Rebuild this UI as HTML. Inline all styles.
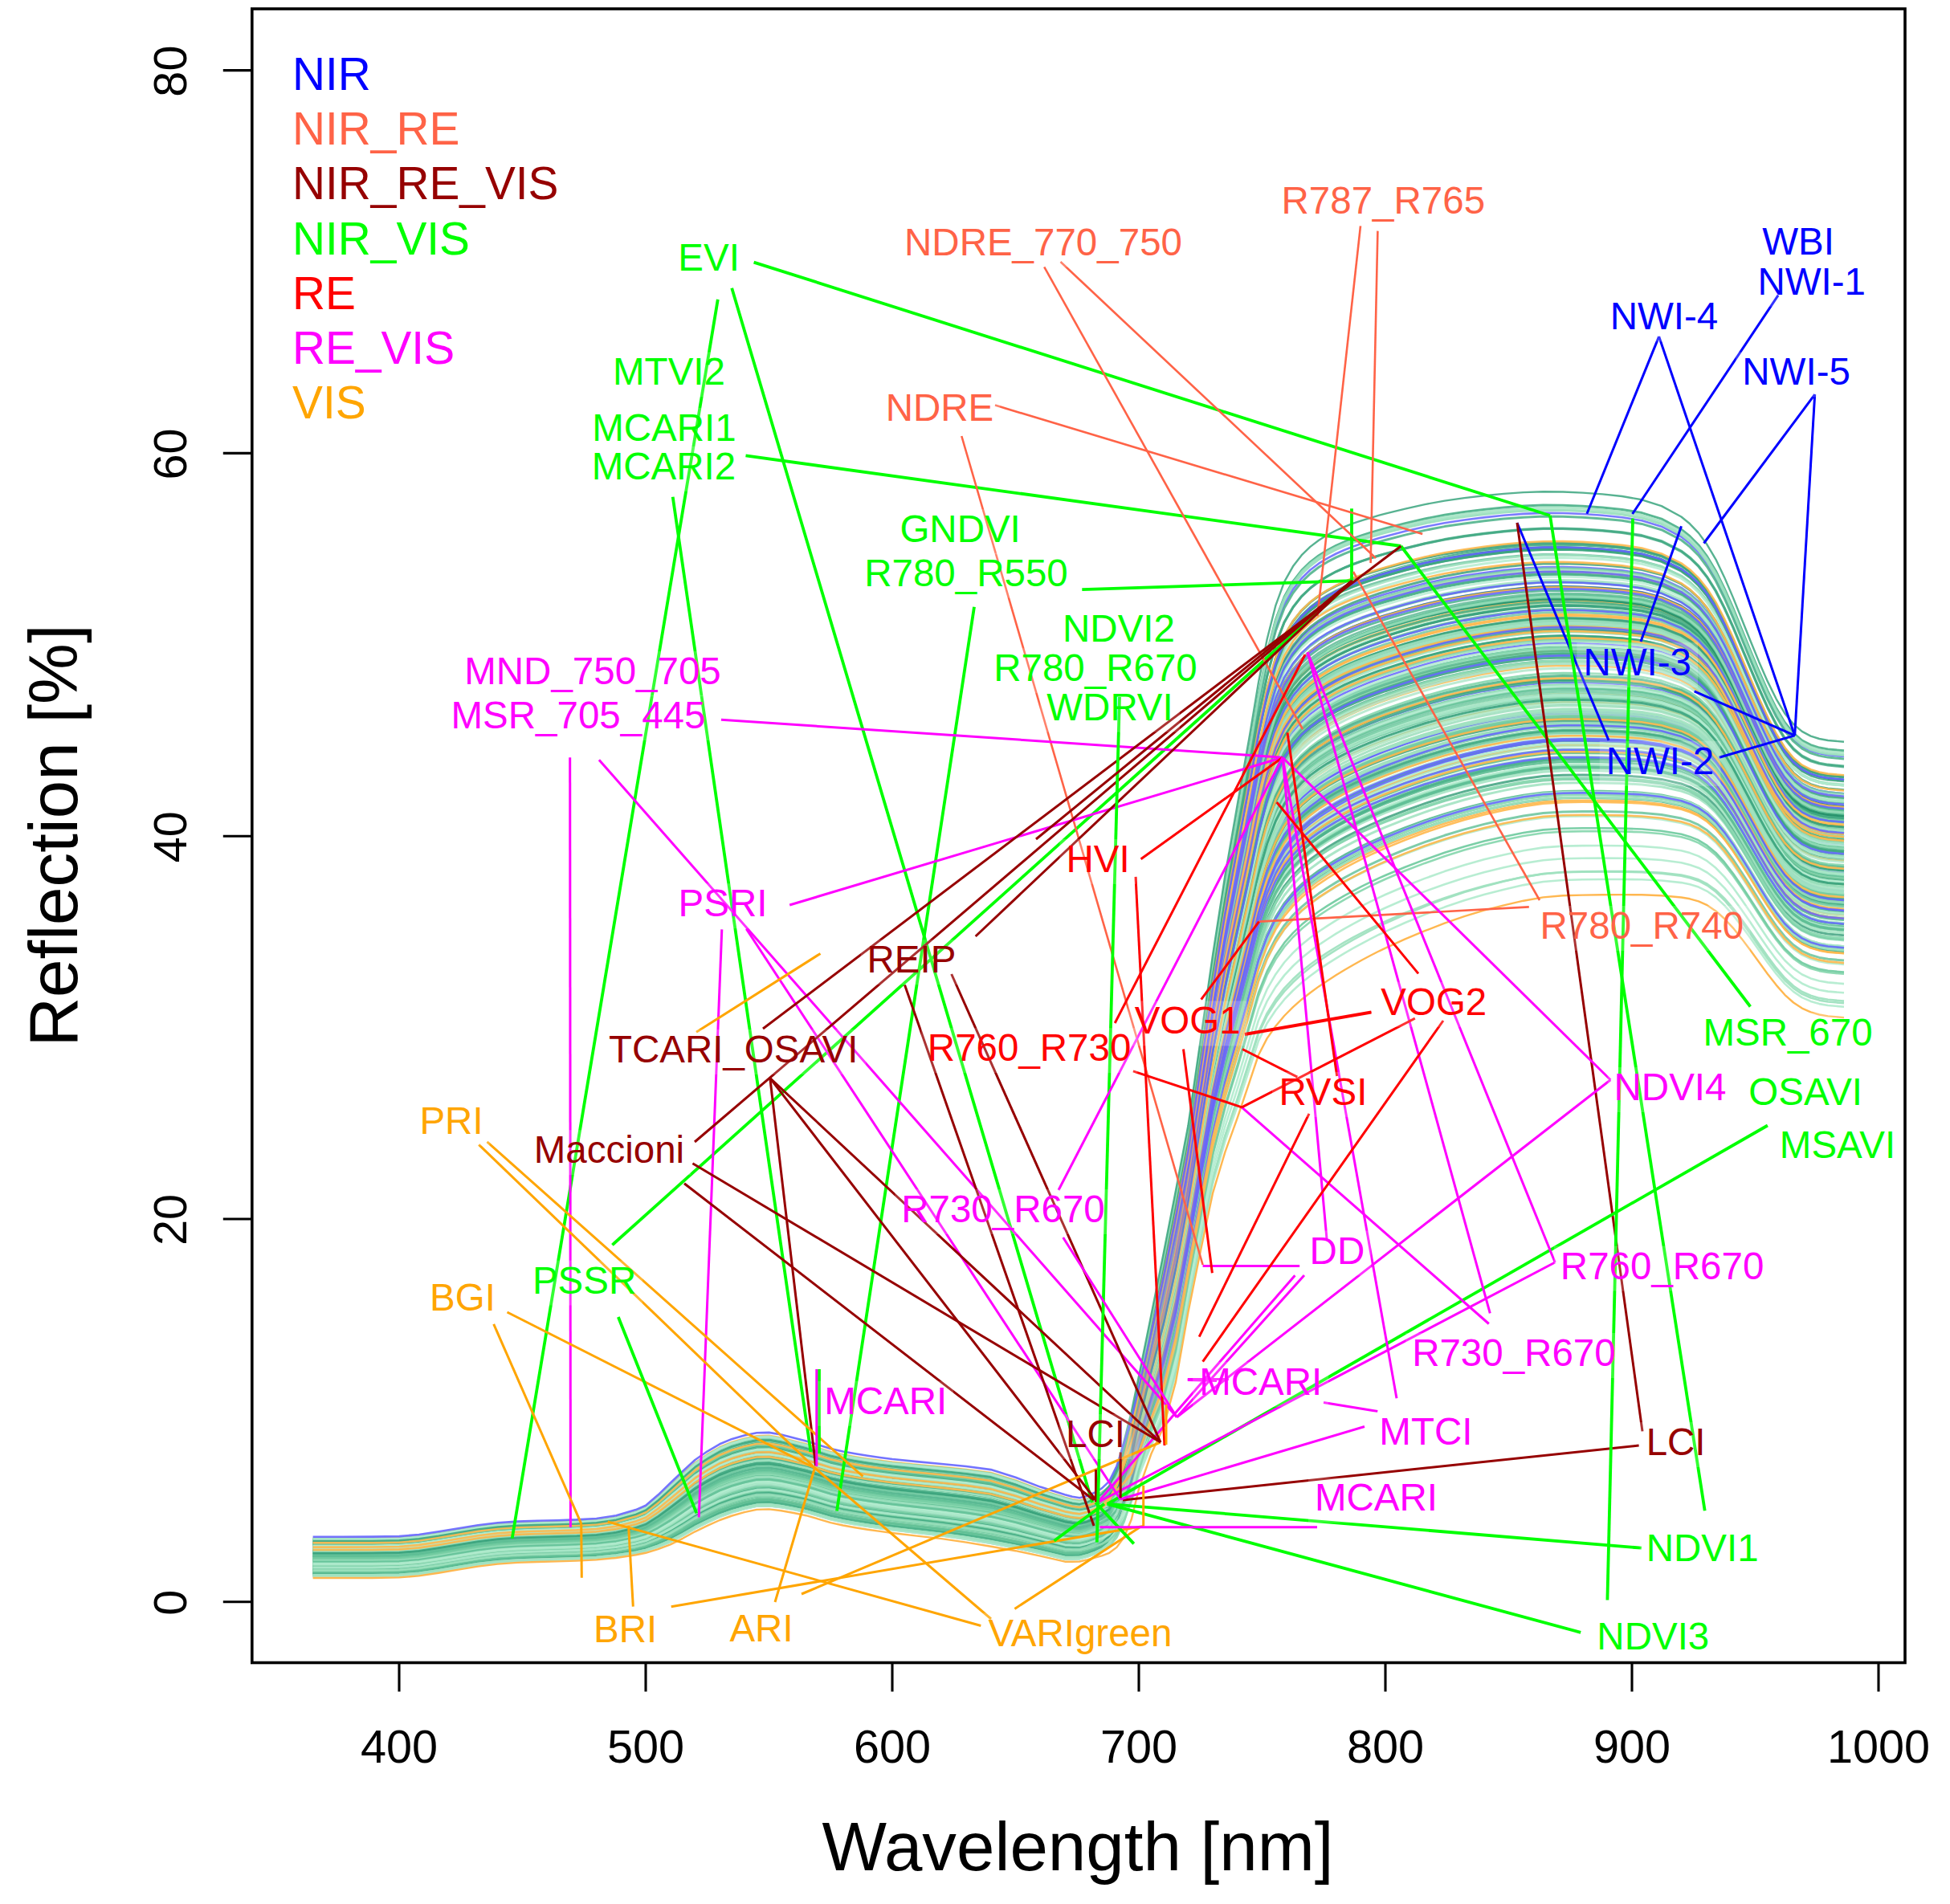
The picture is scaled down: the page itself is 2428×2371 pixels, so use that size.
<!DOCTYPE html>
<html><head><meta charset="utf-8"><title>Spectral indices</title>
<style>html,body{margin:0;padding:0;background:#fff}svg{display:block}</style></head>
<body>
<svg width="2428" height="2371" viewBox="0 0 2428 2371" font-family="&quot;Liberation Sans&quot;, sans-serif">
<rect width="2428" height="2371" fill="#fff"/>
<defs><linearGradient id="gb" gradientUnits="userSpaceOnUse" x1="1390" y1="0" x2="1500" y2="0"><stop offset="0" stop-color="#6464ff" stop-opacity="0"/><stop offset="1" stop-color="#6464ff" stop-opacity="1"/></linearGradient><linearGradient id="go" gradientUnits="userSpaceOnUse" x1="1390" y1="0" x2="1500" y2="0"><stop offset="0" stop-color="#ffb84d" stop-opacity="0"/><stop offset="1" stop-color="#ffb84d" stop-opacity="1"/></linearGradient></defs><g fill="none" stroke-linejoin="round"><path d="M389.6,1959.5l36.8,0 36.8,0 33.8,-0.6 24.6,-2 24.5,-3.7 24.6,-4.1 24.5,-4 24.6,-2.9 24.6,-1.7 24.5,-0.8 24.6,-0.7 24.5,-0.8 24.6,-1.2 24.6,-2.5 24.5,-4.1 12.3,-2.8 15.4,-5.6 15.3,-6.8 15.3,-8.2 15.4,-9.1 15.4,-7.7 15.3,-7.1 15.3,-5.6 15.4,-4.3 15.4,-3.3 15.3,-0.4 15.3,1.8 15.4,3 15.4,3.2 15.3,4.4 15.3,4.5 15.4,3.4 15.3,2.8 15.4,2.4 15.3,2.2 15.4,2.1 30.7,3.5 30.7,3.5 30.7,4.2 30.7,5 30.7,5.9 30.7,7 30.7,7.3 9.2,0.3 9.2,-0.1 9.2,-2.4 9.2,-3.4 9.2,-4.3 9.3,-7.7 9.2,-15.9 9.2,-28.3 9.2,-38 9.2,-48.3 15.4,-66.5 15.3,-58.2 15.3,-68.5 15.4,-83.2 15.4,-92.2 15.3,-90.2 15.3,-76.4 15.4,-67.2 15.3,-67.3 10.8,-49.6 10.7,-38.6 10.8,-29.9 10.7,-21.4 10.8,-15.4 10.7,-11.9 10.8,-9.5 10.7,-7.9 10.8,-6.9 10.7,-6.1 10.7,-5.5 10.8,-5.1 10.7,-4.7 10.8,-4.4 10.7,-4.1 7.7,-2.9 24.6,-8.3 24.5,-7.6 24.6,-6.8 24.5,-5.7 24.6,-5 24.6,-4.2 24.5,-3.5 24.6,-2.4 24.5,-0.9 24.6,0.3 24.6,0.8 24.5,1.3 24.6,2.5 24.5,4.6 24.6,8.2 10.7,5.6 10.8,7.4 10.7,10.2 10.8,13.1 10.7,16.3 10.8,18.9 10.7,20.5 10.8,21 10.7,20.8 10.7,19.9 10.8,18.2 10.7,15.3 10.8,11.6 10.7,8.1 10.8,5.3 10.7,3.2 10.8,1.9 19.9,1.8" stroke="#6464ff" stroke-opacity="0.85" stroke-width="2.6"/>
<path d="M389.6,1937.5l36.8,0 36.8,0 33.8,-0.5 24.6,-2.1 24.5,-3.7 24.6,-4.2 24.5,-4 24.6,-3 24.6,-1.7 24.5,-0.8 24.6,-0.7 24.5,-0.8 24.6,-1.3 24.6,-3.1 24.5,-5.6 12.3,-4 15.4,-9.2 15.3,-10.6 15.3,-11.4 15.4,-11.6 15.4,-9.2 15.3,-8.1 15.3,-6 15.4,-4.4 15.4,-3.3 15.3,-0.4 15.3,2.2 15.4,3.4 15.4,3.7 15.3,4.6 15.3,4.7 15.4,3.5 15.3,2.8 15.4,2.5 15.3,2.3 15.4,2 30.7,3.3 30.7,3.3 30.7,3.7 30.7,4.6 30.7,7.8 30.7,9.3 30.7,8.5 9.2,1.4 9.2,0.8 9.2,-2.2 9.2,-3.2 9.2,-3.7 9.3,-5.5 9.2,-11.4 9.2,-17.6 9.2,-22.6 9.2,-36.1 15.4,-52.1 15.3,-47.3 15.3,-64.1 15.4,-85.3 15.4,-87.4 15.3,-84.7 15.3,-67.8 15.4,-58.9 15.3,-60 10.8,-43.8 10.7,-32.4 10.8,-24.8 10.7,-18.5 10.8,-13.9 10.7,-11.1 10.8,-9.3 10.7,-7.9 10.8,-7.2 10.7,-6.5 10.7,-5.9 10.8,-5.6 10.7,-5.2 10.8,-5 10.7,-4.7 7.7,-3.2 24.6,-9.5 24.5,-8.7 24.6,-7.8 24.5,-6.9 24.6,-6 24.6,-5.1 24.5,-4.3 24.6,-3.1 24.5,-1.4 24.6,-0.1 24.6,0.4 24.5,0.8 24.6,1.6 24.5,3.3 24.6,6.1 10.7,4.3 10.8,5.8 10.7,8.3 10.8,11.1 10.7,14 10.8,16.4 10.7,18 10.8,18.8 10.7,18.8 10.7,18.3 10.8,16.8 10.7,14.3 10.8,11.1 10.7,7.8 10.8,5.1 10.7,3.3 10.8,1.9 19.9,1.8" stroke="#ffb84d" stroke-opacity="0.90" stroke-width="2.6"/>
<path d="M389.6,1949l36.8,0 36.8,-0.1 33.8,-0.5 24.6,-2.1 24.5,-3.6 24.6,-4.1 24.5,-4 24.6,-2.9 24.6,-1.7 24.5,-0.9 24.6,-0.6 24.5,-0.8 24.6,-1.3 24.6,-2.7 24.5,-4.8 12.3,-3.4 15.4,-7.3 15.3,-8.6 15.3,-9.8 15.4,-10.2 15.4,-8.4 15.3,-7.5 15.3,-5.7 15.4,-4.4 15.4,-3.3 15.3,-0.4 15.3,2.1 15.4,3.1 15.4,3.4 15.3,4.5 15.3,4.6 15.4,3.4 15.3,2.7 15.4,2.5 15.3,2.2 15.4,2 30.7,3.4 30.7,3.4 30.7,4 30.7,4.7 30.7,6.8 30.7,8.1 30.7,7.8 9.2,0.9 9.2,0.3 9.2,-2.2 9.2,-3 9.2,-3.4 9.3,-5.2 9.2,-10.5 9.2,-17.5 9.2,-24.3 9.2,-37.8 15.4,-51.1 15.3,-44.2 15.3,-61.8 15.4,-84.5 15.4,-84 15.3,-80.9 15.3,-63.5 15.4,-54.7 15.3,-56.2 10.8,-40.8 10.7,-29.6 10.8,-22.5 10.7,-17 10.8,-13.1 10.7,-10.6 10.8,-9 10.7,-7.8 10.8,-7.1 10.7,-6.5 10.7,-6 10.8,-5.6 10.7,-5.3 10.8,-5.1 10.7,-4.8 7.7,-3.2 24.6,-9.8 24.5,-8.9 24.6,-8.1 24.5,-7.1 24.6,-6.2 24.6,-5.3 24.5,-4.6 24.6,-3.3 24.5,-1.5 24.6,-0.3 24.6,0.3 24.5,0.6 24.6,1.3 24.5,2.8 24.6,5.1 10.7,3.7 10.8,5.3 10.7,7.4 10.8,10.1 10.7,12.9 10.8,15.2 10.7,16.8 10.8,17.6 10.7,17.7 10.7,17.3 10.8,16 10.7,13.7 10.8,10.6 10.7,7.6 10.8,5 10.7,3.1 10.8,2 19.9,1.7" stroke="#6464ff" stroke-opacity="0.85" stroke-width="2.6"/>
<path d="M389.6,1926.9l36.8,0 36.8,0 33.8,-0.5 24.6,-2.1 24.5,-3.7 24.6,-4.1 24.5,-4 24.6,-3 24.6,-1.6 24.5,-0.9 24.6,-0.6 24.5,-0.8 24.6,-1.3 24.6,-3.4 24.5,-6.3 12.3,-4.6 15.4,-10.9 15.3,-12.5 15.3,-12.8 15.4,-12.7 15.4,-9.9 15.3,-8.4 15.3,-6.2 15.4,-4.4 15.4,-3.3 15.3,-0.4 15.3,2.5 15.4,3.6 15.4,3.7 15.3,4.8 15.3,4.7 15.4,3.5 15.3,2.8 15.4,2.5 15.3,2.2 15.4,2 30.7,3.2 30.7,3 30.7,3.4 30.7,4.4 30.7,8.5 30.7,10.5 30.7,9 9.2,1.9 9.2,1.1 9.2,-2.3 9.2,-3.7 9.2,-4.6 9.3,-7.4 9.2,-15.5 9.2,-24 9.2,-27.3 9.2,-38.4 15.4,-61.5 15.3,-59.3 15.3,-69.9 15.4,-82.9 15.4,-95.3 15.3,-93.5 15.3,-80.7 15.4,-71.5 15.3,-71 10.8,-52.6 10.7,-41.6 10.8,-32.3 10.7,-23 10.8,-16.1 10.7,-12.3 10.8,-9.8 10.7,-8 10.8,-6.8 10.7,-6.1 10.7,-5.4 10.8,-4.9 10.7,-4.5 10.8,-4.3 10.7,-3.9 7.7,-2.7 24.6,-8 24.5,-7.3 24.6,-6.4 24.5,-5.4 24.6,-4.5 24.6,-4 24.5,-3.2 24.6,-2.1 24.5,-0.7 24.6,0.4 24.6,1 24.5,1.6 24.6,2.8 24.5,5.2 24.6,9.2 10.7,6.2 10.8,8.1 10.7,11 10.8,14.2 10.7,17.5 10.8,20.1 10.7,21.7 10.8,22.1 10.7,21.9 10.7,20.9 10.8,18.9 10.7,15.9 10.8,12 10.7,8.3 10.8,5.4 10.7,3.2 10.8,2 19.9,1.8" stroke="#6464ff" stroke-opacity="0.85" stroke-width="2.6"/>
<path d="M389.6,1920.2l36.8,0 36.8,0 33.8,-0.5 24.6,-2.1 24.5,-3.7 24.6,-4.1 24.5,-4 24.6,-2.9 24.6,-1.6 24.5,-0.9 24.6,-0.6 24.5,-0.8 24.6,-1.3 24.6,-3.5 24.5,-6.7 12.3,-5.1 15.4,-12 15.3,-13.6 15.3,-13.7 15.4,-13.5 15.4,-10.2 15.3,-8.7 15.3,-6.3 15.4,-4.4 15.4,-3.2 15.3,-0.4 15.3,2.5 15.4,3.8 15.4,3.8 15.3,4.8 15.3,4.7 15.4,3.5 15.3,2.8 15.4,2.5 15.3,2.2 15.4,1.9 30.7,3.2 30.7,2.9 30.7,3.2 30.7,4.2 30.7,9.1 30.7,11.1 30.7,9.3 9.2,2.4 9.2,1.4 9.2,-2 9.2,-3.2 9.2,-3.3 9.3,-4.1 9.2,-8.4 9.2,-10.5 9.2,-11.3 9.2,-26.4 15.4,-41.9 15.3,-40.5 15.3,-60.3 15.4,-84.5 15.4,-83.3 15.3,-80.2 15.3,-62.4 15.4,-53.7 15.3,-55.3 10.8,-40 10.7,-28.9 10.8,-21.8 10.7,-16.7 10.8,-12.8 10.7,-10.6 10.8,-9 10.7,-7.8 10.8,-7.1 10.7,-6.5 10.7,-6.1 10.8,-5.7 10.7,-5.3 10.8,-5.1 10.7,-4.9 7.7,-3.3 24.6,-9.9 24.5,-9.1 24.6,-8.2 24.5,-7.2 24.6,-6.3 24.6,-5.5 24.5,-4.6 24.6,-3.4 24.5,-1.6 24.6,-0.3 24.6,0.2 24.5,0.5 24.6,1.3 24.5,2.6 24.6,4.9 10.7,3.5 10.8,5 10.7,7.3 10.8,9.8 10.7,12.7 10.8,14.8 10.7,16.5 10.8,17.3 10.7,17.5 10.7,17 10.8,15.8 10.7,13.6 10.8,10.6 10.7,7.5 10.8,5 10.7,3.2 10.8,1.9 19.9,1.7" stroke="#ffb84d" stroke-opacity="0.90" stroke-width="2.6"/>
<path d="M389.6,1927.9l36.8,0 36.8,0 33.8,-0.5 24.6,-2.1 24.5,-3.7 24.6,-4.1 24.5,-4 24.6,-3 24.6,-1.6 24.5,-0.9 24.6,-0.6 24.5,-0.8 24.6,-1.4 24.6,-3.3 24.5,-6.2 12.3,-4.6 15.4,-10.7 15.3,-12.4 15.3,-12.6 15.4,-12.6 15.4,-9.8 15.3,-8.4 15.3,-6.2 15.4,-4.4 15.4,-3.3 15.3,-0.4 15.3,2.4 15.4,3.7 15.4,3.7 15.3,4.7 15.3,4.7 15.4,3.5 15.3,2.8 15.4,2.5 15.3,2.2 15.4,2 30.7,3.2 30.7,3.1 30.7,3.5 30.7,4.4 30.7,8.4 30.7,10.4 30.7,8.9 9.2,1.9 9.2,1.1 9.2,-2.2 9.2,-3.4 9.2,-4 9.3,-5.8 9.2,-12.4 9.2,-18.2 9.2,-21.4 9.2,-34.3 15.4,-53.1 15.3,-50.5 15.3,-65.5 15.4,-84.1 15.4,-89.6 15.3,-87.2 15.3,-71.8 15.4,-62.8 15.3,-63.4 10.8,-46.5 10.7,-35.3 10.8,-27.2 10.7,-19.8 10.8,-14.6 10.7,-11.5 10.8,-9.4 10.7,-7.9 10.8,-7 10.7,-6.3 10.7,-5.8 10.8,-5.3 10.7,-5 10.8,-4.7 10.7,-4.4 7.7,-3 24.6,-9 24.5,-8.2 24.6,-7.3 24.5,-6.4 24.6,-5.4 24.6,-4.7 24.5,-4 24.6,-2.8 24.5,-1.1 24.6,0.1 24.6,0.6 24.5,1 24.6,2 24.5,3.9 24.6,7.1 10.7,4.9 10.8,6.6 10.7,9.2 10.8,12 10.7,15.1 10.8,17.5 10.7,19.2 10.8,19.8 10.7,19.7 10.7,19.1 10.8,17.4 10.7,14.8 10.8,11.3 10.7,8 10.8,5.2 10.7,3.2 10.8,1.9 19.9,1.8" stroke="#6464ff" stroke-opacity="0.85" stroke-width="2.6"/>
<path d="M389.6,1919.3l36.8,0 36.8,0 33.8,-0.6 24.6,-2.1 24.5,-3.6 24.6,-4.2 24.5,-4 24.6,-3 24.6,-1.6 24.5,-0.9 24.6,-0.6 24.5,-0.8 24.6,-1.4 24.6,-3.5 24.5,-6.8 12.3,-5.2 15.4,-12.1 15.3,-13.8 15.3,-13.9 15.4,-13.5 15.4,-10.4 15.3,-8.8 15.3,-6.3 15.4,-4.6 15.4,-3.2 15.3,-0.4 15.3,2.6 15.4,3.8 15.4,3.9 15.3,4.8 15.3,4.8 15.4,3.5 15.3,2.8 15.4,2.5 15.3,2.3 15.4,1.9 30.7,3.2 30.7,3 30.7,3.2 30.7,4.3 30.7,9.1 30.7,11.3 30.7,9.4 9.2,2.3 9.2,1.4 9.2,-2.1 9.2,-3.5 9.2,-4.1 9.3,-5.9 9.2,-12.4 9.2,-17.5 9.2,-19 9.2,-32 15.4,-52.4 15.3,-51.3 15.3,-66.3 15.4,-84.2 15.4,-90.9 15.3,-88.6 15.3,-73.5 15.4,-64.5 15.3,-64.9 10.8,-47.6 10.7,-36.5 10.8,-28.1 10.7,-20.5 10.8,-14.9 10.7,-11.6 10.8,-9.5 10.7,-8 10.8,-7 10.7,-6.3 10.7,-5.8 10.8,-5.3 10.7,-4.9 10.8,-4.6 10.7,-4.4 7.7,-3 24.6,-8.9 24.5,-8 24.6,-7.2 24.5,-6.3 24.6,-5.3 24.6,-4.6 24.5,-3.9 24.6,-2.6 24.5,-1.1 24.6,0.1 24.6,0.7 24.5,1.1 24.6,2.1 24.5,4.2 24.6,7.4 10.7,5.1 10.8,7 10.7,9.4 10.8,12.5 10.7,15.5 10.8,18 10.7,19.7 10.8,20.3 10.7,20.1 10.7,19.5 10.8,17.7 10.7,15 10.8,11.5 10.7,8.1 10.8,5.2 10.7,3.3 10.8,1.9 19.9,1.8" stroke="#ffb84d" stroke-opacity="0.90" stroke-width="2.6"/>
<path d="M389.6,1921.3l36.8,0 36.8,0 33.8,-0.6 24.6,-2.1 24.5,-3.6 24.6,-4.2 24.5,-3.9 24.6,-3 24.6,-1.6 24.5,-0.9 24.6,-0.6 24.5,-0.8 24.6,-1.3 24.6,-3.5 24.5,-6.7 12.3,-5 15.4,-11.8 15.3,-13.5 15.3,-13.5 15.4,-13.3 15.4,-10.2 15.3,-8.7 15.3,-6.2 15.4,-4.5 15.4,-3.2 15.3,-0.4 15.3,2.5 15.4,3.8 15.4,3.8 15.3,4.8 15.3,4.7 15.4,3.5 15.3,2.8 15.4,2.5 15.3,2.2 15.4,1.9 30.7,3.2 30.7,3 30.7,3.2 30.7,4.2 30.7,9 30.7,11.1 30.7,9.2 9.2,2.3 9.2,1.3 9.2,-2.1 9.2,-3.4 9.2,-4 9.3,-5.6 9.2,-11.7 9.2,-16.4 9.2,-18.1 9.2,-31.3 15.4,-50.6 15.3,-49.2 15.3,-64.9 15.4,-83.7 15.4,-88.9 15.3,-86.6 15.3,-71.1 15.4,-62.2 15.3,-62.8 10.8,-46 10.7,-35 10.8,-26.8 10.7,-19.7 10.8,-14.4 10.7,-11.4 10.8,-9.3 10.7,-8 10.8,-6.9 10.7,-6.3 10.7,-5.8 10.8,-5.3 10.7,-5 10.8,-4.7 10.7,-4.4 7.7,-3 24.6,-9 24.5,-8.2 24.6,-7.3 24.5,-6.4 24.6,-5.4 24.6,-4.7 24.5,-4 24.6,-2.8 24.5,-1.1 24.6,0 24.6,0.6 24.5,1 24.6,2 24.5,3.8 24.6,7 10.7,4.8 10.8,6.5 10.7,9.1 10.8,11.9 10.7,14.9 10.8,17.4 10.7,18.9 10.8,19.7 10.7,19.5 10.7,18.9 10.8,17.3 10.7,14.7 10.8,11.2 10.7,8 10.8,5.1 10.7,3.2 10.8,1.9 19.9,1.8" stroke="#6464ff" stroke-opacity="0.85" stroke-width="2.6"/>
<path d="M389.6,1954.8l36.8,0 36.8,0 33.8,-0.5 24.6,-2.1 24.5,-3.7 24.6,-4.1 24.5,-4 24.6,-3 24.6,-1.6 24.5,-0.9 24.6,-0.7 24.5,-0.8 24.6,-1.2 24.6,-2.6 24.5,-4.4 12.3,-3.1 15.4,-6.4 15.3,-7.6 15.3,-8.9 15.4,-9.6 15.4,-8.1 15.3,-7.3 15.3,-5.7 15.4,-4.4 15.4,-3.2 15.3,-0.5 15.3,2 15.4,3 15.4,3.3 15.3,4.5 15.3,4.6 15.4,3.4 15.3,2.8 15.4,2.4 15.3,2.3 15.4,2 30.7,3.5 30.7,3.4 30.7,4.2 30.7,4.9 30.7,6.4 30.7,7.4 30.7,7.6 9.2,0.5 9.2,0.1 9.2,-2.3 9.2,-3.1 9.2,-3.8 9.3,-6.2 9.2,-12.8 9.2,-22.2 9.2,-30.5 9.2,-42.9 15.4,-57.8 15.3,-50.1 15.3,-64.8 15.4,-84.5 15.4,-87.7 15.3,-84.9 15.3,-68.8 15.4,-59.9 15.3,-60.7 10.8,-44.4 10.7,-33.2 10.8,-25.5 10.7,-18.8 10.8,-14 10.7,-11.2 10.8,-9.2 10.7,-7.9 10.8,-7.1 10.7,-6.4 10.7,-5.8 10.8,-5.5 10.7,-5.1 10.8,-4.8 10.7,-4.6 7.7,-3.1 24.6,-9.3 24.5,-8.5 24.6,-7.6 24.5,-6.6 24.6,-5.8 24.6,-4.9 24.5,-4.2 24.6,-3 24.5,-1.2 24.6,-0.1 24.6,0.4 24.5,0.9 24.6,1.8 24.5,3.5 24.6,6.3 10.7,4.5 10.8,6.1 10.7,8.5 10.8,11.3 10.7,14.3 10.8,16.7 10.7,18.3 10.8,19 10.7,19 10.7,18.4 10.8,16.9 10.7,14.4 10.8,11.1 10.7,7.8 10.8,5.1 10.7,3.2 10.8,2 19.9,1.7" stroke="#ffb84d" stroke-opacity="0.90" stroke-width="2.6"/>
<path d="M389.6,1931.6l36.8,0 36.8,0 33.8,-0.6 24.6,-2.1 24.5,-3.7 24.6,-4.2 24.5,-4 24.6,-3 24.6,-1.6 24.5,-0.9 24.6,-0.6 24.5,-0.8 24.6,-1.4 24.6,-3.2 24.5,-6 12.3,-4.4 15.4,-10.1 15.3,-11.7 15.3,-12.2 15.4,-12.2 15.4,-9.6 15.3,-8.3 15.3,-6.1 15.4,-4.5 15.4,-3.3 15.3,-0.4 15.3,2.4 15.4,3.5 15.4,3.7 15.3,4.8 15.3,4.7 15.4,3.5 15.3,2.8 15.4,2.5 15.3,2.2 15.4,2 30.7,3.3 30.7,3.2 30.7,3.6 30.7,4.4 30.7,8.2 30.7,10 30.7,8.8 9.2,1.7 9.2,0.9 9.2,-2.1 9.2,-3.5 9.2,-4 9.3,-6.1 9.2,-12.7 9.2,-19.4 9.2,-23.3 9.2,-36.1 15.4,-54.8 15.3,-51.4 15.3,-66.1 15.4,-84.7 15.4,-90.3 15.3,-87.8 15.3,-72.5 15.4,-63.3 15.3,-63.9 10.8,-46.9 10.7,-35.7 10.8,-27.5 10.7,-20 10.8,-14.7 10.7,-11.6 10.8,-9.4 10.7,-8 10.8,-7.1 10.7,-6.3 10.7,-5.8 10.8,-5.4 10.7,-5 10.8,-4.7 10.7,-4.4 7.7,-3 24.6,-9.1 24.5,-8.2 24.6,-7.3 24.5,-6.4 24.6,-5.5 24.6,-4.7 24.5,-4 24.6,-2.7 24.5,-1.2 24.6,0.1 24.6,0.6 24.5,1.1 24.6,2 24.5,4 24.6,7.1 10.7,5 10.8,6.7 10.7,9.2 10.8,12.2 10.7,15.2 10.8,17.7 10.7,19.3 10.8,20 10.7,19.9 10.7,19.2 10.8,17.6 10.7,14.9 10.8,11.4 10.7,8 10.8,5.2 10.7,3.3 10.8,1.9 19.9,1.8" stroke="#6464ff" stroke-opacity="0.85" stroke-width="2.6"/>
<path d="M389.6,1936.3l36.8,0 36.8,0 33.8,-0.6 24.6,-2.1 24.5,-3.6 24.6,-4.2 24.5,-4 24.6,-2.9 24.6,-1.7 24.5,-0.8 24.6,-0.7 24.5,-0.7 24.6,-1.4 24.6,-3.1 24.5,-5.6 12.3,-4.1 15.4,-9.4 15.3,-10.9 15.3,-11.5 15.4,-11.6 15.4,-9.3 15.3,-8.1 15.3,-5.9 15.4,-4.5 15.4,-3.2 15.3,-0.4 15.3,2.3 15.4,3.4 15.4,3.6 15.3,4.6 15.3,4.7 15.4,3.4 15.3,2.8 15.4,2.5 15.3,2.2 15.4,2 30.7,3.4 30.7,3.1 30.7,3.7 30.7,4.5 30.7,7.8 30.7,9.5 30.7,8.5 9.2,1.4 9.2,0.8 9.2,-2.3 9.2,-3.6 9.2,-4.4 9.3,-7.3 9.2,-15.2 9.2,-24.5 9.2,-29.6 9.2,-40.7 15.4,-61.8 15.3,-57.9 15.3,-69 15.4,-83.2 15.4,-93.7 15.3,-91.8 15.3,-78.4 15.4,-69.1 15.3,-69 10.8,-51 10.7,-40 10.8,-30.9 10.7,-22.1 10.8,-15.8 10.7,-12 10.8,-9.7 10.7,-8 10.8,-6.8 10.7,-6.2 10.7,-5.5 10.8,-5 10.7,-4.6 10.8,-4.4 10.7,-4 7.7,-2.8 24.6,-8.3 24.5,-7.5 24.6,-6.6 24.5,-5.6 24.6,-4.8 24.6,-4.1 24.5,-3.4 24.6,-2.3 24.5,-0.8 24.6,0.3 24.6,0.9 24.5,1.4 24.6,2.6 24.5,4.9 24.6,8.6 10.7,5.9 10.8,7.8 10.7,10.5 10.8,13.6 10.7,16.8 10.8,19.4 10.7,21 10.8,21.6 10.7,21.3 10.7,20.4 10.8,18.5 10.7,15.6 10.8,11.8 10.7,8.3 10.8,5.2 10.7,3.3 10.8,1.9 19.9,1.8" stroke="#6464ff" stroke-opacity="0.85" stroke-width="2.6"/>
<path d="M389.6,1952l36.8,0 36.8,0 33.8,-0.6 24.6,-2.1 24.5,-3.7 24.6,-4.1 24.5,-4 24.6,-3 24.6,-1.7 24.5,-0.9 24.6,-0.6 24.5,-0.8 24.6,-1.3 24.6,-2.7 24.5,-4.6 12.3,-3.2 15.4,-6.8 15.3,-8.2 15.3,-9.3 15.4,-10 15.4,-8.2 15.3,-7.5 15.3,-5.7 15.4,-4.5 15.4,-3.2 15.3,-0.5 15.3,2 15.4,3.1 15.4,3.4 15.3,4.6 15.3,4.6 15.4,3.4 15.3,2.8 15.4,2.5 15.3,2.2 15.4,2.1 30.7,3.5 30.7,3.4 30.7,4.1 30.7,4.9 30.7,6.6 30.7,7.8 30.7,7.7 9.2,0.6 9.2,0.2 9.2,-2.4 9.2,-3.5 9.2,-4.5 9.3,-7.7 9.2,-16.1 9.2,-27.7 9.2,-36.2 9.2,-46.8 15.4,-66.2 15.3,-59.3 15.3,-69.7 15.4,-83.9 15.4,-94 15.3,-92 15.3,-78.3 15.4,-69.1 15.3,-69 10.8,-50.9 10.7,-39.8 10.8,-30.8 10.7,-22.1 10.8,-15.7 10.7,-12.1 10.8,-9.7 10.7,-8.1 10.8,-6.9 10.7,-6.2 10.7,-5.5 10.8,-5.1 10.7,-4.7 10.8,-4.4 10.7,-4.1 7.7,-2.8 24.6,-8.4 24.5,-7.6 24.6,-6.7 24.5,-5.7 24.6,-4.9 24.6,-4.2 24.5,-3.5 24.6,-2.3 24.5,-0.9 24.6,0.3 24.6,0.9 24.5,1.4 24.6,2.6 24.5,4.8 24.6,8.6 10.7,5.8 10.8,7.7 10.7,10.4 10.8,13.6 10.7,16.8 10.8,19.4 10.7,21 10.8,21.5 10.7,21.3 10.7,20.4 10.8,18.6 10.7,15.6 10.8,11.8 10.7,8.3 10.8,5.3 10.7,3.3 10.8,2 19.9,1.7" stroke="#ffb84d" stroke-opacity="0.90" stroke-width="2.6"/>
<path d="M389.6,1941.4l36.8,0 36.8,-0.1 33.8,-0.5 24.6,-2.1 24.5,-3.7 24.6,-4.1 24.5,-4 24.6,-3 24.6,-1.6 24.5,-0.9 24.6,-0.6 24.5,-0.8 24.6,-1.3 24.6,-3 24.5,-5.3 12.3,-3.8 15.4,-8.6 15.3,-9.9 15.3,-10.8 15.4,-11.1 15.4,-9 15.3,-7.8 15.3,-5.9 15.4,-4.5 15.4,-3.2 15.3,-0.4 15.3,2.2 15.4,3.3 15.4,3.5 15.3,4.6 15.3,4.6 15.4,3.5 15.3,2.8 15.4,2.5 15.3,2.2 15.4,2 30.7,3.4 30.7,3.2 30.7,3.8 30.7,4.7 30.7,7.4 30.7,8.9 30.7,8.2 9.2,1.2 9.2,0.6 9.2,-2.3 9.2,-3.3 9.2,-4.2 9.3,-6.6 9.2,-13.9 9.2,-22.5 9.2,-28.4 9.2,-40.3 15.4,-58.9 15.3,-53.7 15.3,-66.9 15.4,-83.9 15.4,-90.8 15.3,-88.5 15.3,-73.8 15.4,-64.7 15.3,-65.1 10.8,-47.8 10.7,-36.7 10.8,-28.3 10.7,-20.6 10.8,-14.9 10.7,-11.6 10.8,-9.5 10.7,-8 10.8,-6.9 10.7,-6.3 10.7,-5.6 10.8,-5.3 10.7,-4.8 10.8,-4.6 10.7,-4.3 7.7,-3 24.6,-8.8 24.5,-7.9 24.6,-7.1 24.5,-6.1 24.6,-5.3 24.6,-4.5 24.5,-3.8 24.6,-2.6 24.5,-1 24.6,0.1 24.6,0.7 24.5,1.2 24.6,2.1 24.5,4.2 24.6,7.6 10.7,5.2 10.8,6.9 10.7,9.6 10.8,12.5 10.7,15.6 10.8,18.1 10.7,19.7 10.8,20.4 10.7,20.2 10.7,19.4 10.8,17.7 10.7,15.1 10.8,11.4 10.7,8.1 10.8,5.2 10.7,3.2 10.8,2 19.9,1.7" stroke="#ffb84d" stroke-opacity="0.90" stroke-width="2.6"/>
<path d="M389.6,1941.6l36.8,0 36.8,0 33.8,-0.5 24.6,-2.1 24.5,-3.7 24.6,-4.1 24.5,-4.1 24.6,-2.9 24.6,-1.7 24.5,-0.8 24.6,-0.7 24.5,-0.8 24.6,-1.3 24.6,-2.9 24.5,-5.3 12.3,-3.9 15.4,-8.5 15.3,-9.9 15.3,-10.7 15.4,-11.1 15.4,-8.9 15.3,-7.9 15.3,-5.9 15.4,-4.4 15.4,-3.3 15.3,-0.4 15.3,2.2 15.4,3.3 15.4,3.5 15.3,4.6 15.3,4.7 15.4,3.4 15.3,2.8 15.4,2.5 15.3,2.2 15.4,2 30.7,3.4 30.7,3.3 30.7,3.8 30.7,4.6 30.7,7.4 30.7,8.9 30.7,8.3 9.2,1.2 9.2,0.5 9.2,-2.2 9.2,-3.3 9.2,-4 9.3,-6.4 9.2,-13.1 9.2,-21.4 9.2,-27.2 9.2,-39.4 15.4,-57.2 15.3,-51.9 15.3,-66 15.4,-84.2 15.4,-89.6 15.3,-87.3 15.3,-71.9 15.4,-62.9 15.3,-63.4 10.8,-46.5 10.7,-35.5 10.8,-27.2 10.7,-19.9 10.8,-14.5 10.7,-11.5 10.8,-9.4 10.7,-7.9 10.8,-7 10.7,-6.4 10.7,-5.7 10.8,-5.3 10.7,-5 10.8,-4.7 10.7,-4.4 7.7,-3 24.6,-9 24.5,-8.2 24.6,-7.3 24.5,-6.4 24.6,-5.4 24.6,-4.7 24.5,-4 24.6,-2.7 24.5,-1.1 24.6,0 24.6,0.6 24.5,1.1 24.6,2 24.5,3.9 24.6,7.1 10.7,4.9 10.8,6.6 10.7,9.2 10.8,12.1 10.7,15.1 10.8,17.6 10.7,19.1 10.8,19.9 10.7,19.7 10.7,19.1 10.8,17.4 10.7,14.8 10.8,11.3 10.7,8 10.8,5.2 10.7,3.2 10.8,2 19.9,1.7" stroke="#ffb84d" stroke-opacity="0.90" stroke-width="2.6"/>
<path d="M389.6,1940l36.8,0 36.8,0 33.8,-0.6 24.6,-2.1 24.5,-3.6 24.6,-4.1 24.5,-4 24.6,-3 24.6,-1.6 24.5,-0.9 24.6,-0.6 24.5,-0.8 24.6,-1.3 24.6,-3 24.5,-5.4 12.3,-3.9 15.4,-8.8 15.3,-10.2 15.3,-11 15.4,-11.3 15.4,-9 15.3,-7.9 15.3,-5.9 15.4,-4.4 15.4,-3.2 15.3,-0.5 15.3,2.3 15.4,3.3 15.4,3.5 15.3,4.7 15.3,4.6 15.4,3.4 15.3,2.8 15.4,2.5 15.3,2.2 15.4,2 30.7,3.3 30.7,3.3 30.7,3.7 30.7,4.6 30.7,7.5 30.7,9.1 30.7,8.3 9.2,1.2 9.2,0.5 9.2,-2.6 9.2,-4 9.2,-5.8 9.3,-10.3 9.2,-22.1 9.2,-37 9.2,-43.9 9.2,-51 15.4,-80 15.3,-75.9 15.3,-78.1 15.4,-81 15.4,-105 15.3,-104.4 15.3,-96.3 15.4,-86.3 15.3,-84.2 10.8,-63.2 10.7,-52.4 10.8,-41.1 10.7,-28.3 10.8,-18.9 10.7,-13.7 10.8,-10.4 10.7,-8.1 10.8,-6.6 10.7,-5.6 10.7,-4.8 10.8,-4.2 10.7,-3.8 10.8,-3.4 10.7,-3.2 7.7,-2.1 24.6,-6.4 24.5,-5.6 24.6,-4.8 24.5,-3.7 24.6,-3.1 24.6,-2.6 24.5,-1.9 24.6,-1 24.5,0.1 24.6,1 24.6,1.7 24.5,2.5 24.6,4.1 24.5,7.4 24.6,12.8 10.7,8.5 10.8,10.9 10.7,14.1 10.8,17.8 10.7,21.6 10.8,24.5 10.7,26.1 10.8,26.2 10.7,25.6 10.7,24 10.8,21.5 10.7,17.8 10.8,13.2 10.7,9 10.8,5.6 10.7,3.3 10.8,2 19.9,1.8" stroke="#6464ff" stroke-opacity="0.85" stroke-width="2.6"/>
<path d="M389.6,1933.6l36.8,0 36.8,0 33.8,-0.5 24.6,-2.1 24.5,-3.7 24.6,-4.1 24.5,-4 24.6,-2.9 24.6,-1.6 24.5,-0.9 24.6,-0.6 24.5,-0.8 24.6,-1.3 24.6,-3.2 24.5,-5.8 12.3,-4.3 15.4,-9.8 15.3,-11.3 15.3,-11.9 15.4,-11.9 15.4,-9.4 15.3,-8.2 15.3,-6 15.4,-4.4 15.4,-3.2 15.3,-0.4 15.3,2.3 15.4,3.5 15.4,3.6 15.3,4.7 15.3,4.6 15.4,3.4 15.3,2.8 15.4,2.5 15.3,2.2 15.4,2 30.7,3.3 30.7,3.1 30.7,3.6 30.7,4.4 30.7,8 30.7,9.8 30.7,8.5 9.2,1.6 9.2,0.8 9.2,-2.4 9.2,-4 9.2,-5.3 9.3,-9.1 9.2,-19.3 9.2,-31.6 9.2,-36.7 9.2,-45.4 15.4,-72.1 15.3,-69.2 15.3,-74.6 15.4,-81.4 15.4,-100.9 15.3,-99.9 15.3,-89.9 15.4,-80.3 15.3,-78.9 10.8,-58.9 10.7,-48 10.8,-37.6 10.7,-26.1 10.8,-17.8 10.7,-13.1 10.8,-10.1 10.7,-8.1 10.8,-6.7 10.7,-5.7 10.7,-5 10.8,-4.5 10.7,-4.1 10.8,-3.7 10.7,-3.4 7.7,-2.4 24.6,-6.9 24.5,-6.3 24.6,-5.4 24.5,-4.3 24.6,-3.7 24.6,-3.1 24.5,-2.4 24.6,-1.4 24.5,-0.2 24.6,0.7 24.6,1.5 24.5,2.1 24.6,3.6 24.5,6.5 24.6,11.4 10.7,7.6 10.8,9.8 10.7,12.9 10.8,16.3 10.7,19.9 10.8,22.7 10.7,24.3 10.8,24.6 10.7,24.1 10.7,22.7 10.8,20.4 10.7,17 10.8,12.7 10.7,8.8 10.8,5.4 10.7,3.3 10.8,2 19.9,1.8" stroke="#6464ff" stroke-opacity="0.85" stroke-width="2.6"/>
<path d="M389.6,1924.9l36.8,0 36.8,0 33.8,-0.5 24.6,-2.1 24.5,-3.7 24.6,-4.1 24.5,-4 24.6,-3 24.6,-1.6 24.5,-0.9 24.6,-0.6 24.5,-0.8 24.6,-1.3 24.6,-3.4 24.5,-6.4 12.3,-4.8 15.4,-11.2 15.3,-12.9 15.3,-13 15.4,-13 15.4,-10 15.3,-8.5 15.3,-6.2 15.4,-4.4 15.4,-3.3 15.3,-0.3 15.3,2.4 15.4,3.7 15.4,3.8 15.3,4.7 15.3,4.7 15.4,3.5 15.3,2.8 15.4,2.5 15.3,2.2 15.4,2 30.7,3.2 30.7,3 30.7,3.4 30.7,4.3 30.7,8.7 30.7,10.7 30.7,9 9.2,2.1 9.2,1.1 9.2,-2.2 9.2,-3.7 9.2,-4.5 9.3,-7.2 9.2,-15 9.2,-22.9 9.2,-25.8 9.2,-37.1 15.4,-59.9 15.3,-58.1 15.3,-69.4 15.4,-83 15.4,-94.6 15.3,-92.8 15.3,-79.7 15.4,-70.5 15.3,-70.2 10.8,-51.9 10.7,-40.9 10.8,-31.7 10.7,-22.6 10.8,-16 10.7,-12.2 10.8,-9.7 10.7,-8 10.8,-6.9 10.7,-6.1 10.7,-5.4 10.8,-4.9 10.7,-4.6 10.8,-4.3 10.7,-4 7.7,-2.7 24.6,-8.2 24.5,-7.3 24.6,-6.5 24.5,-5.5 24.6,-4.7 24.6,-4 24.5,-3.3 24.6,-2.2 24.5,-0.7 24.6,0.4 24.6,0.9 24.5,1.5 24.6,2.7 24.5,5.1 24.6,9 10.7,6 10.8,8 10.7,10.8 10.8,13.9 10.7,17.2 10.8,19.8 10.7,21.4 10.8,21.9 10.7,21.7 10.7,20.6 10.8,18.8 10.7,15.7 10.8,12 10.7,8.3 10.8,5.3 10.7,3.3 10.8,1.9 19.9,1.8" stroke="#6464ff" stroke-opacity="0.85" stroke-width="2.6"/>
<path d="M389.6,1926.8l36.8,0 36.8,0 33.8,-0.5 24.6,-2.1 24.5,-3.6 24.6,-4.1 24.5,-4 24.6,-2.9 24.6,-1.6 24.5,-0.8 24.6,-0.7 24.5,-0.7 24.6,-1.4 24.6,-3.3 24.5,-6.3 12.3,-4.7 15.4,-10.9 15.3,-12.4 15.3,-12.8 15.4,-12.7 15.4,-9.8 15.3,-8.4 15.3,-6.1 15.4,-4.4 15.4,-3.2 15.3,-0.4 15.3,2.5 15.4,3.6 15.4,3.7 15.3,4.7 15.3,4.6 15.4,3.5 15.3,2.8 15.4,2.4 15.3,2.2 15.4,2 30.7,3.1 30.7,3 30.7,3.4 30.7,4.3 30.7,8.5 30.7,10.5 30.7,8.8 9.2,2 9.2,1 9.2,-2.3 9.2,-3.8 9.2,-5 9.3,-8.3 9.2,-17.5 9.2,-27.5 9.2,-30.9 9.2,-40.7 15.4,-66.2 15.3,-64.6 15.3,-72.1 15.4,-81.3 15.4,-98 15.3,-96.8 15.3,-85.8 15.4,-76.5 15.3,-75.3 10.8,-56.1 10.7,-45.3 10.8,-35.3 10.7,-24.8 10.8,-17.1 10.7,-12.7 10.8,-9.9 10.7,-7.9 10.8,-6.7 10.7,-5.9 10.7,-5.1 10.8,-4.6 10.7,-4.2 10.8,-3.9 10.7,-3.6 7.7,-2.4 24.6,-7.3 24.5,-6.6 24.6,-5.7 24.5,-4.7 24.6,-3.9 24.6,-3.4 24.5,-2.7 24.6,-1.7 24.5,-0.4 24.6,0.7 24.6,1.2 24.5,1.9 24.6,3.3 24.5,6 24.6,10.5 10.7,7 10.8,9.1 10.7,12.1 10.8,15.4 10.7,18.9 10.8,21.6 10.7,23.1 10.8,23.5 10.7,23.1 10.7,21.9 10.8,19.7 10.7,16.4 10.8,12.4 10.7,8.5 10.8,5.3 10.7,3.3 10.8,2 19.9,1.7" stroke="#ffb84d" stroke-opacity="0.90" stroke-width="2.6"/>
<path d="M389.6,1961.9l36.8,0 36.8,0 33.8,-0.6 24.6,-2 24.5,-3.7 24.6,-4.1 24.5,-3.9 24.6,-3 24.6,-1.6 24.5,-0.9 24.6,-0.6 24.5,-0.8 24.6,-1.3 24.6,-2.3 24.5,-3.9 12.3,-2.7 15.4,-5.2 15.3,-6.4 15.3,-7.9 15.4,-8.8 15.4,-7.6 15.3,-6.9 15.3,-5.5 15.4,-4.3 15.4,-3.3 15.3,-0.5 15.3,1.9 15.4,2.8 15.4,3.2 15.3,4.4 15.3,4.5 15.4,3.4 15.3,2.7 15.4,2.4 15.3,2.2 15.4,2.1 30.7,3.5 30.7,3.5 30.7,4.3 30.7,5 30.7,5.8 30.7,6.6 30.7,7.3 9.2,0.1 9.2,-0.2 9.2,-2.4 9.2,-3.2 9.2,-4.1 9.3,-7.1 9.2,-14.8 9.2,-26.5 9.2,-36.5 9.2,-47.3 15.4,-63.8 15.3,-54.9 15.3,-66.7 15.4,-83.3 15.4,-89.8 15.3,-87.5 15.3,-72.9 15.4,-63.8 15.3,-64.2 10.8,-47.2 10.7,-36.1 10.8,-27.9 10.7,-20.3 10.8,-14.7 10.7,-11.5 10.8,-9.4 10.7,-7.8 10.8,-6.9 10.7,-6.2 10.7,-5.7 10.8,-5.2 10.7,-4.8 10.8,-4.5 10.7,-4.3 7.7,-3 24.6,-8.7 24.5,-7.9 24.6,-7 24.5,-6.1 24.6,-5.3 24.6,-4.5 24.5,-3.8 24.6,-2.6 24.5,-1 24.6,0.1 24.6,0.7 24.5,1.1 24.6,2.2 24.5,4.1 24.6,7.4 10.7,5.1 10.8,6.9 10.7,9.4 10.8,12.3 10.7,15.4 10.8,17.8 10.7,19.5 10.8,20 10.7,20 10.7,19.2 10.8,17.5 10.7,14.9 10.8,11.3 10.7,8 10.8,5.1 10.7,3.2 10.8,2 19.9,1.7" stroke="#6464ff" stroke-opacity="0.85" stroke-width="2.6"/>
<path d="M389.6,1915.8l36.8,0 36.8,0 33.8,-0.6 24.6,-2 24.5,-3.7 24.6,-4.1 24.5,-4 24.6,-3 24.6,-1.6 24.5,-0.8 24.6,-0.7 24.5,-0.8 24.6,-1.3 24.6,-3.7 24.5,-7 12.3,-5.3 15.4,-12.7 15.3,-14.4 15.3,-14.3 15.4,-14 15.4,-10.6 15.3,-8.9 15.3,-6.3 15.4,-4.5 15.4,-3.2 15.3,-0.4 15.3,2.7 15.4,3.8 15.4,3.9 15.3,4.9 15.3,4.7 15.4,3.5 15.3,2.8 15.4,2.5 15.3,2.2 15.4,2 30.7,3.1 30.7,2.9 30.7,3.1 30.7,4.1 30.7,9.4 30.7,11.7 30.7,9.5 9.2,2.5 9.2,1.5 9.2,-2.1 9.2,-3.7 9.2,-4.5 9.3,-6.5 9.2,-14 9.2,-19.9 9.2,-20.8 9.2,-32.8 15.4,-55.9 15.3,-55.6 15.3,-68.3 15.4,-83 15.4,-93.5 15.3,-91.6 15.3,-78.3 15.4,-68.9 15.3,-68.9 10.8,-50.8 10.7,-39.8 10.8,-30.9 10.7,-22.1 10.8,-15.7 10.7,-12 10.8,-9.6 10.7,-8 10.8,-6.9 10.7,-6.1 10.7,-5.5 10.8,-5 10.7,-4.7 10.8,-4.3 10.7,-4.1 7.7,-2.8 24.6,-8.3 24.5,-7.5 24.6,-6.6 24.5,-5.6 24.6,-4.8 24.6,-4.2 24.5,-3.4 24.6,-2.3 24.5,-0.8 24.6,0.3 24.6,0.9 24.5,1.5 24.6,2.5 24.5,4.9 24.6,8.6 10.7,5.8 10.8,7.8 10.7,10.4 10.8,13.6 10.7,16.8 10.8,19.3 10.7,21 10.8,21.5 10.7,21.3 10.7,20.3 10.8,18.5 10.7,15.5 10.8,11.9 10.7,8.2 10.8,5.3 10.7,3.2 10.8,2 19.9,1.7" stroke="#ffb84d" stroke-opacity="0.90" stroke-width="2.6"/>
<path d="M389.6,1943.2l36.8,0 36.8,0 33.8,-0.5 24.6,-2.1 24.5,-3.7 24.6,-4.1 24.5,-4 24.6,-3 24.6,-1.6 24.5,-0.9 24.6,-0.6 24.5,-0.8 24.6,-1.3 24.6,-2.9 24.5,-5.2 12.3,-3.8 15.4,-8.2 15.3,-9.6 15.3,-10.6 15.4,-10.9 15.4,-8.8 15.3,-7.8 15.3,-5.8 15.4,-4.5 15.4,-3.2 15.3,-0.4 15.3,2.1 15.4,3.3 15.4,3.5 15.3,4.6 15.3,4.6 15.4,3.5 15.3,2.7 15.4,2.5 15.3,2.2 15.4,2.1 30.7,3.3 30.7,3.3 30.7,3.9 30.7,4.6 30.7,7.3 30.7,8.7 30.7,8.1 9.2,1.1 9.2,0.4 9.2,-2.4 9.2,-3.8 9.2,-5.1 9.3,-9 9.2,-19 9.2,-32 9.2,-39.1 9.2,-47.9 15.4,-72.6 15.3,-67.6 15.3,-73.8 15.4,-82.2 15.4,-99.6 15.3,-98.3 15.3,-87.5 15.4,-78 15.3,-76.8 10.8,-57.2 10.7,-46.3 10.8,-36.1 10.7,-25.3 10.8,-17.4 10.7,-12.9 10.8,-10 10.7,-8.1 10.8,-6.8 10.7,-5.8 10.7,-5.2 10.8,-4.6 10.7,-4.2 10.8,-3.9 10.7,-3.6 7.7,-2.5 24.6,-7.2 24.5,-6.6 24.6,-5.7 24.5,-4.6 24.6,-4 24.6,-3.3 24.5,-2.7 24.6,-1.6 24.5,-0.4 24.6,0.7 24.6,1.3 24.5,2 24.6,3.3 24.5,6.2 24.6,10.8 10.7,7.2 10.8,9.3 10.7,12.4 10.8,15.7 10.7,19.3 10.8,22 10.7,23.6 10.8,24 10.7,23.5 10.7,22.2 10.8,20.1 10.7,16.7 10.8,12.5 10.7,8.7 10.8,5.4 10.7,3.3 10.8,2 19.9,1.8" stroke="#6464ff" stroke-opacity="0.85" stroke-width="2.6"/>
<path d="M389.6,1935.4l36.8,0 36.8,0 33.8,-0.6 24.6,-2.1 24.5,-3.7 24.6,-4.2 24.5,-4 24.6,-3 24.6,-1.6 24.5,-0.9 24.6,-0.7 24.5,-0.7 24.6,-1.4 24.6,-3.1 24.5,-5.7 12.3,-4.2 15.4,-9.5 15.3,-11.1 15.3,-11.6 15.4,-11.8 15.4,-9.4 15.3,-8.2 15.3,-6 15.4,-4.5 15.4,-3.3 15.3,-0.4 15.3,2.3 15.4,3.5 15.4,3.7 15.3,4.7 15.3,4.6 15.4,3.5 15.3,2.9 15.4,2.5 15.3,2.2 15.4,2 30.7,3.4 30.7,3.2 30.7,3.7 30.7,4.5 30.7,7.9 30.7,9.6 30.7,8.6 9.2,1.5 9.2,0.7 9.2,-2.3 9.2,-3.6 9.2,-4.5 9.3,-7.4 9.2,-15.5 9.2,-24.9 9.2,-30 9.2,-41.2 15.4,-62.7 15.3,-58.8 15.3,-69.9 15.4,-83.9 15.4,-95 15.3,-92.9 15.3,-79.6 15.4,-70.2 15.3,-70 10.8,-51.7 10.7,-40.6 10.8,-31.5 10.7,-22.5 10.8,-15.9 10.7,-12.3 10.8,-9.7 10.7,-8.1 10.8,-6.9 10.7,-6.2 10.7,-5.5 10.8,-5.1 10.7,-4.7 10.8,-4.3 10.7,-4.1 7.7,-2.8 24.6,-8.3 24.5,-7.5 24.6,-6.7 24.5,-5.6 24.6,-4.8 24.6,-4.2 24.5,-3.4 24.6,-2.2 24.5,-0.8 24.6,0.3 24.6,0.9 24.5,1.5 24.6,2.6 24.5,5 24.6,8.8 10.7,6 10.8,7.9 10.7,10.7 10.8,13.8 10.7,17.1 10.8,19.7 10.7,21.4 10.8,21.8 10.7,21.6 10.7,20.7 10.8,18.8 10.7,15.7 10.8,12 10.7,8.4 10.8,5.3 10.7,3.3 10.8,2 19.9,1.7" stroke="#ffb84d" stroke-opacity="0.90" stroke-width="2.6"/>
<path d="M389.6,1952.9l36.8,0 36.8,0 33.8,-0.6 24.6,-2 24.5,-3.6 24.6,-4.1 24.5,-4 24.6,-2.9 24.6,-1.6 24.5,-0.9 24.6,-0.6 24.5,-0.8 24.6,-1.3 24.6,-2.6 24.5,-4.5 12.3,-3.2 15.4,-6.7 15.3,-7.9 15.3,-9.2 15.4,-9.7 15.4,-8.1 15.3,-7.4 15.3,-5.6 15.4,-4.3 15.4,-3.2 15.3,-0.5 15.3,2 15.4,3.1 15.4,3.3 15.3,4.4 15.3,4.5 15.4,3.4 15.3,2.7 15.4,2.5 15.3,2.2 15.4,2 30.7,3.4 30.7,3.4 30.7,4 30.7,4.8 30.7,6.4 30.7,7.7 30.7,7.6 9.2,0.5 9.2,0.1 9.2,-2.5 9.2,-3.8 9.2,-5.3 9.3,-9.7 9.2,-20.6 9.2,-35.7 9.2,-44.8 9.2,-52.3 15.4,-77.4 15.3,-70.9 15.3,-74.8 15.4,-80.8 15.4,-100.4 15.3,-99.4 15.3,-89.7 15.4,-80.2 15.3,-78.7 10.8,-58.8 10.7,-48 10.8,-37.5 10.7,-26.1 10.8,-17.8 10.7,-13 10.8,-10.1 10.7,-8 10.8,-6.6 10.7,-5.7 10.7,-4.9 10.8,-4.4 10.7,-4 10.8,-3.7 10.7,-3.4 7.7,-2.3 24.6,-6.8 24.5,-6.1 24.6,-5.3 24.5,-4.2 24.6,-3.6 24.6,-3 24.5,-2.3 24.6,-1.4 24.5,-0.2 24.6,0.8 24.6,1.5 24.5,2.1 24.6,3.6 24.5,6.6 24.6,11.4 10.7,7.6 10.8,9.8 10.7,12.9 10.8,16.3 10.7,20 10.8,22.6 10.7,24.3 10.8,24.5 10.7,24 10.7,22.6 10.8,20.4 10.7,16.9 10.8,12.6 10.7,8.7 10.8,5.4 10.7,3.3 10.8,2 19.9,1.7" stroke="#ffb84d" stroke-opacity="0.90" stroke-width="2.6"/>
<path d="M389.6,1924.7l36.8,0 36.8,0 33.8,-0.6 24.6,-2.1 24.5,-3.6 24.6,-4.1 24.5,-4 24.6,-3 24.6,-1.6 24.5,-0.8 24.6,-0.7 24.5,-0.7 24.6,-1.4 24.6,-3.4 24.5,-6.4 12.3,-4.8 15.4,-11.3 15.3,-12.9 15.3,-13 15.4,-13 15.4,-9.9 15.3,-8.6 15.3,-6.1 15.4,-4.5 15.4,-3.2 15.3,-0.4 15.3,2.5 15.4,3.7 15.4,3.7 15.3,4.8 15.3,4.6 15.4,3.5 15.3,2.8 15.4,2.5 15.3,2.2 15.4,2 30.7,3.2 30.7,3 30.7,3.3 30.7,4.3 30.7,8.7 30.7,10.7 30.7,9 9.2,2.1 9.2,1.1 9.2,-2.2 9.2,-3.7 9.2,-4.6 9.3,-7.3 9.2,-15.3 9.2,-23.3 9.2,-26.1 9.2,-37.2 15.4,-60.5 15.3,-58.8 15.3,-69.5 15.4,-82.5 15.4,-94.8 15.3,-93.1 15.3,-80.4 15.4,-71.2 15.3,-70.7 10.8,-52.3 10.7,-41.4 10.8,-32.2 10.7,-22.8 10.8,-16.1 10.7,-12.3 10.8,-9.7 10.7,-7.9 10.8,-6.9 10.7,-6 10.7,-5.4 10.8,-4.9 10.7,-4.5 10.8,-4.2 10.7,-3.9 7.7,-2.7 24.6,-8 24.5,-7.2 24.6,-6.3 24.5,-5.4 24.6,-4.6 24.6,-3.9 24.5,-3.2 24.6,-2.1 24.5,-0.7 24.6,0.4 24.6,1 24.5,1.6 24.6,2.8 24.5,5.2 24.6,9.1 10.7,6.2 10.8,8.1 10.7,11 10.8,14.1 10.7,17.4 10.8,20 10.7,21.6 10.8,22 10.7,21.8 10.7,20.8 10.8,18.8 10.7,15.8 10.8,12 10.7,8.3 10.8,5.3 10.7,3.3 10.8,1.9 19.9,1.8" stroke="#6464ff" stroke-opacity="0.85" stroke-width="2.6"/>
<path d="M389.6,1938.3l36.8,0 36.8,-0.1 33.8,-0.5 24.6,-2.1 24.5,-3.7 24.6,-4.1 24.5,-4 24.6,-3 24.6,-1.7 24.5,-0.8 24.6,-0.7 24.5,-0.8 24.6,-1.3 24.6,-3 24.5,-5.5 12.3,-4.1 15.4,-9 15.3,-10.5 15.3,-11.3 15.4,-11.4 15.4,-9.2 15.3,-8 15.3,-6 15.4,-4.4 15.4,-3.3 15.3,-0.4 15.3,2.3 15.4,3.4 15.4,3.5 15.3,4.7 15.3,4.6 15.4,3.5 15.3,2.8 15.4,2.5 15.3,2.2 15.4,2.1 30.7,3.3 30.7,3.2 30.7,3.8 30.7,4.6 30.7,7.6 30.7,9.3 30.7,8.4 9.2,1.4 9.2,0.6 9.2,-2.2 9.2,-3.5 9.2,-4.2 9.3,-6.6 9.2,-14 9.2,-22.4 9.2,-27.8 9.2,-39.6 15.4,-58.9 15.3,-54.3 15.3,-67.3 15.4,-84 15.4,-91.6 15.3,-89.3 15.3,-74.7 15.4,-65.5 15.3,-65.8 10.8,-48.4 10.7,-37.4 10.8,-28.7 10.7,-20.9 10.8,-15 10.7,-11.8 10.8,-9.5 10.7,-8 10.8,-7 10.7,-6.2 10.7,-5.7 10.8,-5.2 10.7,-4.9 10.8,-4.5 10.7,-4.3 7.7,-2.9 24.6,-8.8 24.5,-7.9 24.6,-7 24.5,-6.1 24.6,-5.2 24.6,-4.5 24.5,-3.8 24.6,-2.5 24.5,-1 24.6,0.1 24.6,0.7 24.5,1.3 24.6,2.2 24.5,4.3 24.6,7.7 10.7,5.3 10.8,7.1 10.7,9.8 10.8,12.7 10.7,15.8 10.8,18.4 10.7,19.9 10.8,20.6 10.7,20.4 10.7,19.7 10.8,17.9 10.7,15.1 10.8,11.6 10.7,8.1 10.8,5.2 10.7,3.3 10.8,1.9 19.9,1.8" stroke="#ffb84d" stroke-opacity="0.90" stroke-width="2.6"/>
<path d="M389.6,1950.8l36.8,0 36.8,0 33.8,-0.5 24.6,-2.1 24.5,-3.6 24.6,-4 24.5,-4 24.6,-2.9 24.6,-1.6 24.5,-0.9 24.6,-0.6 24.5,-0.8 24.6,-1.3 24.6,-2.6 24.5,-4.7 12.3,-3.3 15.4,-7 15.3,-8.3 15.3,-9.4 15.4,-10 15.4,-8.2 15.3,-7.4 15.3,-5.7 15.4,-4.3 15.4,-3.2 15.3,-0.5 15.3,2.1 15.4,3 15.4,3.4 15.3,4.5 15.3,4.5 15.4,3.3 15.3,2.8 15.4,2.4 15.3,2.2 15.4,2 30.7,3.4 30.7,3.3 30.7,4 30.7,4.7 30.7,6.6 30.7,7.9 30.7,7.7 9.2,0.7 9.2,0.1 9.2,-2.4 9.2,-3.6 9.2,-4.8 9.3,-8.5 9.2,-18 9.2,-30.9 9.2,-39.1 9.2,-48.2 15.4,-70.4 15.3,-64.1 15.3,-71.4 15.4,-81.4 15.4,-96.1 15.3,-94.5 15.3,-83.1 15.4,-73.7 15.3,-73 10.8,-54.2 10.7,-43.4 10.8,-33.7 10.7,-23.9 10.8,-16.5 10.7,-12.4 10.8,-9.8 10.7,-7.9 10.8,-6.7 10.7,-5.9 10.7,-5.2 10.8,-4.6 10.7,-4.3 10.8,-4 10.7,-3.7 7.7,-2.6 24.6,-7.5 24.5,-6.8 24.6,-5.9 24.5,-4.9 24.6,-4.2 24.6,-3.5 24.5,-2.9 24.6,-1.8 24.5,-0.6 24.6,0.6 24.6,1.1 24.5,1.8 24.6,3 24.5,5.6 24.6,9.9 10.7,6.6 10.8,8.7 10.7,11.5 10.8,14.8 10.7,18.2 10.8,20.7 10.7,22.4 10.8,22.8 10.7,22.3 10.7,21.3 10.8,19.2 10.7,16.1 10.8,12.1 10.7,8.4 10.8,5.3 10.7,3.2 10.8,2 19.9,1.7" stroke="#6464ff" stroke-opacity="0.85" stroke-width="2.6"/>
<path d="M389.6,1926.1l36.8,0 36.8,0 33.8,-0.6 24.6,-2.1 24.5,-3.6 24.6,-4.1 24.5,-4 24.6,-2.9 24.6,-1.6 24.5,-0.9 24.6,-0.6 24.5,-0.8 24.6,-1.3 24.6,-3.4 24.5,-6.3 12.3,-4.7 15.4,-11.1 15.3,-12.6 15.3,-12.9 15.4,-12.7 15.4,-9.9 15.3,-8.5 15.3,-6.1 15.4,-4.4 15.4,-3.2 15.3,-0.4 15.3,2.4 15.4,3.6 15.4,3.8 15.3,4.7 15.3,4.7 15.4,3.4 15.3,2.8 15.4,2.5 15.3,2.2 15.4,2 30.7,3.1 30.7,3.1 30.7,3.3 30.7,4.3 30.7,8.6 30.7,10.5 30.7,9 9.2,2 9.2,1.2 9.2,-2.1 9.2,-3.4 9.2,-3.8 9.3,-5.5 9.2,-11.5 9.2,-16.6 9.2,-19 9.2,-32.3 15.4,-50.5 15.3,-48.3 15.3,-64.1 15.4,-83.5 15.4,-87.8 15.3,-85.4 15.3,-69.6 15.4,-60.8 15.3,-61.5 10.8,-45 10.7,-34 10.8,-26 10.7,-19.2 10.8,-14.2 10.7,-11.2 10.8,-9.2 10.7,-7.9 10.8,-6.9 10.7,-6.4 10.7,-5.7 10.8,-5.4 10.7,-5 10.8,-4.7 10.7,-4.5 7.7,-3 24.6,-9.1 24.5,-8.3 24.6,-7.4 24.5,-6.5 24.6,-5.5 24.6,-4.8 24.5,-4.1 24.6,-2.8 24.5,-1.2 24.6,0 24.6,0.5 24.5,0.9 24.6,1.9 24.5,3.7 24.6,6.6 10.7,4.6 10.8,6.3 10.7,8.8 10.8,11.5 10.7,14.6 10.8,17 10.7,18.5 10.8,19.2 10.7,19.2 10.7,18.6 10.8,17 10.7,14.5 10.8,11.1 10.7,7.8 10.8,5.1 10.7,3.2 10.8,1.9 19.9,1.8" stroke="#6464ff" stroke-opacity="0.85" stroke-width="2.6"/>
<path d="M389.6,1936.8l36.8,0 36.8,0 33.8,-0.6 24.6,-2.1 24.5,-3.6 24.6,-4.2 24.5,-4 24.6,-2.9 24.6,-1.7 24.5,-0.8 24.6,-0.7 24.5,-0.8 24.6,-1.3 24.6,-3.1 24.5,-5.6 12.3,-4.1 15.4,-9.3 15.3,-10.8 15.3,-11.4 15.4,-11.6 15.4,-9.2 15.3,-8.1 15.3,-5.9 15.4,-4.5 15.4,-3.2 15.3,-0.4 15.3,2.2 15.4,3.5 15.4,3.6 15.3,4.6 15.3,4.6 15.4,3.5 15.3,2.8 15.4,2.5 15.3,2.2 15.4,2 30.7,3.3 30.7,3.2 30.7,3.7 30.7,4.5 30.7,7.8 30.7,9.4 30.7,8.5 9.2,1.4 9.2,0.6 9.2,-2.3 9.2,-3.8 9.2,-5 9.3,-8.5 9.2,-18 9.2,-29.5 9.2,-35.1 9.2,-44.6 15.4,-69.1 15.3,-65.3 15.3,-72.7 15.4,-82.4 15.4,-98.4 15.3,-97.1 15.3,-85.8 15.4,-76.3 15.3,-75.4 10.8,-56 10.7,-45.1 10.8,-35.2 10.7,-24.7 10.8,-17 10.7,-12.8 10.8,-10 10.7,-8 10.8,-6.8 10.7,-5.9 10.7,-5.2 10.8,-4.7 10.7,-4.3 10.8,-4 10.7,-3.7 7.7,-2.5 24.6,-7.4 24.5,-6.8 24.6,-5.8 24.5,-4.9 24.6,-4.1 24.6,-3.5 24.5,-2.7 24.6,-1.8 24.5,-0.4 24.6,0.5 24.6,1.3 24.5,1.9 24.6,3.2 24.5,5.9 24.6,10.4 10.7,6.9 10.8,9.1 10.7,12 10.8,15.3 10.7,18.9 10.8,21.5 10.7,23.1 10.8,23.5 10.7,23.1 10.7,21.9 10.8,19.7 10.7,16.6 10.8,12.4 10.7,8.5 10.8,5.4 10.7,3.3 10.8,2 19.9,1.8" stroke="#ffb84d" stroke-opacity="0.90" stroke-width="2.6"/>
<path d="M389.6,1958.6l36.8,0 36.8,0 33.8,-0.6 24.6,-2.1 24.5,-3.7 24.6,-4.1 24.5,-4 24.6,-3 24.6,-1.6 24.5,-0.9 24.6,-0.7 24.5,-0.8 24.6,-1.2 24.6,-2.5 24.5,-4.2 12.3,-2.8 15.4,-5.8 15.3,-7 15.3,-8.4 15.4,-9.2 15.4,-7.8 15.3,-7.2 15.3,-5.6 15.4,-4.4 15.4,-3.3 15.3,-0.5 15.3,2 15.4,2.9 15.4,3.3 15.3,4.5 15.3,4.5 15.4,3.4 15.3,2.8 15.4,2.4 15.3,2.3 15.4,2.1 30.7,3.5 30.7,3.5 30.7,4.3 30.7,5 30.7,6 30.7,7.1 30.7,7.4 9.2,0.3 9.2,0 9.2,-2.3 9.2,-3.1 9.2,-3.8 9.3,-6.4 9.2,-13 9.2,-23 9.2,-32.2 9.2,-44.3 15.4,-59 15.3,-50.4 15.3,-65 15.4,-84.8 15.4,-87.7 15.3,-85.1 15.3,-68.8 15.4,-59.9 15.3,-60.8 10.8,-44.4 10.7,-33.3 10.8,-25.4 10.7,-18.8 10.8,-14 10.7,-11.2 10.8,-9.3 10.7,-7.9 10.8,-7.1 10.7,-6.4 10.7,-5.9 10.8,-5.4 10.7,-5.2 10.8,-4.8 10.7,-4.6 7.7,-3.1 24.6,-9.4 24.5,-8.4 24.6,-7.7 24.5,-6.7 24.6,-5.7 24.6,-5 24.5,-4.2 24.6,-3 24.5,-1.3 24.6,0 24.6,0.4 24.5,0.9 24.6,1.7 24.5,3.5 24.6,6.4 10.7,4.4 10.8,6.1 10.7,8.5 10.8,11.4 10.7,14.3 10.8,16.6 10.7,18.3 10.8,19 10.7,19.1 10.7,18.4 10.8,16.9 10.7,14.4 10.8,11.1 10.7,7.9 10.8,5.1 10.7,3.2 10.8,2 19.9,1.7" stroke="#ffb84d" stroke-opacity="0.90" stroke-width="2.6"/>
<path d="M389.6,1945.9l36.8,0 36.8,0 33.8,-0.6 24.6,-2.1 24.5,-3.6 24.6,-4.2 24.5,-4 24.6,-3 24.6,-1.6 24.5,-0.9 24.6,-0.7 24.5,-0.7 24.6,-1.3 24.6,-2.9 24.5,-5 12.3,-3.6 15.4,-7.8 15.3,-9.2 15.3,-10.1 15.4,-10.7 15.4,-8.6 15.3,-7.7 15.3,-5.8 15.4,-4.4 15.4,-3.3 15.3,-0.4 15.3,2.1 15.4,3.2 15.4,3.5 15.3,4.6 15.3,4.6 15.4,3.4 15.3,2.8 15.4,2.5 15.3,2.2 15.4,2 30.7,3.5 30.7,3.3 30.7,3.9 30.7,4.8 30.7,7 30.7,8.5 30.7,8 9.2,0.9 9.2,0.3 9.2,-2.4 9.2,-3.6 9.2,-4.9 9.3,-8.5 9.2,-17.8 9.2,-30.2 9.2,-37.7 9.2,-47.1 15.4,-70 15.3,-64.3 15.3,-72.2 15.4,-82.9 15.4,-97.4 15.3,-95.9 15.3,-84 15.4,-74.5 15.3,-73.8 10.8,-54.8 10.7,-43.7 10.8,-34.1 10.7,-24 10.8,-16.8 10.7,-12.6 10.8,-9.9 10.7,-8 10.8,-6.9 10.7,-6 10.7,-5.3 10.8,-4.8 10.7,-4.4 10.8,-4 10.7,-3.9 7.7,-2.6 24.6,-7.7 24.5,-6.9 24.6,-6.1 24.5,-5.1 24.6,-4.3 24.6,-3.7 24.5,-3 24.6,-1.9 24.5,-0.5 24.6,0.5 24.6,1.1 24.5,1.8 24.6,3 24.5,5.7 24.6,9.9 10.7,6.7 10.8,8.7 10.7,11.6 10.8,14.9 10.7,18.3 10.8,21 10.7,22.6 10.8,23 10.7,22.7 10.7,21.5 10.8,19.5 10.7,16.3 10.8,12.3 10.7,8.5 10.8,5.3 10.7,3.4 10.8,1.9 19.9,1.8" stroke="#ffb84d" stroke-opacity="0.90" stroke-width="2.6"/>
<path d="M389.6,1946.1l36.8,0 36.8,0 33.8,-0.6 24.6,-2.1 24.5,-3.7 24.6,-4.1 24.5,-4.1 24.6,-3 24.6,-1.6 24.5,-0.9 24.6,-0.7 24.5,-0.7 24.6,-1.3 24.6,-2.9 24.5,-5 12.3,-3.6 15.4,-7.7 15.3,-9.2 15.3,-10.2 15.4,-10.6 15.4,-8.6 15.3,-7.8 15.3,-5.8 15.4,-4.4 15.4,-3.3 15.3,-0.5 15.3,2.2 15.4,3.2 15.4,3.5 15.3,4.6 15.3,4.6 15.4,3.5 15.3,2.8 15.4,2.4 15.3,2.3 15.4,2 30.7,3.5 30.7,3.3 30.7,4 30.7,4.7 30.7,7.1 30.7,8.4 30.7,8.1 9.2,0.9 9.2,0.3 9.2,-2.3 9.2,-3.6 9.2,-4.7 9.3,-8 9.2,-16.8 9.2,-28.3 9.2,-35.7 9.2,-46 15.4,-67.3 15.3,-61.4 15.3,-71 15.4,-83.7 15.4,-95.8 15.3,-94.1 15.3,-81.1 15.4,-71.8 15.3,-71.4 10.8,-52.9 10.7,-41.8 10.8,-32.3 10.7,-23.1 10.8,-16.3 10.7,-12.3 10.8,-9.8 10.7,-8.1 10.8,-6.9 10.7,-6.1 10.7,-5.5 10.8,-4.9 10.7,-4.6 10.8,-4.3 10.7,-4 7.7,-2.7 24.6,-8.1 24.5,-7.3 24.6,-6.4 24.5,-5.5 24.6,-4.6 24.6,-4 24.5,-3.2 24.6,-2.1 24.5,-0.7 24.6,0.3 24.6,1.1 24.5,1.5 24.6,2.8 24.5,5.2 24.6,9.3 10.7,6.2 10.8,8.2 10.7,11 10.8,14.2 10.7,17.6 10.8,20.2 10.7,21.8 10.8,22.3 10.7,21.9 10.7,21 10.8,19 10.7,16 10.8,12.1 10.7,8.4 10.8,5.4 10.7,3.3 10.8,2 19.9,1.7" stroke="#ffb84d" stroke-opacity="0.90" stroke-width="2.6"/>
<path d="M389.6,1934.8l36.8,0 36.8,0 33.8,-0.6 24.6,-2.1 24.5,-3.7 24.6,-4.1 24.5,-4 24.6,-3 24.6,-1.7 24.5,-0.8 24.6,-0.7 24.5,-0.8 24.6,-1.3 24.6,-3.1 24.5,-5.8 12.3,-4.2 15.4,-9.6 15.3,-11.2 15.3,-11.7 15.4,-11.8 15.4,-9.4 15.3,-8.2 15.3,-6 15.4,-4.5 15.4,-3.2 15.3,-0.4 15.3,2.3 15.4,3.4 15.4,3.7 15.3,4.7 15.3,4.6 15.4,3.5 15.3,2.8 15.4,2.5 15.3,2.2 15.4,2.1 30.7,3.3 30.7,3.2 30.7,3.6 30.7,4.6 30.7,7.9 30.7,9.6 30.7,8.6 9.2,1.6 9.2,0.8 9.2,-2.2 9.2,-3.3 9.2,-3.9 9.3,-6 9.2,-12.3 9.2,-19.2 9.2,-23.6 9.2,-36.5 15.4,-54.3 15.3,-50.2 15.3,-65.4 15.4,-84.6 15.4,-89.2 15.3,-86.6 15.3,-71 15.4,-61.9 15.3,-62.6 10.8,-45.9 10.7,-34.6 10.8,-26.6 10.7,-19.6 10.8,-14.4 10.7,-11.4 10.8,-9.4 10.7,-7.9 10.8,-7.1 10.7,-6.4 10.7,-5.8 10.8,-5.4 10.7,-5 10.8,-4.8 10.7,-4.5 7.7,-3.1 24.6,-9.1 24.5,-8.3 24.6,-7.5 24.5,-6.5 24.6,-5.6 24.6,-4.8 24.5,-4.1 24.6,-2.8 24.5,-1.2 24.6,0 24.6,0.5 24.5,1 24.6,1.9 24.5,3.8 24.6,6.8 10.7,4.8 10.8,6.4 10.7,8.9 10.8,11.9 10.7,14.8 10.8,17.3 10.7,18.9 10.8,19.6 10.7,19.5 10.7,18.9 10.8,17.3 10.7,14.7 10.8,11.2 10.7,8 10.8,5.2 10.7,3.2 10.8,2 19.9,1.7" stroke="#ffb84d" stroke-opacity="0.90" stroke-width="2.6"/>
<path d="M389.6,1947.9l36.8,0 36.8,0 33.8,-0.5 24.6,-2.1 24.5,-3.7 24.6,-4.2 24.5,-4 24.6,-2.9 24.6,-1.7 24.5,-0.9 24.6,-0.6 24.5,-0.8 24.6,-1.3 24.6,-2.8 24.5,-4.8 12.3,-3.5 15.4,-7.5 15.3,-8.8 15.3,-9.9 15.4,-10.4 15.4,-8.5 15.3,-7.6 15.3,-5.8 15.4,-4.4 15.4,-3.3 15.3,-0.4 15.3,2.1 15.4,3.1 15.4,3.5 15.3,4.5 15.3,4.6 15.4,3.5 15.3,2.8 15.4,2.4 15.3,2.2 15.4,2.1 30.7,3.4 30.7,3.4 30.7,4 30.7,4.7 30.7,6.9 30.7,8.2 30.7,8 9.2,0.8 9.2,0.2 9.2,-2.4 9.2,-3.8 9.2,-5 9.3,-9 9.2,-18.9 9.2,-32.4 9.2,-40.4 9.2,-49.3 15.4,-73 15.3,-67.2 15.3,-73.5 15.4,-82.6 15.4,-99.1 15.3,-97.7 15.3,-86.6 15.4,-77.1 15.3,-76 10.8,-56.6 10.7,-45.7 10.8,-35.5 10.7,-25 10.8,-17.2 10.7,-12.8 10.8,-10.1 10.7,-8 10.8,-6.8 10.7,-5.9 10.7,-5.2 10.8,-4.7 10.7,-4.3 10.8,-3.9 10.7,-3.7 7.7,-2.5 24.6,-7.4 24.5,-6.7 24.6,-5.8 24.5,-4.8 24.6,-4 24.6,-3.5 24.5,-2.7 24.6,-1.7 24.5,-0.4 24.6,0.6 24.6,1.2 24.5,2 24.6,3.2 24.5,6 24.6,10.6 10.7,7 10.8,9.2 10.7,12.2 10.8,15.5 10.7,19.1 10.8,21.7 10.7,23.3 10.8,23.8 10.7,23.2 10.7,22.1 10.8,19.9 10.7,16.6 10.8,12.5 10.7,8.6 10.8,5.4 10.7,3.4 10.8,1.9 19.9,1.8" stroke="#4cb28a" stroke-opacity="0.74" stroke-width="3.0"/>
<path d="M389.6,1944.5l36.8,0 36.8,0 33.8,-0.6 24.6,-2.1 24.5,-3.6 24.6,-4.2 24.5,-4 24.6,-2.9 24.6,-1.7 24.5,-0.9 24.6,-0.6 24.5,-0.8 24.6,-1.3 24.6,-2.9 24.5,-5.1 12.3,-3.6 15.4,-8.1 15.3,-9.4 15.3,-10.4 15.4,-10.7 15.4,-8.8 15.3,-7.7 15.3,-5.8 15.4,-4.5 15.4,-3.2 15.3,-0.5 15.3,2.2 15.4,3.2 15.4,3.5 15.3,4.6 15.3,4.6 15.4,3.5 15.3,2.8 15.4,2.4 15.3,2.3 15.4,2 30.7,3.4 30.7,3.3 30.7,3.9 30.7,4.7 30.7,7.2 30.7,8.5 30.7,8.2 9.2,1 9.2,0.5 9.2,-2.3 9.2,-3.2 9.2,-3.8 9.3,-6 9.2,-12.4 9.2,-20.2 9.2,-26.6 9.2,-39.3 15.4,-55.4 15.3,-49.6 15.3,-64.8 15.4,-84.6 15.4,-88 15.3,-85.4 15.3,-69.3 15.4,-60.4 15.3,-61.2 10.8,-44.8 10.7,-33.6 10.8,-25.7 10.7,-19.1 10.8,-14.1 10.7,-11.2 10.8,-9.3 10.7,-7.9 10.8,-7 10.7,-6.4 10.7,-5.9 10.8,-5.4 10.7,-5.1 10.8,-4.9 10.7,-4.5 7.7,-3.1 24.6,-9.3 24.5,-8.4 24.6,-7.6 24.5,-6.6 24.6,-5.7 24.6,-4.9 24.5,-4.2 24.6,-2.9 24.5,-1.3 24.6,-0.1 24.6,0.5 24.5,0.9 24.6,1.8 24.5,3.6 24.6,6.5 10.7,4.5 10.8,6.2 10.7,8.6 10.8,11.5 10.7,14.4 10.8,16.8 10.7,18.5 10.8,19.1 10.7,19.2 10.7,18.5 10.8,17 10.7,14.5 10.8,11.1 10.7,7.9 10.8,5.1 10.7,3.2 10.8,2 19.9,1.7" stroke="#8ad8b0" stroke-opacity="0.82" stroke-width="3.0"/>
<path d="M389.6,1943.9l36.8,0 36.8,0 33.8,-0.6 24.6,-2 24.5,-3.7 24.6,-4.1 24.5,-3.9 24.6,-3 24.6,-1.6 24.5,-0.9 24.6,-0.6 24.5,-0.8 24.6,-1.3 24.6,-2.9 24.5,-5.1 12.3,-3.7 15.4,-8.1 15.3,-9.5 15.3,-10.4 15.4,-10.8 15.4,-8.7 15.3,-7.8 15.3,-5.8 15.4,-4.4 15.4,-3.2 15.3,-0.4 15.3,2.1 15.4,3.3 15.4,3.4 15.3,4.6 15.3,4.6 15.4,3.4 15.3,2.8 15.4,2.4 15.3,2.2 15.4,2 30.7,3.4 30.7,3.2 30.7,3.9 30.7,4.6 30.7,7.2 30.7,8.6 30.7,8 9.2,1.1 9.2,0.3 9.2,-2.6 9.2,-4 9.2,-5.8 9.3,-10.6 9.2,-22.5 9.2,-38.3 9.2,-46 9.2,-52.6 15.4,-81.6 15.3,-76.9 15.3,-78.3 15.4,-80.3 15.4,-105.2 15.3,-104.6 15.3,-96.7 15.4,-86.9 15.3,-84.7 10.8,-63.6 10.7,-52.8 10.8,-41.4 10.7,-28.5 10.8,-19 10.7,-13.8 10.8,-10.3 10.7,-8.1 10.8,-6.6 10.7,-5.6 10.7,-4.7 10.8,-4.1 10.7,-3.7 10.8,-3.3 10.7,-3.1 7.7,-2.1 24.6,-6.2 24.5,-5.5 24.6,-4.6 24.5,-3.6 24.6,-2.9 24.6,-2.5 24.5,-1.8 24.6,-0.9 24.5,0.1 24.6,1 24.6,1.8 24.5,2.5 24.6,4.2 24.5,7.5 24.6,13.1 10.7,8.5 10.8,11 10.7,14.3 10.8,18 10.7,21.7 10.8,24.7 10.7,26.2 10.8,26.4 10.7,25.7 10.7,24.1 10.8,21.5 10.7,17.9 10.8,13.2 10.7,8.9 10.8,5.6 10.7,3.4 10.8,2 19.9,1.7" stroke="#8ad8b0" stroke-opacity="0.80" stroke-width="3.0"/>
<path d="M389.6,1941.8l36.8,0 36.8,0 33.8,-0.5 24.6,-2.1 24.5,-3.7 24.6,-4.1 24.5,-3.9 24.6,-3 24.6,-1.6 24.5,-0.9 24.6,-0.6 24.5,-0.8 24.6,-1.3 24.6,-2.9 24.5,-5.3 12.3,-3.8 15.4,-8.5 15.3,-9.9 15.3,-10.7 15.4,-11 15.4,-8.9 15.3,-7.8 15.3,-5.8 15.4,-4.4 15.4,-3.3 15.3,-0.4 15.3,2.2 15.4,3.3 15.4,3.5 15.3,4.6 15.3,4.6 15.4,3.4 15.3,2.8 15.4,2.4 15.3,2.2 15.4,2 30.7,3.4 30.7,3.2 30.7,3.8 30.7,4.6 30.7,7.4 30.7,8.8 30.7,8.2 9.2,1.1 9.2,0.4 9.2,-2.4 9.2,-4 9.2,-5.5 9.3,-9.9 9.2,-20.9 9.2,-35.3 9.2,-42.2 9.2,-49.9 15.4,-77.2 15.3,-72.8 15.3,-76.3 15.4,-81 15.4,-102.8 15.3,-101.8 15.3,-92.8 15.4,-83.1 15.3,-81.3 10.8,-60.9 10.7,-50.1 10.8,-39.2 10.7,-27.1 10.8,-18.3 10.7,-13.4 10.8,-10.2 10.7,-8.1 10.8,-6.6 10.7,-5.7 10.7,-4.9 10.8,-4.3 10.7,-3.9 10.8,-3.6 10.7,-3.3 7.7,-2.2 24.6,-6.6 24.5,-6 24.6,-5 24.5,-4 24.6,-3.4 24.6,-2.8 24.5,-2.2 24.6,-1.2 24.5,-0.1 24.6,0.9 24.6,1.6 24.5,2.3 24.6,3.8 24.5,6.9 24.6,12.2 10.7,7.9 10.8,10.4 10.7,13.4 10.8,17.1 10.7,20.7 10.8,23.5 10.7,25.1 10.8,25.4 10.7,24.7 10.7,23.3 10.8,20.9 10.7,17.3 10.8,12.9 10.7,8.9 10.8,5.5 10.7,3.3 10.8,2 19.9,1.8" stroke="#3aa47e" stroke-opacity="0.91" stroke-width="3.0"/>
<path d="M389.6,1921.7l36.8,0 36.8,0 33.8,-0.6 24.6,-2.1 24.5,-3.7 24.6,-4.1 24.5,-4.1 24.6,-2.9 24.6,-1.7 24.5,-0.8 24.6,-0.7 24.5,-0.8 24.6,-1.3 24.6,-3.5 24.5,-6.7 12.3,-5 15.4,-11.7 15.3,-13.4 15.3,-13.5 15.4,-13.3 15.4,-10.3 15.3,-8.7 15.3,-6.3 15.4,-4.5 15.4,-3.2 15.3,-0.4 15.3,2.5 15.4,3.8 15.4,3.8 15.3,4.8 15.3,4.8 15.4,3.5 15.3,2.9 15.4,2.5 15.3,2.2 15.4,2 30.7,3.2 30.7,3 30.7,3.3 30.7,4.3 30.7,9 30.7,11 30.7,9.3 9.2,2.2 9.2,1.3 9.2,-2.1 9.2,-3.5 9.2,-4 9.3,-5.7 9.2,-12 9.2,-17.1 9.2,-18.9 9.2,-32.3 15.4,-51.8 15.3,-50.1 15.3,-65.7 15.4,-84.6 15.4,-90.1 15.3,-87.7 15.3,-72.2 15.4,-63.1 15.3,-63.7 10.8,-46.7 10.7,-35.5 10.8,-27.2 10.7,-20 10.8,-14.6 10.7,-11.6 10.8,-9.4 10.7,-8 10.8,-7.1 10.7,-6.3 10.7,-5.8 10.8,-5.4 10.7,-5 10.8,-4.7 10.7,-4.5 7.7,-3 24.6,-9.1 24.5,-8.2 24.6,-7.4 24.5,-6.4 24.6,-5.5 24.6,-4.8 24.5,-4 24.6,-2.8 24.5,-1.1 24.6,0 24.6,0.6 24.5,1.1 24.6,2 24.5,3.9 24.6,7.1 10.7,4.9 10.8,6.7 10.7,9.1 10.8,12.1 10.7,15.2 10.8,17.6 10.7,19.3 10.8,19.9 10.7,19.8 10.7,19.2 10.8,17.5 10.7,14.8 10.8,11.4 10.7,8.1 10.8,5.2 10.7,3.2 10.8,2 19.9,1.7" stroke="#a0e2c0" stroke-opacity="0.73" stroke-width="3.0"/>
<path d="M389.6,1958.5l36.8,0 36.8,0 33.8,-0.5 24.6,-2.1 24.5,-3.7 24.6,-4.1 24.5,-4 24.6,-3 24.6,-1.7 24.5,-0.9 24.6,-0.6 24.5,-0.8 24.6,-1.3 24.6,-2.5 24.5,-4.1 12.3,-2.9 15.4,-5.7 15.3,-7 15.3,-8.4 15.4,-9.3 15.4,-7.8 15.3,-7.2 15.3,-5.5 15.4,-4.4 15.4,-3.3 15.3,-0.5 15.3,1.9 15.4,3 15.4,3.3 15.3,4.4 15.3,4.6 15.4,3.4 15.3,2.8 15.4,2.4 15.3,2.2 15.4,2.1 30.7,3.5 30.7,3.5 30.7,4.3 30.7,5 30.7,6.1 30.7,7 30.7,7.5 9.2,0.3 9.2,-0.1 9.2,-2.3 9.2,-3.1 9.2,-3.7 9.3,-6.2 9.2,-12.7 9.2,-22.3 9.2,-31.5 9.2,-43.8 15.4,-58.1 15.3,-49.5 15.3,-64.5 15.4,-84.8 15.4,-87.1 15.3,-84.4 15.3,-67.9 15.4,-59 15.3,-60 10.8,-43.7 10.7,-32.6 10.8,-24.9 10.7,-18.6 10.8,-13.8 10.7,-11.1 10.8,-9.2 10.7,-7.9 10.8,-7.1 10.7,-6.4 10.7,-5.9 10.8,-5.5 10.7,-5.2 10.8,-4.9 10.7,-4.6 7.7,-3.2 24.6,-9.4 24.5,-8.6 24.6,-7.7 24.5,-6.8 24.6,-5.8 24.6,-5 24.5,-4.3 24.6,-3.1 24.5,-1.3 24.6,-0.1 24.6,0.4 24.5,0.9 24.6,1.6 24.5,3.4 24.6,6.1 10.7,4.3 10.8,6 10.7,8.3 10.8,11.1 10.7,14.1 10.8,16.4 10.7,18 10.8,18.8 10.7,18.8 10.7,18.2 10.8,16.8 10.7,14.3 10.8,11 10.7,7.8 10.8,5.1 10.7,3.2 10.8,1.9 19.9,1.8" stroke="#74cca2" stroke-opacity="0.95" stroke-width="3.0"/>
<path d="M389.6,1928.6l36.8,0 36.8,0 33.8,-0.5 24.6,-2.1 24.5,-3.7 24.6,-4.1 24.5,-4.1 24.6,-2.9 24.6,-1.7 24.5,-0.8 24.6,-0.6 24.5,-0.8 24.6,-1.4 24.6,-3.3 24.5,-6.1 12.3,-4.6 15.4,-10.6 15.3,-12.2 15.3,-12.6 15.4,-12.5 15.4,-9.8 15.3,-8.4 15.3,-6.1 15.4,-4.5 15.4,-3.2 15.3,-0.4 15.3,2.4 15.4,3.6 15.4,3.7 15.3,4.8 15.3,4.6 15.4,3.5 15.3,2.9 15.4,2.4 15.3,2.3 15.4,1.9 30.7,3.3 30.7,3.1 30.7,3.4 30.7,4.4 30.7,8.4 30.7,10.3 30.7,8.9 9.2,1.9 9.2,1.1 9.2,-2.1 9.2,-3.2 9.2,-3.6 9.3,-5 9.2,-10.3 9.2,-14.8 9.2,-17.7 9.2,-31.8 15.4,-48.1 15.3,-45.1 15.3,-62.7 15.4,-84.8 15.4,-86.1 15.3,-83.3 15.3,-66.3 15.4,-57.5 15.3,-58.7 10.8,-42.7 10.7,-31.5 10.8,-24 10.7,-18 10.8,-13.6 10.7,-10.9 10.8,-9.2 10.7,-7.9 10.8,-7.1 10.7,-6.4 10.7,-6 10.8,-5.6 10.7,-5.2 10.8,-5 10.7,-4.7 7.7,-3.2 24.6,-9.6 24.5,-8.7 24.6,-7.9 24.5,-7 24.6,-6 24.6,-5.1 24.5,-4.5 24.6,-3.1 24.5,-1.4 24.6,-0.2 24.6,0.4 24.5,0.7 24.6,1.5 24.5,3.2 24.6,5.8 10.7,4 10.8,5.7 10.7,8 10.8,10.8 10.7,13.6 10.8,16 10.7,17.6 10.8,18.3 10.7,18.5 10.7,17.9 10.8,16.5 10.7,14.1 10.8,10.9 10.7,7.7 10.8,5.1 10.7,3.2 10.8,1.9 19.9,1.8" stroke="#60c096" stroke-opacity="0.75" stroke-width="3.0"/>
<path d="M389.6,1939.6l36.8,0 36.8,0 33.8,-0.5 24.6,-2.1 24.5,-3.7 24.6,-4.2 24.5,-4 24.6,-3 24.6,-1.7 24.5,-0.8 24.6,-0.7 24.5,-0.8 24.6,-1.3 24.6,-3 24.5,-5.4 12.3,-4 15.4,-8.8 15.3,-10.3 15.3,-11 15.4,-11.4 15.4,-9.1 15.3,-7.9 15.3,-6 15.4,-4.5 15.4,-3.2 15.3,-0.4 15.3,2.2 15.4,3.4 15.4,3.5 15.3,4.7 15.3,4.6 15.4,3.5 15.3,2.8 15.4,2.5 15.3,2.3 15.4,2 30.7,3.4 30.7,3.2 30.7,3.8 30.7,4.7 30.7,7.5 30.7,9.1 30.7,8.4 9.2,1.2 9.2,0.6 9.2,-2.5 9.2,-3.9 9.2,-5.3 9.3,-9.2 9.2,-19.7 9.2,-32.7 9.2,-39.3 9.2,-47.9 15.4,-74 15.3,-69.6 15.3,-75.1 15.4,-82.6 15.4,-101.5 15.3,-100.3 15.3,-89.9 15.4,-80.3 15.3,-78.9 10.8,-58.9 10.7,-47.9 10.8,-37.4 10.7,-26.1 10.8,-17.9 10.7,-13.1 10.8,-10.2 10.7,-8.1 10.8,-6.8 10.7,-5.9 10.7,-5.1 10.8,-4.6 10.7,-4.1 10.8,-3.8 10.7,-3.6 7.7,-2.4 24.6,-7.1 24.5,-6.5 24.6,-5.5 24.5,-4.5 24.6,-3.8 24.6,-3.2 24.5,-2.5 24.6,-1.5 24.5,-0.3 24.6,0.7 24.6,1.4 24.5,2.1 24.6,3.6 24.5,6.4 24.6,11.3 10.7,7.5 10.8,9.8 10.7,12.8 10.8,16.3 10.7,19.9 10.8,22.7 10.7,24.3 10.8,24.6 10.7,24.1 10.7,22.8 10.8,20.5 10.7,17 10.8,12.8 10.7,8.8 10.8,5.5 10.7,3.3 10.8,2 19.9,1.8" stroke="#2c9872" stroke-opacity="0.78" stroke-width="3.0"/>
<path d="M389.6,1950.3l36.8,0 36.8,0 33.8,-0.5 24.6,-2.1 24.5,-3.6 24.6,-4.1 24.5,-4 24.6,-3 24.6,-1.6 24.5,-0.9 24.6,-0.6 24.5,-0.8 24.6,-1.3 24.6,-2.7 24.5,-4.7 12.3,-3.3 15.4,-7.1 15.3,-8.4 15.3,-9.5 15.4,-10.1 15.4,-8.3 15.3,-7.5 15.3,-5.7 15.4,-4.3 15.4,-3.3 15.3,-0.4 15.3,2 15.4,3.1 15.4,3.4 15.3,4.5 15.3,4.5 15.4,3.5 15.3,2.7 15.4,2.5 15.3,2.2 15.4,2 30.7,3.4 30.7,3.4 30.7,4 30.7,4.8 30.7,6.6 30.7,8 30.7,7.8 9.2,0.7 9.2,0.3 9.2,-2.3 9.2,-3.2 9.2,-3.8 9.3,-6.2 9.2,-12.9 9.2,-21.7 9.2,-29.2 9.2,-41.3 15.4,-57.3 15.3,-50.4 15.3,-64.8 15.4,-83.8 15.4,-87.8 15.3,-85.3 15.3,-69.4 15.4,-60.6 15.3,-61.3 10.8,-44.9 10.7,-33.8 10.8,-25.9 10.7,-19.1 10.8,-14.2 10.7,-11.2 10.8,-9.2 10.7,-7.9 10.8,-7 10.7,-6.3 10.7,-5.8 10.8,-5.3 10.7,-5.1 10.8,-4.7 10.7,-4.5 7.7,-3 24.6,-9.2 24.5,-8.3 24.6,-7.4 24.5,-6.5 24.6,-5.6 24.6,-4.8 24.5,-4.1 24.6,-2.9 24.5,-1.2 24.6,0 24.6,0.5 24.5,1 24.6,1.8 24.5,3.6 24.6,6.6 10.7,4.6 10.8,6.3 10.7,8.7 10.8,11.5 10.7,14.5 10.8,16.9 10.7,18.5 10.8,19.1 10.7,19.2 10.7,18.5 10.8,17 10.7,14.4 10.8,11.1 10.7,7.9 10.8,5.1 10.7,3.2 10.8,1.9 19.9,1.7" stroke="#4cb28a" stroke-opacity="0.83" stroke-width="3.0"/>
<path d="M389.6,1959.8l36.8,0 36.8,0 33.8,-0.5 24.6,-2.1 24.5,-3.7 24.6,-4.1 24.5,-4 24.6,-3 24.6,-1.7 24.5,-0.9 24.6,-0.6 24.5,-0.8 24.6,-1.3 24.6,-2.4 24.5,-4.1 12.3,-2.8 15.4,-5.5 15.3,-6.8 15.3,-8.2 15.4,-9.1 15.4,-7.8 15.3,-7.1 15.3,-5.6 15.4,-4.4 15.4,-3.3 15.3,-0.4 15.3,1.9 15.4,2.9 15.4,3.3 15.3,4.4 15.3,4.6 15.4,3.4 15.3,2.7 15.4,2.5 15.3,2.2 15.4,2.1 30.7,3.6 30.7,3.5 30.7,4.3 30.7,5 30.7,6 30.7,6.9 30.7,7.4 9.2,0.2 9.2,-0.2 9.2,-2.4 9.2,-3.5 9.2,-4.6 9.3,-8.1 9.2,-17.1 9.2,-30.3 9.2,-40.4 9.2,-50.3 15.4,-69.6 15.3,-61.3 15.3,-70.4 15.4,-83.6 15.4,-94.6 15.3,-92.8 15.3,-79.6 15.4,-70.2 15.3,-70 10.8,-51.8 10.7,-40.7 10.8,-31.6 10.7,-22.5 10.8,-16 10.7,-12.2 10.8,-9.7 10.7,-8 10.8,-6.9 10.7,-6.1 10.7,-5.5 10.8,-5 10.7,-4.6 10.8,-4.3 10.7,-4 7.7,-2.8 24.6,-8.1 24.5,-7.5 24.6,-6.5 24.5,-5.5 24.6,-4.8 24.6,-4 24.5,-3.3 24.6,-2.3 24.5,-0.7 24.6,0.3 24.6,1 24.5,1.5 24.6,2.6 24.5,5 24.6,9 10.7,5.9 10.8,8 10.7,10.7 10.8,13.9 10.7,17.2 10.8,19.7 10.7,21.3 10.8,21.9 10.7,21.6 10.7,20.6 10.8,18.7 10.7,15.8 10.8,11.9 10.7,8.4 10.8,5.3 10.7,3.2 10.8,2 19.9,1.8" stroke="#a0e2c0" stroke-opacity="0.88" stroke-width="3.0"/>
<path d="M389.6,1956.2l36.8,0 36.8,0 33.8,-0.5 24.6,-2.1 24.5,-3.6 24.6,-4.1 24.5,-4 24.6,-2.9 24.6,-1.7 24.5,-0.9 24.6,-0.6 24.5,-0.8 24.6,-1.3 24.6,-2.5 24.5,-4.3 12.3,-3 15.4,-6.1 15.3,-7.4 15.3,-8.7 15.4,-9.4 15.4,-7.9 15.3,-7.3 15.3,-5.5 15.4,-4.4 15.4,-3.2 15.3,-0.5 15.3,1.9 15.4,3 15.4,3.3 15.3,4.5 15.3,4.5 15.4,3.4 15.3,2.7 15.4,2.4 15.3,2.2 15.4,2.1 30.7,3.5 30.7,3.4 30.7,4.2 30.7,4.8 30.7,6.2 30.7,7.3 30.7,7.5 9.2,0.4 9.2,-0.1 9.2,-2.6 9.2,-3.8 9.2,-5.5 9.3,-10 9.2,-21.4 9.2,-37.6 9.2,-47.4 9.2,-54.7 15.4,-80.1 15.3,-73 15.3,-76 15.4,-81 15.4,-101.9 15.3,-100.9 15.3,-91.5 15.4,-81.9 15.3,-80.2 10.8,-60.1 10.7,-49.1 10.8,-38.6 10.7,-26.7 10.8,-18 10.7,-13.3 10.8,-10.1 10.7,-8.1 10.8,-6.6 10.7,-5.7 10.7,-4.9 10.8,-4.4 10.7,-3.9 10.8,-3.7 10.7,-3.3 7.7,-2.3 24.6,-6.7 24.5,-6 24.6,-5.2 24.5,-4.1 24.6,-3.4 24.6,-3 24.5,-2.2 24.6,-1.3 24.5,-0.1 24.6,0.8 24.6,1.5 24.5,2.3 24.6,3.7 24.5,6.8 24.6,11.8 10.7,7.8 10.8,10.1 10.7,13.3 10.8,16.7 10.7,20.4 10.8,23.1 10.7,24.8 10.8,25 10.7,24.4 10.7,23.1 10.8,20.6 10.7,17.2 10.8,12.8 10.7,8.8 10.8,5.5 10.7,3.3 10.8,2 19.9,1.7" stroke="#4cb28a" stroke-opacity="0.73" stroke-width="3.0"/>
<path d="M389.6,1951.4l36.8,0 36.8,0 33.8,-0.6 24.6,-2 24.5,-3.7 24.6,-4.1 24.5,-4 24.6,-3 24.6,-1.6 24.5,-0.9 24.6,-0.7 24.5,-0.8 24.6,-1.2 24.6,-2.7 24.5,-4.6 12.3,-3.3 15.4,-6.9 15.3,-8.2 15.3,-9.4 15.4,-10 15.4,-8.3 15.3,-7.5 15.3,-5.6 15.4,-4.4 15.4,-3.3 15.3,-0.5 15.3,2.1 15.4,3.1 15.4,3.3 15.3,4.6 15.3,4.5 15.4,3.4 15.3,2.8 15.4,2.5 15.3,2.2 15.4,2 30.7,3.5 30.7,3.4 30.7,4.1 30.7,4.8 30.7,6.6 30.7,7.8 30.7,7.8 9.2,0.7 9.2,0.2 9.2,-2.2 9.2,-3 9.2,-3.6 9.3,-5.5 9.2,-11.3 9.2,-19.2 9.2,-26.6 9.2,-39.7 15.4,-53.6 15.3,-46.3 15.3,-62.9 15.4,-84.8 15.4,-85.3 15.3,-82.5 15.3,-65.2 15.4,-56.5 15.3,-57.8 10.8,-42 10.7,-30.8 10.8,-23.5 10.7,-17.6 10.8,-13.4 10.7,-10.8 10.8,-9.1 10.7,-7.9 10.8,-7.1 10.7,-6.4 10.7,-6 10.8,-5.6 10.7,-5.3 10.8,-5 10.7,-4.7 7.7,-3.3 24.6,-9.6 24.5,-8.8 24.6,-8 24.5,-7 24.6,-6.1 24.6,-5.2 24.5,-4.5 24.6,-3.2 24.5,-1.4 24.6,-0.2 24.6,0.3 24.5,0.7 24.6,1.4 24.5,3 24.6,5.6 10.7,3.9 10.8,5.6 10.7,7.8 10.8,10.5 10.7,13.4 10.8,15.6 10.7,17.3 10.8,18.1 10.7,18.2 10.7,17.7 10.8,16.3 10.7,13.9 10.8,10.8 10.7,7.7 10.8,5.1 10.7,3.1 10.8,2 19.9,1.7" stroke="#2c9872" stroke-opacity="0.78" stroke-width="3.0"/>
<path d="M389.6,1946.9l36.8,0 36.8,0 33.8,-0.5 24.6,-2.1 24.5,-3.7 24.6,-4.1 24.5,-4 24.6,-2.9 24.6,-1.7 24.5,-0.8 24.6,-0.7 24.5,-0.8 24.6,-1.3 24.6,-2.8 24.5,-4.9 12.3,-3.5 15.4,-7.6 15.3,-9 15.3,-10.1 15.4,-10.4 15.4,-8.6 15.3,-7.6 15.3,-5.8 15.4,-4.4 15.4,-3.2 15.3,-0.4 15.3,2.1 15.4,3.1 15.4,3.5 15.3,4.5 15.3,4.6 15.4,3.4 15.3,2.8 15.4,2.5 15.3,2.2 15.4,2 30.7,3.4 30.7,3.3 30.7,3.9 30.7,4.8 30.7,6.9 30.7,8.3 30.7,8 9.2,0.9 9.2,0.4 9.2,-2.2 9.2,-3.1 9.2,-3.7 9.3,-5.8 9.2,-11.8 9.2,-19.5 9.2,-26.1 9.2,-39 15.4,-54.2 15.3,-47.8 15.3,-63.7 15.4,-84.3 15.4,-86.4 15.3,-83.8 15.3,-67.2 15.4,-58.5 15.3,-59.4 10.8,-43.4 10.7,-32.2 10.8,-24.7 10.7,-18.3 10.8,-13.7 10.7,-11.1 10.8,-9.1 10.7,-7.9 10.8,-7 10.7,-6.4 10.7,-5.9 10.8,-5.5 10.7,-5.1 10.8,-4.9 10.7,-4.6 7.7,-3.2 24.6,-9.4 24.5,-8.5 24.6,-7.7 24.5,-6.8 24.6,-5.8 24.6,-5.1 24.5,-4.2 24.6,-3.1 24.5,-1.3 24.6,-0.1 24.6,0.4 24.5,0.8 24.6,1.6 24.5,3.3 24.6,6.1 10.7,4.2 10.8,5.9 10.7,8.2 10.8,11 10.7,13.9 10.8,16.3 10.7,17.9 10.8,18.6 10.7,18.6 10.7,18.1 10.8,16.6 10.7,14.2 10.8,10.9 10.7,7.8 10.8,5.1 10.7,3.1 10.8,2 19.9,1.7" stroke="#8ad8b0" stroke-opacity="0.72" stroke-width="3.0"/>
<path d="M389.6,1929.8l36.8,0 36.8,0 33.8,-0.5 24.6,-2.1 24.5,-3.7 24.6,-4.2 24.5,-4 24.6,-2.9 24.6,-1.7 24.5,-0.8 24.6,-0.7 24.5,-0.8 24.6,-1.3 24.6,-3.3 24.5,-6 12.3,-4.6 15.4,-10.4 15.3,-12 15.3,-12.4 15.4,-12.4 15.4,-9.7 15.3,-8.3 15.3,-6.1 15.4,-4.5 15.4,-3.2 15.3,-0.4 15.3,2.4 15.4,3.5 15.4,3.7 15.3,4.8 15.3,4.7 15.4,3.4 15.3,2.9 15.4,2.4 15.3,2.3 15.4,2 30.7,3.2 30.7,3.1 30.7,3.5 30.7,4.5 30.7,8.3 30.7,10.1 30.7,8.9 9.2,1.8 9.2,1.1 9.2,-2.1 9.2,-3.2 9.2,-3.4 9.3,-4.7 9.2,-9.6 9.2,-13.7 9.2,-16.7 9.2,-31.1 15.4,-46.5 15.3,-43 15.3,-61.8 15.4,-85.1 15.4,-84.8 15.3,-81.8 15.3,-64.2 15.4,-55.5 15.3,-56.9 10.8,-41.2 10.7,-30.1 10.8,-22.8 10.7,-17.2 10.8,-13.2 10.7,-10.8 10.8,-9.1 10.7,-7.9 10.8,-7.1 10.7,-6.5 10.7,-6.1 10.8,-5.7 10.7,-5.3 10.8,-5.1 10.7,-4.8 7.7,-3.3 24.6,-9.8 24.5,-9 24.6,-8.1 24.5,-7.2 24.6,-6.2 24.6,-5.4 24.5,-4.6 24.6,-3.3 24.5,-1.5 24.6,-0.2 24.6,0.2 24.5,0.6 24.6,1.4 24.5,2.8 24.6,5.3 10.7,3.7 10.8,5.3 10.7,7.6 10.8,10.3 10.7,13 10.8,15.4 10.7,17 10.8,17.8 10.7,17.9 10.7,17.5 10.8,16.2 10.7,13.8 10.8,10.8 10.7,7.6 10.8,5.1 10.7,3.1 10.8,2 19.9,1.7" stroke="#a0e2c0" stroke-opacity="0.87" stroke-width="3.0"/>
<path d="M389.6,1925.6l36.8,0 36.8,0 33.8,-0.5 24.6,-2.1 24.5,-3.7 24.6,-4.2 24.5,-4 24.6,-3 24.6,-1.6 24.5,-0.9 24.6,-0.6 24.5,-0.8 24.6,-1.4 24.6,-3.4 24.5,-6.3 12.3,-4.8 15.4,-11.1 15.3,-12.7 15.3,-13 15.4,-12.9 15.4,-10 15.3,-8.5 15.3,-6.2 15.4,-4.5 15.4,-3.3 15.3,-0.4 15.3,2.5 15.4,3.6 15.4,3.8 15.3,4.8 15.3,4.7 15.4,3.6 15.3,2.8 15.4,2.5 15.3,2.2 15.4,2 30.7,3.2 30.7,3.1 30.7,3.4 30.7,4.4 30.7,8.7 30.7,10.6 30.7,9.1 9.2,2 9.2,1.1 9.2,-2.1 9.2,-3.4 9.2,-3.8 9.3,-5.5 9.2,-11.6 9.2,-16.6 9.2,-19.2 9.2,-32.7 15.4,-51 15.3,-48.5 15.3,-64.8 15.4,-84.8 15.4,-88.8 15.3,-86.3 15.3,-70.2 15.4,-61.2 15.3,-62 10.8,-45.3 10.7,-34.2 10.8,-26.1 10.7,-19.3 10.8,-14.3 10.7,-11.3 10.8,-9.4 10.7,-8 10.8,-7 10.7,-6.4 10.7,-5.9 10.8,-5.5 10.7,-5.1 10.8,-4.8 10.7,-4.5 7.7,-3.1 24.6,-9.3 24.5,-8.4 24.6,-7.6 24.5,-6.6 24.6,-5.7 24.6,-4.9 24.5,-4.2 24.6,-2.9 24.5,-1.2 24.6,0 24.6,0.5 24.5,0.9 24.6,1.8 24.5,3.7 24.6,6.6 10.7,4.6 10.8,6.4 10.7,8.7 10.8,11.7 10.7,14.6 10.8,17.1 10.7,18.7 10.8,19.4 10.7,19.3 10.7,18.8 10.8,17.1 10.7,14.7 10.8,11.2 10.7,7.9 10.8,5.2 10.7,3.2 10.8,2 19.9,1.7" stroke="#4cb28a" stroke-opacity="0.73" stroke-width="3.0"/>
<path d="M389.6,1935.2l36.8,0 36.8,0 33.8,-0.5 24.6,-2.1 24.5,-3.7 24.6,-4.1 24.5,-3.9 24.6,-3 24.6,-1.6 24.5,-0.9 24.6,-0.6 24.5,-0.8 24.6,-1.3 24.6,-3.1 24.5,-5.7 12.3,-4.2 15.4,-9.5 15.3,-11.1 15.3,-11.6 15.4,-11.7 15.4,-9.3 15.3,-8.1 15.3,-6 15.4,-4.4 15.4,-3.2 15.3,-0.4 15.3,2.3 15.4,3.4 15.4,3.6 15.3,4.7 15.3,4.6 15.4,3.4 15.3,2.8 15.4,2.5 15.3,2.2 15.4,1.9 30.7,3.3 30.7,3.2 30.7,3.6 30.7,4.4 30.7,7.9 30.7,9.6 30.7,8.4 9.2,1.5 9.2,0.8 9.2,-2.4 9.2,-3.8 9.2,-5 9.3,-8.6 9.2,-18.1 9.2,-29.6 9.2,-34.8 9.2,-44.1 15.4,-69.1 15.3,-65.7 15.3,-72.7 15.4,-81.6 15.4,-98.5 15.3,-97.2 15.3,-86.3 15.4,-76.8 15.3,-75.7 10.8,-56.5 10.7,-45.5 10.8,-35.5 10.7,-24.9 10.8,-17.1 10.7,-12.8 10.8,-9.9 10.7,-8 10.8,-6.8 10.7,-5.8 10.7,-5.1 10.8,-4.7 10.7,-4.2 10.8,-3.8 10.7,-3.7 7.7,-2.4 24.6,-7.3 24.5,-6.6 24.6,-5.7 24.5,-4.7 24.6,-4 24.6,-3.4 24.5,-2.6 24.6,-1.7 24.5,-0.4 24.6,0.6 24.6,1.3 24.5,1.9 24.6,3.3 24.5,6 24.6,10.6 10.7,7 10.8,9.2 10.7,12.2 10.8,15.5 10.7,19 10.8,21.6 10.7,23.3 10.8,23.6 10.7,23.2 10.7,22 10.8,19.8 10.7,16.5 10.8,12.4 10.7,8.6 10.8,5.3 10.7,3.3 10.8,2 19.9,1.7" stroke="#3aa47e" stroke-opacity="0.75" stroke-width="3.0"/>
<path d="M389.6,1936.8l36.8,0 36.8,0 33.8,-0.5 24.6,-2.1 24.5,-3.7 24.6,-4.1 24.5,-4 24.6,-3 24.6,-1.6 24.5,-0.9 24.6,-0.6 24.5,-0.8 24.6,-1.3 24.6,-3.1 24.5,-5.6 12.3,-4.1 15.4,-9.3 15.3,-10.8 15.3,-11.4 15.4,-11.6 15.4,-9.2 15.3,-8.1 15.3,-5.9 15.4,-4.5 15.4,-3.2 15.3,-0.4 15.3,2.2 15.4,3.4 15.4,3.6 15.3,4.7 15.3,4.6 15.4,3.5 15.3,2.8 15.4,2.5 15.3,2.2 15.4,2 30.7,3.3 30.7,3.2 30.7,3.7 30.7,4.6 30.7,7.7 30.7,9.4 30.7,8.5 9.2,1.4 9.2,0.8 9.2,-2.2 9.2,-3.4 9.2,-4 9.3,-6.1 9.2,-12.9 9.2,-20.3 9.2,-25.1 9.2,-37.6 15.4,-55.8 15.3,-51.4 15.3,-65.7 15.4,-84.1 15.4,-89.6 15.3,-87.2 15.3,-71.8 15.4,-62.9 15.3,-63.4 10.8,-46.5 10.7,-35.4 10.8,-27.1 10.7,-19.9 10.8,-14.6 10.7,-11.5 10.8,-9.3 10.7,-8 10.8,-7 10.7,-6.3 10.7,-5.7 10.8,-5.4 10.7,-4.9 10.8,-4.7 10.7,-4.4 7.7,-3 24.6,-9 24.5,-8.2 24.6,-7.3 24.5,-6.3 24.6,-5.5 24.6,-4.6 24.5,-4 24.6,-2.7 24.5,-1.2 24.6,0.1 24.6,0.6 24.5,1 24.6,2.1 24.5,3.9 24.6,7.1 10.7,4.9 10.8,6.6 10.7,9.2 10.8,12 10.7,15.1 10.8,17.6 10.7,19.1 10.8,19.9 10.7,19.7 10.7,19 10.8,17.5 10.7,14.7 10.8,11.4 10.7,8 10.8,5.1 10.7,3.2 10.8,2 19.9,1.7" stroke="#3aa47e" stroke-opacity="0.80" stroke-width="3.0"/>
<path d="M389.6,1920.8l36.8,0 36.8,0 33.8,-0.5 24.6,-2.1 24.5,-3.7 24.6,-4.1 24.5,-4 24.6,-2.9 24.6,-1.6 24.5,-0.9 24.6,-0.6 24.5,-0.8 24.6,-1.3 24.6,-3.5 24.5,-6.7 12.3,-5.1 15.4,-11.8 15.3,-13.6 15.3,-13.6 15.4,-13.4 15.4,-10.2 15.3,-8.7 15.3,-6.2 15.4,-4.5 15.4,-3.2 15.3,-0.3 15.3,2.5 15.4,3.7 15.4,3.9 15.3,4.7 15.3,4.7 15.4,3.5 15.3,2.8 15.4,2.5 15.3,2.2 15.4,2 30.7,3.1 30.7,3 30.7,3.2 30.7,4.2 30.7,9 30.7,11.1 30.7,9.2 9.2,2.3 9.2,1.3 9.2,-2.2 9.2,-3.8 9.2,-4.8 9.3,-7.5 9.2,-16 9.2,-24.1 9.2,-26.3 9.2,-37 15.4,-61.7 15.3,-60.9 15.3,-70.6 15.4,-82.3 15.4,-96.4 15.3,-94.8 15.3,-82.9 15.4,-73.5 15.3,-72.8 10.8,-54.1 10.7,-43.1 10.8,-33.5 10.7,-23.7 10.8,-16.5 10.7,-12.5 10.8,-9.8 10.7,-8 10.8,-6.8 10.7,-6 10.7,-5.3 10.8,-4.8 10.7,-4.3 10.8,-4.1 10.7,-3.9 7.7,-2.6 24.6,-7.7 24.5,-7 24.6,-6.1 24.5,-5.1 24.6,-4.3 24.6,-3.7 24.5,-3 24.6,-2 24.5,-0.5 24.6,0.5 24.6,1.1 24.5,1.7 24.6,3 24.5,5.5 24.6,9.7 10.7,6.5 10.8,8.6 10.7,11.4 10.8,14.7 10.7,18.1 10.8,20.7 10.7,22.3 10.8,22.7 10.7,22.3 10.7,21.3 10.8,19.3 10.7,16.1 10.8,12.1 10.7,8.5 10.8,5.3 10.7,3.3 10.8,2 19.9,1.7" stroke="#3aa47e" stroke-opacity="0.72" stroke-width="3.0"/>
<path d="M389.6,1952.7l36.8,0 36.8,-0.1 33.8,-0.5 24.6,-2.1 24.5,-3.6 24.6,-4.1 24.5,-4 24.6,-2.9 24.6,-1.7 24.5,-0.9 24.6,-0.6 24.5,-0.8 24.6,-1.3 24.6,-2.6 24.5,-4.5 12.3,-3.2 15.4,-6.7 15.3,-8 15.3,-9.2 15.4,-9.9 15.4,-8.1 15.3,-7.4 15.3,-5.6 15.4,-4.4 15.4,-3.3 15.3,-0.4 15.3,2 15.4,3 15.4,3.4 15.3,4.5 15.3,4.5 15.4,3.4 15.3,2.8 15.4,2.4 15.3,2.2 15.4,2.1 30.7,3.4 30.7,3.4 30.7,4.1 30.7,4.8 30.7,6.5 30.7,7.7 30.7,7.6 9.2,0.7 9.2,0.2 9.2,-2.3 9.2,-3.1 9.2,-3.6 9.3,-5.9 9.2,-12.1 9.2,-20.6 9.2,-28.4 9.2,-41 15.4,-55.6 15.3,-48.1 15.3,-63.7 15.4,-84.1 15.4,-86.2 15.3,-83.5 15.3,-67 15.4,-58.2 15.3,-59.2 10.8,-43.2 10.7,-32.1 10.8,-24.5 10.7,-18.3 10.8,-13.7 10.7,-11 10.8,-9.1 10.7,-7.8 10.8,-7 10.7,-6.4 10.7,-5.9 10.8,-5.5 10.7,-5.1 10.8,-4.9 10.7,-4.6 7.7,-3.1 24.6,-9.4 24.5,-8.6 24.6,-7.7 24.5,-6.7 24.6,-5.9 24.6,-5 24.5,-4.3 24.6,-3 24.5,-1.3 24.6,-0.2 24.6,0.4 24.5,0.8 24.6,1.7 24.5,3.2 24.6,6.1 10.7,4.2 10.8,5.8 10.7,8.2 10.8,11 10.7,13.8 10.8,16.2 10.7,17.8 10.8,18.5 10.7,18.6 10.7,18 10.8,16.6 10.7,14.1 10.8,10.9 10.7,7.8 10.8,5 10.7,3.2 10.8,1.9 19.9,1.7" stroke="#60c096" stroke-opacity="0.91" stroke-width="3.0"/>
<path d="M389.6,1936.9l36.8,0 36.8,0 33.8,-0.6 24.6,-2.1 24.5,-3.6 24.6,-4.1 24.5,-4 24.6,-3 24.6,-1.6 24.5,-0.9 24.6,-0.6 24.5,-0.8 24.6,-1.3 24.6,-3.1 24.5,-5.5 12.3,-4.2 15.4,-9.2 15.3,-10.8 15.3,-11.4 15.4,-11.6 15.4,-9.2 15.3,-8 15.3,-5.9 15.4,-4.5 15.4,-3.2 15.3,-0.4 15.3,2.3 15.4,3.4 15.4,3.6 15.3,4.6 15.3,4.6 15.4,3.5 15.3,2.8 15.4,2.4 15.3,2.2 15.4,2 30.7,3.3 30.7,3.2 30.7,3.7 30.7,4.5 30.7,7.7 30.7,9.4 30.7,8.5 9.2,1.4 9.2,0.7 9.2,-2.4 9.2,-3.7 9.2,-4.8 9.3,-8.1 9.2,-17 9.2,-27.8 9.2,-33.3 9.2,-43.2 15.4,-66.6 15.3,-62.6 15.3,-71.4 15.4,-82.3 15.4,-96.6 15.3,-95.1 15.3,-83.1 15.4,-73.8 15.3,-73 10.8,-54.3 10.7,-43.3 10.8,-33.7 10.7,-23.8 10.8,-16.6 10.7,-12.4 10.8,-9.9 10.7,-8 10.8,-6.8 10.7,-5.9 10.7,-5.3 10.8,-4.8 10.7,-4.4 10.8,-4 10.7,-3.9 7.7,-2.5 24.6,-7.7 24.5,-7 24.6,-6.1 24.5,-5 24.6,-4.3 24.6,-3.7 24.5,-3 24.6,-1.9 24.5,-0.6 24.6,0.5 24.6,1.2 24.5,1.7 24.6,3 24.5,5.5 24.6,9.9 10.7,6.5 10.8,8.6 10.7,11.5 10.8,14.8 10.7,18.1 10.8,20.8 10.7,22.3 10.8,22.8 10.7,22.5 10.7,21.3 10.8,19.3 10.7,16.2 10.8,12.1 10.7,8.5 10.8,5.3 10.7,3.3 10.8,2 19.9,1.7" stroke="#a0e2c0" stroke-opacity="0.95" stroke-width="3.0"/>
<path d="M389.6,1937.9l36.8,0 36.8,0 33.8,-0.6 24.6,-2.1 24.5,-3.6 24.6,-4.2 24.5,-3.9 24.6,-3 24.6,-1.6 24.5,-0.9 24.6,-0.7 24.5,-0.7 24.6,-1.4 24.6,-3 24.5,-5.5 12.3,-4.1 15.4,-9.1 15.3,-10.6 15.3,-11.2 15.4,-11.5 15.4,-9.2 15.3,-8 15.3,-5.9 15.4,-4.5 15.4,-3.2 15.3,-0.4 15.3,2.2 15.4,3.4 15.4,3.6 15.3,4.6 15.3,4.7 15.4,3.4 15.3,2.8 15.4,2.5 15.3,2.2 15.4,2 30.7,3.3 30.7,3.2 30.7,3.8 30.7,4.5 30.7,7.7 30.7,9.3 30.7,8.4 9.2,1.4 9.2,0.6 9.2,-2.4 9.2,-3.7 9.2,-4.8 9.3,-8.1 9.2,-17.2 9.2,-28.1 9.2,-33.9 9.2,-43.8 15.4,-67.1 15.3,-63 15.3,-71.6 15.4,-82.6 15.4,-96.9 15.3,-95.4 15.3,-83.4 15.4,-74 15.3,-73.3 10.8,-54.4 10.7,-43.4 10.8,-33.8 10.7,-23.8 10.8,-16.7 10.7,-12.5 10.8,-9.9 10.7,-8 10.8,-6.8 10.7,-6 10.7,-5.3 10.8,-4.8 10.7,-4.4 10.8,-4.1 10.7,-3.8 7.7,-2.6 24.6,-7.7 24.5,-7 24.6,-6.1 24.5,-5.1 24.6,-4.3 24.6,-3.7 24.5,-3 24.6,-1.9 24.5,-0.6 24.6,0.5 24.6,1.1 24.5,1.8 24.6,3 24.5,5.5 24.6,9.9 10.7,6.5 10.8,8.7 10.7,11.5 10.8,14.8 10.7,18.2 10.8,20.8 10.7,22.5 10.8,22.8 10.7,22.5 10.7,21.4 10.8,19.4 10.7,16.2 10.8,12.2 10.7,8.5 10.8,5.3 10.7,3.3 10.8,2 19.9,1.8" stroke="#4cb28a" stroke-opacity="0.71" stroke-width="3.0"/>
<path d="M389.6,1954.1l36.8,0 36.8,0 33.8,-0.6 24.6,-2.1 24.5,-3.6 24.6,-4.1 24.5,-4 24.6,-3 24.6,-1.6 24.5,-0.9 24.6,-0.7 24.5,-0.8 24.6,-1.2 24.6,-2.6 24.5,-4.5 12.3,-3.1 15.4,-6.5 15.3,-7.7 15.3,-9 15.4,-9.7 15.4,-8.1 15.3,-7.4 15.3,-5.6 15.4,-4.4 15.4,-3.3 15.3,-0.4 15.3,2 15.4,3 15.4,3.3 15.3,4.5 15.3,4.6 15.4,3.4 15.3,2.8 15.4,2.4 15.3,2.2 15.4,2.1 30.7,3.5 30.7,3.4 30.7,4.1 30.7,4.9 30.7,6.4 30.7,7.5 30.7,7.6 9.2,0.5 9.2,0.1 9.2,-2.5 9.2,-3.5 9.2,-4.8 9.3,-8.5 9.2,-17.7 9.2,-31 9.2,-39.9 9.2,-49.3 15.4,-70.6 15.3,-63.5 15.3,-71.5 15.4,-82.7 15.4,-96.2 15.3,-94.5 15.3,-82.2 15.4,-73 15.3,-72.3 10.8,-53.6 10.7,-42.7 10.8,-33.2 10.7,-23.5 10.8,-16.4 10.7,-12.4 10.8,-9.8 10.7,-8 10.8,-6.8 10.7,-6.1 10.7,-5.3 10.8,-4.8 10.7,-4.4 10.8,-4.2 10.7,-3.8 7.7,-2.6 24.6,-7.9 24.5,-7 24.6,-6.2 24.5,-5.2 24.6,-4.4 24.6,-3.8 24.5,-3 24.6,-2 24.5,-0.6 24.6,0.4 24.6,1.1 24.5,1.7 24.6,2.9 24.5,5.4 24.6,9.6 10.7,6.5 10.8,8.4 10.7,11.3 10.8,14.6 10.7,17.9 10.8,20.5 10.7,22.1 10.8,22.6 10.7,22.2 10.7,21.2 10.8,19.1 10.7,16.1 10.8,12.1 10.7,8.4 10.8,5.3 10.7,3.3 10.8,2 19.9,1.7" stroke="#60c096" stroke-opacity="0.94" stroke-width="3.0"/>
<path d="M389.6,1940.4l36.8,0 36.8,0 33.8,-0.5 24.6,-2.2 24.5,-3.7 24.6,-4.2 24.5,-4 24.6,-3 24.6,-1.7 24.5,-0.9 24.6,-0.6 24.5,-0.8 24.6,-1.3 24.6,-3 24.5,-5.4 12.3,-3.9 15.4,-8.7 15.3,-10.2 15.3,-10.9 15.4,-11.3 15.4,-9.1 15.3,-8 15.3,-5.9 15.4,-4.5 15.4,-3.3 15.3,-0.4 15.3,2.2 15.4,3.3 15.4,3.6 15.3,4.7 15.3,4.7 15.4,3.5 15.3,2.8 15.4,2.5 15.3,2.3 15.4,2 30.7,3.4 30.7,3.3 30.7,3.9 30.7,4.6 30.7,7.6 30.7,9 30.7,8.4 9.2,1.2 9.2,0.4 9.2,-2.5 9.2,-3.9 9.2,-5.5 9.3,-9.6 9.2,-20.3 9.2,-34.2 9.2,-41 9.2,-49.4 15.4,-76.2 15.3,-71.5 15.3,-76.5 15.4,-82.9 15.4,-103 15.3,-102 15.3,-92 15.4,-82.2 15.3,-80.6 10.8,-60.3 10.7,-49.2 10.8,-38.5 10.7,-26.8 10.8,-18.2 10.7,-13.4 10.8,-10.3 10.7,-8.2 10.8,-6.8 10.7,-5.8 10.7,-5.1 10.8,-4.5 10.7,-4.1 10.8,-3.8 10.7,-3.5 7.7,-2.4 24.6,-7 24.5,-6.3 24.6,-5.4 24.5,-4.4 24.6,-3.7 24.6,-3.1 24.5,-2.4 24.6,-1.4 24.5,-0.2 24.6,0.8 24.6,1.4 24.5,2.2 24.6,3.7 24.5,6.7 24.6,11.8 10.7,7.7 10.8,10.1 10.7,13.2 10.8,16.7 10.7,20.4 10.8,23.3 10.7,24.8 10.8,25.2 10.7,24.6 10.7,23.2 10.8,20.9 10.7,17.3 10.8,13 10.7,8.9 10.8,5.6 10.7,3.4 10.8,2 19.9,1.7" stroke="#3aa47e" stroke-opacity="0.85" stroke-width="3.0"/>
<path d="M389.6,1935.5l36.8,0 36.8,0 33.8,-0.5 24.6,-2.1 24.5,-3.6 24.6,-4.1 24.5,-4 24.6,-2.9 24.6,-1.6 24.5,-0.9 24.6,-0.6 24.5,-0.8 24.6,-1.3 24.6,-3.1 24.5,-5.7 12.3,-4.2 15.4,-9.5 15.3,-10.9 15.3,-11.6 15.4,-11.7 15.4,-9.3 15.3,-8 15.3,-6 15.4,-4.4 15.4,-3.2 15.3,-0.4 15.3,2.3 15.4,3.4 15.4,3.6 15.3,4.6 15.3,4.6 15.4,3.5 15.3,2.8 15.4,2.4 15.3,2.2 15.4,2 30.7,3.3 30.7,3.1 30.7,3.6 30.7,4.5 30.7,7.8 30.7,9.5 30.7,8.5 9.2,1.5 9.2,0.7 9.2,-2.3 9.2,-3.7 9.2,-4.9 9.3,-8.2 9.2,-17.2 9.2,-28 9.2,-33.1 9.2,-43 15.4,-66.8 15.3,-63.2 15.3,-71.4 15.4,-81.8 15.4,-96.9 15.3,-95.3 15.3,-83.8 15.4,-74.4 15.3,-73.6 10.8,-54.7 10.7,-43.8 10.8,-34.1 10.7,-24 10.8,-16.7 10.7,-12.5 10.8,-9.9 10.7,-7.9 10.8,-6.8 10.7,-5.9 10.7,-5.2 10.8,-4.7 10.7,-4.3 10.8,-4 10.7,-3.8 7.7,-2.5 24.6,-7.6 24.5,-6.8 24.6,-5.9 24.5,-5 24.6,-4.1 24.6,-3.6 24.5,-2.9 24.6,-1.8 24.5,-0.5 24.6,0.5 24.6,1.2 24.5,1.8 24.6,3 24.5,5.7 24.6,10 10.7,6.7 10.8,8.7 10.7,11.7 10.8,14.9 10.7,18.3 10.8,21 10.7,22.5 10.8,23 10.7,22.6 10.7,21.4 10.8,19.4 10.7,16.2 10.8,12.2 10.7,8.4 10.8,5.4 10.7,3.3 10.8,1.9 19.9,1.7" stroke="#60c096" stroke-opacity="0.84" stroke-width="3.0"/>
<path d="M389.6,1935.9l36.8,0 36.8,0 33.8,-0.6 24.6,-2 24.5,-3.7 24.6,-4.1 24.5,-3.9 24.6,-2.9 24.6,-1.7 24.5,-0.8 24.6,-0.7 24.5,-0.7 24.6,-1.3 24.6,-3.1 24.5,-5.7 12.3,-4.1 15.4,-9.5 15.3,-10.9 15.3,-11.5 15.4,-11.7 15.4,-9.2 15.3,-8 15.3,-6 15.4,-4.4 15.4,-3.2 15.3,-0.4 15.3,2.3 15.4,3.4 15.4,3.6 15.3,4.6 15.3,4.6 15.4,3.4 15.3,2.8 15.4,2.5 15.3,2.2 15.4,1.9 30.7,3.3 30.7,3.1 30.7,3.6 30.7,4.5 30.7,7.8 30.7,9.5 30.7,8.4 9.2,1.6 9.2,0.7 9.2,-2.1 9.2,-3.4 9.2,-3.9 9.3,-6.1 9.2,-12.7 9.2,-19.9 9.2,-24.3 9.2,-36.8 15.4,-54.8 15.3,-50.9 15.3,-65.2 15.4,-83.1 15.4,-88.7 15.3,-86.4 15.3,-71.3 15.4,-62.4 15.3,-62.8 10.8,-46.2 10.7,-35.1 10.8,-27.1 10.7,-19.7 10.8,-14.5 10.7,-11.3 10.8,-9.3 10.7,-7.9 10.8,-6.9 10.7,-6.2 10.7,-5.7 10.8,-5.2 10.7,-4.9 10.8,-4.7 10.7,-4.3 7.7,-3 24.6,-8.8 24.5,-8.1 24.6,-7.2 24.5,-6.2 24.6,-5.4 24.6,-4.6 24.5,-3.9 24.6,-2.7 24.5,-1.1 24.6,0.1 24.6,0.6 24.5,1 24.6,2 24.5,4 24.6,7 10.7,4.9 10.8,6.6 10.7,9.1 10.8,12 10.7,15 10.8,17.4 10.7,19 10.8,19.7 10.7,19.6 10.7,18.9 10.8,17.2 10.7,14.7 10.8,11.2 10.7,7.9 10.8,5.1 10.7,3.2 10.8,1.9 19.9,1.7" stroke="#60c096" stroke-opacity="0.83" stroke-width="3.0"/>
<path d="M389.6,1954.2l36.8,0 36.8,0 33.8,-0.6 24.6,-2 24.5,-3.7 24.6,-4.1 24.5,-4 24.6,-2.9 24.6,-1.7 24.5,-0.8 24.6,-0.7 24.5,-0.8 24.6,-1.2 24.6,-2.6 24.5,-4.5 12.3,-3.1 15.4,-6.4 15.3,-7.8 15.3,-9 15.4,-9.6 15.4,-8.1 15.3,-7.3 15.3,-5.6 15.4,-4.4 15.4,-3.3 15.3,-0.4 15.3,1.9 15.4,3.1 15.4,3.3 15.3,4.5 15.3,4.5 15.4,3.4 15.3,2.8 15.4,2.4 15.3,2.2 15.4,2.1 30.7,3.4 30.7,3.4 30.7,4.2 30.7,4.8 30.7,6.4 30.7,7.5 30.7,7.6 9.2,0.6 9.2,0 9.2,-2.3 9.2,-3.3 9.2,-4.2 9.3,-7.1 9.2,-14.7 9.2,-25.6 9.2,-34.1 9.2,-45.1 15.4,-62.8 15.3,-55.3 15.3,-67.3 15.4,-83.4 15.4,-90.8 15.3,-88.6 15.3,-74 15.4,-65 15.3,-65.3 10.8,-48 10.7,-37 10.8,-28.5 10.7,-20.7 10.8,-14.9 10.7,-11.7 10.8,-9.4 10.7,-7.9 10.8,-6.9 10.7,-6.3 10.7,-5.6 10.8,-5.1 10.7,-4.9 10.8,-4.5 10.7,-4.2 7.7,-2.9 24.6,-8.7 24.5,-7.8 24.6,-7 24.5,-6.1 24.6,-5.1 24.6,-4.5 24.5,-3.7 24.6,-2.5 24.5,-1 24.6,0.1 24.6,0.7 24.5,1.2 24.6,2.3 24.5,4.2 24.6,7.7 10.7,5.2 10.8,7.1 10.7,9.6 10.8,12.6 10.7,15.7 10.8,18.2 10.7,19.8 10.8,20.4 10.7,20.3 10.7,19.4 10.8,17.8 10.7,15 10.8,11.5 10.7,8 10.8,5.2 10.7,3.2 10.8,2 19.9,1.7" stroke="#8ad8b0" stroke-opacity="0.70" stroke-width="3.0"/>
<path d="M389.6,1928.5l36.8,0 36.8,0 33.8,-0.5 24.6,-2.1 24.5,-3.7 24.6,-4.1 24.5,-4 24.6,-2.9 24.6,-1.7 24.5,-0.8 24.6,-0.7 24.5,-0.7 24.6,-1.4 24.6,-3.3 24.5,-6.1 12.3,-4.6 15.4,-10.7 15.3,-12.2 15.3,-12.5 15.4,-12.5 15.4,-9.8 15.3,-8.4 15.3,-6.1 15.4,-4.4 15.4,-3.2 15.3,-0.4 15.3,2.4 15.4,3.6 15.4,3.7 15.3,4.7 15.3,4.7 15.4,3.4 15.3,2.9 15.4,2.4 15.3,2.2 15.4,2 30.7,3.2 30.7,3.1 30.7,3.5 30.7,4.3 30.7,8.4 30.7,10.3 30.7,8.9 9.2,1.9 9.2,1.1 9.2,-2.1 9.2,-3.2 9.2,-3.6 9.3,-5.1 9.2,-10.4 9.2,-14.9 9.2,-17.8 9.2,-31.7 15.4,-48.1 15.3,-45.3 15.3,-62.7 15.4,-84.4 15.4,-86 15.3,-83.2 15.3,-66.4 15.4,-57.7 15.3,-58.7 10.8,-42.8 10.7,-31.7 10.8,-24.1 10.7,-18.1 10.8,-13.6 10.7,-10.9 10.8,-9.2 10.7,-7.8 10.8,-7.1 10.7,-6.4 10.7,-6 10.8,-5.5 10.7,-5.2 10.8,-4.9 10.7,-4.7 7.7,-3.2 24.6,-9.5 24.5,-8.7 24.6,-7.8 24.5,-6.9 24.6,-5.9 24.6,-5.1 24.5,-4.4 24.6,-3.1 24.5,-1.3 24.6,-0.2 24.6,0.3 24.5,0.8 24.6,1.6 24.5,3.1 24.6,5.9 10.7,4.1 10.8,5.7 10.7,8.1 10.8,10.8 10.7,13.7 10.8,16 10.7,17.6 10.8,18.4 10.7,18.4 10.7,18 10.8,16.5 10.7,14.1 10.8,10.9 10.7,7.7 10.8,5.1 10.7,3.1 10.8,2 19.9,1.7" stroke="#b4ecd0" stroke-opacity="0.90" stroke-width="3.0"/>
<path d="M389.6,1946.5l36.8,0 36.8,0 33.8,-0.6 24.6,-2.1 24.5,-3.6 24.6,-4.2 24.5,-4 24.6,-3 24.6,-1.6 24.5,-0.9 24.6,-0.6 24.5,-0.8 24.6,-1.3 24.6,-2.8 24.5,-5 12.3,-3.6 15.4,-7.7 15.3,-9.1 15.3,-10 15.4,-10.6 15.4,-8.6 15.3,-7.7 15.3,-5.8 15.4,-4.4 15.4,-3.3 15.3,-0.4 15.3,2.1 15.4,3.2 15.4,3.5 15.3,4.6 15.3,4.6 15.4,3.4 15.3,2.8 15.4,2.5 15.3,2.2 15.4,2 30.7,3.4 30.7,3.4 30.7,3.9 30.7,4.8 30.7,7 30.7,8.3 30.7,8 9.2,0.9 9.2,0.4 9.2,-2.4 9.2,-3.7 9.2,-4.8 9.3,-8.2 9.2,-17.5 9.2,-29.5 9.2,-37.1 9.2,-46.7 15.4,-69 15.3,-63.1 15.3,-71.6 15.4,-83 15.4,-96.6 15.3,-95 15.3,-82.7 15.4,-73.4 15.3,-72.7 10.8,-54 10.7,-42.9 10.8,-33.4 10.7,-23.7 10.8,-16.5 10.7,-12.5 10.8,-9.8 10.7,-8.1 10.8,-6.8 10.7,-6 10.7,-5.3 10.8,-4.9 10.7,-4.4 10.8,-4.2 10.7,-3.8 7.7,-2.7 24.6,-7.8 24.5,-7.1 24.6,-6.2 24.5,-5.1 24.6,-4.4 24.6,-3.8 24.5,-3.1 24.6,-2 24.5,-0.6 24.6,0.5 24.6,1.1 24.5,1.7 24.6,2.9 24.5,5.5 24.6,9.7 10.7,6.4 10.8,8.6 10.7,11.4 10.8,14.6 10.7,18 10.8,20.6 10.7,22.3 10.8,22.7 10.7,22.3 10.7,21.3 10.8,19.3 10.7,16.1 10.8,12.2 10.7,8.4 10.8,5.4 10.7,3.3 10.8,2 19.9,1.7" stroke="#74cca2" stroke-opacity="0.87" stroke-width="3.0"/>
<path d="M389.6,1923.3l36.8,0 36.8,0 33.8,-0.5 24.6,-2.1 24.5,-3.7 24.6,-4.1 24.5,-4.1 24.6,-2.9 24.6,-1.7 24.5,-0.8 24.6,-0.7 24.5,-0.7 24.6,-1.4 24.6,-3.5 24.5,-6.5 12.3,-4.9 15.4,-11.4 15.3,-13.2 15.3,-13.2 15.4,-13.2 15.4,-10.1 15.3,-8.6 15.3,-6.2 15.4,-4.5 15.4,-3.3 15.3,-0.3 15.3,2.4 15.4,3.8 15.4,3.8 15.3,4.8 15.3,4.7 15.4,3.5 15.3,2.8 15.4,2.5 15.3,2.2 15.4,2 30.7,3.2 30.7,3 30.7,3.4 30.7,4.3 30.7,8.8 30.7,10.9 30.7,9.1 9.2,2.1 9.2,1.1 9.2,-2.3 9.2,-4.1 9.2,-5.4 9.3,-9.1 9.2,-19.3 9.2,-30.4 9.2,-33.6 9.2,-42.7 15.4,-71 15.3,-69.8 15.3,-75.5 15.4,-81.9 15.4,-102.5 15.3,-101.4 15.3,-91.8 15.4,-82 15.3,-80.5 10.8,-60.1 10.7,-49.2 10.8,-38.4 10.7,-26.8 10.8,-18.1 10.7,-13.3 10.8,-10.3 10.7,-8.1 10.8,-6.7 10.7,-5.8 10.7,-5 10.8,-4.5 10.7,-4 10.8,-3.7 10.7,-3.5 7.7,-2.3 24.6,-6.9 24.5,-6.2 24.6,-5.3 24.5,-4.3 24.6,-3.6 24.6,-3 24.5,-2.4 24.6,-1.3 24.5,-0.2 24.6,0.8 24.6,1.5 24.5,2.2 24.6,3.7 24.5,6.8 24.6,11.7 10.7,7.8 10.8,10.1 10.7,13.2 10.8,16.7 10.7,20.4 10.8,23.2 10.7,24.8 10.8,25.1 10.7,24.5 10.7,23.1 10.8,20.8 10.7,17.3 10.8,12.9 10.7,8.8 10.8,5.5 10.7,3.4 10.8,2 19.9,1.7" stroke="#3aa47e" stroke-opacity="0.78" stroke-width="3.0"/>
<path d="M389.6,1930.3l36.8,0 36.8,0 33.8,-0.5 24.6,-2.1 24.5,-3.6 24.6,-4.2 24.5,-4 24.6,-2.9 24.6,-1.6 24.5,-0.9 24.6,-0.6 24.5,-0.8 24.6,-1.3 24.6,-3.3 24.5,-6 12.3,-4.5 15.4,-10.3 15.3,-11.9 15.3,-12.3 15.4,-12.3 15.4,-9.7 15.3,-8.3 15.3,-6 15.4,-4.5 15.4,-3.2 15.3,-0.4 15.3,2.4 15.4,3.5 15.4,3.7 15.3,4.7 15.3,4.7 15.4,3.4 15.3,2.8 15.4,2.5 15.3,2.2 15.4,2 30.7,3.2 30.7,3.1 30.7,3.5 30.7,4.4 30.7,8.3 30.7,10.1 30.7,8.8 9.2,1.8 9.2,1 9.2,-2.1 9.2,-3.2 9.2,-3.6 9.3,-5.1 9.2,-10.5 9.2,-15.3 9.2,-18.5 9.2,-32.4 15.4,-48.6 15.3,-45.4 15.3,-62.7 15.4,-84.4 15.4,-86 15.3,-83.1 15.3,-66.4 15.4,-57.6 15.3,-58.7 10.8,-42.8 10.7,-31.7 10.8,-24.1 10.7,-18 10.8,-13.6 10.7,-11 10.8,-9.1 10.7,-7.9 10.8,-7 10.7,-6.5 10.7,-5.9 10.8,-5.5 10.7,-5.2 10.8,-4.9 10.7,-4.7 7.7,-3.2 24.6,-9.5 24.5,-8.7 24.6,-7.8 24.5,-6.8 24.6,-6 24.6,-5.1 24.5,-4.3 24.6,-3.2 24.5,-1.3 24.6,-0.2 24.6,0.4 24.5,0.7 24.6,1.6 24.5,3.2 24.6,5.8 10.7,4.1 10.8,5.7 10.7,8.1 10.8,10.8 10.7,13.7 10.8,16 10.7,17.6 10.8,18.4 10.7,18.4 10.7,17.9 10.8,16.5 10.7,14.1 10.8,10.9 10.7,7.7 10.8,5.1 10.7,3.1 10.8,2 19.9,1.7" stroke="#74cca2" stroke-opacity="0.81" stroke-width="3.0"/>
<path d="M389.6,1922l36.8,0 36.8,0 33.8,-0.5 24.6,-2.1 24.5,-3.7 24.6,-4.2 24.5,-4 24.6,-3 24.6,-1.7 24.5,-0.8 24.6,-0.7 24.5,-0.7 24.6,-1.4 24.6,-3.5 24.5,-6.6 12.3,-5 15.4,-11.7 15.3,-13.3 15.3,-13.5 15.4,-13.3 15.4,-10.2 15.3,-8.7 15.3,-6.3 15.4,-4.5 15.4,-3.3 15.3,-0.3 15.3,2.5 15.4,3.7 15.4,3.9 15.3,4.8 15.3,4.7 15.4,3.6 15.3,2.8 15.4,2.5 15.3,2.2 15.4,2 30.7,3.2 30.7,3.1 30.7,3.3 30.7,4.3 30.7,8.9 30.7,11.1 30.7,9.2 9.2,2.2 9.2,1.3 9.2,-2.1 9.2,-3.5 9.2,-4.1 9.3,-5.8 9.2,-12.2 9.2,-17.6 9.2,-19.5 9.2,-32.7 15.4,-52.4 15.3,-50.8 15.3,-66 15.4,-84.5 15.4,-90.5 15.3,-88.1 15.3,-72.8 15.4,-63.7 15.3,-64.2 10.8,-47.1 10.7,-35.9 10.8,-27.6 10.7,-20.2 10.8,-14.7 10.7,-11.6 10.8,-9.5 10.7,-8 10.8,-7 10.7,-6.4 10.7,-5.8 10.8,-5.3 10.7,-5 10.8,-4.7 10.7,-4.4 7.7,-3 24.6,-9.1 24.5,-8.1 24.6,-7.4 24.5,-6.3 24.6,-5.5 24.6,-4.7 24.5,-3.9 24.6,-2.7 24.5,-1.2 24.6,0.1 24.6,0.6 24.5,1.1 24.6,2.1 24.5,4 24.6,7.2 10.7,5 10.8,6.8 10.7,9.3 10.8,12.2 10.7,15.3 10.8,17.8 10.7,19.4 10.8,20.1 10.7,20 10.7,19.3 10.8,17.6 10.7,14.9 10.8,11.4 10.7,8.1 10.8,5.2 10.7,3.3 10.8,1.9 19.9,1.8" stroke="#a0e2c0" stroke-opacity="0.85" stroke-width="3.0"/>
<path d="M389.6,1940.3l36.8,0 36.8,0 33.8,-0.6 24.6,-2 24.5,-3.7 24.6,-4.1 24.5,-4 24.6,-3 24.6,-1.6 24.5,-0.9 24.6,-0.7 24.5,-0.7 24.6,-1.3 24.6,-3 24.5,-5.4 12.3,-3.9 15.4,-8.7 15.3,-10.2 15.3,-10.9 15.4,-11.2 15.4,-9 15.3,-7.9 15.3,-5.9 15.4,-4.5 15.4,-3.2 15.3,-0.4 15.3,2.2 15.4,3.3 15.4,3.6 15.3,4.6 15.3,4.6 15.4,3.4 15.3,2.8 15.4,2.5 15.3,2.2 15.4,2 30.7,3.4 30.7,3.2 30.7,3.8 30.7,4.6 30.7,7.5 30.7,9 30.7,8.3 9.2,1.2 9.2,0.6 9.2,-2.4 9.2,-3.7 9.2,-5 9.3,-8.4 9.2,-17.9 9.2,-29.6 9.2,-35.8 9.2,-45.5 15.4,-69.1 15.3,-64.7 15.3,-72.3 15.4,-82.5 15.4,-97.8 15.3,-96.4 15.3,-84.8 15.4,-75.4 15.3,-74.5 10.8,-55.4 10.7,-44.4 10.8,-34.6 10.7,-24.3 10.8,-16.9 10.7,-12.7 10.8,-9.9 10.7,-8 10.8,-6.8 10.7,-6 10.7,-5.2 10.8,-4.7 10.7,-4.4 10.8,-4 10.7,-3.7 7.7,-2.6 24.6,-7.5 24.5,-6.9 24.6,-5.9 24.5,-5 24.6,-4.2 24.6,-3.5 24.5,-2.9 24.6,-1.8 24.5,-0.5 24.6,0.5 24.6,1.2 24.5,1.9 24.6,3.1 24.5,5.8 24.6,10.1 10.7,6.8 10.8,8.9 10.7,11.8 10.8,15.1 10.7,18.6 10.8,21.2 10.7,22.9 10.8,23.2 10.7,22.8 10.7,21.8 10.8,19.5 10.7,16.4 10.8,12.4 10.7,8.5 10.8,5.4 10.7,3.3 10.8,1.9 19.9,1.8" stroke="#a0e2c0" stroke-opacity="0.79" stroke-width="3.0"/>
<path d="M389.6,1917.5l36.8,0 36.8,0 33.8,-0.6 24.6,-2.1 24.5,-3.6 24.6,-4.2 24.5,-4 24.6,-3 24.6,-1.6 24.5,-0.8 24.6,-0.6 24.5,-0.8 24.6,-1.4 24.6,-3.6 24.5,-6.9 12.3,-5.3 15.4,-12.4 15.3,-14.1 15.3,-14.1 15.4,-13.8 15.4,-10.4 15.3,-8.9 15.3,-6.3 15.4,-4.5 15.4,-3.2 15.3,-0.4 15.3,2.6 15.4,3.8 15.4,3.9 15.3,4.9 15.3,4.7 15.4,3.5 15.3,2.8 15.4,2.5 15.3,2.2 15.4,2 30.7,3.1 30.7,3 30.7,3.1 30.7,4.2 30.7,9.3 30.7,11.5 30.7,9.4 9.2,2.4 9.2,1.3 9.2,-2.3 9.2,-4.1 9.2,-5.3 9.3,-8.8 9.2,-18.8 9.2,-28.7 9.2,-30.8 9.2,-40.1 15.4,-68.7 15.3,-68.7 15.3,-74.9 15.4,-81.7 15.4,-102 15.3,-100.9 15.3,-91.2 15.4,-81.5 15.3,-79.9 10.8,-59.7 10.7,-48.8 10.8,-38.1 10.7,-26.6 10.8,-18 10.7,-13.3 10.8,-10.2 10.7,-8.1 10.8,-6.7 10.7,-5.8 10.7,-5 10.8,-4.5 10.7,-4 10.8,-3.7 10.7,-3.5 7.7,-2.3 24.6,-6.9 24.5,-6.3 24.6,-5.3 24.5,-4.3 24.6,-3.6 24.6,-3.1 24.5,-2.3 24.6,-1.4 24.5,-0.2 24.6,0.8 24.6,1.4 24.5,2.2 24.6,3.7 24.5,6.6 24.6,11.7 10.7,7.7 10.8,10 10.7,13.1 10.8,16.6 10.7,20.2 10.8,23 10.7,24.7 10.8,24.9 10.7,24.3 10.7,23.1 10.8,20.6 10.7,17.2 10.8,12.8 10.7,8.8 10.8,5.6 10.7,3.3 10.8,2 19.9,1.7" stroke="#a0e2c0" stroke-opacity="0.82" stroke-width="3.0"/>
<path d="M389.6,1931.7l36.8,0 36.8,-0.1 33.8,-0.5 24.6,-2.1 24.5,-3.6 24.6,-4.1 24.5,-4 24.6,-2.9 24.6,-1.6 24.5,-0.9 24.6,-0.6 24.5,-0.8 24.6,-1.3 24.6,-3.2 24.5,-5.9 12.3,-4.4 15.4,-10.2 15.3,-11.6 15.3,-12.1 15.4,-12.2 15.4,-9.5 15.3,-8.2 15.3,-6 15.4,-4.4 15.4,-3.2 15.3,-0.4 15.3,2.3 15.4,3.5 15.4,3.7 15.3,4.7 15.3,4.6 15.4,3.4 15.3,2.8 15.4,2.5 15.3,2.2 15.4,1.9 30.7,3.3 30.7,3 30.7,3.5 30.7,4.4 30.7,8.2 30.7,9.9 30.7,8.7 9.2,1.7 9.2,0.9 9.2,-2.3 9.2,-3.6 9.2,-4.5 9.3,-7.3 9.2,-15.4 9.2,-24.3 9.2,-28.3 9.2,-39.3 15.4,-61.4 15.3,-58.5 15.3,-69.1 15.4,-82.2 15.4,-94 15.3,-92.2 15.3,-79.4 15.4,-70.2 15.3,-69.8 10.8,-51.7 10.7,-40.7 10.8,-31.6 10.7,-22.5 10.8,-15.9 10.7,-12.1 10.8,-9.7 10.7,-7.9 10.8,-6.8 10.7,-6 10.7,-5.4 10.8,-4.9 10.7,-4.5 10.8,-4.3 10.7,-3.9 7.7,-2.7 24.6,-8 24.5,-7.3 24.6,-6.4 24.5,-5.4 24.6,-4.6 24.6,-3.9 24.5,-3.3 24.6,-2.1 24.5,-0.7 24.6,0.3 24.6,1 24.5,1.5 24.6,2.7 24.5,5.1 24.6,9 10.7,6 10.8,8 10.7,10.7 10.8,13.9 10.7,17.2 10.8,19.7 10.7,21.3 10.8,21.8 10.7,21.5 10.7,20.5 10.8,18.7 10.7,15.6 10.8,11.9 10.7,8.2 10.8,5.3 10.7,3.2 10.8,2 19.9,1.7" stroke="#3aa47e" stroke-opacity="0.88" stroke-width="3.0"/>
<path d="M389.6,1925.9l36.8,0 36.8,0 33.8,-0.6 24.6,-2.1 24.5,-3.7 24.6,-4.1 24.5,-4 24.6,-3 24.6,-1.6 24.5,-0.9 24.6,-0.6 24.5,-0.8 24.6,-1.3 24.6,-3.4 24.5,-6.4 12.3,-4.7 15.4,-11.1 15.3,-12.6 15.3,-13 15.4,-12.8 15.4,-9.9 15.3,-8.6 15.3,-6.1 15.4,-4.5 15.4,-3.2 15.3,-0.4 15.3,2.4 15.4,3.7 15.4,3.7 15.3,4.8 15.3,4.7 15.4,3.5 15.3,2.8 15.4,2.5 15.3,2.2 15.4,2 30.7,3.2 30.7,3.1 30.7,3.4 30.7,4.3 30.7,8.7 30.7,10.5 30.7,9.1 9.2,2 9.2,1.1 9.2,-2.2 9.2,-3.6 9.2,-4.3 9.3,-6.5 9.2,-13.8 9.2,-20.8 9.2,-23.6 9.2,-35.8 15.4,-56.8 15.3,-54.6 15.3,-67.7 15.4,-83.7 15.4,-92.4 15.3,-90.4 15.3,-76.2 15.4,-67.1 15.3,-67.2 10.8,-49.5 10.7,-38.4 10.8,-29.7 10.7,-21.3 10.8,-15.4 10.7,-11.9 10.8,-9.6 10.7,-8 10.8,-6.9 10.7,-6.2 10.7,-5.6 10.8,-5.1 10.7,-4.8 10.8,-4.5 10.7,-4.2 7.7,-2.9 24.6,-8.5 24.5,-7.7 24.6,-6.9 24.5,-5.9 24.6,-5.1 24.6,-4.3 24.5,-3.6 24.6,-2.4 24.5,-1 24.6,0.2 24.6,0.8 24.5,1.4 24.6,2.3 24.5,4.6 24.6,8.1 10.7,5.5 10.8,7.4 10.7,10 10.8,13.1 10.7,16.3 10.8,18.8 10.7,20.4 10.8,21 10.7,20.8 10.7,19.9 10.8,18.2 10.7,15.3 10.8,11.7 10.7,8.2 10.8,5.2 10.7,3.3 10.8,2 19.9,1.7" stroke="#4cb28a" stroke-opacity="0.86" stroke-width="3.0"/>
<path d="M389.6,1927.4l36.8,0 36.8,0 33.8,-0.6 24.6,-2 24.5,-3.7 24.6,-4.1 24.5,-4 24.6,-3 24.6,-1.6 24.5,-0.9 24.6,-0.6 24.5,-0.8 24.6,-1.3 24.6,-3.4 24.5,-6.2 12.3,-4.7 15.4,-10.8 15.3,-12.4 15.3,-12.7 15.4,-12.6 15.4,-9.8 15.3,-8.5 15.3,-6.1 15.4,-4.5 15.4,-3.2 15.3,-0.4 15.3,2.5 15.4,3.6 15.4,3.7 15.3,4.7 15.3,4.7 15.4,3.5 15.3,2.8 15.4,2.5 15.3,2.2 15.4,2 30.7,3.2 30.7,3 30.7,3.5 30.7,4.3 30.7,8.5 30.7,10.4 30.7,8.9 9.2,2 9.2,1.1 9.2,-2.2 9.2,-3.5 9.2,-4.1 9.3,-6.2 9.2,-13 9.2,-19.4 9.2,-22.5 9.2,-35 15.4,-54.8 15.3,-52.3 15.3,-66.4 15.4,-83.6 15.4,-90.6 15.3,-88.5 15.3,-73.7 15.4,-64.6 15.3,-65 10.8,-47.8 10.7,-36.7 10.8,-28.2 10.7,-20.6 10.8,-14.9 10.7,-11.6 10.8,-9.4 10.7,-8 10.8,-6.9 10.7,-6.3 10.7,-5.6 10.8,-5.3 10.7,-4.8 10.8,-4.6 10.7,-4.3 7.7,-2.9 24.6,-8.8 24.5,-7.9 24.6,-7.1 24.5,-6.1 24.6,-5.2 24.6,-4.6 24.5,-3.7 24.6,-2.6 24.5,-1 24.6,0.1 24.6,0.7 24.5,1.1 24.6,2.2 24.5,4.2 24.6,7.6 10.7,5.1 10.8,7 10.7,9.6 10.8,12.5 10.7,15.6 10.8,18.1 10.7,19.7 10.8,20.3 10.7,20.1 10.7,19.5 10.8,17.7 10.7,15 10.8,11.4 10.7,8.1 10.8,5.2 10.7,3.2 10.8,1.9 19.9,1.8" stroke="#b4ecd0" stroke-opacity="0.93" stroke-width="3.0"/>
<path d="M389.6,1923.4l36.8,0 36.8,0 33.8,-0.5 24.6,-2.1 24.5,-3.7 24.6,-4.1 24.5,-4 24.6,-3 24.6,-1.6 24.5,-0.9 24.6,-0.6 24.5,-0.8 24.6,-1.4 24.6,-3.4 24.5,-6.5 12.3,-4.9 15.4,-11.5 15.3,-13 15.3,-13.3 15.4,-13.1 15.4,-10.1 15.3,-8.6 15.3,-6.2 15.4,-4.5 15.4,-3.2 15.3,-0.4 15.3,2.5 15.4,3.7 15.4,3.8 15.3,4.8 15.3,4.7 15.4,3.5 15.3,2.8 15.4,2.5 15.3,2.2 15.4,2 30.7,3.2 30.7,3 30.7,3.3 30.7,4.3 30.7,8.8 30.7,10.9 30.7,9.1 9.2,2.1 9.2,1.2 9.2,-2.2 9.2,-3.7 9.2,-4.6 9.3,-7.1 9.2,-15.1 9.2,-22.7 9.2,-25.3 9.2,-36.7 15.4,-59.8 15.3,-58.2 15.3,-69.5 15.4,-83 15.4,-94.8 15.3,-93 15.3,-80 15.4,-70.8 15.3,-70.4 10.8,-52.1 10.7,-41 10.8,-31.9 10.7,-22.7 10.8,-16 10.7,-12.2 10.8,-9.8 10.7,-8 10.8,-6.9 10.7,-6.1 10.7,-5.4 10.8,-4.9 10.7,-4.6 10.8,-4.3 10.7,-4 7.7,-2.7 24.6,-8.1 24.5,-7.4 24.6,-6.4 24.5,-5.5 24.6,-4.7 24.6,-4 24.5,-3.3 24.6,-2.1 24.5,-0.8 24.6,0.4 24.6,1 24.5,1.5 24.6,2.7 24.5,5.1 24.6,9 10.7,6.1 10.8,8.1 10.7,10.8 10.8,14 10.7,17.3 10.8,19.8 10.7,21.5 10.8,22 10.7,21.7 10.7,20.7 10.8,18.8 10.7,15.8 10.8,12 10.7,8.3 10.8,5.3 10.7,3.3 10.8,2 19.9,1.7" stroke="#a0e2c0" stroke-opacity="0.73" stroke-width="3.0"/>
<path d="M389.6,1943.1l36.8,0 36.8,0 33.8,-0.5 24.6,-2.1 24.5,-3.6 24.6,-4.1 24.5,-4 24.6,-2.9 24.6,-1.7 24.5,-0.8 24.6,-0.7 24.5,-0.8 24.6,-1.3 24.6,-2.9 24.5,-5.1 12.3,-3.8 15.4,-8.2 15.3,-9.7 15.3,-10.5 15.4,-10.9 15.4,-8.7 15.3,-7.8 15.3,-5.8 15.4,-4.4 15.4,-3.2 15.3,-0.5 15.3,2.2 15.4,3.3 15.4,3.4 15.3,4.6 15.3,4.6 15.4,3.4 15.3,2.8 15.4,2.4 15.3,2.2 15.4,2 30.7,3.4 30.7,3.2 30.7,3.9 30.7,4.6 30.7,7.2 30.7,8.7 30.7,8.1 9.2,1.1 9.2,0.4 9.2,-2.4 9.2,-3.9 9.2,-5.3 9.3,-9.2 9.2,-19.8 9.2,-33.2 9.2,-40.2 9.2,-48.6 15.4,-74.2 15.3,-69.4 15.3,-74.5 15.4,-81.3 15.4,-100.4 15.3,-99.2 15.3,-89.3 15.4,-79.7 15.3,-78.2 10.8,-58.5 10.7,-47.6 10.8,-37.2 10.7,-25.9 10.8,-17.6 10.7,-13.1 10.8,-10 10.7,-8.1 10.8,-6.7 10.7,-5.7 10.7,-5 10.8,-4.5 10.7,-4.1 10.8,-3.7 10.7,-3.5 7.7,-2.3 24.6,-7 24.5,-6.3 24.6,-5.4 24.5,-4.4 24.6,-3.6 24.6,-3.1 24.5,-2.5 24.6,-1.4 24.5,-0.3 24.6,0.8 24.6,1.4 24.5,2.1 24.6,3.5 24.5,6.4 24.6,11.3 10.7,7.5 10.8,9.7 10.7,12.8 10.8,16.2 10.7,19.7 10.8,22.5 10.7,24.1 10.8,24.5 10.7,23.8 10.7,22.6 10.8,20.3 10.7,16.9 10.8,12.6 10.7,8.7 10.8,5.4 10.7,3.4 10.8,1.9 19.9,1.8" stroke="#2c9872" stroke-opacity="0.71" stroke-width="3.0"/>
<path d="M389.6,1951.2l36.8,0 36.8,0 33.8,-0.6 24.6,-2.1 24.5,-3.6 24.6,-4.2 24.5,-3.9 24.6,-3 24.6,-1.6 24.5,-0.9 24.6,-0.7 24.5,-0.8 24.6,-1.2 24.6,-2.7 24.5,-4.7 12.3,-3.3 15.4,-6.9 15.3,-8.3 15.3,-9.4 15.4,-10 15.4,-8.3 15.3,-7.4 15.3,-5.7 15.4,-4.4 15.4,-3.3 15.3,-0.4 15.3,2 15.4,3.1 15.4,3.4 15.3,4.5 15.3,4.5 15.4,3.5 15.3,2.7 15.4,2.5 15.3,2.2 15.4,2.1 30.7,3.4 30.7,3.4 30.7,4 30.7,4.8 30.7,6.7 30.7,7.8 30.7,7.8 9.2,0.6 9.2,0.1 9.2,-2.5 9.2,-3.7 9.2,-5.2 9.3,-9.3 9.2,-19.7 9.2,-34.2 9.2,-42.8 9.2,-51.2 15.4,-75.3 15.3,-69 15.3,-74.3 15.4,-82 15.4,-99.9 15.3,-98.6 15.3,-88.1 15.4,-78.5 15.3,-77.3 10.8,-57.6 10.7,-46.7 10.8,-36.5 10.7,-25.5 10.8,-17.5 10.7,-12.9 10.8,-10.1 10.7,-8 10.8,-6.8 10.7,-5.8 10.7,-5.1 10.8,-4.6 10.7,-4.1 10.8,-3.9 10.7,-3.5 7.7,-2.5 24.6,-7.1 24.5,-6.5 24.6,-5.6 24.5,-4.6 24.6,-3.8 24.6,-3.3 24.5,-2.6 24.6,-1.6 24.5,-0.3 24.6,0.7 24.6,1.3 24.5,2 24.6,3.4 24.5,6.3 24.6,11 10.7,7.2 10.8,9.5 10.7,12.5 10.8,15.9 10.7,19.4 10.8,22.2 10.7,23.8 10.8,24.1 10.7,23.6 10.7,22.3 10.8,20.2 10.7,16.7 10.8,12.6 10.7,8.7 10.8,5.4 10.7,3.3 10.8,2 19.9,1.7" stroke="#60c096" stroke-opacity="0.89" stroke-width="3.0"/>
<path d="M389.6,1933l36.8,0 36.8,0 33.8,-0.5 24.6,-2.1 24.5,-3.7 24.6,-4.1 24.5,-4 24.6,-3 24.6,-1.7 24.5,-0.8 24.6,-0.7 24.5,-0.8 24.6,-1.3 24.6,-3.2 24.5,-5.8 12.3,-4.4 15.4,-9.9 15.3,-11.4 15.3,-11.9 15.4,-12.1 15.4,-9.5 15.3,-8.2 15.3,-6 15.4,-4.5 15.4,-3.3 15.3,-0.4 15.3,2.4 15.4,3.5 15.4,3.6 15.3,4.7 15.3,4.7 15.4,3.5 15.3,2.8 15.4,2.5 15.3,2.2 15.4,2 30.7,3.3 30.7,3.2 30.7,3.6 30.7,4.5 30.7,8 30.7,9.8 30.7,8.7 9.2,1.6 9.2,0.8 9.2,-2.3 9.2,-3.8 9.2,-5 9.3,-8.3 9.2,-17.6 9.2,-28.2 9.2,-33.2 9.2,-43.1 15.4,-67.6 15.3,-64.4 15.3,-72.5 15.4,-82.6 15.4,-98.4 15.3,-96.8 15.3,-85.4 15.4,-75.8 15.3,-74.9 10.8,-55.8 10.7,-44.7 10.8,-34.8 10.7,-24.5 10.8,-17 10.7,-12.8 10.8,-9.9 10.7,-8.1 10.8,-6.8 10.7,-6 10.7,-5.2 10.8,-4.8 10.7,-4.3 10.8,-4 10.7,-3.8 7.7,-2.5 24.6,-7.6 24.5,-6.8 24.6,-6 24.5,-4.9 24.6,-4.2 24.6,-3.6 24.5,-2.8 24.6,-1.9 24.5,-0.4 24.6,0.5 24.6,1.2 24.5,1.9 24.6,3.1 24.5,5.8 24.6,10.3 10.7,6.8 10.8,9 10.7,11.9 10.8,15.2 10.7,18.7 10.8,21.4 10.7,23 10.8,23.4 10.7,22.9 10.7,21.9 10.8,19.6 10.7,16.5 10.8,12.4 10.7,8.6 10.8,5.4 10.7,3.3 10.8,2 19.9,1.7" stroke="#b4ecd0" stroke-opacity="0.83" stroke-width="3.0"/>
<path d="M389.6,1934.5l36.8,0 36.8,0 33.8,-0.5 24.6,-2.1 24.5,-3.7 24.6,-4.1 24.5,-4 24.6,-2.9 24.6,-1.7 24.5,-0.8 24.6,-0.7 24.5,-0.8 24.6,-1.3 24.6,-3.1 24.5,-5.8 12.3,-4.2 15.4,-9.7 15.3,-11.1 15.3,-11.8 15.4,-11.8 15.4,-9.4 15.3,-8.1 15.3,-6 15.4,-4.5 15.4,-3.2 15.3,-0.4 15.3,2.3 15.4,3.4 15.4,3.7 15.3,4.6 15.3,4.7 15.4,3.4 15.3,2.9 15.4,2.4 15.3,2.2 15.4,2 30.7,3.3 30.7,3.2 30.7,3.6 30.7,4.5 30.7,7.9 30.7,9.7 30.7,8.5 9.2,1.5 9.2,0.8 9.2,-2.5 9.2,-4 9.2,-5.4 9.3,-9.4 9.2,-20.2 9.2,-32.9 9.2,-38.5 9.2,-46.9 15.4,-74.2 15.3,-71.2 15.3,-75.7 15.4,-81.5 15.4,-102.3 15.3,-101.4 15.3,-91.9 15.4,-82.2 15.3,-80.5 10.8,-60.2 10.7,-49.4 10.8,-38.6 10.7,-26.8 10.8,-18.1 10.7,-13.3 10.8,-10.3 10.7,-8.1 10.8,-6.6 10.7,-5.8 10.7,-5 10.8,-4.4 10.7,-3.9 10.8,-3.7 10.7,-3.4 7.7,-2.3 24.6,-6.8 24.5,-6.1 24.6,-5.2 24.5,-4.2 24.6,-3.5 24.6,-3 24.5,-2.3 24.6,-1.3 24.5,-0.1 24.6,0.8 24.6,1.5 24.5,2.3 24.6,3.7 24.5,6.8 24.6,11.8 10.7,7.8 10.8,10.2 10.7,13.2 10.8,16.8 10.7,20.4 10.8,23.3 10.7,24.8 10.8,25.2 10.7,24.5 10.7,23.1 10.8,20.8 10.7,17.2 10.8,12.9 10.7,8.8 10.8,5.5 10.7,3.4 10.8,2 19.9,1.7" stroke="#3aa47e" stroke-opacity="0.88" stroke-width="3.0"/>
<path d="M389.6,1950.2l36.8,0 36.8,0 33.8,-0.6 24.6,-2 24.5,-3.7 24.6,-4.1 24.5,-4 24.6,-3 24.6,-1.6 24.5,-0.9 24.6,-0.7 24.5,-0.8 24.6,-1.2 24.6,-2.7 24.5,-4.7 12.3,-3.4 15.4,-7.1 15.3,-8.4 15.3,-9.6 15.4,-10.1 15.4,-8.4 15.3,-7.5 15.3,-5.7 15.4,-4.4 15.4,-3.3 15.3,-0.4 15.3,2 15.4,3.2 15.4,3.4 15.3,4.5 15.3,4.6 15.4,3.4 15.3,2.8 15.4,2.4 15.3,2.2 15.4,2.1 30.7,3.4 30.7,3.4 30.7,4.1 30.7,4.7 30.7,6.8 30.7,7.9 30.7,7.8 9.2,0.8 9.2,0.2 9.2,-2.2 9.2,-3.2 9.2,-3.8 9.3,-6.1 9.2,-12.6 9.2,-21.3 9.2,-28.8 9.2,-41.2 15.4,-56.8 15.3,-49.9 15.3,-64.7 15.4,-84.4 15.4,-87.8 15.3,-85.1 15.3,-69 15.4,-60.1 15.3,-60.9 10.8,-44.5 10.7,-33.5 10.8,-25.5 10.7,-19 10.8,-14 10.7,-11.2 10.8,-9.3 10.7,-7.9 10.8,-7 10.7,-6.4 10.7,-5.8 10.8,-5.5 10.7,-5 10.8,-4.9 10.7,-4.5 7.7,-3.1 24.6,-9.3 24.5,-8.4 24.6,-7.6 24.5,-6.6 24.6,-5.7 24.6,-4.9 24.5,-4.2 24.6,-2.9 24.5,-1.3 24.6,0 24.6,0.4 24.5,0.9 24.6,1.8 24.5,3.5 24.6,6.5 10.7,4.4 10.8,6.2 10.7,8.6 10.8,11.4 10.7,14.3 10.8,16.8 10.7,18.3 10.8,19.1 10.7,19 10.7,18.5 10.8,16.9 10.7,14.5 10.8,11 10.7,7.9 10.8,5.1 10.7,3.2 10.8,2 19.9,1.7" stroke="#b4ecd0" stroke-opacity="0.94" stroke-width="3.0"/>
<path d="M389.6,1949.7l36.8,0 36.8,0 33.8,-0.5 24.6,-2.1 24.5,-3.7 24.6,-4.1 24.5,-4 24.6,-2.9 24.6,-1.7 24.5,-0.8 24.6,-0.7 24.5,-0.8 24.6,-1.2 24.6,-2.8 24.5,-4.7 12.3,-3.4 15.4,-7.2 15.3,-8.5 15.3,-9.6 15.4,-10.2 15.4,-8.3 15.3,-7.5 15.3,-5.7 15.4,-4.4 15.4,-3.3 15.3,-0.4 15.3,2 15.4,3.1 15.4,3.4 15.3,4.6 15.3,4.5 15.4,3.4 15.3,2.8 15.4,2.5 15.3,2.2 15.4,2 30.7,3.5 30.7,3.3 30.7,4 30.7,4.8 30.7,6.7 30.7,8 30.7,7.9 9.2,0.8 9.2,0.3 9.2,-2.2 9.2,-2.9 9.2,-3.4 9.3,-5.1 9.2,-10.2 9.2,-17.1 9.2,-24 9.2,-37.7 15.4,-50.6 15.3,-43.5 15.3,-61.4 15.4,-85 15.4,-83.5 15.3,-80.5 15.3,-62.6 15.4,-54 15.3,-55.4 10.8,-40.2 10.7,-29 10.8,-22 10.7,-16.8 10.8,-12.9 10.7,-10.6 10.8,-8.9 10.7,-7.9 10.8,-7.1 10.7,-6.5 10.7,-6.1 10.8,-5.7 10.7,-5.4 10.8,-5.1 10.7,-4.8 7.7,-3.3 24.6,-10 24.5,-9 24.6,-8.2 24.5,-7.2 24.6,-6.3 24.6,-5.5 24.5,-4.6 24.6,-3.4 24.5,-1.6 24.6,-0.3 24.6,0.2 24.5,0.6 24.6,1.2 24.5,2.6 24.6,5 10.7,3.6 10.8,5 10.7,7.3 10.8,9.9 10.7,12.7 10.8,14.9 10.7,16.6 10.8,17.3 10.7,17.6 10.7,17.1 10.8,15.8 10.7,13.7 10.8,10.5 10.7,7.6 10.8,5 10.7,3.2 10.8,1.9 19.9,1.7" stroke="#4cb28a" stroke-opacity="0.93" stroke-width="3.0"/>
<path d="M389.6,1938l36.8,0 36.8,0 33.8,-0.5 24.6,-2.1 24.5,-3.6 24.6,-4.1 24.5,-4 24.6,-2.9 24.6,-1.7 24.5,-0.8 24.6,-0.7 24.5,-0.8 24.6,-1.3 24.6,-3 24.5,-5.5 12.3,-4.1 15.4,-9 15.3,-10.6 15.3,-11.2 15.4,-11.5 15.4,-9.1 15.3,-7.9 15.3,-5.9 15.4,-4.4 15.4,-3.3 15.3,-0.4 15.3,2.3 15.4,3.3 15.4,3.6 15.3,4.6 15.3,4.6 15.4,3.5 15.3,2.7 15.4,2.5 15.3,2.2 15.4,2 30.7,3.3 30.7,3.2 30.7,3.7 30.7,4.5 30.7,7.6 30.7,9.3 30.7,8.4 9.2,1.3 9.2,0.7 9.2,-2.3 9.2,-3.5 9.2,-4.5 9.3,-7.4 9.2,-15.5 9.2,-25.1 9.2,-30.5 9.2,-41.4 15.4,-62.5 15.3,-58.4 15.3,-69 15.4,-82.6 15.4,-93.6 15.3,-91.8 15.3,-78.6 15.4,-69.5 15.3,-69.2 10.8,-51.1 10.7,-40.3 10.8,-31.1 10.7,-22.3 10.8,-15.7 10.7,-12.1 10.8,-9.6 10.7,-8 10.8,-6.8 10.7,-6.1 10.7,-5.4 10.8,-4.9 10.7,-4.6 10.8,-4.3 10.7,-4 7.7,-2.7 24.6,-8.2 24.5,-7.3 24.6,-6.5 24.5,-5.6 24.6,-4.7 24.6,-4 24.5,-3.3 24.6,-2.2 24.5,-0.8 24.6,0.3 24.6,1 24.5,1.5 24.6,2.6 24.5,4.9 24.6,8.8 10.7,5.9 10.8,7.9 10.7,10.5 10.8,13.7 10.7,17 10.8,19.5 10.7,21.1 10.8,21.6 10.7,21.3 10.7,20.4 10.8,18.6 10.7,15.5 10.8,11.8 10.7,8.3 10.8,5.2 10.7,3.3 10.8,1.9 19.9,1.8" stroke="#8ad8b0" stroke-opacity="0.79" stroke-width="3.0"/>
<path d="M389.6,1931.8l36.8,0 36.8,0 33.8,-0.5 24.6,-2.1 24.5,-3.7 24.6,-4.2 24.5,-4.1 24.6,-3 24.6,-1.6 24.5,-0.9 24.6,-0.6 24.5,-0.8 24.6,-1.4 24.6,-3.2 24.5,-6 12.3,-4.4 15.4,-10.1 15.3,-11.6 15.3,-12.1 15.4,-12.3 15.4,-9.6 15.3,-8.3 15.3,-6.1 15.4,-4.5 15.4,-3.3 15.3,-0.4 15.3,2.4 15.4,3.5 15.4,3.7 15.3,4.8 15.3,4.7 15.4,3.5 15.3,2.8 15.4,2.5 15.3,2.3 15.4,2 30.7,3.3 30.7,3.2 30.7,3.6 30.7,4.5 30.7,8.2 30.7,10 30.7,8.7 9.2,1.7 9.2,0.8 9.2,-2.4 9.2,-4 9.2,-5.3 9.3,-9.1 9.2,-19.3 9.2,-31.3 9.2,-36.4 9.2,-45.4 15.4,-72.2 15.3,-69.3 15.3,-75.4 15.4,-82.8 15.4,-102 15.3,-100.9 15.3,-90.5 15.4,-80.8 15.3,-79.3 10.8,-59.3 10.7,-48.2 10.8,-37.6 10.7,-26.3 10.8,-17.9 10.7,-13.2 10.8,-10.3 10.7,-8.1 10.8,-6.9 10.7,-5.9 10.7,-5.1 10.8,-4.6 10.7,-4.1 10.8,-3.9 10.7,-3.5 7.7,-2.4 24.6,-7.2 24.5,-6.4 24.6,-5.6 24.5,-4.5 24.6,-3.8 24.6,-3.2 24.5,-2.5 24.6,-1.6 24.5,-0.2 24.6,0.7 24.6,1.4 24.5,2.1 24.6,3.6 24.5,6.5 24.6,11.4 10.7,7.5 10.8,9.9 10.7,12.9 10.8,16.4 10.7,20 10.8,22.8 10.7,24.4 10.8,24.8 10.7,24.2 10.7,23 10.8,20.5 10.7,17.2 10.8,12.8 10.7,8.9 10.8,5.5 10.7,3.4 10.8,2 19.9,1.8" stroke="#b4ecd0" stroke-opacity="0.86" stroke-width="3.0"/>
<path d="M389.6,1942.5l36.8,0 36.8,0 33.8,-0.6 24.6,-2 24.5,-3.7 24.6,-4.1 24.5,-3.9 24.6,-2.9 24.6,-1.7 24.5,-0.8 24.6,-0.7 24.5,-0.8 24.6,-1.3 24.6,-2.9 24.5,-5.2 12.3,-3.8 15.4,-8.3 15.3,-9.8 15.3,-10.6 15.4,-10.9 15.4,-8.8 15.3,-7.8 15.3,-5.8 15.4,-4.4 15.4,-3.2 15.3,-0.4 15.3,2.1 15.4,3.3 15.4,3.5 15.3,4.6 15.3,4.5 15.4,3.4 15.3,2.8 15.4,2.5 15.3,2.1 15.4,2.1 30.7,3.3 30.7,3.2 30.7,3.8 30.7,4.6 30.7,7.3 30.7,8.8 30.7,8.1 9.2,1.1 9.2,0.5 9.2,-2.4 9.2,-3.6 9.2,-4.8 9.3,-8.2 9.2,-17.3 9.2,-28.8 9.2,-35.3 9.2,-45 15.4,-67.7 15.3,-62.9 15.3,-71.1 15.4,-81.9 15.4,-96.2 15.3,-94.5 15.3,-82.7 15.4,-73.4 15.3,-72.7 10.8,-54 10.7,-43 10.8,-33.5 10.7,-23.7 10.8,-16.5 10.7,-12.4 10.8,-9.8 10.7,-8 10.8,-6.7 10.7,-6 10.7,-5.2 10.8,-4.7 10.7,-4.4 10.8,-4.1 10.7,-3.7 7.7,-2.6 24.6,-7.7 24.5,-6.9 24.6,-6 24.5,-5.1 24.6,-4.3 24.6,-3.6 24.5,-3 24.6,-1.9 24.5,-0.5 24.6,0.5 24.6,1.1 24.5,1.7 24.6,3 24.5,5.5 24.6,9.8 10.7,6.5 10.8,8.6 10.7,11.4 10.8,14.7 10.7,18 10.8,20.7 10.7,22.2 10.8,22.7 10.7,22.3 10.7,21.2 10.8,19.2 10.7,16.1 10.8,12.1 10.7,8.4 10.8,5.3 10.7,3.3 10.8,1.9 19.9,1.8" stroke="#2c9872" stroke-opacity="0.72" stroke-width="3.0"/>
<path d="M389.6,1952.7l36.8,0 36.8,0 33.8,-0.5 24.6,-2.1 24.5,-3.7 24.6,-4.2 24.5,-4 24.6,-3 24.6,-1.7 24.5,-0.9 24.6,-0.6 24.5,-0.8 24.6,-1.3 24.6,-2.7 24.5,-4.5 12.3,-3.2 15.4,-6.7 15.3,-8 15.3,-9.3 15.4,-9.9 15.4,-8.2 15.3,-7.4 15.3,-5.7 15.4,-4.5 15.4,-3.3 15.3,-0.4 15.3,2 15.4,3.1 15.4,3.4 15.3,4.5 15.3,4.6 15.4,3.4 15.3,2.8 15.4,2.5 15.3,2.2 15.4,2.1 30.7,3.5 30.7,3.4 30.7,4.2 30.7,4.9 30.7,6.5 30.7,7.8 30.7,7.7 9.2,0.6 9.2,0.1 9.2,-2.5 9.2,-3.5 9.2,-4.6 9.3,-8 9.2,-16.7 9.2,-29.1 9.2,-37.8 9.2,-47.9 15.4,-68.1 15.3,-61 15.3,-70.7 15.4,-83.8 15.4,-95.2 15.3,-93.3 15.3,-80.1 15.4,-70.7 15.3,-70.5 10.8,-52.1 10.7,-41 10.8,-31.8 10.7,-22.7 10.8,-16 10.7,-12.3 10.8,-9.7 10.7,-8.1 10.8,-6.9 10.7,-6.2 10.7,-5.4 10.8,-5.1 10.7,-4.6 10.8,-4.3 10.7,-4.1 7.7,-2.7 24.6,-8.2 24.5,-7.4 24.6,-6.6 24.5,-5.6 24.6,-4.7 24.6,-4.1 24.5,-3.3 24.6,-2.2 24.5,-0.8 24.6,0.4 24.6,0.9 24.5,1.6 24.6,2.6 24.5,5.1 24.6,9 10.7,6 10.8,8 10.7,10.9 10.8,13.9 10.7,17.3 10.8,19.9 10.7,21.4 10.8,22 10.7,21.8 10.7,20.7 10.8,18.9 10.7,15.8 10.8,12 10.7,8.4 10.8,5.3 10.7,3.3 10.8,2 19.9,1.7" stroke="#8ad8b0" stroke-opacity="0.84" stroke-width="3.0"/>
<path d="M389.6,1939l36.8,0 36.8,0 33.8,-0.6 24.6,-2.1 24.5,-3.6 24.6,-4.2 24.5,-4 24.6,-2.9 24.6,-1.7 24.5,-0.8 24.6,-0.7 24.5,-0.8 24.6,-1.3 24.6,-3 24.5,-5.5 12.3,-4 15.4,-8.9 15.3,-10.4 15.3,-11.1 15.4,-11.4 15.4,-9.1 15.3,-7.9 15.3,-6 15.4,-4.4 15.4,-3.3 15.3,-0.4 15.3,2.3 15.4,3.3 15.4,3.6 15.3,4.6 15.3,4.7 15.4,3.4 15.3,2.8 15.4,2.5 15.3,2.2 15.4,2 30.7,3.4 30.7,3.2 30.7,3.8 30.7,4.6 30.7,7.5 30.7,9.2 30.7,8.4 9.2,1.4 9.2,0.6 9.2,-2.1 9.2,-3.2 9.2,-3.7 9.3,-5.4 9.2,-11.2 9.2,-17.6 9.2,-22.7 9.2,-36 15.4,-51.8 15.3,-46.8 15.3,-63.5 15.4,-84.8 15.4,-86.6 15.3,-83.8 15.3,-67.1 15.4,-58.2 15.3,-59.3 10.8,-43.2 10.7,-32.1 10.8,-24.4 10.7,-18.3 10.8,-13.7 10.7,-11 10.8,-9.2 10.7,-7.9 10.8,-7.1 10.7,-6.4 10.7,-6 10.8,-5.5 10.7,-5.2 10.8,-5 10.7,-4.6 7.7,-3.2 24.6,-9.5 24.5,-8.7 24.6,-7.8 24.5,-6.8 24.6,-5.9 24.6,-5.1 24.5,-4.4 24.6,-3.1 24.5,-1.3 24.6,-0.2 24.6,0.4 24.5,0.8 24.6,1.6 24.5,3.2 24.6,6 10.7,4.2 10.8,5.8 10.7,8.1 10.8,11 10.7,13.8 10.8,16.2 10.7,17.8 10.8,18.6 10.7,18.6 10.7,18.1 10.8,16.6 10.7,14.2 10.8,10.9 10.7,7.8 10.8,5.1 10.7,3.2 10.8,1.9 19.9,1.8" stroke="#b4ecd0" stroke-opacity="0.83" stroke-width="3.0"/>
<path d="M389.6,1933l36.8,0 36.8,0 33.8,-0.6 24.6,-2 24.5,-3.7 24.6,-4.1 24.5,-4 24.6,-3 24.6,-1.6 24.5,-0.9 24.6,-0.6 24.5,-0.8 24.6,-1.3 24.6,-3.2 24.5,-5.9 12.3,-4.3 15.4,-9.9 15.3,-11.4 15.3,-12 15.4,-12 15.4,-9.4 15.3,-8.2 15.3,-6.1 15.4,-4.4 15.4,-3.2 15.3,-0.4 15.3,2.3 15.4,3.5 15.4,3.6 15.3,4.7 15.3,4.7 15.4,3.4 15.3,2.8 15.4,2.5 15.3,2.2 15.4,2 30.7,3.3 30.7,3.1 30.7,3.6 30.7,4.4 30.7,8.1 30.7,9.8 30.7,8.6 9.2,1.7 9.2,0.9 9.2,-2.3 9.2,-3.4 9.2,-4.2 9.3,-6.6 9.2,-13.7 9.2,-21.3 9.2,-25.6 9.2,-37.6 15.4,-57.3 15.3,-53.9 15.3,-67.1 15.4,-83.4 15.4,-91.4 15.3,-89.1 15.3,-74.7 15.4,-65.6 15.3,-65.9 10.8,-48.4 10.7,-37.4 10.8,-28.9 10.7,-20.9 10.8,-15.1 10.7,-11.7 10.8,-9.5 10.7,-7.9 10.8,-6.9 10.7,-6.3 10.7,-5.6 10.8,-5.1 10.7,-4.9 10.8,-4.5 10.7,-4.2 7.7,-2.9 24.6,-8.7 24.5,-7.8 24.6,-6.9 24.5,-6 24.6,-5.2 24.6,-4.4 24.5,-3.7 24.6,-2.5 24.5,-1 24.6,0.2 24.6,0.7 24.5,1.2 24.6,2.3 24.5,4.4 24.6,7.8 10.7,5.3 10.8,7.1 10.7,9.8 10.8,12.7 10.7,15.9 10.8,18.4 10.7,20 10.8,20.5 10.7,20.4 10.7,19.7 10.8,17.9 10.7,15.1 10.8,11.5 10.7,8.1 10.8,5.2 10.7,3.3 10.8,1.9 19.9,1.7" stroke="#4cb28a" stroke-opacity="0.75" stroke-width="3.0"/>
<path d="M389.6,1920.6l36.8,0 36.8,0 33.8,-0.6 24.6,-2.1 24.5,-3.7 24.6,-4.2 24.5,-4 24.6,-3 24.6,-1.6 24.5,-0.9 24.6,-0.6 24.5,-0.8 24.6,-1.4 24.6,-3.5 24.5,-6.7 12.3,-5.1 15.4,-11.9 15.3,-13.6 15.3,-13.7 15.4,-13.5 15.4,-10.3 15.3,-8.7 15.3,-6.3 15.4,-4.6 15.4,-3.2 15.3,-0.4 15.3,2.5 15.4,3.8 15.4,3.9 15.3,4.8 15.3,4.8 15.4,3.5 15.3,2.9 15.4,2.5 15.3,2.2 15.4,2 30.7,3.2 30.7,3 30.7,3.3 30.7,4.3 30.7,9 30.7,11.2 30.7,9.3 9.2,2.3 9.2,1.3 9.2,-2.2 9.2,-3.7 9.2,-4.6 9.3,-7 9.2,-14.8 9.2,-21.9 9.2,-24.1 9.2,-35.8 15.4,-58.9 15.3,-57.8 15.3,-69.7 15.4,-83.8 15.4,-95.2 15.3,-93.3 15.3,-79.9 15.4,-70.7 15.3,-70.4 10.8,-52 10.7,-40.9 10.8,-31.7 10.7,-22.7 10.8,-16 10.7,-12.3 10.8,-9.8 10.7,-8 10.8,-7 10.7,-6.2 10.7,-5.5 10.8,-5 10.7,-4.6 10.8,-4.4 10.7,-4.1 7.7,-2.7 24.6,-8.3 24.5,-7.5 24.6,-6.6 24.5,-5.6 24.6,-4.8 24.6,-4.1 24.5,-3.3 24.6,-2.3 24.5,-0.7 24.6,0.3 24.6,0.9 24.5,1.6 24.6,2.6 24.5,5 24.6,9 10.7,6 10.8,8 10.7,10.8 10.8,13.9 10.7,17.2 10.8,19.9 10.7,21.4 10.8,22 10.7,21.7 10.7,20.8 10.8,18.8 10.7,15.9 10.8,12 10.7,8.3 10.8,5.4 10.7,3.3 10.8,2 19.9,1.7" stroke="#60c096" stroke-opacity="0.82" stroke-width="3.0"/>
<path d="M389.6,1961.6l36.8,0 36.8,0 33.8,-0.5 24.6,-2.1 24.5,-3.7 24.6,-4.1 24.5,-4 24.6,-3 24.6,-1.6 24.5,-0.9 24.6,-0.7 24.5,-0.8 24.6,-1.2 24.6,-2.4 24.5,-4 12.3,-2.6 15.4,-5.3 15.3,-6.4 15.3,-8 15.4,-8.9 15.4,-7.6 15.3,-7 15.3,-5.6 15.4,-4.3 15.4,-3.3 15.3,-0.5 15.3,1.9 15.4,2.8 15.4,3.3 15.3,4.4 15.3,4.5 15.4,3.4 15.3,2.8 15.4,2.4 15.3,2.3 15.4,2 30.7,3.6 30.7,3.5 30.7,4.4 30.7,5 30.7,5.8 30.7,6.8 30.7,7.2 9.2,0.2 9.2,-0.1 9.2,-2.3 9.2,-2.9 9.2,-3.4 9.3,-5.4 9.2,-11.1 9.2,-19.7 9.2,-29.3 9.2,-42.4 15.4,-54.2 15.3,-44.9 15.3,-62 15.4,-85.3 15.4,-83.9 15.3,-80.8 15.3,-62.8 15.4,-54.2 15.3,-55.7 10.8,-40.4 10.7,-29.1 10.8,-22.1 10.7,-16.8 10.8,-13 10.7,-10.6 10.8,-9 10.7,-7.9 10.8,-7.1 10.7,-6.5 10.7,-6.1 10.8,-5.7 10.7,-5.4 10.8,-5.1 10.7,-4.9 7.7,-3.3 24.6,-10 24.5,-9 24.6,-8.2 24.5,-7.3 24.6,-6.3 24.6,-5.5 24.5,-4.7 24.6,-3.3 24.5,-1.6 24.6,-0.3 24.6,0.2 24.5,0.5 24.6,1.3 24.5,2.6 24.6,5 10.7,3.6 10.8,5.1 10.7,7.3 10.8,10 10.7,12.7 10.8,15 10.7,16.6 10.8,17.4 10.7,17.6 10.7,17.2 10.8,15.9 10.7,13.7 10.8,10.6 10.7,7.7 10.8,4.9 10.7,3.2 10.8,1.9 19.9,1.8" stroke="#8ad8b0" stroke-opacity="0.93" stroke-width="3.0"/>
<path d="M389.6,1947.1l36.8,0 36.8,0 33.8,-0.6 24.6,-2 24.5,-3.7 24.6,-4.2 24.5,-4 24.6,-3 24.6,-1.7 24.5,-0.8 24.6,-0.7 24.5,-0.8 24.6,-1.3 24.6,-2.8 24.5,-4.9 12.3,-3.5 15.4,-7.6 15.3,-9 15.3,-10 15.4,-10.5 15.4,-8.6 15.3,-7.7 15.3,-5.8 15.4,-4.4 15.4,-3.3 15.3,-0.5 15.3,2.1 15.4,3.3 15.4,3.4 15.3,4.6 15.3,4.6 15.4,3.5 15.3,2.8 15.4,2.4 15.3,2.3 15.4,2 30.7,3.5 30.7,3.3 30.7,4 30.7,4.8 30.7,7 30.7,8.3 30.7,8 9.2,0.8 9.2,0.3 9.2,-2.4 9.2,-3.7 9.2,-5 9.3,-8.7 9.2,-18.3 9.2,-31.1 9.2,-39 9.2,-48.3 15.4,-71.4 15.3,-65.4 15.3,-73 15.4,-83 15.4,-98.4 15.3,-96.8 15.3,-85.1 15.4,-75.6 15.3,-74.7 10.8,-55.6 10.7,-44.5 10.8,-34.6 10.7,-24.4 10.8,-17 10.7,-12.7 10.8,-10 10.7,-8.1 10.8,-6.8 10.7,-6 10.7,-5.3 10.8,-4.8 10.7,-4.3 10.8,-4.1 10.7,-3.8 7.7,-2.5 24.6,-7.7 24.5,-6.9 24.6,-6 24.5,-5 24.6,-4.2 24.6,-3.7 24.5,-2.9 24.6,-1.8 24.5,-0.5 24.6,0.5 24.6,1.2 24.5,1.8 24.6,3.1 24.5,5.8 24.6,10.2 10.7,6.8 10.8,8.9 10.7,11.8 10.8,15.2 10.7,18.6 10.8,21.3 10.7,22.9 10.8,23.3 10.7,22.9 10.7,21.8 10.8,19.7 10.7,16.4 10.8,12.4 10.7,8.6 10.8,5.4 10.7,3.3 10.8,2 19.9,1.8" stroke="#3aa47e" stroke-opacity="0.84" stroke-width="3.0"/>
<path d="M389.6,1932.4l36.8,0 36.8,0 33.8,-0.6 24.6,-2.1 24.5,-3.6 24.6,-4.2 24.5,-4 24.6,-3 24.6,-1.6 24.5,-0.9 24.6,-0.6 24.5,-0.8 24.6,-1.3 24.6,-3.2 24.5,-5.9 12.3,-4.4 15.4,-10 15.3,-11.6 15.3,-12 15.4,-12.1 15.4,-9.5 15.3,-8.3 15.3,-6 15.4,-4.5 15.4,-3.3 15.3,-0.4 15.3,2.4 15.4,3.5 15.4,3.7 15.3,4.7 15.3,4.7 15.4,3.4 15.3,2.9 15.4,2.4 15.3,2.3 15.4,2 30.7,3.3 30.7,3.1 30.7,3.6 30.7,4.4 30.7,8.2 30.7,9.9 30.7,8.6 9.2,1.7 9.2,0.8 9.2,-2.4 9.2,-4 9.2,-5.2 9.3,-9 9.2,-19.1 9.2,-30.9 9.2,-35.8 9.2,-45 15.4,-71.4 15.3,-68.5 15.3,-74.6 15.4,-82.1 15.4,-101 15.3,-99.9 15.3,-89.5 15.4,-79.9 15.3,-78.5 10.8,-58.6 10.7,-47.6 10.8,-37.2 10.7,-26 10.8,-17.7 10.7,-13.1 10.8,-10.2 10.7,-8.1 10.8,-6.7 10.7,-5.9 10.7,-5.1 10.8,-4.5 10.7,-4.1 10.8,-3.9 10.7,-3.5 7.7,-2.4 24.6,-7.1 24.5,-6.4 24.6,-5.6 24.5,-4.5 24.6,-3.7 24.6,-3.2 24.5,-2.6 24.6,-1.5 24.5,-0.3 24.6,0.8 24.6,1.4 24.5,2 24.6,3.6 24.5,6.4 24.6,11.2 10.7,7.5 10.8,9.7 10.7,12.7 10.8,16.2 10.7,19.8 10.8,22.6 10.7,24.1 10.8,24.5 10.7,24 10.7,22.7 10.8,20.4 10.7,17 10.8,12.7 10.7,8.7 10.8,5.5 10.7,3.4 10.8,1.9 19.9,1.8" stroke="#74cca2" stroke-opacity="0.84" stroke-width="3.0"/>
<path d="M389.6,1924.4l36.8,0 36.8,0 33.8,-0.5 24.6,-2.1 24.5,-3.6 24.6,-4.1 24.5,-4 24.6,-2.9 24.6,-1.6 24.5,-0.9 24.6,-0.6 24.5,-0.8 24.6,-1.3 24.6,-3.4 24.5,-6.4 12.3,-4.9 15.4,-11.2 15.3,-13 15.3,-13 15.4,-13 15.4,-9.9 15.3,-8.6 15.3,-6.1 15.4,-4.4 15.4,-3.2 15.3,-0.4 15.3,2.5 15.4,3.6 15.4,3.8 15.3,4.7 15.3,4.7 15.4,3.4 15.3,2.8 15.4,2.5 15.3,2.2 15.4,1.9 30.7,3.2 30.7,3 30.7,3.3 30.7,4.2 30.7,8.7 30.7,10.7 30.7,9 9.2,2.2 9.2,1.1 9.2,-2.1 9.2,-3.5 9.2,-4.2 9.3,-6.3 9.2,-13.3 9.2,-19.7 9.2,-22 9.2,-34.2 15.4,-54.9 15.3,-53.3 15.3,-66.5 15.4,-82.7 15.4,-91 15.3,-88.9 15.3,-74.8 15.4,-65.7 15.3,-65.9 10.8,-48.5 10.7,-37.6 10.8,-29 10.7,-20.9 10.8,-15.1 10.7,-11.7 10.8,-9.4 10.7,-7.9 10.8,-6.9 10.7,-6.2 10.7,-5.5 10.8,-5.1 10.7,-4.7 10.8,-4.5 10.7,-4.2 7.7,-2.8 24.6,-8.5 24.5,-7.7 24.6,-6.9 24.5,-5.9 24.6,-5 24.6,-4.3 24.5,-3.7 24.6,-2.4 24.5,-0.9 24.6,0.1 24.6,0.8 24.5,1.3 24.6,2.3 24.5,4.4 24.6,7.9 10.7,5.3 10.8,7.2 10.7,9.8 10.8,12.8 10.7,16 10.8,18.4 10.7,20 10.8,20.6 10.7,20.4 10.7,19.6 10.8,17.8 10.7,15.1 10.8,11.5 10.7,8.1 10.8,5.2 10.7,3.2 10.8,1.9 19.9,1.7" stroke="#60c096" stroke-opacity="0.88" stroke-width="3.0"/>
<path d="M389.6,1959.3l36.8,0 36.8,0 33.8,-0.6 24.6,-2.1 24.5,-3.6 24.6,-4.2 24.5,-3.9 24.6,-3 24.6,-1.7 24.5,-0.9 24.6,-0.6 24.5,-0.8 24.6,-1.3 24.6,-2.4 24.5,-4.1 12.3,-2.8 15.4,-5.7 15.3,-6.8 15.3,-8.3 15.4,-9.2 15.4,-7.7 15.3,-7.2 15.3,-5.5 15.4,-4.4 15.4,-3.3 15.3,-0.4 15.3,1.9 15.4,2.9 15.4,3.2 15.3,4.5 15.3,4.5 15.4,3.4 15.3,2.8 15.4,2.4 15.3,2.3 15.4,2 30.7,3.6 30.7,3.5 30.7,4.3 30.7,4.9 30.7,6 30.7,7 30.7,7.4 9.2,0.3 9.2,-0.1 9.2,-2.4 9.2,-3.2 9.2,-4 9.3,-7 9.2,-14.3 9.2,-25.3 9.2,-34.9 9.2,-46.2 15.4,-62.4 15.3,-53.8 15.3,-66.6 15.4,-84.2 15.4,-89.8 15.3,-87.3 15.3,-72.1 15.4,-63.2 15.3,-63.6 10.8,-46.7 10.7,-35.6 10.8,-27.3 10.7,-20 10.8,-14.6 10.7,-11.5 10.8,-9.4 10.7,-7.9 10.8,-7 10.7,-6.3 10.7,-5.7 10.8,-5.3 10.7,-5 10.8,-4.6 10.7,-4.4 7.7,-3 24.6,-9 24.5,-8.1 24.6,-7.2 24.5,-6.3 24.6,-5.5 24.6,-4.6 24.5,-3.9 24.6,-2.7 24.5,-1.1 24.6,0 24.6,0.6 24.5,1.1 24.6,2 24.5,4 24.6,7.2 10.7,4.9 10.8,6.7 10.7,9.2 10.8,12.2 10.7,15.1 10.8,17.7 10.7,19.2 10.8,19.9 10.7,19.8 10.7,19.1 10.8,17.5 10.7,14.8 10.8,11.3 10.7,8 10.8,5.2 10.7,3.2 10.8,1.9 19.9,1.8" stroke="#1e8c66" stroke-opacity="0.91" stroke-width="3.0"/>
<path d="M389.6,1916.4l36.8,0 36.8,0 33.8,-0.5 24.6,-2.1 24.5,-3.7 24.6,-4.1 24.5,-4 24.6,-2.9 24.6,-1.7 24.5,-0.8 24.6,-0.6 24.5,-0.8 24.6,-1.4 24.6,-3.6 24.5,-7 12.3,-5.3 15.4,-12.6 15.3,-14.3 15.3,-14.2 15.4,-13.9 15.4,-10.5 15.3,-8.9 15.3,-6.3 15.4,-4.5 15.4,-3.2 15.3,-0.3 15.3,2.6 15.4,3.8 15.4,3.9 15.3,4.8 15.3,4.8 15.4,3.5 15.3,2.8 15.4,2.5 15.3,2.2 15.4,1.9 30.7,3.1 30.7,2.9 30.7,3.1 30.7,4.2 30.7,9.3 30.7,11.6 30.7,9.5 9.2,2.5 9.2,1.5 9.2,-2 9.2,-3.5 9.2,-3.9 9.3,-5.3 9.2,-11.2 9.2,-15.1 9.2,-15.7 9.2,-29.2 15.4,-48.8 15.3,-48.2 15.3,-64.5 15.4,-83.8 15.4,-88.6 15.3,-86.2 15.3,-70.7 15.4,-61.7 15.3,-62.4 10.8,-45.7 10.7,-34.6 10.8,-26.5 10.7,-19.5 10.8,-14.4 10.7,-11.3 10.8,-9.3 10.7,-7.9 10.8,-7 10.7,-6.3 10.7,-5.8 10.8,-5.4 10.7,-5 10.8,-4.7 10.7,-4.4 7.7,-3.1 24.6,-9 24.5,-8.3 24.6,-7.3 24.5,-6.5 24.6,-5.5 24.6,-4.8 24.5,-4 24.6,-2.8 24.5,-1.1 24.6,0 24.6,0.5 24.5,1 24.6,1.9 24.5,3.8 24.6,6.9 10.7,4.7 10.8,6.4 10.7,9 10.8,11.7 10.7,14.9 10.8,17.2 10.7,18.8 10.8,19.5 10.7,19.4 10.7,18.8 10.8,17.2 10.7,14.7 10.8,11.2 10.7,7.9 10.8,5.1 10.7,3.2 10.8,2 19.9,1.7" stroke="#74cca2" stroke-opacity="0.85" stroke-width="3.0"/>
<path d="M389.6,1920.8l36.8,0 36.8,0 33.8,-0.6 24.6,-2.1 24.5,-3.6 24.6,-4.2 24.5,-4 24.6,-3 24.6,-1.6 24.5,-0.9 24.6,-0.6 24.5,-0.8 24.6,-1.3 24.6,-3.6 24.5,-6.6 12.3,-5.1 15.4,-11.9 15.3,-13.5 15.3,-13.7 15.4,-13.4 15.4,-10.2 15.3,-8.8 15.3,-6.2 15.4,-4.5 15.4,-3.3 15.3,-0.3 15.3,2.5 15.4,3.8 15.4,3.8 15.3,4.8 15.3,4.8 15.4,3.5 15.3,2.8 15.4,2.5 15.3,2.2 15.4,2 30.7,3.2 30.7,2.9 30.7,3.3 30.7,4.3 30.7,9 30.7,11.1 30.7,9.3 9.2,2.2 9.2,1.3 9.2,-2.3 9.2,-3.8 9.2,-4.9 9.3,-7.8 9.2,-16.6 9.2,-25.2 9.2,-27.5 9.2,-38 15.4,-63.5 15.3,-62.5 15.3,-71.8 15.4,-82.6 15.4,-97.9 15.3,-96.4 15.3,-84.6 15.4,-75.2 15.3,-74.3 10.8,-55.3 10.7,-44.3 10.8,-34.4 10.7,-24.3 10.8,-16.8 10.7,-12.7 10.8,-9.9 10.7,-8.1 10.8,-6.8 10.7,-6 10.7,-5.3 10.8,-4.8 10.7,-4.3 10.8,-4.1 10.7,-3.8 7.7,-2.5 24.6,-7.7 24.5,-6.9 24.6,-6 24.5,-5 24.6,-4.3 24.6,-3.6 24.5,-2.9 24.6,-1.9 24.5,-0.5 24.6,0.6 24.6,1.1 24.5,1.8 24.6,3.1 24.5,5.8 24.6,10.1 10.7,6.7 10.8,8.9 10.7,11.7 10.8,15.1 10.7,18.5 10.8,21.2 10.7,22.7 10.8,23.3 10.7,22.7 10.7,21.7 10.8,19.6 10.7,16.4 10.8,12.3 10.7,8.6 10.8,5.4 10.7,3.3 10.8,2 19.9,1.7" stroke="#74cca2" stroke-opacity="0.74" stroke-width="3.0"/>
<path d="M389.6,1956.2l36.8,0 36.8,0 33.8,-0.6 24.6,-2.1 24.5,-3.7 24.6,-4.3 24.5,-4 24.6,-3.1 24.6,-1.6 24.5,-1 24.6,-0.6 24.5,-0.8 24.6,-1.3 24.6,-2.6 24.5,-4.3 12.3,-3 15.4,-6.2 15.3,-7.4 15.3,-8.8 15.4,-9.6 15.4,-8 15.3,-7.4 15.3,-5.7 15.4,-4.5 15.4,-3.4 15.3,-0.4 15.3,2 15.4,3 15.4,3.4 15.3,4.5 15.3,4.7 15.4,3.4 15.3,2.9 15.4,2.5 15.3,2.2 15.4,2.1 30.7,3.6 30.7,3.6 30.7,4.3 30.7,5 30.7,6.3 30.7,7.4 30.7,7.7 9.2,0.3 9.2,0.1 9.2,-2.4 9.2,-3.2 9.2,-3.9 9.3,-6.5 9.2,-13.4 9.2,-23.5 9.2,-32.5 9.2,-44.8 15.4,-60.2 15.3,-51.8 15.3,-66.5 15.4,-86.2 15.4,-89.7 15.3,-87.1 15.3,-70.7 15.4,-61.6 15.3,-62.5 10.8,-45.7 10.7,-34.3 10.8,-26.2 10.7,-19.4 10.8,-14.4 10.7,-11.5 10.8,-9.4 10.7,-8.1 10.8,-7.2 10.7,-6.5 10.7,-5.9 10.8,-5.6 10.7,-5.2 10.8,-4.9 10.7,-4.6 7.7,-3.2 24.6,-9.4 24.5,-8.6 24.6,-7.7 24.5,-6.7 24.6,-5.8 24.6,-5 24.5,-4.2 24.6,-3 24.5,-1.3 24.6,0 24.6,0.5 24.5,0.9 24.6,1.8 24.5,3.7 24.6,6.6 10.7,4.6 10.8,6.4 10.7,8.8 10.8,11.7 10.7,14.7 10.8,17.2 10.7,18.8 10.8,19.5 10.7,19.5 10.7,18.9 10.8,17.4 10.7,14.7 10.8,11.4 10.7,8 10.8,5.2 10.7,3.3 10.8,2 19.9,1.7" stroke="#a0e2c0" stroke-opacity="0.74" stroke-width="3.0"/>
<path d="M389.6,1917.8l36.8,0 36.8,0 33.8,-0.6 24.6,-2.1 24.5,-3.7 24.6,-4.1 24.5,-4.1 24.6,-2.9 24.6,-1.7 24.5,-0.8 24.6,-0.6 24.5,-0.8 24.6,-1.4 24.6,-3.6 24.5,-6.9 12.3,-5.2 15.4,-12.4 15.3,-14.1 15.3,-14 15.4,-13.8 15.4,-10.5 15.3,-8.8 15.3,-6.4 15.4,-4.5 15.4,-3.2 15.3,-0.4 15.3,2.6 15.4,3.8 15.4,3.9 15.3,4.9 15.3,4.7 15.4,3.6 15.3,2.8 15.4,2.5 15.3,2.2 15.4,2 30.7,3.2 30.7,2.9 30.7,3.2 30.7,4.2 30.7,9.3 30.7,11.5 30.7,9.4 9.2,2.5 9.2,1.4 9.2,-2 9.2,-3.3 9.2,-3.6 9.3,-4.8 9.2,-9.8 9.2,-12.8 9.2,-13.6 9.2,-28.1 15.4,-45.6 15.3,-44.5 15.3,-62.9 15.4,-85 15.4,-86.7 15.3,-83.9 15.3,-66.9 15.4,-58.1 15.3,-59.2 10.8,-43.1 10.7,-31.9 10.8,-24.3 10.7,-18.1 10.8,-13.7 10.7,-11.1 10.8,-9.2 10.7,-7.9 10.8,-7.1 10.7,-6.5 10.7,-6 10.8,-5.6 10.7,-5.3 10.8,-4.9 10.7,-4.7 7.7,-3.3 24.6,-9.6 24.5,-8.7 24.6,-7.9 24.5,-6.9 24.6,-6 24.6,-5.2 24.5,-4.4 24.6,-3.1 24.5,-1.4 24.6,-0.2 24.6,0.4 24.5,0.7 24.6,1.6 24.5,3.2 24.6,5.9 10.7,4.1 10.8,5.8 10.7,8.1 10.8,10.9 10.7,13.8 10.8,16.1 10.7,17.8 10.8,18.5 10.7,18.6 10.7,18 10.8,16.6 10.7,14.2 10.8,11 10.7,7.8 10.8,5.1 10.7,3.2 10.8,2 19.9,1.7" stroke="#4cb28a" stroke-opacity="0.75" stroke-width="3.0"/>
<path d="M389.6,1956.4l36.8,0 36.8,0 33.8,-0.5 24.6,-2.1 24.5,-3.7 24.6,-4.1 24.5,-4 24.6,-3 24.6,-1.6 24.5,-0.9 24.6,-0.7 24.5,-0.8 24.6,-1.2 24.6,-2.6 24.5,-4.2 12.3,-3 15.4,-6.1 15.3,-7.4 15.3,-8.7 15.4,-9.4 15.4,-8 15.3,-7.2 15.3,-5.6 15.4,-4.4 15.4,-3.3 15.3,-0.5 15.3,2 15.4,3 15.4,3.3 15.3,4.5 15.3,4.5 15.4,3.4 15.3,2.8 15.4,2.4 15.3,2.3 15.4,2 30.7,3.5 30.7,3.5 30.7,4.2 30.7,4.9 30.7,6.2 30.7,7.3 30.7,7.5 9.2,0.4 9.2,0 9.2,-2.5 9.2,-3.5 9.2,-4.6 9.3,-8.4 9.2,-17.4 9.2,-30.6 9.2,-40.1 9.2,-49.6 15.4,-70.2 15.3,-62.4 15.3,-71 15.4,-83.1 15.4,-95.5 15.3,-93.7 15.3,-81 15.4,-71.8 15.3,-71.3 10.8,-52.8 10.7,-41.8 10.8,-32.4 10.7,-23.1 10.8,-16.2 10.7,-12.3 10.8,-9.8 10.7,-8 10.8,-6.9 10.7,-6 10.7,-5.4 10.8,-4.9 10.7,-4.5 10.8,-4.2 10.7,-3.9 7.7,-2.7 24.6,-8 24.5,-7.2 24.6,-6.3 24.5,-5.4 24.6,-4.5 24.6,-3.9 24.5,-3.2 24.6,-2.1 24.5,-0.7 24.6,0.4 24.6,1.1 24.5,1.6 24.6,2.8 24.5,5.2 24.6,9.3 10.7,6.2 10.8,8.3 10.7,11 10.8,14.3 10.7,17.5 10.8,20.2 10.7,21.8 10.8,22.2 10.7,22 10.7,20.9 10.8,19 10.7,15.9 10.8,12 10.7,8.4 10.8,5.3 10.7,3.3 10.8,2 19.9,1.7" stroke="#8ad8b0" stroke-opacity="0.78" stroke-width="3.0"/>
<path d="M389.6,1956.7l36.8,0 36.8,0 33.8,-0.6 24.6,-2 24.5,-3.7 24.6,-4.1 24.5,-4.1 24.6,-2.9 24.6,-1.7 24.5,-0.9 24.6,-0.6 24.5,-0.8 24.6,-1.3 24.6,-2.5 24.5,-4.3 12.3,-2.9 15.4,-6.1 15.3,-7.3 15.3,-8.7 15.4,-9.4 15.4,-7.9 15.3,-7.3 15.3,-5.6 15.4,-4.4 15.4,-3.3 15.3,-0.4 15.3,1.9 15.4,3 15.4,3.3 15.3,4.5 15.3,4.5 15.4,3.4 15.3,2.8 15.4,2.5 15.3,2.2 15.4,2.1 30.7,3.5 30.7,3.4 30.7,4.3 30.7,4.9 30.7,6.2 30.7,7.3 30.7,7.5 9.2,0.4 9.2,-0.1 9.2,-2.4 9.2,-3.5 9.2,-4.6 9.3,-8.2 9.2,-17.1 9.2,-30 9.2,-39.5 9.2,-49.2 15.4,-69.3 15.3,-61.6 15.3,-70.5 15.4,-83.3 15.4,-94.9 15.3,-93.1 15.3,-80.1 15.4,-70.8 15.3,-70.5 10.8,-52.1 10.7,-41.1 10.8,-31.9 10.7,-22.7 10.8,-16.1 10.7,-12.2 10.8,-9.7 10.7,-8.1 10.8,-6.8 10.7,-6.1 10.7,-5.4 10.8,-5 10.7,-4.6 10.8,-4.2 10.7,-4 7.7,-2.8 24.6,-8.1 24.5,-7.3 24.6,-6.4 24.5,-5.5 24.6,-4.7 24.6,-3.9 24.5,-3.3 24.6,-2.2 24.5,-0.7 24.6,0.4 24.6,0.9 24.5,1.6 24.6,2.7 24.5,5.1 24.6,9 10.7,6.1 10.8,8.1 10.7,10.8 10.8,14 10.7,17.3 10.8,19.9 10.7,21.5 10.8,22 10.7,21.7 10.7,20.8 10.8,18.8 10.7,15.8 10.8,12 10.7,8.3 10.8,5.3 10.7,3.3 10.8,1.9 19.9,1.8" stroke="#a0e2c0" stroke-opacity="0.74" stroke-width="3.0"/>
<path d="M389.6,1955.3l36.8,0 36.8,0 33.8,-0.5 24.6,-2.1 24.5,-3.8 24.6,-4.2 24.5,-4 24.6,-3 24.6,-1.7 24.5,-0.9 24.6,-0.7 24.5,-0.8 24.6,-1.3 24.6,-2.5 24.5,-4.4 12.3,-3.1 15.4,-6.3 15.3,-7.5 15.3,-8.9 15.4,-9.7 15.4,-8.1 15.3,-7.3 15.3,-5.7 15.4,-4.5 15.4,-3.3 15.3,-0.5 15.3,2 15.4,3 15.4,3.4 15.3,4.6 15.3,4.6 15.4,3.4 15.3,2.8 15.4,2.5 15.3,2.3 15.4,2.1 30.7,3.5 30.7,3.5 30.7,4.3 30.7,5 30.7,6.3 30.7,7.5 30.7,7.6 9.2,0.4 9.2,0 9.2,-2.5 9.2,-3.7 9.2,-5 9.3,-9.1 9.2,-19 9.2,-33.5 9.2,-43.1 9.2,-52.1 15.4,-74.7 15.3,-67.1 15.3,-74 15.4,-83.8 15.4,-99.3 15.3,-97.8 15.3,-86.1 15.4,-76.5 15.3,-75.5 10.8,-56.3 10.7,-45 10.8,-35.1 10.7,-24.7 10.8,-17.1 10.7,-12.9 10.8,-10.1 10.7,-8.1 10.8,-6.9 10.7,-6.1 10.7,-5.3 10.8,-4.8 10.7,-4.4 10.8,-4 10.7,-3.9 7.7,-2.5 24.6,-7.7 24.5,-7 24.6,-6 24.5,-5 24.6,-4.3 24.6,-3.6 24.5,-2.9 24.6,-1.9 24.5,-0.5 24.6,0.6 24.6,1.2 24.5,1.8 24.6,3.2 24.5,5.9 24.6,10.3 10.7,6.9 10.8,9 10.7,12 10.8,15.3 10.7,18.9 10.8,21.5 10.7,23.2 10.8,23.6 10.7,23.1 10.7,22.1 10.8,19.8 10.7,16.7 10.8,12.5 10.7,8.6 10.8,5.5 10.7,3.3 10.8,2 19.9,1.8" stroke="#60c096" stroke-opacity="0.75" stroke-width="3.0"/>
<path d="M389.6,1920.6l36.8,0 36.8,0 33.8,-0.6 24.6,-2.1 24.5,-3.6 24.6,-4.2 24.5,-4 24.6,-3 24.6,-1.6 24.5,-0.9 24.6,-0.6 24.5,-0.8 24.6,-1.4 24.6,-3.5 24.5,-6.7 12.3,-5.1 15.4,-11.9 15.3,-13.6 15.3,-13.7 15.4,-13.4 15.4,-10.3 15.3,-8.8 15.3,-6.2 15.4,-4.6 15.4,-3.2 15.3,-0.4 15.3,2.6 15.4,3.8 15.4,3.8 15.3,4.8 15.3,4.8 15.4,3.5 15.3,2.9 15.4,2.5 15.3,2.2 15.4,2 30.7,3.1 30.7,3 30.7,3.3 30.7,4.3 30.7,9 30.7,11.2 30.7,9.2 9.2,2.3 9.2,1.2 9.2,-2.4 9.2,-4.1 9.2,-5.6 9.3,-9.4 9.2,-20 9.2,-31.3 9.2,-34.2 9.2,-42.9 15.4,-72.5 15.3,-71.9 15.3,-76.7 15.4,-81.8 15.4,-104.1 15.3,-103.2 15.3,-94.2 15.4,-84.3 15.3,-82.5 10.8,-61.7 10.7,-50.8 10.8,-39.8 10.7,-27.6 10.8,-18.5 10.7,-13.6 10.8,-10.3 10.7,-8.2 10.8,-6.7 10.7,-5.8 10.7,-4.9 10.8,-4.4 10.7,-3.9 10.8,-3.6 10.7,-3.3 7.7,-2.3 24.6,-6.7 24.5,-6 24.6,-5.1 24.5,-4 24.6,-3.4 24.6,-2.8 24.5,-2.2 24.6,-1.2 24.5,-0.1 24.6,0.9 24.6,1.6 24.5,2.3 24.6,3.9 24.5,7.1 24.6,12.3 10.7,8.1 10.8,10.5 10.7,13.7 10.8,17.2 10.7,21.1 10.8,23.8 10.7,25.5 10.8,25.7 10.7,25.1 10.7,23.7 10.8,21.1 10.7,17.6 10.8,13.1 10.7,9 10.8,5.5 10.7,3.4 10.8,2 19.9,1.8" stroke="#4cb28a" stroke-opacity="0.83" stroke-width="3.0"/>
<path d="M389.6,1959.5l36.8,0 36.8,0 33.8,-0.6 24.6,-2 24.5,-3.7 24.6,-4 24.5,-4 24.6,-2.9 24.6,-1.6 24.5,-0.9 24.6,-0.7 24.5,-0.7 24.6,-1.3 24.6,-2.4 24.5,-4.1 12.3,-2.8 15.4,-5.6 15.3,-6.8 15.3,-8.2 15.4,-9.1 15.4,-7.7 15.3,-7 15.3,-5.5 15.4,-4.3 15.4,-3.3 15.3,-0.4 15.3,1.8 15.4,2.9 15.4,3.3 15.3,4.4 15.3,4.4 15.4,3.4 15.3,2.7 15.4,2.4 15.3,2.2 15.4,2.1 30.7,3.5 30.7,3.4 30.7,4.3 30.7,4.9 30.7,5.9 30.7,6.9 30.7,7.3 9.2,0.3 9.2,0 9.2,-2.3 9.2,-3 9.2,-3.5 9.3,-5.8 9.2,-11.9 9.2,-21 9.2,-30 9.2,-42.4 15.4,-55.7 15.3,-47.1 15.3,-62.7 15.4,-83.8 15.4,-84.8 15.3,-81.9 15.3,-65.1 15.4,-56.5 15.3,-57.6 10.8,-41.9 10.7,-31 10.8,-23.5 10.7,-17.7 10.8,-13.3 10.7,-10.8 10.8,-9 10.7,-7.8 10.8,-7 10.7,-6.4 10.7,-5.8 10.8,-5.5 10.7,-5.2 10.8,-4.9 10.7,-4.7 7.7,-3.1 24.6,-9.5 24.5,-8.6 24.6,-7.8 24.5,-6.9 24.6,-5.9 24.6,-5.1 24.5,-4.4 24.6,-3.1 24.5,-1.4 24.6,-0.1 24.6,0.3 24.5,0.7 24.6,1.5 24.5,3.1 24.6,5.6 10.7,4 10.8,5.6 10.7,7.8 10.8,10.6 10.7,13.3 10.8,15.7 10.7,17.3 10.8,18 10.7,18.1 10.7,17.7 10.8,16.2 10.7,13.8 10.8,10.8 10.7,7.6 10.8,5 10.7,3.1 10.8,1.9 19.9,1.8" stroke="#74cca2" stroke-opacity="0.82" stroke-width="3.0"/>
<path d="M389.6,1924.7l36.8,0 36.8,0 33.8,-0.6 24.6,-2.1 24.5,-3.6 24.6,-4.2 24.5,-4 24.6,-2.9 24.6,-1.7 24.5,-0.8 24.6,-0.6 24.5,-0.8 24.6,-1.4 24.6,-3.4 24.5,-6.4 12.3,-4.8 15.4,-11.3 15.3,-12.9 15.3,-13 15.4,-13 15.4,-10 15.3,-8.6 15.3,-6.1 15.4,-4.5 15.4,-3.2 15.3,-0.4 15.3,2.5 15.4,3.6 15.4,3.8 15.3,4.8 15.3,4.7 15.4,3.5 15.3,2.8 15.4,2.5 15.3,2.2 15.4,2 30.7,3.1 30.7,3.1 30.7,3.3 30.7,4.3 30.7,8.7 30.7,10.8 30.7,9 9.2,2.1 9.2,1.2 9.2,-2.2 9.2,-3.5 9.2,-4.2 9.3,-6.3 9.2,-13.3 9.2,-19.6 9.2,-22.1 9.2,-34.5 15.4,-55.2 15.3,-53.2 15.3,-66.9 15.4,-83.6 15.4,-91.4 15.3,-89.3 15.3,-74.9 15.4,-65.7 15.3,-66 10.8,-48.6 10.7,-37.4 10.8,-28.9 10.7,-21 10.8,-15.1 10.7,-11.7 10.8,-9.5 10.7,-8 10.8,-6.9 10.7,-6.3 10.7,-5.6 10.8,-5.2 10.7,-4.8 10.8,-4.5 10.7,-4.3 7.7,-2.9 24.6,-8.6 24.5,-7.9 24.6,-6.9 24.5,-6.1 24.6,-5.1 24.6,-4.4 24.5,-3.7 24.6,-2.6 24.5,-0.9 24.6,0.1 24.6,0.8 24.5,1.2 24.6,2.3 24.5,4.3 24.6,7.8 10.7,5.4 10.8,7.1 10.7,9.8 10.8,12.8 10.7,15.9 10.8,18.4 10.7,20 10.8,20.6 10.7,20.5 10.7,19.6 10.8,18 10.7,15.1 10.8,11.6 10.7,8.1 10.8,5.2 10.7,3.2 10.8,2 19.9,1.7" stroke="#8ad8b0" stroke-opacity="0.76" stroke-width="3.0"/>
<path d="M389.6,1943.8l36.8,0 36.8,-0.1 33.8,-0.5 24.6,-2.1 24.5,-3.6 24.6,-4.1 24.5,-4 24.6,-2.9 24.6,-1.7 24.5,-0.8 24.6,-0.7 24.5,-0.8 24.6,-1.3 24.6,-2.8 24.5,-5.2 12.3,-3.7 15.4,-8.1 15.3,-9.6 15.3,-10.4 15.4,-10.8 15.4,-8.8 15.3,-7.7 15.3,-5.8 15.4,-4.4 15.4,-3.3 15.3,-0.4 15.3,2.2 15.4,3.2 15.4,3.5 15.3,4.6 15.3,4.5 15.4,3.5 15.3,2.7 15.4,2.5 15.3,2.2 15.4,2 30.7,3.4 30.7,3.2 30.7,3.9 30.7,4.6 30.7,7.2 30.7,8.6 30.7,8.1 9.2,1.1 9.2,0.5 9.2,-2.3 9.2,-3.4 9.2,-4.4 9.3,-7.1 9.2,-14.9 9.2,-24.6 9.2,-31.2 9.2,-42.2 15.4,-61.7 15.3,-56.4 15.3,-67.9 15.4,-83 15.4,-92 15.3,-90 15.3,-76.1 15.4,-67 15.3,-67 10.8,-49.4 10.7,-38.4 10.8,-29.7 10.7,-21.4 10.8,-15.3 10.7,-11.8 10.8,-9.5 10.7,-8 10.8,-6.8 10.7,-6.2 10.7,-5.5 10.8,-5.1 10.7,-4.7 10.8,-4.4 10.7,-4.1 7.7,-2.9 24.6,-8.4 24.5,-7.6 24.6,-6.8 24.5,-5.8 24.6,-4.9 24.6,-4.3 24.5,-3.5 24.6,-2.4 24.5,-0.9 24.6,0.2 24.6,0.8 24.5,1.4 24.6,2.4 24.5,4.5 24.6,8.2 10.7,5.5 10.8,7.5 10.7,10 10.8,13.1 10.7,16.3 10.8,18.8 10.7,20.3 10.8,21 10.7,20.7 10.7,19.9 10.8,18.1 10.7,15.2 10.8,11.7 10.7,8.1 10.8,5.2 10.7,3.2 10.8,2 19.9,1.7" stroke="#74cca2" stroke-opacity="0.86" stroke-width="3.0"/>
<path d="M389.6,1942.1l36.8,0 36.8,0 33.8,-0.5 24.6,-2.1 24.5,-3.7 24.6,-4.1 24.5,-4 24.6,-3 24.6,-1.6 24.5,-0.9 24.6,-0.7 24.5,-0.7 24.6,-1.4 24.6,-2.9 24.5,-5.2 12.3,-3.8 15.4,-8.5 15.3,-9.8 15.3,-10.7 15.4,-11 15.4,-8.9 15.3,-7.8 15.3,-5.9 15.4,-4.4 15.4,-3.3 15.3,-0.4 15.3,2.2 15.4,3.3 15.4,3.5 15.3,4.6 15.3,4.6 15.4,3.5 15.3,2.7 15.4,2.5 15.3,2.2 15.4,2.1 30.7,3.3 30.7,3.3 30.7,3.8 30.7,4.7 30.7,7.3 30.7,8.9 30.7,8.1 9.2,1.2 9.2,0.4 9.2,-2.5 9.2,-3.8 9.2,-5.3 9.3,-9.2 9.2,-19.7 9.2,-33 9.2,-39.9 9.2,-48.4 15.4,-74.1 15.3,-69.4 15.3,-74.7 15.4,-82 15.4,-100.9 15.3,-99.6 15.3,-89.4 15.4,-79.8 15.3,-78.4 10.8,-58.6 10.7,-47.6 10.8,-37.1 10.7,-26 10.8,-17.7 10.7,-13.1 10.8,-10.1 10.7,-8.1 10.8,-6.7 10.7,-5.8 10.7,-5.1 10.8,-4.5 10.7,-4.1 10.8,-3.8 10.7,-3.6 7.7,-2.4 24.6,-7 24.5,-6.4 24.6,-5.5 24.5,-4.5 24.6,-3.8 24.6,-3.1 24.5,-2.6 24.6,-1.5 24.5,-0.2 24.6,0.7 24.6,1.4 24.5,2.1 24.6,3.5 24.5,6.4 24.6,11.3 10.7,7.4 10.8,9.7 10.7,12.8 10.8,16.1 10.7,19.8 10.8,22.6 10.7,24.1 10.8,24.5 10.7,23.9 10.7,22.6 10.8,20.4 10.7,17 10.8,12.6 10.7,8.8 10.8,5.4 10.7,3.4 10.8,1.9 19.9,1.8" stroke="#a0e2c0" stroke-opacity="0.78" stroke-width="3.0"/>
<path d="M389.6,1958.8l36.8,0 36.8,0 33.8,-0.6 24.6,-2 24.5,-3.7 24.6,-4 24.5,-4 24.6,-2.9 24.6,-1.7 24.5,-0.8 24.6,-0.7 24.5,-0.8 24.6,-1.2 24.6,-2.5 24.5,-4.1 12.3,-2.8 15.4,-5.7 15.3,-7 15.3,-8.3 15.4,-9.1 15.4,-7.8 15.3,-7.1 15.3,-5.5 15.4,-4.3 15.4,-3.3 15.3,-0.4 15.3,1.9 15.4,2.9 15.4,3.2 15.3,4.4 15.3,4.5 15.4,3.4 15.3,2.7 15.4,2.5 15.3,2.1 15.4,2.1 30.7,3.5 30.7,3.4 30.7,4.2 30.7,4.9 30.7,6 30.7,7 30.7,7.4 9.2,0.3 9.2,-0.1 9.2,-2.4 9.2,-3.3 9.2,-4.2 9.3,-7.4 9.2,-15.4 9.2,-27.1 9.2,-36.6 9.2,-47.1 15.4,-64.7 15.3,-56.6 15.3,-67.6 15.4,-82.7 15.4,-91 15.3,-88.8 15.3,-74.8 15.4,-65.7 15.3,-65.9 10.8,-48.5 10.7,-37.6 10.8,-29.1 10.7,-20.9 10.8,-15.1 10.7,-11.7 10.8,-9.4 10.7,-7.9 10.8,-6.8 10.7,-6.1 10.7,-5.6 10.8,-5 10.7,-4.8 10.8,-4.4 10.7,-4.2 7.7,-2.8 24.6,-8.4 24.5,-7.7 24.6,-6.8 24.5,-5.9 24.6,-5 24.6,-4.3 24.5,-3.6 24.6,-2.4 24.5,-0.9 24.6,0.2 24.6,0.7 24.5,1.3 24.6,2.3 24.5,4.4 24.6,8 10.7,5.3 10.8,7.3 10.7,9.8 10.8,12.8 10.7,15.9 10.8,18.5 10.7,20 10.8,20.5 10.7,20.4 10.7,19.6 10.8,17.9 10.7,15 10.8,11.5 10.7,8.1 10.8,5.1 10.7,3.2 10.8,2 19.9,1.7" stroke="#74cca2" stroke-opacity="0.70" stroke-width="3.0"/>
<path d="M389.6,1945.7l36.8,0 36.8,0 33.8,-0.5 24.6,-2.1 24.5,-3.7 24.6,-4.1 24.5,-4 24.6,-2.9 24.6,-1.7 24.5,-0.9 24.6,-0.6 24.5,-0.8 24.6,-1.3 24.6,-2.8 24.5,-5 12.3,-3.6 15.4,-7.9 15.3,-9.2 15.3,-10.1 15.4,-10.7 15.4,-8.6 15.3,-7.7 15.3,-5.8 15.4,-4.4 15.4,-3.3 15.3,-0.4 15.3,2.1 15.4,3.3 15.4,3.4 15.3,4.6 15.3,4.6 15.4,3.4 15.3,2.8 15.4,2.5 15.3,2.2 15.4,2 30.7,3.4 30.7,3.3 30.7,3.9 30.7,4.7 30.7,7.1 30.7,8.4 30.7,8.1 9.2,1 9.2,0.4 9.2,-2.2 9.2,-3.1 9.2,-3.6 9.3,-5.5 9.2,-11.2 9.2,-18.4 9.2,-24.8 9.2,-38.1 15.4,-52.7 15.3,-46.5 15.3,-63.1 15.4,-84.7 15.4,-85.8 15.3,-83 15.3,-66 15.4,-57.3 15.3,-58.4 10.8,-42.6 10.7,-31.3 10.8,-23.9 10.7,-17.9 10.8,-13.6 10.7,-10.9 10.8,-9.1 10.7,-7.9 10.8,-7.1 10.7,-6.4 10.7,-6 10.8,-5.5 10.7,-5.3 10.8,-4.9 10.7,-4.7 7.7,-3.2 24.6,-9.6 24.5,-8.7 24.6,-7.9 24.5,-6.9 24.6,-6 24.6,-5.2 24.5,-4.4 24.6,-3.1 24.5,-1.4 24.6,-0.2 24.6,0.3 24.5,0.8 24.6,1.5 24.5,3.1 24.6,5.8 10.7,4 10.8,5.6 10.7,8 10.8,10.7 10.7,13.6 10.8,15.9 10.7,17.5 10.8,18.3 10.7,18.4 10.7,17.8 10.8,16.4 10.7,14.1 10.8,10.9 10.7,7.7 10.8,5.1 10.7,3.1 10.8,2 19.9,1.7" stroke="#8ad8b0" stroke-opacity="0.80" stroke-width="3.0"/>
<path d="M389.6,1934.6l36.8,0 36.8,0 33.8,-0.6 24.6,-2.1 24.5,-3.7 24.6,-4.2 24.5,-4 24.6,-3 24.6,-1.6 24.5,-0.9 24.6,-0.6 24.5,-0.8 24.6,-1.4 24.6,-3.1 24.5,-5.8 12.3,-4.3 15.4,-9.6 15.3,-11.2 15.3,-11.7 15.4,-11.9 15.4,-9.4 15.3,-8.2 15.3,-6.1 15.4,-4.5 15.4,-3.2 15.3,-0.4 15.3,2.3 15.4,3.5 15.4,3.6 15.3,4.7 15.3,4.7 15.4,3.5 15.3,2.8 15.4,2.5 15.3,2.3 15.4,2 30.7,3.3 30.7,3.2 30.7,3.7 30.7,4.5 30.7,8 30.7,9.7 30.7,8.6 9.2,1.5 9.2,0.8 9.2,-2.4 9.2,-3.6 9.2,-4.7 9.3,-7.8 9.2,-16.3 9.2,-26.2 9.2,-31.4 9.2,-42 15.4,-64.7 15.3,-61 15.3,-71 15.4,-83.6 15.4,-96.4 15.3,-94.5 15.3,-81.9 15.4,-72.4 15.3,-72 10.8,-53.3 10.7,-42.3 10.8,-32.7 10.7,-23.3 10.8,-16.4 10.7,-12.4 10.8,-9.9 10.7,-8.1 10.8,-6.9 10.7,-6.1 10.7,-5.4 10.8,-5 10.7,-4.5 10.8,-4.2 10.7,-4 7.7,-2.7 24.6,-8.1 24.5,-7.2 24.6,-6.4 24.5,-5.4 24.6,-4.6 24.6,-3.9 24.5,-3.2 24.6,-2.1 24.5,-0.7 24.6,0.4 24.6,1 24.5,1.6 24.6,2.9 24.5,5.3 24.6,9.4 10.7,6.2 10.8,8.4 10.7,11.1 10.8,14.4 10.7,17.7 10.8,20.4 10.7,22 10.8,22.5 10.7,22.1 10.7,21.2 10.8,19.1 10.7,16.1 10.8,12.1 10.7,8.5 10.8,5.3 10.7,3.3 10.8,2 19.9,1.8" stroke="#a0e2c0" stroke-opacity="0.84" stroke-width="3.0"/>
<path d="M389.6,1947.4l36.8,0 36.8,0 33.8,-0.5 24.6,-2.1 24.5,-3.7 24.6,-4.1 24.5,-4 24.6,-2.9 24.6,-1.7 24.5,-0.8 24.6,-0.7 24.5,-0.8 24.6,-1.3 24.6,-2.7 24.5,-4.9 12.3,-3.5 15.4,-7.6 15.3,-8.9 15.3,-9.9 15.4,-10.5 15.4,-8.5 15.3,-7.6 15.3,-5.7 15.4,-4.4 15.4,-3.3 15.3,-0.4 15.3,2.1 15.4,3.1 15.4,3.5 15.3,4.5 15.3,4.6 15.4,3.4 15.3,2.8 15.4,2.5 15.3,2.2 15.4,2 30.7,3.4 30.7,3.3 30.7,4 30.7,4.7 30.7,6.9 30.7,8.3 30.7,7.9 9.2,0.9 9.2,0.4 9.2,-2.3 9.2,-3.3 9.2,-3.9 9.3,-6.5 9.2,-13.4 9.2,-22.3 9.2,-29.4 9.2,-41.3 15.4,-58.4 15.3,-52 15.3,-65.8 15.4,-83.9 15.4,-89.2 15.3,-86.8 15.3,-71.4 15.4,-62.5 15.3,-63 10.8,-46.3 10.7,-35.1 10.8,-27 10.7,-19.8 10.8,-14.5 10.7,-11.4 10.8,-9.3 10.7,-8 10.8,-6.9 10.7,-6.3 10.7,-5.7 10.8,-5.4 10.7,-4.9 10.8,-4.7 10.7,-4.4 7.7,-3 24.6,-9 24.5,-8.1 24.6,-7.3 24.5,-6.3 24.6,-5.4 24.6,-4.7 24.5,-4 24.6,-2.7 24.5,-1.1 24.6,0 24.6,0.6 24.5,1 24.6,2 24.5,3.9 24.6,7.1 10.7,4.8 10.8,6.6 10.7,9.1 10.8,12 10.7,15 10.8,17.5 10.7,19 10.8,19.7 10.7,19.6 10.7,19 10.8,17.3 10.7,14.7 10.8,11.3 10.7,8 10.8,5.1 10.7,3.2 10.8,1.9 19.9,1.8" stroke="#8ad8b0" stroke-opacity="0.80" stroke-width="3.0"/>
<path d="M389.6,1951.1l36.8,0 36.8,0 33.8,-0.6 24.6,-2.1 24.5,-3.6 24.6,-4.2 24.5,-4 24.6,-2.9 24.6,-1.7 24.5,-0.9 24.6,-0.6 24.5,-0.8 24.6,-1.3 24.6,-2.7 24.5,-4.6 12.3,-3.3 15.4,-7 15.3,-8.3 15.3,-9.4 15.4,-10.1 15.4,-8.2 15.3,-7.5 15.3,-5.7 15.4,-4.5 15.4,-3.2 15.3,-0.5 15.3,2.1 15.4,3.1 15.4,3.4 15.3,4.5 15.3,4.6 15.4,3.4 15.3,2.8 15.4,2.4 15.3,2.3 15.4,2 30.7,3.5 30.7,3.4 30.7,4 30.7,4.9 30.7,6.6 30.7,7.9 30.7,7.8 9.2,0.6 9.2,0.2 9.2,-2.4 9.2,-3.4 9.2,-4.4 9.3,-7.7 9.2,-15.9 9.2,-27.3 9.2,-35.4 9.2,-46 15.4,-65.6 15.3,-58.7 15.3,-69.2 15.4,-83.5 15.4,-93.5 15.3,-91.4 15.3,-77.8 15.4,-68.6 15.3,-68.5 10.8,-50.6 10.7,-39.6 10.8,-30.5 10.7,-22 10.8,-15.6 10.7,-12 10.8,-9.7 10.7,-8 10.8,-6.9 10.7,-6.1 10.7,-5.5 10.8,-5.1 10.7,-4.7 10.8,-4.4 10.7,-4.1 7.7,-2.8 24.6,-8.3 24.5,-7.6 24.6,-6.7 24.5,-5.7 24.6,-4.9 24.6,-4.1 24.5,-3.5 24.6,-2.3 24.5,-0.9 24.6,0.3 24.6,0.9 24.5,1.4 24.6,2.5 24.5,4.8 24.6,8.5 10.7,5.7 10.8,7.7 10.7,10.4 10.8,13.4 10.7,16.7 10.8,19.3 10.7,20.8 10.8,21.4 10.7,21.2 10.7,20.3 10.8,18.4 10.7,15.5 10.8,11.8 10.7,8.3 10.8,5.2 10.7,3.3 10.8,1.9 19.9,1.8" stroke="#a0e2c0" stroke-opacity="0.71" stroke-width="3.0"/>
<path d="M389.6,1932.2l36.8,0 36.8,-0.1 33.8,-0.5 24.6,-2.1 24.5,-3.6 24.6,-4.1 24.5,-3.9 24.6,-2.9 24.6,-1.7 24.5,-0.8 24.6,-0.6 24.5,-0.8 24.6,-1.3 24.6,-3.2 24.5,-5.9 12.3,-4.4 15.4,-10 15.3,-11.6 15.3,-12 15.4,-12.1 15.4,-9.5 15.3,-8.1 15.3,-6 15.4,-4.4 15.4,-3.2 15.3,-0.4 15.3,2.3 15.4,3.5 15.4,3.6 15.3,4.7 15.3,4.6 15.4,3.4 15.3,2.8 15.4,2.5 15.3,2.1 15.4,2 30.7,3.2 30.7,3.1 30.7,3.5 30.7,4.4 30.7,8.1 30.7,9.9 30.7,8.6 9.2,1.6 9.2,0.8 9.2,-2.5 9.2,-4.1 9.2,-5.9 9.3,-10.2 9.2,-21.9 9.2,-35.9 9.2,-41.1 9.2,-48.2 15.4,-78.4 15.3,-76 15.3,-77.9 15.4,-79.9 15.4,-105.1 15.3,-104.6 15.3,-96.9 15.4,-87.1 15.3,-84.8 10.8,-63.7 10.7,-53 10.8,-41.6 10.7,-28.5 10.8,-19.1 10.7,-13.7 10.8,-10.3 10.7,-8.1 10.8,-6.6 10.7,-5.5 10.7,-4.7 10.8,-4.1 10.7,-3.6 10.8,-3.3 10.7,-3.1 7.7,-2 24.6,-6.1 24.5,-5.5 24.6,-4.5 24.5,-3.5 24.6,-2.9 24.6,-2.5 24.5,-1.7 24.6,-0.9 24.5,0.1 24.6,1.1 24.6,1.7 24.5,2.6 24.6,4.2 24.5,7.6 24.6,13.1 10.7,8.6 10.8,11.1 10.7,14.3 10.8,18 10.7,21.8 10.8,24.7 10.7,26.3 10.8,26.4 10.7,25.7 10.7,24.2 10.8,21.5 10.7,17.8 10.8,13.2 10.7,9 10.8,5.6 10.7,3.3 10.8,2 19.9,1.7" stroke="#a0e2c0" stroke-opacity="0.72" stroke-width="3.0"/>
<path d="M389.6,1936.6l36.8,0 36.8,0 33.8,-0.6 24.6,-2 24.5,-3.7 24.6,-4.1 24.5,-4 24.6,-2.9 24.6,-1.7 24.5,-0.8 24.6,-0.7 24.5,-0.7 24.6,-1.4 24.6,-3 24.5,-5.6 12.3,-4.2 15.4,-9.3 15.3,-10.8 15.3,-11.4 15.4,-11.6 15.4,-9.2 15.3,-8.1 15.3,-5.9 15.4,-4.4 15.4,-3.3 15.3,-0.4 15.3,2.3 15.4,3.4 15.4,3.6 15.3,4.6 15.3,4.6 15.4,3.5 15.3,2.8 15.4,2.4 15.3,2.2 15.4,2 30.7,3.3 30.7,3.2 30.7,3.6 30.7,4.6 30.7,7.7 30.7,9.4 30.7,8.5 9.2,1.4 9.2,0.7 9.2,-2.4 9.2,-3.8 9.2,-5 9.3,-8.6 9.2,-18.2 9.2,-29.7 9.2,-35.3 9.2,-44.7 15.4,-69.4 15.3,-65.7 15.3,-72.8 15.4,-81.8 15.4,-98.6 15.3,-97.1 15.3,-86.2 15.4,-76.8 15.3,-75.6 10.8,-56.4 10.7,-45.4 10.8,-35.4 10.7,-24.9 10.8,-17.1 10.7,-12.8 10.8,-9.9 10.7,-8 10.8,-6.8 10.7,-5.9 10.7,-5.1 10.8,-4.6 10.7,-4.2 10.8,-4 10.7,-3.6 7.7,-2.5 24.6,-7.3 24.5,-6.7 24.6,-5.7 24.5,-4.7 24.6,-4 24.6,-3.4 24.5,-2.8 24.6,-1.6 24.5,-0.4 24.6,0.6 24.6,1.2 24.5,2 24.6,3.2 24.5,6 24.6,10.6 10.7,7 10.8,9.1 10.7,12.2 10.8,15.4 10.7,19 10.8,21.6 10.7,23.2 10.8,23.6 10.7,23.2 10.7,22 10.8,19.8 10.7,16.5 10.8,12.4 10.7,8.6 10.8,5.3 10.7,3.4 10.8,1.9 19.9,1.8" stroke="#60c096" stroke-opacity="0.81" stroke-width="3.0"/>
<path d="M389.6,1931.3l36.8,0 36.8,0 33.8,-0.6 24.6,-2.1 24.5,-3.7 24.6,-4.1 24.5,-4 24.6,-3 24.6,-1.7 24.5,-0.8 24.6,-0.7 24.5,-0.7 24.6,-1.4 24.6,-3.2 24.5,-6 12.3,-4.4 15.4,-10.2 15.3,-11.8 15.3,-12.1 15.4,-12.3 15.4,-9.6 15.3,-8.3 15.3,-6.1 15.4,-4.5 15.4,-3.2 15.3,-0.4 15.3,2.3 15.4,3.6 15.4,3.7 15.3,4.7 15.3,4.7 15.4,3.5 15.3,2.8 15.4,2.5 15.3,2.2 15.4,2 30.7,3.3 30.7,3.1 30.7,3.6 30.7,4.5 30.7,8.2 30.7,10 30.7,8.7 9.2,1.7 9.2,0.9 9.2,-2.4 9.2,-3.8 9.2,-5 9.3,-8.4 9.2,-17.8 9.2,-28.5 9.2,-33.1 9.2,-42.9 15.4,-67.9 15.3,-65.1 15.3,-73 15.4,-82.7 15.4,-99 15.3,-97.6 15.3,-86.2 15.4,-76.8 15.3,-75.7 10.8,-56.3 10.7,-45.4 10.8,-35.3 10.7,-24.8 10.8,-17.2 10.7,-12.8 10.8,-10 10.7,-8.1 10.8,-6.8 10.7,-6 10.7,-5.2 10.8,-4.7 10.7,-4.3 10.8,-4 10.7,-3.7 7.7,-2.6 24.6,-7.5 24.5,-6.7 24.6,-5.9 24.5,-4.9 24.6,-4.1 24.6,-3.5 24.5,-2.8 24.6,-1.8 24.5,-0.4 24.6,0.6 24.6,1.2 24.5,1.9 24.6,3.2 24.5,6 24.6,10.5 10.7,6.9 10.8,9.1 10.7,12.1 10.8,15.4 10.7,19 10.8,21.6 10.7,23.2 10.8,23.7 10.7,23.1 10.7,22.1 10.8,19.8 10.7,16.6 10.8,12.5 10.7,8.6 10.8,5.4 10.7,3.4 10.8,1.9 19.9,1.8" stroke="#60c096" stroke-opacity="0.94" stroke-width="3.0"/>
<path d="M389.6,1934.5l36.8,0 36.8,0 33.8,-0.6 24.6,-2.1 24.5,-3.6 24.6,-4.1 24.5,-4 24.6,-2.9 24.6,-1.7 24.5,-0.8 24.6,-0.7 24.5,-0.8 24.6,-1.3 24.6,-3.1 24.5,-5.8 12.3,-4.2 15.4,-9.7 15.3,-11.1 15.3,-11.8 15.4,-11.8 15.4,-9.4 15.3,-8.1 15.3,-6 15.4,-4.4 15.4,-3.2 15.3,-0.4 15.3,2.3 15.4,3.4 15.4,3.7 15.3,4.6 15.3,4.6 15.4,3.5 15.3,2.8 15.4,2.4 15.3,2.2 15.4,2 30.7,3.3 30.7,3.2 30.7,3.5 30.7,4.5 30.7,7.9 30.7,9.7 30.7,8.5 9.2,1.5 9.2,0.8 9.2,-2.5 9.2,-4 9.2,-5.5 9.3,-9.5 9.2,-20.3 9.2,-33.3 9.2,-38.7 9.2,-47 15.4,-74.6 15.3,-71.6 15.3,-75.8 15.4,-81.1 15.4,-102.4 15.3,-101.6 15.3,-92.3 15.4,-82.6 15.3,-80.9 10.8,-60.5 10.7,-49.7 10.8,-38.9 10.7,-26.9 10.8,-18.3 10.7,-13.3 10.8,-10.2 10.7,-8.1 10.8,-6.6 10.7,-5.7 10.7,-4.9 10.8,-4.4 10.7,-3.9 10.8,-3.6 10.7,-3.4 7.7,-2.2 24.6,-6.7 24.5,-6 24.6,-5.1 24.5,-4.1 24.6,-3.4 24.6,-2.9 24.5,-2.2 24.6,-1.3 24.5,-0.1 24.6,0.9 24.6,1.5 24.5,2.3 24.6,3.8 24.5,6.8 24.6,12 10.7,7.9 10.8,10.2 10.7,13.4 10.8,16.9 10.7,20.6 10.8,23.3 10.7,25 10.8,25.2 10.7,24.6 10.7,23.3 10.8,20.8 10.7,17.3 10.8,12.9 10.7,8.8 10.8,5.5 10.7,3.3 10.8,2 19.9,1.7" stroke="#b4ecd0" stroke-opacity="0.79" stroke-width="3.0"/>
<path d="M389.6,1934.9l36.8,0 36.8,0 33.8,-0.6 24.6,-2.1 24.5,-3.6 24.6,-4.1 24.5,-4 24.6,-2.9 24.6,-1.7 24.5,-0.8 24.6,-0.7 24.5,-0.8 24.6,-1.3 24.6,-3.1 24.5,-5.7 12.3,-4.2 15.4,-9.6 15.3,-11.1 15.3,-11.7 15.4,-11.8 15.4,-9.3 15.3,-8.1 15.3,-6 15.4,-4.4 15.4,-3.3 15.3,-0.4 15.3,2.3 15.4,3.5 15.4,3.6 15.3,4.6 15.3,4.7 15.4,3.4 15.3,2.8 15.4,2.5 15.3,2.2 15.4,2 30.7,3.2 30.7,3.2 30.7,3.6 30.7,4.5 30.7,7.9 30.7,9.6 30.7,8.5 9.2,1.6 9.2,0.8 9.2,-2.1 9.2,-3.3 9.2,-3.7 9.3,-5.6 9.2,-11.5 9.2,-17.7 9.2,-21.8 9.2,-35.1 15.4,-51.8 15.3,-47.9 15.3,-63.8 15.4,-84 15.4,-87.2 15.3,-84.5 15.3,-68.4 15.4,-59.6 15.3,-60.4 10.8,-44.2 10.7,-33.1 10.8,-25.3 10.7,-18.7 10.8,-13.9 10.7,-11.2 10.8,-9.2 10.7,-7.8 10.8,-7 10.7,-6.4 10.7,-5.8 10.8,-5.5 10.7,-5.1 10.8,-4.8 10.7,-4.5 7.7,-3.1 24.6,-9.3 24.5,-8.4 24.6,-7.6 24.5,-6.6 24.6,-5.7 24.6,-5 24.5,-4.1 24.6,-3 24.5,-1.3 24.6,0 24.6,0.4 24.5,0.9 24.6,1.7 24.5,3.5 24.6,6.4 10.7,4.4 10.8,6 10.7,8.5 10.8,11.3 10.7,14.2 10.8,16.6 10.7,18.2 10.8,18.9 10.7,18.9 10.7,18.3 10.8,16.8 10.7,14.4 10.8,11 10.7,7.8 10.8,5.1 10.7,3.2 10.8,1.9 19.9,1.7" stroke="#74cca2" stroke-opacity="0.80" stroke-width="3.0"/>
<path d="M389.6,1943.1l36.8,0 36.8,0 33.8,-0.6 24.6,-2 24.5,-3.7 24.6,-4.1 24.5,-4 24.6,-3 24.6,-1.6 24.5,-0.9 24.6,-0.6 24.5,-0.8 24.6,-1.3 24.6,-2.9 24.5,-5.2 12.3,-3.7 15.4,-8.3 15.3,-9.7 15.3,-10.5 15.4,-10.9 15.4,-8.8 15.3,-7.8 15.3,-5.8 15.4,-4.5 15.4,-3.2 15.3,-0.4 15.3,2.1 15.4,3.3 15.4,3.5 15.3,4.6 15.3,4.6 15.4,3.4 15.3,2.8 15.4,2.5 15.3,2.2 15.4,2 30.7,3.4 30.7,3.2 30.7,3.9 30.7,4.6 30.7,7.3 30.7,8.7 30.7,8.2 9.2,1.1 9.2,0.6 9.2,-2.1 9.2,-3 9.2,-3.2 9.3,-4.6 9.2,-9.2 9.2,-14.5 9.2,-20.1 9.2,-34.4 15.4,-47.1 15.3,-41.2 15.3,-60.4 15.4,-85.2 15.4,-82.5 15.3,-79.3 15.3,-61 15.4,-52.4 15.3,-54 10.8,-39.1 10.7,-27.9 10.8,-21 10.7,-16.2 10.8,-12.6 10.7,-10.4 10.8,-8.9 10.7,-7.9 10.8,-7.1 10.7,-6.6 10.7,-6.1 10.8,-5.8 10.7,-5.5 10.8,-5.2 10.7,-4.9 7.7,-3.4 24.6,-10.1 24.5,-9.2 24.6,-8.4 24.5,-7.4 24.6,-6.5 24.6,-5.6 24.5,-4.8 24.6,-3.5 24.5,-1.6 24.6,-0.4 24.6,0.1 24.5,0.5 24.6,1.1 24.5,2.4 24.6,4.5 10.7,3.3 10.8,4.8 10.7,6.9 10.8,9.6 10.7,12.2 10.8,14.5 10.7,16.1 10.8,16.9 10.7,17.1 10.7,16.8 10.8,15.6 10.7,13.4 10.8,10.5 10.7,7.5 10.8,5 10.7,3.1 10.8,1.9 19.9,1.8" stroke="#60c096" stroke-opacity="0.81" stroke-width="3.0"/>
<path d="M389.6,1916.4l36.8,0 36.8,0 33.8,-0.5 24.6,-2.1 24.5,-3.6 24.6,-4.2 24.5,-3.9 24.6,-3 24.6,-1.6 24.5,-0.8 24.6,-0.6 24.5,-0.8 24.6,-1.4 24.6,-3.6 24.5,-7 12.3,-5.3 15.4,-12.6 15.3,-14.3 15.3,-14.2 15.4,-13.8 15.4,-10.5 15.3,-8.9 15.3,-6.3 15.4,-4.4 15.4,-3.2 15.3,-0.4 15.3,2.6 15.4,3.9 15.4,3.8 15.3,4.9 15.3,4.7 15.4,3.4 15.3,2.9 15.4,2.5 15.3,2.1 15.4,2 30.7,3.1 30.7,2.9 30.7,3 30.7,4.2 30.7,9.3 30.7,11.6 30.7,9.4 9.2,2.5 9.2,1.5 9.2,-2.2 9.2,-3.8 9.2,-4.6 9.3,-6.9 9.2,-14.9 9.2,-21.6 9.2,-22.6 9.2,-34.1 15.4,-58.2 15.3,-58 15.3,-69.2 15.4,-82.3 15.4,-94.7 15.3,-93.1 15.3,-80.4 15.4,-71.2 15.3,-70.7 10.8,-52.4 10.7,-41.5 10.8,-32.1 10.7,-22.9 10.8,-16.1 10.7,-12.2 10.8,-9.7 10.7,-8 10.8,-6.8 10.7,-6 10.7,-5.4 10.8,-4.9 10.7,-4.5 10.8,-4.1 10.7,-4 7.7,-2.6 24.6,-8 24.5,-7.2 24.6,-6.3 24.5,-5.3 24.6,-4.6 24.6,-3.8 24.5,-3.2 24.6,-2.1 24.5,-0.7 24.6,0.4 24.6,1 24.5,1.6 24.6,2.8 24.5,5.2 24.6,9.2 10.7,6.1 10.8,8.2 10.7,11 10.8,14.1 10.7,17.4 10.8,20 10.7,21.6 10.8,22.1 10.7,21.8 10.7,20.8 10.8,18.8 10.7,15.8 10.8,11.9 10.7,8.4 10.8,5.2 10.7,3.3 10.8,2 19.9,1.7" stroke="#8ad8b0" stroke-opacity="0.80" stroke-width="3.0"/>
<path d="M389.6,1942.6l36.8,0 36.8,0 33.8,-0.5 24.6,-2.1 24.5,-3.7 24.6,-4.1 24.5,-4 24.6,-3 24.6,-1.6 24.5,-0.9 24.6,-0.7 24.5,-0.7 24.6,-1.4 24.6,-2.9 24.5,-5.2 12.3,-3.8 15.4,-8.3 15.3,-9.8 15.3,-10.6 15.4,-11 15.4,-8.8 15.3,-7.8 15.3,-5.9 15.4,-4.4 15.4,-3.3 15.3,-0.4 15.3,2.2 15.4,3.3 15.4,3.5 15.3,4.6 15.3,4.6 15.4,3.4 15.3,2.8 15.4,2.5 15.3,2.2 15.4,2.1 30.7,3.4 30.7,3.2 30.7,3.9 30.7,4.6 30.7,7.4 30.7,8.7 30.7,8.2 9.2,1.2 9.2,0.4 9.2,-2.3 9.2,-3.4 9.2,-4.4 9.3,-7.3 9.2,-15.1 9.2,-25.1 9.2,-31.4 9.2,-42.6 15.4,-62.5 15.3,-57.2 15.3,-68.7 15.4,-83.6 15.4,-93.1 15.3,-91 15.3,-77.2 15.4,-68 15.3,-68 10.8,-50.2 10.7,-39.1 10.8,-30.2 10.7,-21.7 10.8,-15.5 10.7,-12 10.8,-9.6 10.7,-8 10.8,-6.9 10.7,-6.2 10.7,-5.5 10.8,-5.1 10.7,-4.8 10.8,-4.4 10.7,-4.1 7.7,-2.9 24.6,-8.4 24.5,-7.6 24.6,-6.8 24.5,-5.8 24.6,-4.9 24.6,-4.3 24.5,-3.5 24.6,-2.4 24.5,-0.8 24.6,0.2 24.6,0.8 24.5,1.4 24.6,2.5 24.5,4.6 24.6,8.4 10.7,5.7 10.8,7.5 10.7,10.3 10.8,13.3 10.7,16.5 10.8,19.1 10.7,20.7 10.8,21.2 10.7,21 10.7,20.2 10.8,18.3 10.7,15.4 10.8,11.8 10.7,8.2 10.8,5.2 10.7,3.3 10.8,2 19.9,1.7" stroke="#8ad8b0" stroke-opacity="0.94" stroke-width="3.0"/>
<path d="M389.6,1942.4l36.8,0 36.8,0 33.8,-0.5 24.6,-2.1 24.5,-3.7 24.6,-4.1 24.5,-4 24.6,-2.9 24.6,-1.7 24.5,-0.8 24.6,-0.7 24.5,-0.8 24.6,-1.3 24.6,-2.9 24.5,-5.2 12.3,-3.8 15.4,-8.4 15.3,-9.8 15.3,-10.6 15.4,-11 15.4,-8.8 15.3,-7.8 15.3,-5.9 15.4,-4.4 15.4,-3.2 15.3,-0.5 15.3,2.2 15.4,3.3 15.4,3.5 15.3,4.6 15.3,4.6 15.4,3.4 15.3,2.8 15.4,2.5 15.3,2.2 15.4,2 30.7,3.4 30.7,3.2 30.7,3.9 30.7,4.6 30.7,7.3 30.7,8.8 30.7,8.2 9.2,1.1 9.2,0.4 9.2,-2.5 9.2,-3.9 9.2,-5.5 9.3,-9.8 9.2,-20.7 9.2,-34.9 9.2,-42 9.2,-50 15.4,-76.8 15.3,-72.2 15.3,-76 15.4,-81.5 15.4,-102.5 15.3,-101.5 15.3,-92.2 15.4,-82.5 15.3,-80.8 10.8,-60.4 10.7,-49.6 10.8,-38.7 10.7,-27 10.8,-18.2 10.7,-13.3 10.8,-10.2 10.7,-8.1 10.8,-6.7 10.7,-5.7 10.7,-4.9 10.8,-4.4 10.7,-4 10.8,-3.6 10.7,-3.4 7.7,-2.3 24.6,-6.7 24.5,-6.1 24.6,-5.1 24.5,-4.2 24.6,-3.4 24.6,-2.9 24.5,-2.3 24.6,-1.3 24.5,-0.1 24.6,0.8 24.6,1.6 24.5,2.2 24.6,3.8 24.5,6.8 24.6,12 10.7,7.8 10.8,10.2 10.7,13.3 10.8,16.9 10.7,20.5 10.8,23.3 10.7,25 10.8,25.2 10.7,24.5 10.7,23.3 10.8,20.8 10.7,17.3 10.8,12.9 10.7,8.8 10.8,5.5 10.7,3.3 10.8,2 19.9,1.8" stroke="#1e8c66" stroke-opacity="0.79" stroke-width="3.0"/>
<path d="M389.6,1947.4l36.8,0 36.8,0 33.8,-0.6 24.6,-2.1 24.5,-3.7 24.6,-4.2 24.5,-4 24.6,-3 24.6,-1.7 24.5,-0.9 24.6,-0.6 24.5,-0.8 24.6,-1.3 24.6,-2.8 24.5,-4.9 12.3,-3.5 15.4,-7.6 15.3,-8.9 15.3,-10 15.4,-10.5 15.4,-8.6 15.3,-7.7 15.3,-5.8 15.4,-4.5 15.4,-3.3 15.3,-0.4 15.3,2.1 15.4,3.2 15.4,3.5 15.3,4.6 15.3,4.6 15.4,3.5 15.3,2.8 15.4,2.5 15.3,2.2 15.4,2.1 30.7,3.4 30.7,3.4 30.7,4 30.7,4.8 30.7,7 30.7,8.3 30.7,8 9.2,0.9 9.2,0.2 9.2,-2.4 9.2,-3.7 9.2,-4.9 9.3,-8.5 9.2,-17.9 9.2,-30.5 9.2,-38.4 9.2,-48 15.4,-70.5 15.3,-64.5 15.3,-72.6 15.4,-83.6 15.4,-97.9 15.3,-96.3 15.3,-84.1 15.4,-74.6 15.3,-73.9 10.8,-54.9 10.7,-43.8 10.8,-34 10.7,-24.1 10.8,-16.8 10.7,-12.6 10.8,-10 10.7,-8.1 10.8,-6.9 10.7,-6 10.7,-5.4 10.8,-4.9 10.7,-4.4 10.8,-4.2 10.7,-3.8 7.7,-2.7 24.6,-7.8 24.5,-7.1 24.6,-6.1 24.5,-5.2 24.6,-4.4 24.6,-3.7 24.5,-3.1 24.6,-1.9 24.5,-0.6 24.6,0.5 24.6,1.1 24.5,1.8 24.6,3 24.5,5.6 24.6,9.9 10.7,6.6 10.8,8.7 10.7,11.6 10.8,14.9 10.7,18.4 10.8,21 10.7,22.6 10.8,23.1 10.7,22.7 10.7,21.6 10.8,19.5 10.7,16.4 10.8,12.3 10.7,8.6 10.8,5.4 10.7,3.3 10.8,2 19.9,1.8" stroke="#60c096" stroke-opacity="0.74" stroke-width="3.0"/>
<path d="M389.6,1950.7l36.8,0 36.8,0 33.8,-0.5 24.6,-2.1 24.5,-3.7 24.6,-4.1 24.5,-4 24.6,-2.9 24.6,-1.7 24.5,-0.9 24.6,-0.6 24.5,-0.8 24.6,-1.3 24.6,-2.7 24.5,-4.6 12.3,-3.3 15.4,-7.1 15.3,-8.3 15.3,-9.5 15.4,-10.1 15.4,-8.3 15.3,-7.4 15.3,-5.7 15.4,-4.4 15.4,-3.3 15.3,-0.5 15.3,2.1 15.4,3.1 15.4,3.4 15.3,4.5 15.3,4.6 15.4,3.4 15.3,2.8 15.4,2.4 15.3,2.2 15.4,2.1 30.7,3.4 30.7,3.4 30.7,4.1 30.7,4.8 30.7,6.6 30.7,7.9 30.7,7.8 9.2,0.7 9.2,0.3 9.2,-2.3 9.2,-3.2 9.2,-3.9 9.3,-6.3 9.2,-13 9.2,-22.1 9.2,-29.8 9.2,-41.8 15.4,-57.9 15.3,-51 15.3,-65.2 15.4,-84.2 15.4,-88.3 15.3,-85.8 15.3,-70 15.4,-61.1 15.3,-61.7 10.8,-45.3 10.7,-34.1 10.8,-26.2 10.7,-19.2 10.8,-14.3 10.7,-11.3 10.8,-9.2 10.7,-8 10.8,-6.9 10.7,-6.4 10.7,-5.8 10.8,-5.4 10.7,-5 10.8,-4.8 10.7,-4.5 7.7,-3 24.6,-9.2 24.5,-8.3 24.6,-7.4 24.5,-6.5 24.6,-5.6 24.6,-4.9 24.5,-4 24.6,-2.9 24.5,-1.2 24.6,0 24.6,0.5 24.5,1 24.6,1.8 24.5,3.7 24.6,6.7 10.7,4.6 10.8,6.4 10.7,8.7 10.8,11.7 10.7,14.6 10.8,17 10.7,18.7 10.8,19.3 10.7,19.3 10.7,18.6 10.8,17.1 10.7,14.6 10.8,11.1 10.7,7.9 10.8,5.2 10.7,3.2 10.8,1.9 19.9,1.7" stroke="#a0e2c0" stroke-opacity="0.80" stroke-width="3.0"/>
<path d="M389.6,1962.8l36.8,0 36.8,0 33.8,-0.5 24.6,-2.1 24.5,-3.7 24.6,-4.2 24.5,-4 24.6,-3 24.6,-1.7 24.5,-0.9 24.6,-0.6 24.5,-0.8 24.6,-1.3 24.6,-2.4 24.5,-3.8 12.3,-2.7 15.4,-5 15.3,-6.3 15.3,-7.8 15.4,-8.8 15.4,-7.5 15.3,-7.1 15.3,-5.5 15.4,-4.4 15.4,-3.3 15.3,-0.5 15.3,1.8 15.4,2.9 15.4,3.2 15.3,4.5 15.3,4.5 15.4,3.5 15.3,2.7 15.4,2.5 15.3,2.2 15.4,2.1 30.7,3.6 30.7,3.6 30.7,4.5 30.7,5 30.7,5.8 30.7,6.6 30.7,7.3 9.2,0 9.2,-0.3 9.2,-2.6 9.2,-3.5 9.2,-4.9 9.3,-8.8 9.2,-18.7 9.2,-33.5 9.2,-44.5 9.2,-53.4 15.4,-74.4 15.3,-65.4 15.3,-72.6 15.4,-83.6 15.4,-97.4 15.3,-95.7 15.3,-83.5 15.4,-74.1 15.3,-73.3 10.8,-54.5 10.7,-43.4 10.8,-33.7 10.7,-23.8 10.8,-16.7 10.7,-12.6 10.8,-9.9 10.7,-8.1 10.8,-6.9 10.7,-6 10.7,-5.4 10.8,-4.8 10.7,-4.5 10.8,-4.1 10.7,-3.9 7.7,-2.7 24.6,-7.8 24.5,-7.1 24.6,-6.2 24.5,-5.2 24.6,-4.4 24.6,-3.8 24.5,-3.1 24.6,-1.9 24.5,-0.6 24.6,0.5 24.6,1.1 24.5,1.7 24.6,3 24.5,5.5 24.6,9.8 10.7,6.5 10.8,8.7 10.7,11.5 10.8,14.7 10.7,18.2 10.8,20.8 10.7,22.5 10.8,22.9 10.7,22.5 10.7,21.5 10.8,19.4 10.7,16.3 10.8,12.2 10.7,8.6 10.8,5.3 10.7,3.4 10.8,1.9 19.9,1.8" stroke="#4cb28a" stroke-opacity="0.74" stroke-width="3.0"/>
<path d="M389.6,1962.9l36.8,0 36.8,0 33.8,-0.6 24.6,-2.1 24.5,-3.7 24.6,-4.1 24.5,-4 24.6,-3 24.6,-1.7 24.5,-0.9 24.6,-0.7 24.5,-0.8 24.6,-1.2 24.6,-2.4 24.5,-3.8 12.3,-2.7 15.4,-5 15.3,-6.2 15.3,-7.9 15.4,-8.7 15.4,-7.6 15.3,-7 15.3,-5.5 15.4,-4.5 15.4,-3.3 15.3,-0.4 15.3,1.8 15.4,2.9 15.4,3.2 15.3,4.4 15.3,4.6 15.4,3.4 15.3,2.8 15.4,2.4 15.3,2.3 15.4,2.1 30.7,3.6 30.7,3.5 30.7,4.5 30.7,5 30.7,5.8 30.7,6.6 30.7,7.2 9.2,0.1 9.2,-0.3 9.2,-2.5 9.2,-3.4 9.2,-4.7 9.3,-8.4 9.2,-17.5 9.2,-31.5 9.2,-42.3 9.2,-51.9 15.4,-71.4 15.3,-62.3 15.3,-71.1 15.4,-83.8 15.4,-95.3 15.3,-93.5 15.3,-80.4 15.4,-71.1 15.3,-70.7 10.8,-52.4 10.7,-41.2 10.8,-32 10.7,-22.8 10.8,-16.1 10.7,-12.3 10.8,-9.8 10.7,-8 10.8,-6.9 10.7,-6.2 10.7,-5.4 10.8,-5 10.7,-4.6 10.8,-4.3 10.7,-4 7.7,-2.8 24.6,-8.1 24.5,-7.4 24.6,-6.5 24.5,-5.5 24.6,-4.7 24.6,-4 24.5,-3.3 24.6,-2.2 24.5,-0.7 24.6,0.3 24.6,1 24.5,1.5 24.6,2.7 24.5,5.2 24.6,9 10.7,6.1 10.8,8.1 10.7,10.9 10.8,14 10.7,17.4 10.8,20 10.7,21.6 10.8,22 10.7,21.8 10.7,20.9 10.8,18.8 10.7,15.9 10.8,12 10.7,8.4 10.8,5.3 10.7,3.3 10.8,2 19.9,1.8" stroke="#b4ecd0" stroke-opacity="0.88" stroke-width="3.0"/>
<path d="M389.6,1917.1l36.8,0 36.8,0 33.8,-0.6 24.6,-2.1 24.5,-3.6 24.6,-4.2 24.5,-4 24.6,-2.9 24.6,-1.7 24.5,-0.8 24.6,-0.6 24.5,-0.8 24.6,-1.4 24.6,-3.6 24.5,-7 12.3,-5.2 15.4,-12.5 15.3,-14.2 15.3,-14.1 15.4,-13.9 15.4,-10.5 15.3,-8.8 15.3,-6.4 15.4,-4.5 15.4,-3.2 15.3,-0.4 15.3,2.6 15.4,3.9 15.4,3.9 15.3,4.8 15.3,4.8 15.4,3.5 15.3,2.8 15.4,2.5 15.3,2.2 15.4,2 30.7,3.1 30.7,3 30.7,3.1 30.7,4.2 30.7,9.3 30.7,11.6 30.7,9.4 9.2,2.4 9.2,1.5 9.2,-2.2 9.2,-3.8 9.2,-4.7 9.3,-7.2 9.2,-15.2 9.2,-22.3 9.2,-23.7 9.2,-35.1 15.4,-59.4 15.3,-59.1 15.3,-70.1 15.4,-82.9 15.4,-95.9 15.3,-94.1 15.3,-81.6 15.4,-72.2 15.3,-71.6 10.8,-53.2 10.7,-42.1 10.8,-32.6 10.7,-23.3 10.8,-16.3 10.7,-12.3 10.8,-9.8 10.7,-8.1 10.8,-6.8 10.7,-6.1 10.7,-5.4 10.8,-4.9 10.7,-4.5 10.8,-4.2 10.7,-4 7.7,-2.6 24.6,-8 24.5,-7.2 24.6,-6.4 24.5,-5.3 24.6,-4.5 24.6,-3.9 24.5,-3.2 24.6,-2.1 24.5,-0.6 24.6,0.4 24.6,1 24.5,1.6 24.6,2.9 24.5,5.3 24.6,9.3 10.7,6.3 10.8,8.3 10.7,11.2 10.8,14.3 10.7,17.7 10.8,20.3 10.7,21.9 10.8,22.3 10.7,22.1 10.7,21.1 10.8,19 10.7,16 10.8,12.1 10.7,8.4 10.8,5.3 10.7,3.3 10.8,2 19.9,1.7" stroke="#60c096" stroke-opacity="0.81" stroke-width="3.0"/>
<path d="M389.6,1927.2l36.8,0 36.8,0 33.8,-0.5 24.6,-2.1 24.5,-3.7 24.6,-4.1 24.5,-4 24.6,-3 24.6,-1.6 24.5,-0.8 24.6,-0.7 24.5,-0.8 24.6,-1.3 24.6,-3.3 24.5,-6.3 12.3,-4.7 15.4,-10.8 15.3,-12.4 15.3,-12.8 15.4,-12.6 15.4,-9.9 15.3,-8.4 15.3,-6.1 15.4,-4.5 15.4,-3.2 15.3,-0.4 15.3,2.4 15.4,3.6 15.4,3.8 15.3,4.7 15.3,4.7 15.4,3.5 15.3,2.8 15.4,2.5 15.3,2.2 15.4,1.9 30.7,3.3 30.7,3 30.7,3.4 30.7,4.4 30.7,8.5 30.7,10.4 30.7,8.9 9.2,1.9 9.2,1.1 9.2,-2.4 9.2,-3.9 9.2,-5.1 9.3,-8.5 9.2,-18 9.2,-28.6 9.2,-32.2 9.2,-41.9 15.4,-68 15.3,-66 15.3,-73.3 15.4,-81.9 15.4,-99.6 15.3,-98.2 15.3,-87.5 15.4,-78 15.3,-76.7 10.8,-57.3 10.7,-46.3 10.8,-36.1 10.7,-25.3 10.8,-17.4 10.7,-12.9 10.8,-10 10.7,-8 10.8,-6.8 10.7,-5.9 10.7,-5.1 10.8,-4.6 10.7,-4.2 10.8,-3.9 10.7,-3.6 7.7,-2.4 24.6,-7.3 24.5,-6.5 24.6,-5.7 24.5,-4.6 24.6,-3.9 24.6,-3.4 24.5,-2.6 24.6,-1.6 24.5,-0.4 24.6,0.6 24.6,1.4 24.5,2 24.6,3.3 24.5,6.2 24.6,10.8 10.7,7.2 10.8,9.3 10.7,12.4 10.8,15.8 10.7,19.2 10.8,22 10.7,23.6 10.8,24 10.7,23.5 10.7,22.2 10.8,20.1 10.7,16.7 10.8,12.5 10.7,8.6 10.8,5.5 10.7,3.3 10.8,2 19.9,1.7" stroke="#1e8c66" stroke-opacity="0.76" stroke-width="3.0"/>
<path d="M389.6,1928.7l36.8,0 36.8,0 33.8,-0.5 24.6,-2.1 24.5,-3.6 24.6,-4.1 24.5,-4 24.6,-3 24.6,-1.6 24.5,-0.8 24.6,-0.7 24.5,-0.7 24.6,-1.4 24.6,-3.3 24.5,-6.1 12.3,-4.6 15.4,-10.6 15.3,-12.1 15.3,-12.5 15.4,-12.5 15.4,-9.7 15.3,-8.4 15.3,-6.1 15.4,-4.4 15.4,-3.2 15.3,-0.4 15.3,2.4 15.4,3.6 15.4,3.7 15.3,4.7 15.3,4.6 15.4,3.5 15.3,2.8 15.4,2.5 15.3,2.1 15.4,2 30.7,3.2 30.7,3.1 30.7,3.4 30.7,4.4 30.7,8.4 30.7,10.2 30.7,8.8 9.2,1.9 9.2,0.9 9.2,-2.3 9.2,-4 9.2,-5.2 9.3,-8.8 9.2,-18.8 9.2,-30 9.2,-34 9.2,-43.2 15.4,-69.9 15.3,-67.9 15.3,-74 15.4,-81.3 15.4,-100.4 15.3,-99.2 15.3,-89.1 15.4,-79.5 15.3,-78.2 10.8,-58.3 10.7,-47.5 10.8,-37.1 10.7,-25.8 10.8,-17.7 10.7,-13 10.8,-10.1 10.7,-8 10.8,-6.7 10.7,-5.8 10.7,-5 10.8,-4.5 10.7,-4.1 10.8,-3.8 10.7,-3.4 7.7,-2.4 24.6,-7 24.5,-6.4 24.6,-5.4 24.5,-4.4 24.6,-3.7 24.6,-3.2 24.5,-2.4 24.6,-1.5 24.5,-0.3 24.6,0.7 24.6,1.5 24.5,2 24.6,3.5 24.5,6.5 24.6,11.2 10.7,7.4 10.8,9.7 10.7,12.7 10.8,16.2 10.7,19.7 10.8,22.5 10.7,24 10.8,24.4 10.7,23.8 10.7,22.6 10.8,20.3 10.7,16.9 10.8,12.6 10.7,8.7 10.8,5.4 10.7,3.3 10.8,2 19.9,1.7" stroke="#4cb28a" stroke-opacity="0.94" stroke-width="3.0"/>
<path d="M389.6,1954.6l36.8,0 36.8,0 33.8,-0.5 24.6,-2.1 24.5,-3.7 24.6,-4.1 24.5,-4 24.6,-2.9 24.6,-1.7 24.5,-0.9 24.6,-0.6 24.5,-0.8 24.6,-1.3 24.6,-2.6 24.5,-4.4 12.3,-3.1 15.4,-6.3 15.3,-7.7 15.3,-9 15.4,-9.6 15.4,-8 15.3,-7.4 15.3,-5.6 15.4,-4.4 15.4,-3.3 15.3,-0.4 15.3,2 15.4,3 15.4,3.3 15.3,4.5 15.3,4.6 15.4,3.4 15.3,2.7 15.4,2.5 15.3,2.2 15.4,2.1 30.7,3.4 30.7,3.5 30.7,4.1 30.7,4.9 30.7,6.4 30.7,7.4 30.7,7.6 9.2,0.4 9.2,0 9.2,-2.6 9.2,-4 9.2,-5.8 9.3,-10.7 9.2,-22.7 9.2,-40 9.2,-49.8 9.2,-56.4 15.4,-83.8 15.3,-76.9 15.3,-78.3 15.4,-81.2 15.4,-104.8 15.3,-104.2 15.3,-95.8 15.4,-86 15.3,-83.8 10.8,-63 10.7,-52 10.8,-40.9 10.7,-28.2 10.8,-18.8 10.7,-13.7 10.8,-10.3 10.7,-8.2 10.8,-6.6 10.7,-5.6 10.7,-4.8 10.8,-4.2 10.7,-3.8 10.8,-3.5 10.7,-3.2 7.7,-2.1 24.6,-6.4 24.5,-5.7 24.6,-4.8 24.5,-3.7 24.6,-3.2 24.6,-2.6 24.5,-1.9 24.6,-1.1 24.5,0.1 24.6,1 24.6,1.7 24.5,2.4 24.6,4.1 24.5,7.3 24.6,12.8 10.7,8.4 10.8,10.8 10.7,14.1 10.8,17.7 10.7,21.5 10.8,24.4 10.7,25.9 10.8,26.2 10.7,25.4 10.7,24 10.8,21.4 10.7,17.7 10.8,13.2 10.7,9 10.8,5.6 10.7,3.3 10.8,2 19.9,1.8" stroke="#4cb28a" stroke-opacity="0.88" stroke-width="3.0"/>
<path d="M389.6,1954.4l36.8,0 36.8,0 33.8,-0.5 24.6,-2.1 24.5,-3.7 24.6,-4.1 24.5,-4 24.6,-2.9 24.6,-1.7 24.5,-0.9 24.6,-0.6 24.5,-0.8 24.6,-1.3 24.6,-2.6 24.5,-4.4 12.3,-3.1 15.4,-6.4 15.3,-7.7 15.3,-9 15.4,-9.7 15.4,-8 15.3,-7.3 15.3,-5.7 15.4,-4.4 15.4,-3.2 15.3,-0.5 15.3,2 15.4,3 15.4,3.4 15.3,4.5 15.3,4.5 15.4,3.4 15.3,2.8 15.4,2.4 15.3,2.2 15.4,2.1 30.7,3.5 30.7,3.4 30.7,4.1 30.7,4.9 30.7,6.4 30.7,7.5 30.7,7.6 9.2,0.5 9.2,0.1 9.2,-2.2 9.2,-3.1 9.2,-3.6 9.3,-5.9 9.2,-12 9.2,-20.7 9.2,-28.8 9.2,-41.5 15.4,-55.7 15.3,-47.9 15.3,-63.5 15.4,-84.6 15.4,-86.1 15.3,-83.3 15.3,-66.6 15.4,-57.8 15.3,-58.8 10.8,-42.9 10.7,-31.8 10.8,-24.2 10.7,-18.1 10.8,-13.6 10.7,-11 10.8,-9.1 10.7,-7.9 10.8,-7 10.7,-6.5 10.7,-5.9 10.8,-5.5 10.7,-5.2 10.8,-4.9 10.7,-4.7 7.7,-3.2 24.6,-9.5 24.5,-8.6 24.6,-7.8 24.5,-6.8 24.6,-5.9 24.6,-5.1 24.5,-4.4 24.6,-3.1 24.5,-1.3 24.6,-0.2 24.6,0.4 24.5,0.7 24.6,1.6 24.5,3.2 24.6,5.9 10.7,4.1 10.8,5.8 10.7,8.1 10.8,10.8 10.7,13.7 10.8,16.1 10.7,17.7 10.8,18.4 10.7,18.4 10.7,18 10.8,16.5 10.7,14.1 10.8,10.9 10.7,7.8 10.8,5 10.7,3.2 10.8,1.9 19.9,1.8" stroke="#b4ecd0" stroke-opacity="0.80" stroke-width="3.0"/>
<path d="M389.6,1935.8l36.8,0 36.8,-0.1 33.8,-0.5 24.6,-2.1 24.5,-3.7 24.6,-4.1 24.5,-4 24.6,-3 24.6,-1.6 24.5,-0.9 24.6,-0.6 24.5,-0.8 24.6,-1.3 24.6,-3.1 24.5,-5.7 12.3,-4.2 15.4,-9.4 15.3,-11 15.3,-11.5 15.4,-11.8 15.4,-9.3 15.3,-8.1 15.3,-5.9 15.4,-4.5 15.4,-3.2 15.3,-0.4 15.3,2.2 15.4,3.5 15.4,3.6 15.3,4.7 15.3,4.6 15.4,3.5 15.3,2.8 15.4,2.5 15.3,2.2 15.4,2 30.7,3.3 30.7,3.2 30.7,3.6 30.7,4.5 30.7,7.9 30.7,9.5 30.7,8.5 9.2,1.6 9.2,0.8 9.2,-2.1 9.2,-3.2 9.2,-3.6 9.3,-5.2 9.2,-10.7 9.2,-16.2 9.2,-20.6 9.2,-34.4 15.4,-49.9 15.3,-45.6 15.3,-62.8 15.4,-84.8 15.4,-85.9 15.3,-83 15.3,-66.2 15.4,-57.3 15.3,-58.5 10.8,-42.5 10.7,-31.4 10.8,-24 10.7,-17.9 10.8,-13.5 10.7,-11 10.8,-9.1 10.7,-7.9 10.8,-7.1 10.7,-6.4 10.7,-6 10.8,-5.6 10.7,-5.2 10.8,-5 10.7,-4.7 7.7,-3.2 24.6,-9.6 24.5,-8.7 24.6,-7.9 24.5,-6.9 24.6,-6 24.6,-5.2 24.5,-4.4 24.6,-3.2 24.5,-1.4 24.6,-0.2 24.6,0.4 24.5,0.7 24.6,1.5 24.5,3.1 24.6,5.8 10.7,4 10.8,5.7 10.7,8 10.8,10.7 10.7,13.6 10.8,15.9 10.7,17.5 10.8,18.3 10.7,18.4 10.7,17.9 10.8,16.4 10.7,14.1 10.8,10.9 10.7,7.7 10.8,5.1 10.7,3.2 10.8,1.9 19.9,1.7" stroke="#4cb28a" stroke-opacity="0.74" stroke-width="3.0"/>
<path d="M389.6,1943.8l36.8,0 36.8,0 33.8,-0.5 24.6,-2.1 24.5,-3.6 24.6,-4.1 24.5,-4 24.6,-2.9 24.6,-1.7 24.5,-0.8 24.6,-0.7 24.5,-0.8 24.6,-1.3 24.6,-2.8 24.5,-5.2 12.3,-3.7 15.4,-8.1 15.3,-9.5 15.3,-10.5 15.4,-10.8 15.4,-8.7 15.3,-7.7 15.3,-5.8 15.4,-4.4 15.4,-3.3 15.3,-0.4 15.3,2.2 15.4,3.2 15.4,3.5 15.3,4.6 15.3,4.5 15.4,3.4 15.3,2.8 15.4,2.5 15.3,2.2 15.4,2 30.7,3.3 30.7,3.3 30.7,3.8 30.7,4.7 30.7,7.2 30.7,8.6 30.7,8.1 9.2,1.1 9.2,0.5 9.2,-2.2 9.2,-3.1 9.2,-3.7 9.3,-5.8 9.2,-11.7 9.2,-19.1 9.2,-25.1 9.2,-37.9 15.4,-53.6 15.3,-47.9 15.3,-63.6 15.4,-84 15.4,-86.5 15.3,-83.9 15.3,-67.5 15.4,-58.8 15.3,-59.7 10.8,-43.6 10.7,-32.5 10.8,-24.9 10.7,-18.4 10.8,-13.8 10.7,-11 10.8,-9.2 10.7,-7.9 10.8,-6.9 10.7,-6.4 10.7,-5.9 10.8,-5.4 10.7,-5.1 10.8,-4.8 10.7,-4.6 7.7,-3.1 24.6,-9.4 24.5,-8.4 24.6,-7.7 24.5,-6.6 24.6,-5.8 24.6,-5 24.5,-4.2 24.6,-3 24.5,-1.3 24.6,-0.1 24.6,0.4 24.5,0.9 24.6,1.6 24.5,3.4 24.6,6.2 10.7,4.3 10.8,5.9 10.7,8.3 10.8,11.1 10.7,14 10.8,16.4 10.7,17.9 10.8,18.7 10.7,18.7 10.7,18.1 10.8,16.7 10.7,14.2 10.8,11 10.7,7.7 10.8,5.1 10.7,3.2 10.8,1.9 19.9,1.7" stroke="#4cb28a" stroke-opacity="0.92" stroke-width="3.0"/>
<path d="M389.6,1938.2l36.8,0 36.8,0 33.8,-0.5 24.6,-2.1 24.5,-3.7 24.6,-4.2 24.5,-4 24.6,-2.9 24.6,-1.7 24.5,-0.9 24.6,-0.6 24.5,-0.8 24.6,-1.3 24.6,-3.1 24.5,-5.5 12.3,-4 15.4,-9.1 15.3,-10.5 15.3,-11.2 15.4,-11.5 15.4,-9.1 15.3,-8.1 15.3,-5.9 15.4,-4.5 15.4,-3.2 15.3,-0.5 15.3,2.3 15.4,3.4 15.4,3.6 15.3,4.6 15.3,4.7 15.4,3.4 15.3,2.9 15.4,2.4 15.3,2.3 15.4,2 30.7,3.3 30.7,3.3 30.7,3.7 30.7,4.6 30.7,7.7 30.7,9.2 30.7,8.5 9.2,1.4 9.2,0.7 9.2,-2.1 9.2,-3.1 9.2,-3.3 9.3,-4.6 9.2,-9.5 9.2,-14.3 9.2,-19 9.2,-33.4 15.4,-47.2 15.3,-42.1 15.3,-61.2 15.4,-85.5 15.4,-83.7 15.3,-80.6 15.3,-62.4 15.4,-53.8 15.3,-55.3 10.8,-40 10.7,-28.8 10.8,-21.8 10.7,-16.6 10.8,-12.9 10.7,-10.6 10.8,-9 10.7,-7.9 10.8,-7.2 10.7,-6.6 10.7,-6.1 10.8,-5.8 10.7,-5.5 10.8,-5.1 10.7,-4.9 7.7,-3.4 24.6,-10.1 24.5,-9.1 24.6,-8.3 24.5,-7.4 24.6,-6.4 24.6,-5.6 24.5,-4.7 24.6,-3.4 24.5,-1.6 24.6,-0.4 24.6,0.2 24.5,0.5 24.6,1.2 24.5,2.5 24.6,4.9 10.7,3.5 10.8,5 10.7,7.2 10.8,9.8 10.7,12.6 10.8,14.9 10.7,16.5 10.8,17.3 10.7,17.5 10.7,17.1 10.8,15.9 10.7,13.6 10.8,10.6 10.7,7.6 10.8,5 10.7,3.2 10.8,1.9 19.9,1.8" stroke="#a0e2c0" stroke-opacity="0.93" stroke-width="3.0"/>
<path d="M389.6,1932.5l36.8,0 36.8,0 33.8,-0.6 24.6,-2 24.5,-3.7 24.6,-4.1 24.5,-4 24.6,-2.9 24.6,-1.6 24.5,-0.9 24.6,-0.6 24.5,-0.8 24.6,-1.3 24.6,-3.2 24.5,-5.9 12.3,-4.3 15.4,-10 15.3,-11.5 15.3,-12 15.4,-12.1 15.4,-9.4 15.3,-8.2 15.3,-6 15.4,-4.5 15.4,-3.2 15.3,-0.4 15.3,2.4 15.4,3.5 15.4,3.6 15.3,4.7 15.3,4.6 15.4,3.4 15.3,2.8 15.4,2.5 15.3,2.2 15.4,2 30.7,3.2 30.7,3.1 30.7,3.5 30.7,4.4 30.7,8.1 30.7,9.9 30.7,8.6 9.2,1.7 9.2,0.8 9.2,-2.3 9.2,-3.6 9.2,-4.7 9.3,-7.7 9.2,-16.2 9.2,-25.8 9.2,-30.3 9.2,-40.6 15.4,-63.7 15.3,-60.7 15.3,-70.3 15.4,-82.1 15.4,-95.4 15.3,-93.8 15.3,-81.5 15.4,-72.2 15.3,-71.6 10.8,-53.2 10.7,-42.2 10.8,-32.8 10.7,-23.2 10.8,-16.3 10.7,-12.3 10.8,-9.8 10.7,-7.9 10.8,-6.8 10.7,-6 10.7,-5.3 10.8,-4.8 10.7,-4.5 10.8,-4.1 10.7,-3.9 7.7,-2.6 24.6,-7.8 24.5,-7.1 24.6,-6.1 24.5,-5.2 24.6,-4.5 24.6,-3.7 24.5,-3.1 24.6,-2 24.5,-0.6 24.6,0.4 24.6,1.1 24.5,1.6 24.6,2.9 24.5,5.3 24.6,9.5 10.7,6.3 10.8,8.4 10.7,11.2 10.8,14.3 10.7,17.7 10.8,20.4 10.7,21.9 10.8,22.3 10.7,22.1 10.7,21 10.8,18.9 10.7,16 10.8,12 10.7,8.4 10.8,5.3 10.7,3.2 10.8,2 19.9,1.7" stroke="#a0e2c0" stroke-opacity="0.79" stroke-width="3.0"/>
<path d="M389.6,1942l36.8,0 36.8,0 33.8,-0.5 24.6,-2.1 24.5,-3.7 24.6,-4.1 24.5,-4 24.6,-2.9 24.6,-1.7 24.5,-0.8 24.6,-0.7 24.5,-0.8 24.6,-1.3 24.6,-2.9 24.5,-5.2 12.3,-3.8 15.4,-8.5 15.3,-9.8 15.3,-10.7 15.4,-11 15.4,-8.9 15.3,-7.8 15.3,-5.9 15.4,-4.4 15.4,-3.2 15.3,-0.5 15.3,2.2 15.4,3.3 15.4,3.5 15.3,4.6 15.3,4.6 15.4,3.5 15.3,2.7 15.4,2.5 15.3,2.2 15.4,2 30.7,3.4 30.7,3.2 30.7,3.8 30.7,4.7 30.7,7.3 30.7,8.8 30.7,8.2 9.2,1.2 9.2,0.5 9.2,-2.3 9.2,-3.5 9.2,-4.3 9.3,-7.3 9.2,-15.1 9.2,-24.9 9.2,-31.1 9.2,-42.1 15.4,-62.1 15.3,-57.2 15.3,-68.4 15.4,-83.1 15.4,-92.8 15.3,-90.7 15.3,-77.1 15.4,-67.9 15.3,-67.8 10.8,-50.1 10.7,-39 10.8,-30.2 10.7,-21.7 10.8,-15.5 10.7,-12 10.8,-9.5 10.7,-8 10.8,-6.9 10.7,-6.1 10.7,-5.5 10.8,-5.1 10.7,-4.6 10.8,-4.4 10.7,-4.1 7.7,-2.9 24.6,-8.3 24.5,-7.6 24.6,-6.7 24.5,-5.7 24.6,-4.9 24.6,-4.2 24.5,-3.5 24.6,-2.3 24.5,-0.9 24.6,0.3 24.6,0.8 24.5,1.4 24.6,2.5 24.5,4.7 24.6,8.4 10.7,5.6 10.8,7.6 10.7,10.2 10.8,13.3 10.7,16.5 10.8,19.1 10.7,20.6 10.8,21.2 10.7,21 10.7,20.1 10.8,18.3 10.7,15.4 10.8,11.7 10.7,8.2 10.8,5.2 10.7,3.2 10.8,2 19.9,1.7" stroke="#3aa47e" stroke-opacity="0.80" stroke-width="3.0"/>
<path d="M389.6,1922.6l36.8,0 36.8,0 33.8,-0.5 24.6,-2.1 24.5,-3.7 24.6,-4.2 24.5,-4 24.6,-3 24.6,-1.7 24.5,-0.8 24.6,-0.6 24.5,-0.8 24.6,-1.4 24.6,-3.5 24.5,-6.5 12.3,-5 15.4,-11.6 15.3,-13.2 15.3,-13.4 15.4,-13.2 15.4,-10.2 15.3,-8.7 15.3,-6.3 15.4,-4.5 15.4,-3.2 15.3,-0.4 15.3,2.5 15.4,3.7 15.4,3.9 15.3,4.8 15.3,4.7 15.4,3.6 15.3,2.8 15.4,2.5 15.3,2.2 15.4,2 30.7,3.2 30.7,3 30.7,3.4 30.7,4.3 30.7,8.9 30.7,11 30.7,9.1 9.2,2.2 9.2,1.2 9.2,-2.2 9.2,-3.8 9.2,-4.6 9.3,-7.3 9.2,-15.5 9.2,-23.3 9.2,-26 9.2,-37.2 15.4,-60.9 15.3,-59.4 15.3,-70.4 15.4,-83.5 15.4,-96 15.3,-94.2 15.3,-81.4 15.4,-72 15.3,-71.6 10.8,-53.1 10.7,-41.9 10.8,-32.5 10.7,-23.2 10.8,-16.2 10.7,-12.4 10.8,-9.9 10.7,-8 10.8,-6.9 10.7,-6.2 10.7,-5.4 10.8,-4.9 10.7,-4.6 10.8,-4.3 10.7,-4 7.7,-2.7 24.6,-8 24.5,-7.4 24.6,-6.4 24.5,-5.4 24.6,-4.6 24.6,-4 24.5,-3.2 24.6,-2.1 24.5,-0.7 24.6,0.4 24.6,1 24.5,1.6 24.6,2.8 24.5,5.2 24.6,9.3 10.7,6.2 10.8,8.3 10.7,11.1 10.8,14.3 10.7,17.6 10.8,20.2 10.7,21.9 10.8,22.3 10.7,22.1 10.7,21 10.8,19.1 10.7,16 10.8,12.1 10.7,8.4 10.8,5.4 10.7,3.3 10.8,2 19.9,1.7" stroke="#74cca2" stroke-opacity="0.91" stroke-width="3.0"/>
<path d="M389.6,1933.8l36.8,0 36.8,0 33.8,-0.5 24.6,-2.1 24.5,-3.7 24.6,-4.1 24.5,-4 24.6,-3 24.6,-1.6 24.5,-0.9 24.6,-0.6 24.5,-0.8 24.6,-1.4 24.6,-3.1 24.5,-5.8 12.3,-4.3 15.4,-9.8 15.3,-11.3 15.3,-11.8 15.4,-11.9 15.4,-9.4 15.3,-8.2 15.3,-6 15.4,-4.5 15.4,-3.2 15.3,-0.4 15.3,2.3 15.4,3.5 15.4,3.6 15.3,4.7 15.3,4.6 15.4,3.5 15.3,2.8 15.4,2.5 15.3,2.2 15.4,2 30.7,3.3 30.7,3.1 30.7,3.6 30.7,4.5 30.7,8 30.7,9.8 30.7,8.6 9.2,1.6 9.2,0.8 9.2,-2.1 9.2,-3.4 9.2,-3.9 9.3,-6 9.2,-12.5 9.2,-19.2 9.2,-23.4 9.2,-36.1 15.4,-54.3 15.3,-50.5 15.3,-65.3 15.4,-84.1 15.4,-89.2 15.3,-86.7 15.3,-71.2 15.4,-62.2 15.3,-62.9 10.8,-46 10.7,-35 10.8,-26.8 10.7,-19.7 10.8,-14.4 10.7,-11.5 10.8,-9.3 10.7,-7.9 10.8,-7 10.7,-6.4 10.7,-5.7 10.8,-5.4 10.7,-5 10.8,-4.7 10.7,-4.4 7.7,-3.1 24.6,-9 24.5,-8.2 24.6,-7.4 24.5,-6.4 24.6,-5.5 24.6,-4.7 24.5,-4 24.6,-2.8 24.5,-1.1 24.6,0 24.6,0.5 24.5,1.1 24.6,1.9 24.5,3.9 24.6,6.9 10.7,4.8 10.8,6.6 10.7,9 10.8,11.9 10.7,14.9 10.8,17.4 10.7,19 10.8,19.6 10.7,19.6 10.7,18.9 10.8,17.4 10.7,14.7 10.8,11.2 10.7,8 10.8,5.1 10.7,3.3 10.8,1.9 19.9,1.7" stroke="#a0e2c0" stroke-opacity="0.76" stroke-width="3.0"/>
<path d="M389.6,1935.2l36.8,0 36.8,0 33.8,-0.6 24.6,-2.1 24.5,-3.6 24.6,-4.2 24.5,-4 24.6,-3 24.6,-1.6 24.5,-0.9 24.6,-0.6 24.5,-0.8 24.6,-1.3 24.6,-3.1 24.5,-5.8 12.3,-4.2 15.4,-9.5 15.3,-11.1 15.3,-11.6 15.4,-11.8 15.4,-9.4 15.3,-8.1 15.3,-6 15.4,-4.5 15.4,-3.2 15.3,-0.4 15.3,2.3 15.4,3.4 15.4,3.7 15.3,4.6 15.3,4.7 15.4,3.5 15.3,2.8 15.4,2.5 15.3,2.2 15.4,2 30.7,3.3 30.7,3.2 30.7,3.6 30.7,4.6 30.7,7.9 30.7,9.5 30.7,8.6 9.2,1.5 9.2,0.7 9.2,-2.4 9.2,-3.8 9.2,-5 9.3,-8.5 9.2,-18 9.2,-29.3 9.2,-34.7 9.2,-44.3 15.4,-69 15.3,-65.4 15.3,-73 15.4,-82.5 15.4,-98.9 15.3,-97.4 15.3,-86.2 15.4,-76.6 15.3,-75.7 10.8,-56.3 10.7,-45.3 10.8,-35.3 10.7,-24.8 10.8,-17.1 10.7,-12.8 10.8,-10 10.7,-8.1 10.8,-6.8 10.7,-5.9 10.7,-5.2 10.8,-4.7 10.7,-4.3 10.8,-4 10.7,-3.7 7.7,-2.5 24.6,-7.5 24.5,-6.7 24.6,-5.9 24.5,-4.8 24.6,-4.1 24.6,-3.5 24.5,-2.8 24.6,-1.7 24.5,-0.5 24.6,0.6 24.6,1.3 24.5,1.9 24.6,3.2 24.5,5.9 24.6,10.5 10.7,7 10.8,9.1 10.7,12.1 10.8,15.4 10.7,18.9 10.8,21.6 10.7,23.2 10.8,23.6 10.7,23.2 10.7,22 10.8,19.8 10.7,16.6 10.8,12.4 10.7,8.6 10.8,5.4 10.7,3.4 10.8,1.9 19.9,1.8" stroke="#60c096" stroke-opacity="0.95" stroke-width="3.0"/>
<path d="M389.6,1945.2l36.8,0 36.8,0 33.8,-0.6 24.6,-2 24.5,-3.7 24.6,-4.1 24.5,-4 24.6,-2.9 24.6,-1.7 24.5,-0.9 24.6,-0.6 24.5,-0.8 24.6,-1.3 24.6,-2.8 24.5,-5 12.3,-3.7 15.4,-7.9 15.3,-9.3 15.3,-10.2 15.4,-10.7 15.4,-8.7 15.3,-7.7 15.3,-5.7 15.4,-4.5 15.4,-3.2 15.3,-0.4 15.3,2.1 15.4,3.2 15.4,3.5 15.3,4.5 15.3,4.6 15.4,3.5 15.3,2.7 15.4,2.5 15.3,2.2 15.4,2 30.7,3.4 30.7,3.3 30.7,3.9 30.7,4.7 30.7,7 30.7,8.5 30.7,8.1 9.2,1 9.2,0.4 9.2,-2.2 9.2,-3.3 9.2,-3.9 9.3,-6.2 9.2,-13 9.2,-21.3 9.2,-27.9 9.2,-40 15.4,-56.9 15.3,-51.1 15.3,-65.2 15.4,-83.9 15.4,-88.6 15.3,-86.1 15.3,-70.6 15.4,-61.7 15.3,-62.4 10.8,-45.6 10.7,-34.6 10.8,-26.6 10.7,-19.5 10.8,-14.3 10.7,-11.4 10.8,-9.2 10.7,-7.9 10.8,-7 10.7,-6.3 10.7,-5.8 10.8,-5.3 10.7,-5 10.8,-4.7 10.7,-4.4 7.7,-3.1 24.6,-9 24.5,-8.2 24.6,-7.3 24.5,-6.4 24.6,-5.6 24.6,-4.7 24.5,-4 24.6,-2.8 24.5,-1.1 24.6,0 24.6,0.5 24.5,1 24.6,2 24.5,3.7 24.6,6.9 10.7,4.7 10.8,6.5 10.7,8.9 10.8,11.8 10.7,14.8 10.8,17.2 10.7,18.9 10.8,19.4 10.7,19.5 10.7,18.7 10.8,17.2 10.7,14.6 10.8,11.2 10.7,8 10.8,5.1 10.7,3.2 10.8,1.9 19.9,1.7" stroke="#3aa47e" stroke-opacity="0.75" stroke-width="3.0"/>
<path d="M389.6,1944.2l36.8,0 36.8,0 33.8,-0.5 24.6,-2.1 24.5,-3.7 24.6,-4.1 24.5,-4.1 24.6,-2.9 24.6,-1.7 24.5,-0.8 24.6,-0.7 24.5,-0.8 24.6,-1.3 24.6,-2.9 24.5,-5.1 12.3,-3.7 15.4,-8 15.3,-9.5 15.3,-10.4 15.4,-10.8 15.4,-8.7 15.3,-7.8 15.3,-5.8 15.4,-4.5 15.4,-3.2 15.3,-0.5 15.3,2.2 15.4,3.2 15.4,3.5 15.3,4.6 15.3,4.6 15.4,3.5 15.3,2.8 15.4,2.4 15.3,2.3 15.4,2 30.7,3.4 30.7,3.3 30.7,3.9 30.7,4.7 30.7,7.1 30.7,8.7 30.7,8.1 9.2,1 9.2,0.5 9.2,-2.3 9.2,-3.3 9.2,-4 9.3,-6.4 9.2,-13.4 9.2,-22.1 9.2,-28.4 9.2,-40.6 15.4,-58.1 15.3,-52.3 15.3,-66.2 15.4,-84.2 15.4,-89.8 15.3,-87.4 15.3,-72.1 15.4,-63.1 15.3,-63.6 10.8,-46.7 10.7,-35.5 10.8,-27.4 10.7,-19.9 10.8,-14.6 10.7,-11.5 10.8,-9.4 10.7,-8 10.8,-7 10.7,-6.3 10.7,-5.7 10.8,-5.3 10.7,-5 10.8,-4.7 10.7,-4.4 7.7,-3 24.6,-9 24.5,-8.1 24.6,-7.3 24.5,-6.3 24.6,-5.4 24.6,-4.7 24.5,-3.9 24.6,-2.8 24.5,-1.1 24.6,0.1 24.6,0.6 24.5,1.1 24.6,2 24.5,4 24.6,7.1 10.7,4.9 10.8,6.7 10.7,9.2 10.8,12.1 10.7,15.2 10.8,17.6 10.7,19.3 10.8,19.9 10.7,19.8 10.7,19.1 10.8,17.4 10.7,14.9 10.8,11.3 10.7,8 10.8,5.2 10.7,3.2 10.8,2 19.9,1.7" stroke="#b4ecd0" stroke-opacity="0.73" stroke-width="3.0"/>
<path d="M389.6,1918l36.8,0 36.8,0 33.8,-0.6 24.6,-2.1 24.5,-3.6 24.6,-4.1 24.5,-4 24.6,-3 24.6,-1.6 24.5,-0.8 24.6,-0.7 24.5,-0.7 24.6,-1.4 24.6,-3.6 24.5,-6.9 12.3,-5.2 15.4,-12.3 15.3,-14 15.3,-14 15.4,-13.7 15.4,-10.5 15.3,-8.8 15.3,-6.2 15.4,-4.5 15.4,-3.2 15.3,-0.4 15.3,2.6 15.4,3.8 15.4,3.9 15.3,4.8 15.3,4.7 15.4,3.5 15.3,2.8 15.4,2.5 15.3,2.2 15.4,2 30.7,3.1 30.7,2.9 30.7,3.1 30.7,4.2 30.7,9.2 30.7,11.5 30.7,9.3 9.2,2.4 9.2,1.4 9.2,-2.3 9.2,-3.9 9.2,-5.1 9.3,-8.1 9.2,-17.4 9.2,-26.3 9.2,-28.1 9.2,-38.1 15.4,-65 15.3,-64.8 15.3,-72.7 15.4,-81.8 15.4,-99.2 15.3,-97.9 15.3,-87.1 15.4,-77.6 15.3,-76.5 10.8,-56.9 10.7,-46.1 10.8,-35.9 10.7,-25.1 10.8,-17.3 10.7,-12.9 10.8,-10 10.7,-8 10.8,-6.8 10.7,-5.9 10.7,-5.1 10.8,-4.6 10.7,-4.2 10.8,-3.9 10.7,-3.6 7.7,-2.5 24.6,-7.2 24.5,-6.6 24.6,-5.7 24.5,-4.7 24.6,-3.9 24.6,-3.4 24.5,-2.6 24.6,-1.7 24.5,-0.3 24.6,0.6 24.6,1.3 24.5,2 24.6,3.3 24.5,6.1 24.6,10.7 10.7,7.2 10.8,9.3 10.7,12.3 10.8,15.6 10.7,19.2 10.8,21.9 10.7,23.5 10.8,23.9 10.7,23.3 10.7,22.2 10.8,20 10.7,16.6 10.8,12.5 10.7,8.6 10.8,5.4 10.7,3.4 10.8,1.9 19.9,1.8" stroke="#4cb28a" stroke-opacity="0.86" stroke-width="3.0"/>
<path d="M389.6,1946.3l36.8,0 36.8,0 33.8,-0.6 24.6,-2.1 24.5,-3.7 24.6,-4.1 24.5,-4.1 24.6,-2.9 24.6,-1.7 24.5,-0.9 24.6,-0.6 24.5,-0.8 24.6,-1.3 24.6,-2.8 24.5,-5 12.3,-3.6 15.4,-7.7 15.3,-9.2 15.3,-10.1 15.4,-10.6 15.4,-8.6 15.3,-7.7 15.3,-5.9 15.4,-4.4 15.4,-3.3 15.3,-0.4 15.3,2.1 15.4,3.2 15.4,3.5 15.3,4.6 15.3,4.6 15.4,3.5 15.3,2.8 15.4,2.5 15.3,2.2 15.4,2 30.7,3.5 30.7,3.3 30.7,4 30.7,4.8 30.7,7 30.7,8.4 30.7,8.1 9.2,0.9 9.2,0.4 9.2,-2.2 9.2,-3.1 9.2,-3.7 9.3,-5.6 9.2,-11.5 9.2,-19 9.2,-25.5 9.2,-38.8 15.4,-53.7 15.3,-47.2 15.3,-63.8 15.4,-85.3 15.4,-86.7 15.3,-83.8 15.3,-66.9 15.4,-57.9 15.3,-59.2 10.8,-43 10.7,-31.9 10.8,-24.2 10.7,-18.2 10.8,-13.6 10.7,-11.1 10.8,-9.2 10.7,-7.9 10.8,-7.1 10.7,-6.5 10.7,-6 10.8,-5.6 10.7,-5.3 10.8,-5 10.7,-4.7 7.7,-3.2 24.6,-9.6 24.5,-8.8 24.6,-7.9 24.5,-6.9 24.6,-6 24.6,-5.2 24.5,-4.4 24.6,-3.2 24.5,-1.4 24.6,-0.1 24.6,0.3 24.5,0.8 24.6,1.5 24.5,3.2 24.6,5.9 10.7,4.1 10.8,5.7 10.7,8.1 10.8,10.9 10.7,13.7 10.8,16.2 10.7,17.7 10.8,18.5 10.7,18.6 10.7,18 10.8,16.6 10.7,14.2 10.8,11 10.7,7.8 10.8,5.1 10.7,3.2 10.8,1.9 19.9,1.8" stroke="#4cb28a" stroke-opacity="0.86" stroke-width="3.0"/>
<path d="M389.6,1931.8l36.8,0 36.8,0 33.8,-0.6 24.6,-2 24.5,-3.7 24.6,-4.2 24.5,-4 24.6,-2.9 24.6,-1.7 24.5,-0.8 24.6,-0.7 24.5,-0.7 24.6,-1.4 24.6,-3.2 24.5,-5.9 12.3,-4.4 15.4,-10.1 15.3,-11.7 15.3,-12.1 15.4,-12.2 15.4,-9.5 15.3,-8.3 15.3,-6 15.4,-4.5 15.4,-3.2 15.3,-0.4 15.3,2.3 15.4,3.5 15.4,3.7 15.3,4.7 15.3,4.7 15.4,3.5 15.3,2.8 15.4,2.5 15.3,2.2 15.4,2 30.7,3.2 30.7,3.2 30.7,3.5 30.7,4.5 30.7,8.1 30.7,10 30.7,8.7 9.2,1.7 9.2,0.9 9.2,-2.2 9.2,-3.5 9.2,-4.2 9.3,-6.4 9.2,-13.6 9.2,-21 9.2,-25.1 9.2,-37.1 15.4,-57 15.3,-53.7 15.3,-67.1 15.4,-83.8 15.4,-91.4 15.3,-89.2 15.3,-74.6 15.4,-65.6 15.3,-65.8 10.8,-48.4 10.7,-37.4 10.8,-28.8 10.7,-20.8 10.8,-15.1 10.7,-11.7 10.8,-9.5 10.7,-8 10.8,-6.9 10.7,-6.3 10.7,-5.6 10.8,-5.2 10.7,-4.9 10.8,-4.5 10.7,-4.3 7.7,-2.9 24.6,-8.7 24.5,-7.9 24.6,-7 24.5,-6 24.6,-5.2 24.6,-4.5 24.5,-3.7 24.6,-2.6 24.5,-0.9 24.6,0.1 24.6,0.7 24.5,1.2 24.6,2.3 24.5,4.3 24.6,7.8 10.7,5.3 10.8,7.1 10.7,9.7 10.8,12.7 10.7,15.9 10.8,18.4 10.7,19.9 10.8,20.6 10.7,20.4 10.7,19.6 10.8,17.9 10.7,15.1 10.8,11.6 10.7,8.1 10.8,5.2 10.7,3.3 10.8,1.9 19.9,1.8" stroke="#4cb28a" stroke-opacity="0.72" stroke-width="3.0"/>
<path d="M389.6,1932.9l36.8,0 36.8,0 33.8,-0.5 24.6,-2.1 24.5,-3.7 24.6,-4.1 24.5,-3.9 24.6,-3 24.6,-1.6 24.5,-0.9 24.6,-0.6 24.5,-0.8 24.6,-1.3 24.6,-3.2 24.5,-5.9 12.3,-4.3 15.4,-9.9 15.3,-11.4 15.3,-12 15.4,-12 15.4,-9.4 15.3,-8.2 15.3,-6 15.4,-4.5 15.4,-3.2 15.3,-0.4 15.3,2.3 15.4,3.5 15.4,3.7 15.3,4.6 15.3,4.7 15.4,3.4 15.3,2.8 15.4,2.5 15.3,2.2 15.4,2 30.7,3.2 30.7,3.2 30.7,3.5 30.7,4.4 30.7,8.1 30.7,9.8 30.7,8.6 9.2,1.6 9.2,0.8 9.2,-2.4 9.2,-3.9 9.2,-5.2 9.3,-8.9 9.2,-18.9 9.2,-30.6 9.2,-35.7 9.2,-44.5 15.4,-70.9 15.3,-67.9 15.3,-74 15.4,-81.6 15.4,-100.2 15.3,-99 15.3,-88.8 15.4,-79.3 15.3,-77.8 10.8,-58.2 10.7,-47.2 10.8,-36.9 10.7,-25.8 10.8,-17.6 10.7,-13 10.8,-10 10.7,-8.1 10.8,-6.7 10.7,-5.8 10.7,-5 10.8,-4.5 10.7,-4.1 10.8,-3.8 10.7,-3.5 7.7,-2.4 24.6,-7.1 24.5,-6.4 24.6,-5.4 24.5,-4.5 24.6,-3.7 24.6,-3.2 24.5,-2.5 24.6,-1.5 24.5,-0.3 24.6,0.7 24.6,1.4 24.5,2.1 24.6,3.4 24.5,6.4 24.6,11.2 10.7,7.3 10.8,9.7 10.7,12.6 10.8,16.1 10.7,19.6 10.8,22.4 10.7,24 10.8,24.3 10.7,23.7 10.7,22.6 10.8,20.2 10.7,16.8 10.8,12.7 10.7,8.6 10.8,5.5 10.7,3.3 10.8,2 19.9,1.7" stroke="#b4ecd0" stroke-opacity="0.78" stroke-width="3.0"/>
<path d="M389.6,1937.7l36.8,0 36.8,0 33.8,-0.6 24.6,-2.1 24.5,-3.7 24.6,-4.1 24.5,-4.1 24.6,-2.9 24.6,-1.7 24.5,-0.9 24.6,-0.6 24.5,-0.8 24.6,-1.3 24.6,-3.1 24.5,-5.5 12.3,-4.1 15.4,-9.2 15.3,-10.6 15.3,-11.3 15.4,-11.6 15.4,-9.1 15.3,-8.1 15.3,-6 15.4,-4.5 15.4,-3.2 15.3,-0.4 15.3,2.2 15.4,3.4 15.4,3.6 15.3,4.7 15.3,4.7 15.4,3.5 15.3,2.8 15.4,2.5 15.3,2.2 15.4,2 30.7,3.4 30.7,3.2 30.7,3.8 30.7,4.5 30.7,7.8 30.7,9.3 30.7,8.5 9.2,1.4 9.2,0.7 9.2,-2.2 9.2,-3.2 9.2,-3.7 9.3,-5.5 9.2,-11.4 9.2,-17.7 9.2,-22.7 9.2,-36.1 15.4,-52.2 15.3,-47.4 15.3,-64 15.4,-85.1 15.4,-87.4 15.3,-84.6 15.3,-67.8 15.4,-59 15.3,-60 10.8,-43.7 10.7,-32.6 10.8,-24.8 10.7,-18.5 10.8,-13.8 10.7,-11.2 10.8,-9.2 10.7,-8 10.8,-7.1 10.7,-6.5 10.7,-5.9 10.8,-5.6 10.7,-5.2 10.8,-4.9 10.7,-4.7 7.7,-3.2 24.6,-9.5 24.5,-8.7 24.6,-7.8 24.5,-6.8 24.6,-5.9 24.6,-5.1 24.5,-4.4 24.6,-3 24.5,-1.4 24.6,-0.1 24.6,0.4 24.5,0.8 24.6,1.6 24.5,3.4 24.6,6.1 10.7,4.2 10.8,5.9 10.7,8.3 10.8,11.1 10.7,14.1 10.8,16.4 10.7,18 10.8,18.7 10.7,18.9 10.7,18.2 10.8,16.8 10.7,14.3 10.8,11.1 10.7,7.8 10.8,5.2 10.7,3.2 10.8,1.9 19.9,1.8" stroke="#a0e2c0" stroke-opacity="0.75" stroke-width="3.0"/>
<path d="M389.6,1953.6l36.8,0 36.8,0 33.8,-0.6 24.6,-2.1 24.5,-3.7 24.6,-4.2 24.5,-4 24.6,-3 24.6,-1.6 24.5,-0.9 24.6,-0.7 24.5,-0.8 24.6,-1.3 24.6,-2.6 24.5,-4.5 12.3,-3.1 15.4,-6.6 15.3,-7.8 15.3,-9.2 15.4,-9.8 15.4,-8.1 15.3,-7.5 15.3,-5.7 15.4,-4.4 15.4,-3.3 15.3,-0.4 15.3,2 15.4,3 15.4,3.4 15.3,4.5 15.3,4.6 15.4,3.5 15.3,2.8 15.4,2.4 15.3,2.3 15.4,2.1 30.7,3.5 30.7,3.4 30.7,4.2 30.7,4.9 30.7,6.5 30.7,7.6 30.7,7.7 9.2,0.5 9.2,0.1 9.2,-2.3 9.2,-3.3 9.2,-4.1 9.3,-6.9 9.2,-14.3 9.2,-24.7 9.2,-33.2 9.2,-44.7 15.4,-61.9 15.3,-54.2 15.3,-67.2 15.4,-84.7 15.4,-90.8 15.3,-88.4 15.3,-73.2 15.4,-64.1 15.3,-64.5 10.8,-47.4 10.7,-36.2 10.8,-27.9 10.7,-20.3 10.8,-14.8 10.7,-11.7 10.8,-9.4 10.7,-8 10.8,-7.1 10.7,-6.3 10.7,-5.8 10.8,-5.3 10.7,-4.9 10.8,-4.7 10.7,-4.4 7.7,-3 24.6,-9 24.5,-8.1 24.6,-7.2 24.5,-6.3 24.6,-5.4 24.6,-4.7 24.5,-3.9 24.6,-2.7 24.5,-1.1 24.6,0.1 24.6,0.7 24.5,1.1 24.6,2.1 24.5,4 24.6,7.4 10.7,5 10.8,6.9 10.7,9.4 10.8,12.3 10.7,15.5 10.8,17.9 10.7,19.5 10.8,20.2 10.7,20.1 10.7,19.3 10.8,17.7 10.7,15 10.8,11.5 10.7,8 10.8,5.2 10.7,3.3 10.8,2 19.9,1.7" stroke="#8ad8b0" stroke-opacity="0.72" stroke-width="3.0"/>
<path d="M389.6,1955.5l36.8,0 36.8,0 33.8,-0.5 24.6,-2.1 24.5,-3.7 24.6,-4.2 24.5,-4.1 24.6,-3 24.6,-1.6 24.5,-0.9 24.6,-0.7 24.5,-0.8 24.6,-1.3 24.6,-2.6 24.5,-4.3 12.3,-3.1 15.4,-6.2 15.3,-7.5 15.3,-8.9 15.4,-9.6 15.4,-8.1 15.3,-7.3 15.3,-5.7 15.4,-4.5 15.4,-3.3 15.3,-0.4 15.3,1.9 15.4,3.1 15.4,3.3 15.3,4.6 15.3,4.6 15.4,3.4 15.3,2.8 15.4,2.5 15.3,2.2 15.4,2.1 30.7,3.6 30.7,3.5 30.7,4.2 30.7,5 30.7,6.3 30.7,7.4 30.7,7.7 9.2,0.4 9.2,0 9.2,-2.5 9.2,-3.6 9.2,-4.7 9.3,-8.5 9.2,-17.7 9.2,-31.1 9.2,-40.5 9.2,-50.2 15.4,-71.1 15.3,-63.5 15.3,-71.9 15.4,-84.1 15.4,-96.8 15.3,-95 15.3,-82.3 15.4,-72.9 15.3,-72.3 10.8,-53.6 10.7,-42.5 10.8,-33 10.7,-23.4 10.8,-16.5 10.7,-12.5 10.8,-9.9 10.7,-8.1 10.8,-6.9 10.7,-6.1 10.7,-5.5 10.8,-4.9 10.7,-4.6 10.8,-4.2 10.7,-4 7.7,-2.7 24.6,-8 24.5,-7.3 24.6,-6.4 24.5,-5.4 24.6,-4.6 24.6,-3.9 24.5,-3.2 24.6,-2.1 24.5,-0.6 24.6,0.4 24.6,1 24.5,1.7 24.6,2.8 24.5,5.4 24.6,9.4 10.7,6.4 10.8,8.4 10.7,11.2 10.8,14.5 10.7,17.8 10.8,20.5 10.7,22.1 10.8,22.6 10.7,22.3 10.7,21.2 10.8,19.2 10.7,16.2 10.8,12.2 10.7,8.5 10.8,5.3 10.7,3.4 10.8,2 19.9,1.7" stroke="#74cca2" stroke-opacity="0.85" stroke-width="3.0"/>
<path d="M389.6,1955l36.8,0 36.8,0 33.8,-0.5 24.6,-2.1 24.5,-3.6 24.6,-4 24.5,-3.9 24.6,-2.9 24.6,-1.7 24.5,-0.8 24.6,-0.7 24.5,-0.8 24.6,-1.2 24.6,-2.6 24.5,-4.3 12.3,-3.1 15.4,-6.3 15.3,-7.6 15.3,-8.8 15.4,-9.5 15.4,-7.9 15.3,-7.2 15.3,-5.6 15.4,-4.3 15.4,-3.2 15.3,-0.5 15.3,2 15.4,3 15.4,3.2 15.3,4.5 15.3,4.4 15.4,3.4 15.3,2.7 15.4,2.4 15.3,2.2 15.4,2 30.7,3.4 30.7,3.4 30.7,4.1 30.7,4.8 30.7,6.2 30.7,7.4 30.7,7.5 9.2,0.5 9.2,0.1 9.2,-2.4 9.2,-3.3 9.2,-4.3 9.3,-7.4 9.2,-15.4 9.2,-26.8 9.2,-35.4 9.2,-45.8 15.4,-64.1 15.3,-56.9 15.3,-67.5 15.4,-82 15.4,-91.1 15.3,-88.9 15.3,-75.3 15.4,-66.4 15.3,-66.3 10.8,-48.9 10.7,-38.1 10.8,-29.4 10.7,-21.2 10.8,-15.1 10.7,-11.7 10.8,-9.4 10.7,-7.9 10.8,-6.8 10.7,-6 10.7,-5.5 10.8,-5 10.7,-4.6 10.8,-4.3 10.7,-4.1 7.7,-2.8 24.6,-8.3 24.5,-7.5 24.6,-6.7 24.5,-5.7 24.6,-4.9 24.6,-4.1 24.5,-3.5 24.6,-2.4 24.5,-0.8 24.6,0.2 24.6,0.8 24.5,1.3 24.6,2.4 24.5,4.6 24.6,8.1 10.7,5.5 10.8,7.3 10.7,10 10.8,13 10.7,16.1 10.8,18.6 10.7,20.1 10.8,20.7 10.7,20.6 10.7,19.6 10.8,17.9 10.7,15.1 10.8,11.5 10.7,8.1 10.8,5.1 10.7,3.2 10.8,1.9 19.9,1.7" stroke="#b4ecd0" stroke-opacity="0.84" stroke-width="3.0"/>
<path d="M389.6,1954l36.8,0 36.8,0 33.8,-0.5 24.6,-2.1 24.5,-3.7 24.6,-4.2 24.5,-4 24.6,-3 24.6,-1.7 24.5,-0.9 24.6,-0.6 24.5,-0.8 24.6,-1.3 24.6,-2.6 24.5,-4.5 12.3,-3.1 15.4,-6.5 15.3,-7.8 15.3,-9 15.4,-9.8 15.4,-8.1 15.3,-7.4 15.3,-5.7 15.4,-4.5 15.4,-3.3 15.3,-0.4 15.3,2 15.4,3 15.4,3.4 15.3,4.5 15.3,4.6 15.4,3.5 15.3,2.8 15.4,2.4 15.3,2.3 15.4,2.1 30.7,3.5 30.7,3.4 30.7,4.2 30.7,5 30.7,6.4 30.7,7.6 30.7,7.7 9.2,0.5 9.2,0.1 9.2,-2.3 9.2,-3.2 9.2,-4 9.3,-6.5 9.2,-13.3 9.2,-23.2 9.2,-31.6 9.2,-43.8 15.4,-59.5 15.3,-51.8 15.3,-66 15.4,-85.1 15.4,-89.3 15.3,-86.6 15.3,-70.7 15.4,-61.7 15.3,-62.5 10.8,-45.7 10.7,-34.5 10.8,-26.4 10.7,-19.5 10.8,-14.3 10.7,-11.4 10.8,-9.4 10.7,-8 10.8,-7.1 10.7,-6.4 10.7,-5.8 10.8,-5.5 10.7,-5.1 10.8,-4.8 10.7,-4.5 7.7,-3.1 24.6,-9.2 24.5,-8.4 24.6,-7.6 24.5,-6.5 24.6,-5.7 24.6,-4.8 24.5,-4.2 24.6,-2.8 24.5,-1.3 24.6,0 24.6,0.6 24.5,0.9 24.6,1.9 24.5,3.7 24.6,6.8 10.7,4.7 10.8,6.4 10.7,8.8 10.8,11.8 10.7,14.8 10.8,17.2 10.7,18.8 10.8,19.5 10.7,19.5 10.7,18.9 10.8,17.2 10.7,14.7 10.8,11.3 10.7,8 10.8,5.2 10.7,3.2 10.8,2 19.9,1.7" stroke="#60c096" stroke-opacity="0.81" stroke-width="3.0"/>
<path d="M389.6,1951.6l36.8,0 36.8,-0.1 33.8,-0.5 24.6,-2.1 24.5,-3.7 24.6,-4.1 24.5,-4 24.6,-3 24.6,-1.7 24.5,-0.9 24.6,-0.6 24.5,-0.8 24.6,-1.3 24.6,-2.7 24.5,-4.6 12.3,-3.3 15.4,-6.9 15.3,-8.2 15.3,-9.3 15.4,-10.1 15.4,-8.2 15.3,-7.5 15.3,-5.7 15.4,-4.5 15.4,-3.2 15.3,-0.5 15.3,2 15.4,3.1 15.4,3.4 15.3,4.6 15.3,4.6 15.4,3.4 15.3,2.8 15.4,2.5 15.3,2.2 15.4,2.1 30.7,3.4 30.7,3.4 30.7,4.1 30.7,4.9 30.7,6.6 30.7,7.8 30.7,7.8 9.2,0.7 9.2,0.2 9.2,-2.2 9.2,-3.2 9.2,-3.7 9.3,-6 9.2,-12.3 9.2,-21 9.2,-28.7 9.2,-41.3 15.4,-56.3 15.3,-49 15.3,-64.5 15.4,-85 15.4,-87.3 15.3,-84.6 15.3,-68.1 15.4,-59.2 15.3,-60.2 10.8,-43.9 10.7,-32.7 10.8,-25 10.7,-18.5 10.8,-13.9 10.7,-11.2 10.8,-9.2 10.7,-8 10.8,-7 10.7,-6.5 10.7,-5.9 10.8,-5.5 10.7,-5.2 10.8,-4.9 10.7,-4.6 7.7,-3.2 24.6,-9.4 24.5,-8.6 24.6,-7.8 24.5,-6.8 24.6,-5.8 24.6,-5.1 24.5,-4.3 24.6,-3 24.5,-1.3 24.6,-0.1 24.6,0.4 24.5,0.8 24.6,1.7 24.5,3.4 24.6,6.1 10.7,4.4 10.8,5.9 10.7,8.4 10.8,11.1 10.7,14.1 10.8,16.5 10.7,18.1 10.8,18.8 10.7,18.8 10.7,18.3 10.8,16.8 10.7,14.4 10.8,11 10.7,7.9 10.8,5.1 10.7,3.2 10.8,1.9 19.9,1.8" stroke="#b4ecd0" stroke-opacity="0.78" stroke-width="3.0"/>
<path d="M389.6,1960.1l36.8,0 36.8,0 33.8,-0.5 24.6,-2.1 24.5,-3.7 24.6,-4.1 24.5,-3.9 24.6,-3 24.6,-1.6 24.5,-0.9 24.6,-0.7 24.5,-0.8 24.6,-1.2 24.6,-2.5 24.5,-4 12.3,-2.8 15.4,-5.5 15.3,-6.7 15.3,-8.1 15.4,-9.1 15.4,-7.6 15.3,-7.1 15.3,-5.5 15.4,-4.4 15.4,-3.3 15.3,-0.4 15.3,1.9 15.4,2.9 15.4,3.2 15.3,4.4 15.3,4.5 15.4,3.4 15.3,2.8 15.4,2.4 15.3,2.2 15.4,2.1 30.7,3.5 30.7,3.5 30.7,4.3 30.7,5 30.7,5.9 30.7,6.9 30.7,7.3 9.2,0.1 9.2,-0.2 9.2,-2.5 9.2,-3.6 9.2,-5.1 9.3,-9.2 9.2,-19.4 9.2,-34.7 9.2,-45 9.2,-53.3 15.4,-75.7 15.3,-67.7 15.3,-73.3 15.4,-82.1 15.4,-98.4 15.3,-96.9 15.3,-85.8 15.4,-76.4 15.3,-75.3 10.8,-56.1 10.7,-45.2 10.8,-35.2 10.7,-24.7 10.8,-17.1 10.7,-12.7 10.8,-9.9 10.7,-8 10.8,-6.8 10.7,-5.9 10.7,-5.1 10.8,-4.7 10.7,-4.2 10.8,-4 10.7,-3.6 7.7,-2.5 24.6,-7.4 24.5,-6.7 24.6,-5.7 24.5,-4.8 24.6,-4.1 24.6,-3.4 24.5,-2.7 24.6,-1.8 24.5,-0.4 24.6,0.6 24.6,1.3 24.5,1.9 24.6,3.2 24.5,5.9 24.6,10.5 10.7,6.9 10.8,9.1 10.7,12.1 10.8,15.3 10.7,18.9 10.8,21.5 10.7,23.2 10.8,23.5 10.7,23 10.7,21.9 10.8,19.7 10.7,16.5 10.8,12.4 10.7,8.5 10.8,5.4 10.7,3.3 10.8,2 19.9,1.7" stroke="#4cb28a" stroke-opacity="0.93" stroke-width="3.0"/>
<path d="M389.6,1935l36.8,0 36.8,0 33.8,-0.6 24.6,-2.1 24.5,-3.6 24.6,-4.2 24.5,-4 24.6,-2.9 24.6,-1.6 24.5,-0.9 24.6,-0.7 24.5,-0.7 24.6,-1.4 24.6,-3.1 24.5,-5.7 12.3,-4.2 15.4,-9.6 15.3,-11.1 15.3,-11.7 15.4,-11.8 15.4,-9.3 15.3,-8.1 15.3,-6 15.4,-4.5 15.4,-3.2 15.3,-0.4 15.3,2.3 15.4,3.4 15.4,3.7 15.3,4.6 15.3,4.7 15.4,3.4 15.3,2.8 15.4,2.5 15.3,2.2 15.4,2 30.7,3.3 30.7,3.2 30.7,3.6 30.7,4.5 30.7,7.9 30.7,9.6 30.7,8.5 9.2,1.6 9.2,0.7 9.2,-2.3 9.2,-3.7 9.2,-4.9 9.3,-7.9 9.2,-17 9.2,-27.3 9.2,-32.4 9.2,-42.6 15.4,-66 15.3,-62.4 15.3,-71.3 15.4,-82.6 15.4,-96.7 15.3,-95.1 15.3,-83.2 15.4,-73.7 15.3,-73 10.8,-54.3 10.7,-43.2 10.8,-33.7 10.7,-23.7 10.8,-16.6 10.7,-12.5 10.8,-9.9 10.7,-8 10.8,-6.8 10.7,-6 10.7,-5.3 10.8,-4.8 10.7,-4.4 10.8,-4.1 10.7,-3.8 7.7,-2.6 24.6,-7.7 24.5,-7 24.6,-6.2 24.5,-5.1 24.6,-4.3 24.6,-3.7 24.5,-3 24.6,-2 24.5,-0.5 24.6,0.5 24.6,1.1 24.5,1.7 24.6,3 24.5,5.5 24.6,9.8 10.7,6.5 10.8,8.7 10.7,11.4 10.8,14.7 10.7,18.2 10.8,20.7 10.7,22.4 10.8,22.8 10.7,22.4 10.7,21.4 10.8,19.3 10.7,16.1 10.8,12.2 10.7,8.5 10.8,5.3 10.7,3.3 10.8,2 19.9,1.7" stroke="#a0e2c0" stroke-opacity="0.82" stroke-width="3.0"/>
<path d="M389.6,1945.2l36.8,0 36.8,0 33.8,-0.5 24.6,-2.1 24.5,-3.7 24.6,-4.1 24.5,-4 24.6,-3 24.6,-1.6 24.5,-0.9 24.6,-0.7 24.5,-0.7 24.6,-1.3 24.6,-2.9 24.5,-5 12.3,-3.7 15.4,-7.9 15.3,-9.3 15.3,-10.2 15.4,-10.7 15.4,-8.7 15.3,-7.7 15.3,-5.8 15.4,-4.4 15.4,-3.3 15.3,-0.4 15.3,2.1 15.4,3.2 15.4,3.5 15.3,4.6 15.3,4.6 15.4,3.4 15.3,2.8 15.4,2.5 15.3,2.2 15.4,2 30.7,3.4 30.7,3.3 30.7,4 30.7,4.7 30.7,7.1 30.7,8.5 30.7,8 9.2,1 9.2,0.4 9.2,-2.4 9.2,-3.6 9.2,-4.7 9.3,-8.1 9.2,-16.9 9.2,-28.5 9.2,-35.7 9.2,-45.7 15.4,-67.4 15.3,-61.9 15.3,-70.9 15.4,-83 15.4,-95.8 15.3,-94.1 15.3,-81.5 15.4,-72.3 15.3,-71.7 10.8,-53.1 10.7,-42.2 10.8,-32.7 10.7,-23.2 10.8,-16.4 10.7,-12.3 10.8,-9.8 10.7,-8 10.8,-6.9 10.7,-6 10.7,-5.4 10.8,-4.9 10.7,-4.5 10.8,-4.1 10.7,-4 7.7,-2.6 24.6,-8 24.5,-7.1 24.6,-6.3 24.5,-5.3 24.6,-4.5 24.6,-3.9 24.5,-3.1 24.6,-2.1 24.5,-0.7 24.6,0.5 24.6,1 24.5,1.6 24.6,2.9 24.5,5.3 24.6,9.4 10.7,6.3 10.8,8.3 10.7,11.2 10.8,14.3 10.7,17.7 10.8,20.3 10.7,22 10.8,22.3 10.7,22.1 10.7,21 10.8,19.1 10.7,16 10.8,12.1 10.7,8.3 10.8,5.4 10.7,3.3 10.8,1.9 19.9,1.8" stroke="#b4ecd0" stroke-opacity="0.77" stroke-width="3.0"/>
<path d="M389.6,1929.6l36.8,0 36.8,-0.1 33.8,-0.5 24.6,-2.1 24.5,-3.7 24.6,-4.1 24.5,-4 24.6,-3 24.6,-1.6 24.5,-0.9 24.6,-0.6 24.5,-0.8 24.6,-1.3 24.6,-3.3 24.5,-6.1 12.3,-4.6 15.4,-10.4 15.3,-12 15.3,-12.5 15.4,-12.4 15.4,-9.7 15.3,-8.4 15.3,-6.1 15.4,-4.4 15.4,-3.3 15.3,-0.4 15.3,2.4 15.4,3.6 15.4,3.7 15.3,4.7 15.3,4.7 15.4,3.5 15.3,2.8 15.4,2.5 15.3,2.2 15.4,2 30.7,3.3 30.7,3.1 30.7,3.5 30.7,4.4 30.7,8.3 30.7,10.2 30.7,8.9 9.2,1.8 9.2,1 9.2,-2.1 9.2,-3.2 9.2,-3.7 9.3,-5.3 9.2,-10.9 9.2,-15.9 9.2,-19.2 9.2,-32.8 15.4,-49.8 15.3,-46.5 15.3,-63.6 15.4,-84.7 15.4,-87 15.3,-84.3 15.3,-67.7 15.4,-58.9 15.3,-59.9 10.8,-43.7 10.7,-32.5 10.8,-24.8 10.7,-18.5 10.8,-13.9 10.7,-11 10.8,-9.3 10.7,-7.9 10.8,-7 10.7,-6.5 10.7,-5.9 10.8,-5.5 10.7,-5.2 10.8,-4.9 10.7,-4.6 7.7,-3.2 24.6,-9.5 24.5,-8.5 24.6,-7.8 24.5,-6.8 24.6,-5.9 24.6,-5 24.5,-4.3 24.6,-3.1 24.5,-1.3 24.6,-0.1 24.6,0.4 24.5,0.8 24.6,1.7 24.5,3.3 24.6,6.1 10.7,4.3 10.8,5.9 10.7,8.3 10.8,11.1 10.7,14 10.8,16.4 10.7,18 10.8,18.7 10.7,18.8 10.7,18.2 10.8,16.8 10.7,14.2 10.8,11.1 10.7,7.8 10.8,5.1 10.7,3.2 10.8,1.9 19.9,1.8" stroke="#60c096" stroke-opacity="0.88" stroke-width="3.0"/>
<path d="M389.6,1958l36.8,0 36.8,0 33.8,-0.6 24.6,-2.1 24.5,-3.7 24.6,-4.1 24.5,-4 24.6,-3 24.6,-1.7 24.5,-0.9 24.6,-0.6 24.5,-0.8 24.6,-1.3 24.6,-2.5 24.5,-4.2 12.3,-2.9 15.4,-5.8 15.3,-7.1 15.3,-8.5 15.4,-9.3 15.4,-7.9 15.3,-7.2 15.3,-5.6 15.4,-4.4 15.4,-3.3 15.3,-0.5 15.3,1.9 15.4,3 15.4,3.3 15.3,4.5 15.3,4.5 15.4,3.5 15.3,2.7 15.4,2.5 15.3,2.2 15.4,2.1 30.7,3.6 30.7,3.5 30.7,4.3 30.7,4.9 30.7,6.2 30.7,7.1 30.7,7.5 9.2,0.3 9.2,-0.1 9.2,-2.4 9.2,-3.4 9.2,-4.3 9.3,-7.7 9.2,-15.8 9.2,-28.1 9.2,-37.6 9.2,-48.2 15.4,-66.4 15.3,-58.2 15.3,-69.1 15.4,-84.1 15.4,-93 15.3,-90.8 15.3,-76.8 15.4,-67.5 15.3,-67.6 10.8,-49.8 10.7,-38.7 10.8,-29.9 10.7,-21.6 10.8,-15.4 10.7,-12 10.8,-9.6 10.7,-8 10.8,-7 10.7,-6.2 10.7,-5.6 10.8,-5.1 10.7,-4.8 10.8,-4.5 10.7,-4.2 7.7,-2.8 24.6,-8.6 24.5,-7.7 24.6,-6.9 24.5,-5.8 24.6,-5.1 24.6,-4.3 24.5,-3.6 24.6,-2.4 24.5,-0.9 24.6,0.2 24.6,0.8 24.5,1.3 24.6,2.4 24.5,4.6 24.6,8.2 10.7,5.6 10.8,7.5 10.7,10.1 10.8,13.2 10.7,16.4 10.8,18.9 10.7,20.5 10.8,21.1 10.7,21 10.7,20 10.8,18.3 10.7,15.4 10.8,11.8 10.7,8.2 10.8,5.2 10.7,3.3 10.8,2 19.9,1.7" stroke="#60c096" stroke-opacity="0.75" stroke-width="3.0"/>
<path d="M389.6,1949.8l36.8,0 36.8,0 33.8,-0.6 24.6,-2 24.5,-3.7 24.6,-4.1 24.5,-4 24.6,-2.9 24.6,-1.7 24.5,-0.8 24.6,-0.7 24.5,-0.8 24.6,-1.3 24.6,-2.7 24.5,-4.7 12.3,-3.4 15.4,-7.1 15.3,-8.5 15.3,-9.6 15.4,-10.2 15.4,-8.3 15.3,-7.6 15.3,-5.7 15.4,-4.3 15.4,-3.3 15.3,-0.4 15.3,2 15.4,3.1 15.4,3.4 15.3,4.5 15.3,4.6 15.4,3.4 15.3,2.8 15.4,2.4 15.3,2.2 15.4,2.1 30.7,3.4 30.7,3.3 30.7,4.1 30.7,4.7 30.7,6.8 30.7,8 30.7,7.8 9.2,0.7 9.2,0.3 9.2,-2.3 9.2,-3.2 9.2,-4 9.3,-6.4 9.2,-13.5 9.2,-22.6 9.2,-30.1 9.2,-42.1 15.4,-58.6 15.3,-52 15.3,-65.7 15.4,-83.8 15.4,-88.9 15.3,-86.4 15.3,-71.1 15.4,-62.2 15.3,-62.7 10.8,-46 10.7,-35 10.8,-26.8 10.7,-19.7 10.8,-14.4 10.7,-11.4 10.8,-9.3 10.7,-7.9 10.8,-6.9 10.7,-6.3 10.7,-5.8 10.8,-5.3 10.7,-4.9 10.8,-4.7 10.7,-4.4 7.7,-3 24.6,-9 24.5,-8.1 24.6,-7.3 24.5,-6.4 24.6,-5.4 24.6,-4.7 24.5,-4 24.6,-2.7 24.5,-1.2 24.6,0.1 24.6,0.5 24.5,1.1 24.6,1.9 24.5,3.9 24.6,7 10.7,4.8 10.8,6.5 10.7,9 10.8,12 10.7,14.9 10.8,17.3 10.7,19 10.8,19.6 10.7,19.6 10.7,18.8 10.8,17.3 10.7,14.7 10.8,11.2 10.7,7.9 10.8,5.1 10.7,3.3 10.8,1.9 19.9,1.7" stroke="#a0e2c0" stroke-opacity="0.71" stroke-width="3.0"/>
<path d="M389.6,1942l36.8,0 36.8,0 33.8,-0.5 24.6,-2.1 24.5,-3.6 24.6,-4.1 24.5,-4 24.6,-3 24.6,-1.6 24.5,-0.9 24.6,-0.6 24.5,-0.8 24.6,-1.3 24.6,-2.9 24.5,-5.2 12.3,-3.9 15.4,-8.4 15.3,-9.8 15.3,-10.7 15.4,-11 15.4,-8.9 15.3,-7.8 15.3,-5.8 15.4,-4.4 15.4,-3.2 15.3,-0.4 15.3,2.1 15.4,3.3 15.4,3.5 15.3,4.6 15.3,4.6 15.4,3.4 15.3,2.8 15.4,2.4 15.3,2.2 15.4,2 30.7,3.4 30.7,3.2 30.7,3.8 30.7,4.6 30.7,7.3 30.7,8.9 30.7,8.1 9.2,1.2 9.2,0.5 9.2,-2.4 9.2,-3.7 9.2,-4.9 9.3,-8.3 9.2,-17.7 9.2,-29.4 9.2,-35.9 9.2,-45.5 15.4,-68.6 15.3,-64 15.3,-71.7 15.4,-82 15.4,-96.9 15.3,-95.5 15.3,-83.8 15.4,-74.5 15.3,-73.6 10.8,-54.7 10.7,-43.9 10.8,-34.1 10.7,-24 10.8,-16.7 10.7,-12.5 10.8,-9.9 10.7,-8 10.8,-6.7 10.7,-6 10.7,-5.2 10.8,-4.7 10.7,-4.3 10.8,-4 10.7,-3.8 7.7,-2.5 24.6,-7.6 24.5,-6.8 24.6,-6 24.5,-4.9 24.6,-4.2 24.6,-3.6 24.5,-2.9 24.6,-1.9 24.5,-0.5 24.6,0.6 24.6,1.1 24.5,1.8 24.6,3.1 24.5,5.7 24.6,10 10.7,6.6 10.8,8.8 10.7,11.7 10.8,14.9 10.7,18.3 10.8,21 10.7,22.5 10.8,23 10.7,22.6 10.7,21.5 10.8,19.4 10.7,16.2 10.8,12.2 10.7,8.5 10.8,5.3 10.7,3.3 10.8,1.9 19.9,1.8" stroke="#74cca2" stroke-opacity="0.78" stroke-width="3.0"/>
<path d="M389.6,1937.8l36.8,0 36.8,0 33.8,-0.6 24.6,-2 24.5,-3.7 24.6,-4.2 24.5,-4 24.6,-2.9 24.6,-1.7 24.5,-0.8 24.6,-0.7 24.5,-0.8 24.6,-1.3 24.6,-3 24.5,-5.6 12.3,-4 15.4,-9.2 15.3,-10.5 15.3,-11.3 15.4,-11.5 15.4,-9.2 15.3,-8 15.3,-6 15.4,-4.4 15.4,-3.3 15.3,-0.4 15.3,2.3 15.4,3.4 15.4,3.5 15.3,4.7 15.3,4.6 15.4,3.5 15.3,2.8 15.4,2.5 15.3,2.2 15.4,2 30.7,3.3 30.7,3.2 30.7,3.8 30.7,4.5 30.7,7.7 30.7,9.3 30.7,8.4 9.2,1.4 9.2,0.6 9.2,-2.3 9.2,-3.8 9.2,-5 9.3,-8.4 9.2,-17.8 9.2,-29.2 9.2,-35.1 9.2,-44.7 15.4,-68.8 15.3,-64.7 15.3,-72.6 15.4,-82.5 15.4,-98.2 15.3,-96.7 15.3,-85.2 15.4,-75.7 15.3,-74.7 10.8,-55.7 10.7,-44.6 10.8,-34.7 10.7,-24.5 10.8,-17 10.7,-12.7 10.8,-9.9 10.7,-8.1 10.8,-6.8 10.7,-5.9 10.7,-5.3 10.8,-4.7 10.7,-4.3 10.8,-4.1 10.7,-3.7 7.7,-2.6 24.6,-7.5 24.5,-6.9 24.6,-5.9 24.5,-4.9 24.6,-4.2 24.6,-3.6 24.5,-2.8 24.6,-1.8 24.5,-0.5 24.6,0.5 24.6,1.2 24.5,1.9 24.6,3.1 24.5,5.8 24.6,10.3 10.7,6.8 10.8,8.9 10.7,11.9 10.8,15.2 10.7,18.6 10.8,21.4 10.7,22.9 10.8,23.3 10.7,23 10.7,21.8 10.8,19.6 10.7,16.5 10.8,12.3 10.7,8.6 10.8,5.4 10.7,3.3 10.8,2 19.9,1.7" stroke="#3aa47e" stroke-opacity="0.94" stroke-width="3.0"/>
<path d="M389.6,1934.7l36.8,0 36.8,0 33.8,-0.6 24.6,-2 24.5,-3.7 24.6,-4.2 24.5,-4 24.6,-2.9 24.6,-1.7 24.5,-0.8 24.6,-0.7 24.5,-0.7 24.6,-1.4 24.6,-3.1 24.5,-5.8 12.3,-4.2 15.4,-9.6 15.3,-11.2 15.3,-11.7 15.4,-11.8 15.4,-9.4 15.3,-8.1 15.3,-6 15.4,-4.5 15.4,-3.2 15.3,-0.4 15.3,2.3 15.4,3.4 15.4,3.7 15.3,4.6 15.3,4.7 15.4,3.5 15.3,2.8 15.4,2.5 15.3,2.2 15.4,2 30.7,3.3 30.7,3.1 30.7,3.7 30.7,4.5 30.7,7.9 30.7,9.6 30.7,8.6 9.2,1.6 9.2,0.8 9.2,-2.2 9.2,-3.4 9.2,-3.9 9.3,-6.1 9.2,-12.7 9.2,-19.7 9.2,-24.1 9.2,-36.8 15.4,-55 15.3,-51 15.3,-65.7 15.4,-84.1 15.4,-89.5 15.3,-87.1 15.3,-71.7 15.4,-62.7 15.3,-63.3 10.8,-46.4 10.7,-35.3 10.8,-27.1 10.7,-19.8 10.8,-14.6 10.7,-11.4 10.8,-9.4 10.7,-8 10.8,-6.9 10.7,-6.4 10.7,-5.7 10.8,-5.4 10.7,-4.9 10.8,-4.7 10.7,-4.4 7.7,-3.1 24.6,-9 24.5,-8.1 24.6,-7.4 24.5,-6.3 24.6,-5.5 24.6,-4.7 24.5,-3.9 24.6,-2.8 24.5,-1.1 24.6,0 24.6,0.6 24.5,1 24.6,2 24.5,3.9 24.6,7.1 10.7,4.9 10.8,6.6 10.7,9.1 10.8,12 10.7,15.1 10.8,17.5 10.7,19.2 10.8,19.7 10.7,19.7 10.7,19.1 10.8,17.4 10.7,14.7 10.8,11.3 10.7,8 10.8,5.2 10.7,3.2 10.8,2 19.9,1.7" stroke="#b4ecd0" stroke-opacity="0.84" stroke-width="3.0"/>
<path d="M389.6,1923.8l36.8,0 36.8,0 33.8,-0.5 24.6,-2.1 24.5,-3.7 24.6,-4.2 24.5,-4 24.6,-3 24.6,-1.6 24.5,-0.9 24.6,-0.6 24.5,-0.8 24.6,-1.4 24.6,-3.4 24.5,-6.5 12.3,-4.9 15.4,-11.4 15.3,-13 15.3,-13.2 15.4,-13.1 15.4,-10.1 15.3,-8.6 15.3,-6.3 15.4,-4.5 15.4,-3.2 15.3,-0.4 15.3,2.5 15.4,3.7 15.4,3.8 15.3,4.8 15.3,4.7 15.4,3.5 15.3,2.9 15.4,2.5 15.3,2.2 15.4,2 30.7,3.2 30.7,3.1 30.7,3.3 30.7,4.4 30.7,8.8 30.7,10.8 30.7,9.1 9.2,2.1 9.2,1.2 9.2,-2.3 9.2,-3.8 9.2,-4.8 9.3,-7.7 9.2,-16.3 9.2,-25 9.2,-28 9.2,-38.8 15.4,-63.2 15.3,-61.7 15.3,-71.4 15.4,-83.3 15.4,-97.3 15.3,-95.7 15.3,-83.6 15.4,-74 15.3,-73.4 10.8,-54.5 10.7,-43.4 10.8,-33.7 10.7,-23.9 10.8,-16.7 10.7,-12.5 10.8,-10 10.7,-8 10.8,-6.9 10.7,-6.1 10.7,-5.3 10.8,-4.9 10.7,-4.5 10.8,-4.1 10.7,-3.9 7.7,-2.6 24.6,-7.9 24.5,-7.1 24.6,-6.2 24.5,-5.2 24.6,-4.4 24.6,-3.7 24.5,-3.1 24.6,-2 24.5,-0.6 24.6,0.5 24.6,1.1 24.5,1.7 24.6,3 24.5,5.6 24.6,9.7 10.7,6.6 10.8,8.6 10.7,11.5 10.8,14.8 10.7,18.2 10.8,20.8 10.7,22.5 10.8,22.9 10.7,22.5 10.7,21.5 10.8,19.4 10.7,16.3 10.8,12.3 10.7,8.5 10.8,5.4 10.7,3.3 10.8,2 19.9,1.7" stroke="#2c9872" stroke-opacity="0.72" stroke-width="3.0"/>
<path d="M389.6,1935.7l36.8,0 36.8,-0.1 33.8,-0.5 24.6,-2.1 24.5,-3.6 24.6,-4.2 24.5,-4 24.6,-2.9 24.6,-1.6 24.5,-0.9 24.6,-0.6 24.5,-0.8 24.6,-1.4 24.6,-3.1 24.5,-5.6 12.3,-4.2 15.4,-9.5 15.3,-10.9 15.3,-11.6 15.4,-11.7 15.4,-9.3 15.3,-8.1 15.3,-6 15.4,-4.4 15.4,-3.3 15.3,-0.4 15.3,2.3 15.4,3.4 15.4,3.7 15.3,4.6 15.3,4.6 15.4,3.5 15.3,2.8 15.4,2.5 15.3,2.2 15.4,2 30.7,3.3 30.7,3.1 30.7,3.7 30.7,4.5 30.7,7.8 30.7,9.6 30.7,8.5 9.2,1.5 9.2,0.7 9.2,-2.2 9.2,-3.5 9.2,-4.2 9.3,-6.8 9.2,-14.2 9.2,-22.5 9.2,-27.3 9.2,-39 15.4,-58.9 15.3,-55 15.3,-67.6 15.4,-83.4 15.4,-91.8 15.3,-89.7 15.3,-75.6 15.4,-66.4 15.3,-66.6 10.8,-49.1 10.7,-38 10.8,-29.3 10.7,-21.2 10.8,-15.2 10.7,-11.8 10.8,-9.5 10.7,-8 10.8,-6.9 10.7,-6.2 10.7,-5.6 10.8,-5.1 10.7,-4.8 10.8,-4.4 10.7,-4.2 7.7,-2.9 24.6,-8.6 24.5,-7.7 24.6,-6.9 24.5,-5.9 24.6,-5 24.6,-4.4 24.5,-3.6 24.6,-2.5 24.5,-0.9 24.6,0.2 24.6,0.8 24.5,1.3 24.6,2.3 24.5,4.5 24.6,8 10.7,5.4 10.8,7.3 10.7,9.9 10.8,13 10.7,16.1 10.8,18.6 10.7,20.2 10.8,20.8 10.7,20.6 10.7,19.8 10.8,18.1 10.7,15.2 10.8,11.6 10.7,8.1 10.8,5.2 10.7,3.3 10.8,1.9 19.9,1.8" stroke="#74cca2" stroke-opacity="0.93" stroke-width="3.0"/>
<path d="M389.6,1919.3l36.8,0 36.8,0 33.8,-0.6 24.6,-2 24.5,-3.7 24.6,-4.1 24.5,-4 24.6,-3 24.6,-1.6 24.5,-0.9 24.6,-0.6 24.5,-0.8 24.6,-1.4 24.6,-3.5 24.5,-6.8 12.3,-5.1 15.4,-12.1 15.3,-13.9 15.3,-13.8 15.4,-13.5 15.4,-10.4 15.3,-8.8 15.3,-6.2 15.4,-4.5 15.4,-3.2 15.3,-0.4 15.3,2.5 15.4,3.8 15.4,3.9 15.3,4.8 15.3,4.7 15.4,3.5 15.3,2.9 15.4,2.5 15.3,2.2 15.4,1.9 30.7,3.2 30.7,2.9 30.7,3.2 30.7,4.2 30.7,9.2 30.7,11.3 30.7,9.3 9.2,2.3 9.2,1.4 9.2,-2.1 9.2,-3.6 9.2,-4.2 9.3,-6.2 9.2,-13 9.2,-18.6 9.2,-20 9.2,-32.7 15.4,-53.8 15.3,-53 15.3,-66.8 15.4,-83.5 15.4,-91.6 15.3,-89.5 15.3,-75.1 15.4,-66 15.3,-66.1 10.8,-48.8 10.7,-37.6 10.8,-29.1 10.7,-21 10.8,-15.1 10.7,-11.8 10.8,-9.5 10.7,-8 10.8,-6.9 10.7,-6.2 10.7,-5.6 10.8,-5.2 10.7,-4.8 10.8,-4.5 10.7,-4.3 7.7,-2.9 24.6,-8.6 24.5,-7.8 24.6,-7 24.5,-6 24.6,-5.1 24.6,-4.4 24.5,-3.7 24.6,-2.5 24.5,-0.9 24.6,0.1 24.6,0.8 24.5,1.2 24.6,2.3 24.5,4.4 24.6,7.9 10.7,5.4 10.8,7.2 10.7,9.8 10.8,12.8 10.7,16 10.8,18.5 10.7,20.1 10.8,20.6 10.7,20.6 10.7,19.7 10.8,17.9 10.7,15.2 10.8,11.6 10.7,8.1 10.8,5.2 10.7,3.3 10.8,1.9 19.9,1.8" stroke="#74cca2" stroke-opacity="0.84" stroke-width="3.0"/>
<path d="M389.6,1932l36.8,0 36.8,0 33.8,-0.5 24.6,-2.1 24.5,-3.7 24.6,-4.1 24.5,-4 24.6,-3 24.6,-1.6 24.5,-0.9 24.6,-0.6 24.5,-0.8 24.6,-1.4 24.6,-3.2 24.5,-5.9 12.3,-4.4 15.4,-10 15.3,-11.6 15.3,-12.1 15.4,-12.2 15.4,-9.5 15.3,-8.3 15.3,-6 15.4,-4.5 15.4,-3.2 15.3,-0.4 15.3,2.3 15.4,3.5 15.4,3.7 15.3,4.7 15.3,4.7 15.4,3.5 15.3,2.8 15.4,2.5 15.3,2.2 15.4,2 30.7,3.3 30.7,3.1 30.7,3.5 30.7,4.5 30.7,8.1 30.7,10 30.7,8.7 9.2,1.6 9.2,0.8 9.2,-2.5 9.2,-4.2 9.2,-5.8 9.3,-10.2 9.2,-21.8 9.2,-35.8 9.2,-41.1 9.2,-48.5 15.4,-78.5 15.3,-75.9 15.3,-78.3 15.4,-81.2 15.4,-105.8 15.3,-105.1 15.3,-97 15.4,-87.1 15.3,-84.9 10.8,-63.7 10.7,-52.9 10.8,-41.5 10.7,-28.5 10.8,-19.1 10.7,-13.8 10.8,-10.4 10.7,-8.2 10.8,-6.6 10.7,-5.7 10.7,-4.8 10.8,-4.2 10.7,-3.7 10.8,-3.4 10.7,-3.2 7.7,-2.1 24.6,-6.3 24.5,-5.7 24.6,-4.7 24.5,-3.7 24.6,-3 24.6,-2.6 24.5,-1.9 24.6,-1 24.5,0.1 24.6,1 24.6,1.8 24.5,2.5 24.6,4.1 24.5,7.5 24.6,13.1 10.7,8.5 10.8,11 10.7,14.3 10.8,18 10.7,21.8 10.8,24.6 10.7,26.3 10.8,26.5 10.7,25.7 10.7,24.3 10.8,21.6 10.7,17.9 10.8,13.3 10.7,9.1 10.8,5.6 10.7,3.4 10.8,2 19.9,1.7" stroke="#4cb28a" stroke-opacity="0.93" stroke-width="3.0"/>
<path d="M389.6,1943.4l36.8,0 36.8,0 33.8,-0.6 24.6,-2.1 24.5,-3.7 24.6,-4.1 24.5,-4 24.6,-3 24.6,-1.7 24.5,-0.8 24.6,-0.7 24.5,-0.8 24.6,-1.3 24.6,-2.9 24.5,-5.2 12.3,-3.7 15.4,-8.2 15.3,-9.7 15.3,-10.5 15.4,-10.9 15.4,-8.8 15.3,-7.8 15.3,-5.9 15.4,-4.4 15.4,-3.3 15.3,-0.4 15.3,2.1 15.4,3.3 15.4,3.5 15.3,4.6 15.3,4.7 15.4,3.4 15.3,2.8 15.4,2.5 15.3,2.2 15.4,2.1 30.7,3.4 30.7,3.3 30.7,3.9 30.7,4.7 30.7,7.2 30.7,8.7 30.7,8.2 9.2,1 9.2,0.4 9.2,-2.4 9.2,-3.8 9.2,-5.2 9.3,-9.1 9.2,-19.1 9.2,-32.3 9.2,-39.6 9.2,-48.3 15.4,-73.2 15.3,-68.1 15.3,-74.3 15.4,-82.6 15.4,-100.1 15.3,-98.9 15.3,-88.1 15.4,-78.5 15.3,-77.3 10.8,-57.6 10.7,-46.6 10.8,-36.3 10.7,-25.5 10.8,-17.4 10.7,-13 10.8,-10.1 10.7,-8.1 10.8,-6.8 10.7,-5.9 10.7,-5.2 10.8,-4.6 10.7,-4.2 10.8,-3.9 10.7,-3.7 7.7,-2.4 24.6,-7.3 24.5,-6.6 24.6,-5.7 24.5,-4.7 24.6,-3.9 24.6,-3.4 24.5,-2.7 24.6,-1.6 24.5,-0.3 24.6,0.6 24.6,1.3 24.5,2 24.6,3.4 24.5,6.2 24.6,10.9 10.7,7.2 10.8,9.5 10.7,12.4 10.8,15.9 10.7,19.4 10.8,22.1 10.7,23.8 10.8,24.1 10.7,23.6 10.7,22.4 10.8,20.2 10.7,16.8 10.8,12.6 10.7,8.7 10.8,5.5 10.7,3.3 10.8,2 19.9,1.7" stroke="#a0e2c0" stroke-opacity="0.86" stroke-width="3.0"/>
<path d="M389.6,1920.2l36.8,0 36.8,0 33.8,-0.6 24.6,-2 24.5,-3.7 24.6,-4.1 24.5,-3.9 24.6,-3 24.6,-1.6 24.5,-0.8 24.6,-0.6 24.5,-0.8 24.6,-1.4 24.6,-3.5 24.5,-6.7 12.3,-5.1 15.4,-11.9 15.3,-13.7 15.3,-13.7 15.4,-13.4 15.4,-10.2 15.3,-8.7 15.3,-6.2 15.4,-4.5 15.4,-3.1 15.3,-0.4 15.3,2.5 15.4,3.8 15.4,3.8 15.3,4.8 15.3,4.6 15.4,3.5 15.3,2.8 15.4,2.5 15.3,2.2 15.4,1.9 30.7,3.1 30.7,2.9 30.7,3.2 30.7,4.2 30.7,9 30.7,11.2 30.7,9.2 9.2,2.3 9.2,1.4 9.2,-2.2 9.2,-3.7 9.2,-4.5 9.3,-6.9 9.2,-14.6 9.2,-21.5 9.2,-23.2 9.2,-34.7 15.4,-57.9 15.3,-57 15.3,-68.5 15.4,-82.2 15.4,-93.7 15.3,-91.9 15.3,-79 15.4,-69.9 15.3,-69.5 10.8,-51.4 10.7,-40.5 10.8,-31.4 10.7,-22.4 10.8,-15.9 10.7,-12 10.8,-9.7 10.7,-7.9 10.8,-6.8 10.7,-6 10.7,-5.4 10.8,-4.9 10.7,-4.6 10.8,-4.2 10.7,-4 7.7,-2.7 24.6,-8 24.5,-7.3 24.6,-6.4 24.5,-5.4 24.6,-4.7 24.6,-3.9 24.5,-3.3 24.6,-2.2 24.5,-0.7 24.6,0.4 24.6,0.9 24.5,1.5 24.6,2.7 24.5,5 24.6,8.9 10.7,6 10.8,7.9 10.7,10.7 10.8,13.8 10.7,17 10.8,19.7 10.7,21.2 10.8,21.7 10.7,21.4 10.7,20.5 10.8,18.5 10.7,15.7 10.8,11.8 10.7,8.2 10.8,5.3 10.7,3.2 10.8,1.9 19.9,1.8" stroke="#3aa47e" stroke-opacity="0.77" stroke-width="3.0"/>
<path d="M389.6,1955.7l36.8,0 36.8,0 33.8,-0.6 24.6,-2 24.5,-3.7 24.6,-4.1 24.5,-3.9 24.6,-3 24.6,-1.6 24.5,-0.9 24.6,-0.6 24.5,-0.8 24.6,-1.3 24.6,-2.5 24.5,-4.3 12.3,-3.1 15.4,-6.2 15.3,-7.4 15.3,-8.8 15.4,-9.5 15.4,-8 15.3,-7.2 15.3,-5.6 15.4,-4.3 15.4,-3.3 15.3,-0.5 15.3,2 15.4,3 15.4,3.3 15.3,4.4 15.3,4.5 15.4,3.4 15.3,2.8 15.4,2.4 15.3,2.2 15.4,2.1 30.7,3.4 30.7,3.5 30.7,4.1 30.7,4.9 30.7,6.2 30.7,7.4 30.7,7.5 9.2,0.5 9.2,0.1 9.2,-2.2 9.2,-2.8 9.2,-3.2 9.3,-5 9.2,-9.9 9.2,-17.1 9.2,-25.2 9.2,-38.9 15.4,-50.3 15.3,-42.1 15.3,-60.5 15.4,-84.8 15.4,-82 15.3,-78.9 15.3,-60.7 15.4,-52 15.3,-53.8 10.8,-38.8 10.7,-27.7 10.8,-20.9 10.7,-16.1 10.8,-12.5 10.7,-10.4 10.8,-8.9 10.7,-7.8 10.8,-7 10.7,-6.6 10.7,-6.1 10.8,-5.8 10.7,-5.4 10.8,-5.2 10.7,-4.9 7.7,-3.3 24.6,-10.1 24.5,-9.1 24.6,-8.4 24.5,-7.4 24.6,-6.4 24.6,-5.5 24.5,-4.8 24.6,-3.5 24.5,-1.6 24.6,-0.4 24.6,0.1 24.5,0.4 24.6,1.1 24.5,2.4 24.6,4.6 10.7,3.2 10.8,4.8 10.7,6.9 10.8,9.4 10.7,12.2 10.8,14.4 10.7,16 10.8,16.8 10.7,17.1 10.7,16.7 10.8,15.5 10.7,13.3 10.8,10.4 10.7,7.5 10.8,4.9 10.7,3.1 10.8,1.9 19.9,1.8" stroke="#b4ecd0" stroke-opacity="0.95" stroke-width="3.0"/>
<path d="M389.6,1940.9l36.8,0 36.8,0 33.8,-0.6 24.6,-2 24.5,-3.7 24.6,-4.1 24.5,-4 24.6,-3 24.6,-1.6 24.5,-0.9 24.6,-0.6 24.5,-0.8 24.6,-1.3 24.6,-3 24.5,-5.3 12.3,-3.9 15.4,-8.6 15.3,-10 15.3,-10.9 15.4,-11.1 15.4,-9 15.3,-7.8 15.3,-5.9 15.4,-4.4 15.4,-3.3 15.3,-0.4 15.3,2.2 15.4,3.3 15.4,3.6 15.3,4.6 15.3,4.6 15.4,3.4 15.3,2.8 15.4,2.5 15.3,2.2 15.4,2 30.7,3.3 30.7,3.2 30.7,3.8 30.7,4.6 30.7,7.5 30.7,8.9 30.7,8.2 9.2,1.2 9.2,0.5 9.2,-2.6 9.2,-4.1 9.2,-5.8 9.3,-10.5 9.2,-22.3 9.2,-37.7 9.2,-44.8 9.2,-51.7 15.4,-80.9 15.3,-76.7 15.3,-78.4 15.4,-80.8 15.4,-105.5 15.3,-104.8 15.3,-96.9 15.4,-87.1 15.3,-84.8 10.8,-63.6 10.7,-52.9 10.8,-41.5 10.7,-28.5 10.8,-19 10.7,-13.8 10.8,-10.4 10.7,-8.1 10.8,-6.7 10.7,-5.5 10.7,-4.8 10.8,-4.2 10.7,-3.7 10.8,-3.4 10.7,-3.1 7.7,-2.1 24.6,-6.2 24.5,-5.6 24.6,-4.7 24.5,-3.6 24.6,-3 24.6,-2.5 24.5,-1.9 24.6,-0.9 24.5,0.1 24.6,1 24.6,1.8 24.5,2.5 24.6,4.2 24.5,7.5 24.6,13 10.7,8.6 10.8,11 10.7,14.3 10.8,18 10.7,21.7 10.8,24.7 10.7,26.3 10.8,26.4 10.7,25.7 10.7,24.2 10.8,21.6 10.7,17.9 10.8,13.2 10.7,9 10.8,5.6 10.7,3.4 10.8,2 19.9,1.7" stroke="#a0e2c0" stroke-opacity="0.83" stroke-width="3.0"/>
<path d="M389.6,1922l36.8,0 36.8,0 33.8,-0.5 24.6,-2.1 24.5,-3.7 24.6,-4.2 24.5,-4 24.6,-2.9 24.6,-1.7 24.5,-0.8 24.6,-0.6 24.5,-0.8 24.6,-1.4 24.6,-3.5 24.5,-6.6 12.3,-4.9 15.4,-11.7 15.3,-13.4 15.3,-13.4 15.4,-13.3 15.4,-10.2 15.3,-8.6 15.3,-6.3 15.4,-4.5 15.4,-3.2 15.3,-0.4 15.3,2.5 15.4,3.8 15.4,3.8 15.3,4.8 15.3,4.7 15.4,3.5 15.3,2.9 15.4,2.4 15.3,2.2 15.4,2 30.7,3.2 30.7,3 30.7,3.3 30.7,4.3 30.7,8.9 30.7,11 30.7,9.2 9.2,2.2 9.2,1.3 9.2,-2.1 9.2,-3.5 9.2,-4 9.3,-5.7 9.2,-12 9.2,-17.1 9.2,-19 9.2,-32.1 15.4,-51.7 15.3,-50.1 15.3,-65.4 15.4,-84 15.4,-89.8 15.3,-87.3 15.3,-72 15.4,-63 15.3,-63.5 10.8,-46.6 10.7,-35.5 10.8,-27.2 10.7,-20 10.8,-14.6 10.7,-11.5 10.8,-9.3 10.7,-8 10.8,-7 10.7,-6.3 10.7,-5.8 10.8,-5.3 10.7,-5 10.8,-4.6 10.7,-4.4 7.7,-3.1 24.6,-9 24.5,-8.1 24.6,-7.3 24.5,-6.3 24.6,-5.5 24.6,-4.7 24.5,-3.9 24.6,-2.8 24.5,-1.1 24.6,0 24.6,0.7 24.5,1 24.6,2 24.5,4 24.6,7.1 10.7,4.9 10.8,6.7 10.7,9.1 10.8,12.1 10.7,15.2 10.8,17.6 10.7,19.2 10.8,19.8 10.7,19.8 10.7,19.1 10.8,17.4 10.7,14.9 10.8,11.3 10.7,8 10.8,5.2 10.7,3.2 10.8,1.9 19.9,1.8" stroke="#74cca2" stroke-opacity="0.83" stroke-width="3.0"/>
<path d="M389.6,1951.7l36.8,0 36.8,0 33.8,-0.5 24.6,-2.1 24.5,-3.6 24.6,-4.2 24.5,-3.9 24.6,-3 24.6,-1.6 24.5,-0.9 24.6,-0.6 24.5,-0.8 24.6,-1.3 24.6,-2.6 24.5,-4.6 12.3,-3.3 15.4,-6.8 15.3,-8.2 15.3,-9.3 15.4,-9.9 15.4,-8.2 15.3,-7.5 15.3,-5.6 15.4,-4.4 15.4,-3.2 15.3,-0.5 15.3,2.1 15.4,3 15.4,3.4 15.3,4.5 15.3,4.5 15.4,3.4 15.3,2.8 15.4,2.4 15.3,2.2 15.4,2 30.7,3.5 30.7,3.3 30.7,4.1 30.7,4.7 30.7,6.6 30.7,7.8 30.7,7.7 9.2,0.7 9.2,0.2 9.2,-2.2 9.2,-3.1 9.2,-3.6 9.3,-5.7 9.2,-11.7 9.2,-19.8 9.2,-27.3 9.2,-40 15.4,-54.4 15.3,-47.1 15.3,-63.1 15.4,-84 15.4,-85.5 15.3,-82.7 15.3,-66 15.4,-57.3 15.3,-58.4 10.8,-42.5 10.7,-31.5 10.8,-24 10.7,-17.9 10.8,-13.5 10.7,-10.9 10.8,-9.1 10.7,-7.8 10.8,-7 10.7,-6.4 10.7,-5.9 10.8,-5.5 10.7,-5.2 10.8,-4.9 10.7,-4.6 7.7,-3.2 24.6,-9.4 24.5,-8.6 24.6,-7.8 24.5,-6.8 24.6,-5.9 24.6,-5.1 24.5,-4.3 24.6,-3.1 24.5,-1.4 24.6,-0.2 24.6,0.4 24.5,0.8 24.6,1.5 24.5,3.2 24.6,5.8 10.7,4.1 10.8,5.6 10.7,8.1 10.8,10.7 10.7,13.6 10.8,15.9 10.7,17.5 10.8,18.3 10.7,18.3 10.7,17.8 10.8,16.4 10.7,14 10.8,10.8 10.7,7.7 10.8,5.1 10.7,3.1 10.8,1.9 19.9,1.8" stroke="#a0e2c0" stroke-opacity="0.84" stroke-width="3.0"/>
<path d="M389.6,1955.8l36.8,0 36.8,-0.1 33.8,-0.5 24.6,-2.1 24.5,-3.6 24.6,-4.1 24.5,-4 24.6,-3 24.6,-1.6 24.5,-0.9 24.6,-0.6 24.5,-0.8 24.6,-1.3 24.6,-2.5 24.5,-4.4 12.3,-3 15.4,-6.2 15.3,-7.4 15.3,-8.8 15.4,-9.5 15.4,-8 15.3,-7.2 15.3,-5.6 15.4,-4.4 15.4,-3.3 15.3,-0.4 15.3,1.9 15.4,3 15.4,3.3 15.3,4.5 15.3,4.5 15.4,3.4 15.3,2.8 15.4,2.4 15.3,2.2 15.4,2.1 30.7,3.5 30.7,3.4 30.7,4.2 30.7,4.8 30.7,6.3 30.7,7.3 30.7,7.6 9.2,0.4 9.2,0 9.2,-2.4 9.2,-3.3 9.2,-4.4 9.3,-7.6 9.2,-15.8 9.2,-27.7 9.2,-36.6 9.2,-47 15.4,-65.8 15.3,-58.1 15.3,-68.6 15.4,-83.1 15.4,-92.4 15.3,-90.4 15.3,-76.7 15.4,-67.5 15.3,-67.5 10.8,-49.9 10.7,-38.8 10.8,-30 10.7,-21.6 10.8,-15.4 10.7,-11.9 10.8,-9.5 10.7,-8 10.8,-6.8 10.7,-6.2 10.7,-5.5 10.8,-5 10.7,-4.7 10.8,-4.4 10.7,-4.1 7.7,-2.8 24.6,-8.4 24.5,-7.6 24.6,-6.7 24.5,-5.7 24.6,-4.9 24.6,-4.3 24.5,-3.5 24.6,-2.3 24.5,-0.9 24.6,0.3 24.6,0.8 24.5,1.4 24.6,2.4 24.5,4.7 24.6,8.3 10.7,5.6 10.8,7.5 10.7,10.2 10.8,13.2 10.7,16.4 10.8,19 10.7,20.5 10.8,21.1 10.7,20.8 10.7,20.1 10.8,18.1 10.7,15.4 10.8,11.7 10.7,8.1 10.8,5.2 10.7,3.3 10.8,1.9 19.9,1.8" stroke="#3aa47e" stroke-opacity="0.93" stroke-width="3.0"/>
<path d="M389.6,1961.6l36.8,0 36.8,0 33.8,-0.5 24.6,-2.1 24.5,-3.6 24.6,-4.1 24.5,-4 24.6,-2.9 24.6,-1.6 24.5,-0.9 24.6,-0.7 24.5,-0.8 24.6,-1.2 24.6,-2.4 24.5,-3.9 12.3,-2.7 15.4,-5.3 15.3,-6.4 15.3,-7.9 15.4,-8.9 15.4,-7.5 15.3,-7 15.3,-5.5 15.4,-4.3 15.4,-3.3 15.3,-0.5 15.3,1.9 15.4,2.9 15.4,3.2 15.3,4.4 15.3,4.4 15.4,3.4 15.3,2.7 15.4,2.5 15.3,2.2 15.4,2 30.7,3.6 30.7,3.5 30.7,4.3 30.7,4.9 30.7,5.8 30.7,6.7 30.7,7.3 9.2,0.1 9.2,-0.2 9.2,-2.4 9.2,-3.3 9.2,-4.2 9.3,-7.5 9.2,-15.5 9.2,-27.8 9.2,-37.8 9.2,-48.3 15.4,-65.7 15.3,-56.9 15.3,-67.7 15.4,-83.1 15.4,-91.1 15.3,-89 15.3,-74.9 15.4,-65.8 15.3,-65.9 10.8,-48.6 10.7,-37.6 10.8,-29 10.7,-21 10.8,-15.1 10.7,-11.7 10.8,-9.4 10.7,-7.9 10.8,-6.9 10.7,-6.1 10.7,-5.6 10.8,-5.1 10.7,-4.7 10.8,-4.5 10.7,-4.2 7.7,-2.8 24.6,-8.5 24.5,-7.7 24.6,-6.9 24.5,-5.9 24.6,-5 24.6,-4.4 24.5,-3.6 24.6,-2.4 24.5,-1 24.6,0.2 24.6,0.8 24.5,1.2 24.6,2.4 24.5,4.4 24.6,7.9 10.7,5.3 10.8,7.3 10.7,9.8 10.8,12.8 10.7,15.9 10.8,18.5 10.7,20 10.8,20.6 10.7,20.4 10.7,19.6 10.8,17.9 10.7,15.1 10.8,11.5 10.7,8.1 10.8,5.1 10.7,3.3 10.8,1.9 19.9,1.7" stroke="#b4ecd0" stroke-opacity="0.80" stroke-width="3.0"/>
<path d="M389.6,1937.4l36.8,0 36.8,0 33.8,-0.6 24.6,-2 24.5,-3.7 24.6,-4.1 24.5,-4 24.6,-2.9 24.6,-1.6 24.5,-0.9 24.6,-0.6 24.5,-0.8 24.6,-1.3 24.6,-3.1 24.5,-5.5 12.3,-4.1 15.4,-9.2 15.3,-10.7 15.3,-11.3 15.4,-11.5 15.4,-9.1 15.3,-8 15.3,-6 15.4,-4.4 15.4,-3.2 15.3,-0.4 15.3,2.2 15.4,3.4 15.4,3.6 15.3,4.6 15.3,4.6 15.4,3.5 15.3,2.8 15.4,2.4 15.3,2.2 15.4,2 30.7,3.3 30.7,3.2 30.7,3.6 30.7,4.6 30.7,7.7 30.7,9.3 30.7,8.4 9.2,1.4 9.2,0.7 9.2,-2.2 9.2,-3.4 9.2,-4.2 9.3,-6.6 9.2,-13.9 9.2,-22.1 9.2,-27.2 9.2,-38.9 15.4,-58.3 15.3,-54 15.3,-66.8 15.4,-83.2 15.4,-90.9 15.3,-88.7 15.3,-74.3 15.4,-65.3 15.3,-65.5 10.8,-48.2 10.7,-37.2 10.8,-28.7 10.7,-20.8 10.8,-15 10.7,-11.6 10.8,-9.5 10.7,-7.9 10.8,-6.9 10.7,-6.2 10.7,-5.6 10.8,-5.1 10.7,-4.8 10.8,-4.5 10.7,-4.3 7.7,-2.9 24.6,-8.6 24.5,-7.8 24.6,-6.9 24.5,-6 24.6,-5.1 24.6,-4.4 24.5,-3.7 24.6,-2.5 24.5,-1 24.6,0.2 24.6,0.7 24.5,1.2 24.6,2.3 24.5,4.3 24.6,7.7 10.7,5.3 10.8,7.1 10.7,9.7 10.8,12.7 10.7,15.8 10.8,18.3 10.7,19.9 10.8,20.4 10.7,20.3 10.7,19.6 10.8,17.8 10.7,15 10.8,11.5 10.7,8 10.8,5.2 10.7,3.3 10.8,1.9 19.9,1.7" stroke="#3aa47e" stroke-opacity="0.92" stroke-width="3.0"/>
<path d="M389.6,1934l36.8,0 36.8,-0.1 33.8,-0.5 24.6,-2.1 24.5,-3.7 24.6,-4.1 24.5,-4 24.6,-3 24.6,-1.6 24.5,-0.9 24.6,-0.6 24.5,-0.8 24.6,-1.3 24.6,-3.2 24.5,-5.8 12.3,-4.2 15.4,-9.8 15.3,-11.2 15.3,-11.9 15.4,-11.9 15.4,-9.4 15.3,-8.2 15.3,-6 15.4,-4.4 15.4,-3.3 15.3,-0.4 15.3,2.3 15.4,3.5 15.4,3.7 15.3,4.6 15.3,4.7 15.4,3.5 15.3,2.8 15.4,2.4 15.3,2.3 15.4,2 30.7,3.2 30.7,3.2 30.7,3.6 30.7,4.5 30.7,8 30.7,9.7 30.7,8.6 9.2,1.6 9.2,0.8 9.2,-2.1 9.2,-3.4 9.2,-4 9.3,-6.2 9.2,-12.8 9.2,-19.9 9.2,-24.2 9.2,-36.7 15.4,-55.3 15.3,-51.4 15.3,-65.9 15.4,-84 15.4,-89.8 15.3,-87.4 15.3,-72.2 15.4,-63.2 15.3,-63.7 10.8,-46.7 10.7,-35.7 10.8,-27.4 10.7,-20 10.8,-14.6 10.7,-11.5 10.8,-9.4 10.7,-7.9 10.8,-7 10.7,-6.3 10.7,-5.8 10.8,-5.3 10.7,-4.9 10.8,-4.7 10.7,-4.4 7.7,-3 24.6,-8.9 24.5,-8.1 24.6,-7.3 24.5,-6.3 24.6,-5.4 24.6,-4.6 24.5,-3.9 24.6,-2.7 24.5,-1.1 24.6,0 24.6,0.6 24.5,1.1 24.6,2.1 24.5,3.9 24.6,7.2 10.7,5 10.8,6.7 10.7,9.2 10.8,12.1 10.7,15.3 10.8,17.6 10.7,19.3 10.8,19.9 10.7,19.8 10.7,19.1 10.8,17.5 10.7,14.8 10.8,11.4 10.7,8 10.8,5.2 10.7,3.2 10.8,1.9 19.9,1.8" stroke="#74cca2" stroke-opacity="0.86" stroke-width="3.0"/>
<path d="M389.6,1961.6l36.8,0 36.8,0 33.8,-0.6 24.6,-2 24.5,-3.6 24.6,-4.1 24.5,-4 24.6,-2.9 24.6,-1.7 24.5,-0.8 24.6,-0.7 24.5,-0.8 24.6,-1.2 24.6,-2.4 24.5,-3.9 12.3,-2.7 15.4,-5.3 15.3,-6.4 15.3,-8 15.4,-8.8 15.4,-7.5 15.3,-7 15.3,-5.4 15.4,-4.4 15.4,-3.2 15.3,-0.5 15.3,1.9 15.4,2.8 15.4,3.2 15.3,4.4 15.3,4.5 15.4,3.3 15.3,2.7 15.4,2.5 15.3,2.2 15.4,2 30.7,3.5 30.7,3.5 30.7,4.3 30.7,5 30.7,5.7 30.7,6.7 30.7,7.3 9.2,0.1 9.2,-0.2 9.2,-2.3 9.2,-3.2 9.2,-4.2 9.3,-7.2 9.2,-14.9 9.2,-26.6 9.2,-36.5 9.2,-47.3 15.4,-63.9 15.3,-55.2 15.3,-66.8 15.4,-83 15.4,-89.9 15.3,-87.6 15.3,-73 15.4,-64.1 15.3,-64.4 10.8,-47.4 10.7,-36.4 10.8,-28.1 10.7,-20.3 10.8,-14.8 10.7,-11.5 10.8,-9.4 10.7,-7.8 10.8,-6.9 10.7,-6.2 10.7,-5.6 10.8,-5.1 10.7,-4.8 10.8,-4.5 10.7,-4.3 7.7,-2.9 24.6,-8.7 24.5,-7.8 24.6,-7 24.5,-6 24.6,-5.2 24.6,-4.5 24.5,-3.7 24.6,-2.5 24.5,-1.1 24.6,0.2 24.6,0.7 24.5,1.1 24.6,2.2 24.5,4.2 24.6,7.5 10.7,5.1 10.8,6.9 10.7,9.5 10.8,12.4 10.7,15.5 10.8,17.9 10.7,19.6 10.8,20.1 10.7,20 10.7,19.2 10.8,17.6 10.7,14.8 10.8,11.4 10.7,8 10.8,5.1 10.7,3.2 10.8,1.9 19.9,1.7" stroke="#a0e2c0" stroke-opacity="0.92" stroke-width="3.0"/>
<path d="M389.6,1925.7l36.8,0 36.8,-0.1 33.8,-0.5 24.6,-2.1 24.5,-3.7 24.6,-4.2 24.5,-4 24.6,-3 24.6,-1.6 24.5,-0.9 24.6,-0.6 24.5,-0.8 24.6,-1.4 24.6,-3.4 24.5,-6.3 12.3,-4.8 15.4,-11.1 15.3,-12.7 15.3,-13 15.4,-12.9 15.4,-10 15.3,-8.5 15.3,-6.2 15.4,-4.5 15.4,-3.3 15.3,-0.4 15.3,2.5 15.4,3.7 15.4,3.8 15.3,4.8 15.3,4.7 15.4,3.5 15.3,2.8 15.4,2.5 15.3,2.3 15.4,2 30.7,3.2 30.7,3.1 30.7,3.4 30.7,4.4 30.7,8.6 30.7,10.7 30.7,9 9.2,2 9.2,1.1 9.2,-2.2 9.2,-3.6 9.2,-4.5 9.3,-6.9 9.2,-14.5 9.2,-22.1 9.2,-25.1 9.2,-36.9 15.4,-58.9 15.3,-56.8 15.3,-68.9 15.4,-83.9 15.4,-94.1 15.3,-92.2 15.3,-78.4 15.4,-69.2 15.3,-69 10.8,-51 10.7,-39.9 10.8,-30.8 10.7,-22.1 10.8,-15.8 10.7,-12.1 10.8,-9.7 10.7,-8.1 10.8,-6.9 10.7,-6.2 10.7,-5.6 10.8,-5.1 10.7,-4.7 10.8,-4.4 10.7,-4.1 7.7,-2.8 24.6,-8.4 24.5,-7.6 24.6,-6.8 24.5,-5.7 24.6,-4.9 24.6,-4.2 24.5,-3.5 24.6,-2.3 24.5,-0.9 24.6,0.3 24.6,0.9 24.5,1.4 24.6,2.6 24.5,4.8 24.6,8.6 10.7,5.8 10.8,7.7 10.7,10.5 10.8,13.6 10.7,16.8 10.8,19.4 10.7,21 10.8,21.6 10.7,21.3 10.7,20.5 10.8,18.5 10.7,15.7 10.8,11.8 10.7,8.3 10.8,5.3 10.7,3.3 10.8,2 19.9,1.8" stroke="#b4ecd0" stroke-opacity="0.79" stroke-width="3.0"/>
<path d="M389.6,1925.9l36.8,0 36.8,0 33.8,-0.6 24.6,-2.1 24.5,-3.7 24.6,-4.1 24.5,-4.1 24.6,-2.9 24.6,-1.7 24.5,-0.8 24.6,-0.7 24.5,-0.8 24.6,-1.3 24.6,-3.4 24.5,-6.4 12.3,-4.7 15.4,-11.1 15.3,-12.6 15.3,-13 15.4,-12.9 15.4,-9.9 15.3,-8.5 15.3,-6.2 15.4,-4.5 15.4,-3.3 15.3,-0.4 15.3,2.5 15.4,3.7 15.4,3.7 15.3,4.8 15.3,4.7 15.4,3.5 15.3,2.9 15.4,2.5 15.3,2.2 15.4,2 30.7,3.2 30.7,3.1 30.7,3.4 30.7,4.4 30.7,8.6 30.7,10.6 30.7,9 9.2,2 9.2,1.2 9.2,-2.2 9.2,-3.6 9.2,-4.2 9.3,-6.5 9.2,-13.5 9.2,-20.3 9.2,-23.3 9.2,-35.5 15.4,-56.3 15.3,-54 15.3,-67.6 15.4,-84 15.4,-92.3 15.3,-90.1 15.3,-75.6 15.4,-66.5 15.3,-66.7 10.8,-49.1 10.7,-38 10.8,-29.3 10.7,-21.2 10.8,-15.2 10.7,-11.9 10.8,-9.5 10.7,-8.1 10.8,-6.9 10.7,-6.3 10.7,-5.6 10.8,-5.2 10.7,-4.9 10.8,-4.5 10.7,-4.3 7.7,-2.9 24.6,-8.6 24.5,-7.9 24.6,-7 24.5,-6 24.6,-5.1 24.6,-4.4 24.5,-3.7 24.6,-2.6 24.5,-0.9 24.6,0.2 24.6,0.7 24.5,1.3 24.6,2.3 24.5,4.4 24.6,8 10.7,5.4 10.8,7.3 10.7,9.9 10.8,12.9 10.7,16.1 10.8,18.6 10.7,20.3 10.8,20.8 10.7,20.7 10.7,19.8 10.8,18.1 10.7,15.3 10.8,11.7 10.7,8.2 10.8,5.2 10.7,3.3 10.8,1.9 19.9,1.8" stroke="#a0e2c0" stroke-opacity="0.75" stroke-width="3.0"/>
<path d="M389.6,1917.2l36.8,0 36.8,-0.1 33.8,-0.5 24.6,-2.1 24.5,-3.7 24.6,-4.1 24.5,-4.1 24.6,-2.9 24.6,-1.7 24.5,-0.8 24.6,-0.6 24.5,-0.8 24.6,-1.4 24.6,-3.6 24.5,-6.9 12.3,-5.3 15.4,-12.5 15.3,-14.2 15.3,-14.1 15.4,-13.8 15.4,-10.6 15.3,-8.8 15.3,-6.4 15.4,-4.5 15.4,-3.2 15.3,-0.4 15.3,2.6 15.4,3.9 15.4,3.9 15.3,4.8 15.3,4.8 15.4,3.5 15.3,2.9 15.4,2.5 15.3,2.2 15.4,1.9 30.7,3.2 30.7,2.9 30.7,3.2 30.7,4.2 30.7,9.3 30.7,11.5 30.7,9.5 9.2,2.5 9.2,1.5 9.2,-2.1 9.2,-3.4 9.2,-3.8 9.3,-5.2 9.2,-10.7 9.2,-14.3 9.2,-15.1 9.2,-29.1 15.4,-47.9 15.3,-47 15.3,-64.1 15.4,-84.6 15.4,-88.2 15.3,-85.6 15.3,-69.5 15.4,-60.5 15.3,-61.3 10.8,-44.9 10.7,-33.6 10.8,-25.8 10.7,-19 10.8,-14.2 10.7,-11.2 10.8,-9.3 10.7,-8 10.8,-7.1 10.7,-6.4 10.7,-5.9 10.8,-5.4 10.7,-5.1 10.8,-4.9 10.7,-4.5 7.7,-3.2 24.6,-9.3 24.5,-8.4 24.6,-7.7 24.5,-6.6 24.6,-5.8 24.6,-4.9 24.5,-4.2 24.6,-2.9 24.5,-1.3 24.6,0 24.6,0.4 24.5,0.9 24.6,1.8 24.5,3.6 24.6,6.5 10.7,4.5 10.8,6.2 10.7,8.6 10.8,11.5 10.7,14.5 10.8,16.8 10.7,18.5 10.8,19.2 10.7,19.2 10.7,18.5 10.8,17.1 10.7,14.5 10.8,11.1 10.7,8 10.8,5.1 10.7,3.2 10.8,2 19.9,1.7" stroke="#b4ecd0" stroke-opacity="0.72" stroke-width="3.0"/>
<path d="M389.6,1949.9l36.8,0 36.8,0 33.8,-0.5 24.6,-2.1 24.5,-3.7 24.6,-4.1 24.5,-3.9 24.6,-3 24.6,-1.6 24.5,-0.9 24.6,-0.6 24.5,-0.8 24.6,-1.3 24.6,-2.7 24.5,-4.7 12.3,-3.4 15.4,-7.1 15.3,-8.5 15.3,-9.6 15.4,-10.1 15.4,-8.3 15.3,-7.5 15.3,-5.7 15.4,-4.4 15.4,-3.3 15.3,-0.4 15.3,2.1 15.4,3.1 15.4,3.4 15.3,4.5 15.3,4.5 15.4,3.4 15.3,2.8 15.4,2.4 15.3,2.2 15.4,2.1 30.7,3.4 30.7,3.3 30.7,4 30.7,4.8 30.7,6.7 30.7,8 30.7,7.8 9.2,0.7 9.2,0.2 9.2,-2.5 9.2,-3.6 9.2,-4.8 9.3,-8.6 9.2,-18.1 9.2,-31 9.2,-39.1 9.2,-48.4 15.4,-70.7 15.3,-64.5 15.3,-71.9 15.4,-82.1 15.4,-96.9 15.3,-95.3 15.3,-83.7 15.4,-74.3 15.3,-73.4 10.8,-54.7 10.7,-43.7 10.8,-34 10.7,-24 10.8,-16.6 10.7,-12.5 10.8,-9.9 10.7,-8 10.8,-6.7 10.7,-6 10.7,-5.2 10.8,-4.7 10.7,-4.3 10.8,-4.1 10.7,-3.7 7.7,-2.6 24.6,-7.6 24.5,-6.8 24.6,-6 24.5,-5 24.6,-4.2 24.6,-3.6 24.5,-2.9 24.6,-1.8 24.5,-0.6 24.6,0.6 24.6,1.1 24.5,1.8 24.6,3 24.5,5.7 24.6,10 10.7,6.6 10.8,8.7 10.7,11.7 10.8,14.8 10.7,18.3 10.8,20.9 10.7,22.6 10.8,22.9 10.7,22.5 10.7,21.5 10.8,19.3 10.7,16.2 10.8,12.2 10.7,8.5 10.8,5.3 10.7,3.3 10.8,1.9 19.9,1.8" stroke="#a0e2c0" stroke-opacity="0.81" stroke-width="3.0"/>
<path d="M389.6,1945.5l36.8,0 36.8,0 33.8,-0.5 24.6,-2.1 24.5,-3.6 24.6,-4.2 24.5,-4 24.6,-2.9 24.6,-1.6 24.5,-0.9 24.6,-0.7 24.5,-0.8 24.6,-1.2 24.6,-2.9 24.5,-5 12.3,-3.6 15.4,-7.9 15.3,-9.2 15.3,-10.2 15.4,-10.6 15.4,-8.7 15.3,-7.7 15.3,-5.7 15.4,-4.5 15.4,-3.2 15.3,-0.4 15.3,2.1 15.4,3.2 15.4,3.5 15.3,4.5 15.3,4.6 15.4,3.4 15.3,2.8 15.4,2.5 15.3,2.2 15.4,2 30.7,3.4 30.7,3.3 30.7,3.9 30.7,4.7 30.7,7.1 30.7,8.4 30.7,8 9.2,1 9.2,0.4 9.2,-2.4 9.2,-3.5 9.2,-4.6 9.3,-7.8 9.2,-16.3 9.2,-27.5 9.2,-34.6 9.2,-44.8 15.4,-65.9 15.3,-60.2 15.3,-70 15.4,-82.8 15.4,-94.6 15.3,-92.7 15.3,-79.9 15.4,-70.5 15.3,-70.2 10.8,-52 10.7,-41 10.8,-31.8 10.7,-22.7 10.8,-15.9 10.7,-12.2 10.8,-9.7 10.7,-8 10.8,-6.9 10.7,-6 10.7,-5.4 10.8,-5 10.7,-4.5 10.8,-4.3 10.7,-3.9 7.7,-2.7 24.6,-8.1 24.5,-7.3 24.6,-6.4 24.5,-5.5 24.6,-4.6 24.6,-4 24.5,-3.2 24.6,-2.2 24.5,-0.7 24.6,0.4 24.6,0.9 24.5,1.6 24.6,2.7 24.5,5.1 24.6,9 10.7,6.1 10.8,8 10.7,10.8 10.8,14 10.7,17.2 10.8,19.9 10.7,21.4 10.8,21.9 10.7,21.7 10.7,20.6 10.8,18.8 10.7,15.7 10.8,11.9 10.7,8.4 10.8,5.2 10.7,3.3 10.8,2 19.9,1.7" stroke="#8ad8b0" stroke-opacity="0.90" stroke-width="3.0"/>
<path d="M389.6,1921.1l36.8,0 36.8,0 33.8,-0.6 24.6,-2.1 24.5,-3.6 24.6,-4.1 24.5,-4 24.6,-2.9 24.6,-1.7 24.5,-0.8 24.6,-0.6 24.5,-0.8 24.6,-1.4 24.6,-3.5 24.5,-6.6 12.3,-5.1 15.4,-11.8 15.3,-13.5 15.3,-13.6 15.4,-13.3 15.4,-10.2 15.3,-8.7 15.3,-6.2 15.4,-4.5 15.4,-3.2 15.3,-0.3 15.3,2.5 15.4,3.7 15.4,3.9 15.3,4.7 15.3,4.7 15.4,3.5 15.3,2.8 15.4,2.5 15.3,2.2 15.4,1.9 30.7,3.2 30.7,2.9 30.7,3.3 30.7,4.2 30.7,9 30.7,11 30.7,9.2 9.2,2.3 9.2,1.3 9.2,-2.2 9.2,-3.6 9.2,-4.5 9.3,-6.9 9.2,-14.6 9.2,-21.5 9.2,-23.5 9.2,-35.1 15.4,-57.9 15.3,-56.9 15.3,-68.7 15.4,-82.5 15.4,-93.9 15.3,-91.9 15.3,-78.9 15.4,-69.6 15.3,-69.4 10.8,-51.3 10.7,-40.4 10.8,-31.2 10.7,-22.4 10.8,-15.8 10.7,-12.1 10.8,-9.6 10.7,-8 10.8,-6.8 10.7,-6.1 10.7,-5.4 10.8,-5 10.7,-4.6 10.8,-4.2 10.7,-4.1 7.7,-2.7 24.6,-8.1 24.5,-7.4 24.6,-6.5 24.5,-5.5 24.6,-4.7 24.6,-4 24.5,-3.3 24.6,-2.2 24.5,-0.8 24.6,0.3 24.6,1 24.5,1.5 24.6,2.6 24.5,4.9 24.6,8.9 10.7,5.9 10.8,7.9 10.7,10.6 10.8,13.7 10.7,17 10.8,19.6 10.7,21.2 10.8,21.6 10.7,21.4 10.7,20.5 10.8,18.6 10.7,15.6 10.8,11.8 10.7,8.3 10.8,5.2 10.7,3.3 10.8,1.9 19.9,1.8" stroke="#8ad8b0" stroke-opacity="0.79" stroke-width="3.0"/>
<path d="M389.6,1951l36.8,0 36.8,0 33.8,-0.6 24.6,-2.1 24.5,-3.6 24.6,-4.2 24.5,-3.9 24.6,-3 24.6,-1.7 24.5,-0.8 24.6,-0.7 24.5,-0.8 24.6,-1.3 24.6,-2.7 24.5,-4.6 12.3,-3.3 15.4,-7 15.3,-8.3 15.3,-9.4 15.4,-10.1 15.4,-8.3 15.3,-7.5 15.3,-5.7 15.4,-4.4 15.4,-3.2 15.3,-0.5 15.3,2.1 15.4,3.1 15.4,3.4 15.3,4.5 15.3,4.5 15.4,3.5 15.3,2.7 15.4,2.5 15.3,2.2 15.4,2.1 30.7,3.4 30.7,3.4 30.7,4.1 30.7,4.8 30.7,6.6 30.7,7.9 30.7,7.8 9.2,0.7 9.2,0.1 9.2,-2.4 9.2,-3.6 9.2,-4.7 9.3,-8.2 9.2,-17.4 9.2,-29.8 9.2,-38.2 9.2,-47.9 15.4,-69.1 15.3,-62.6 15.3,-71.1 15.4,-83 15.4,-95.8 15.3,-94.2 15.3,-81.6 15.4,-72.4 15.3,-71.8 10.8,-53.2 10.7,-42.2 10.8,-32.8 10.7,-23.3 10.8,-16.3 10.7,-12.4 10.8,-9.8 10.7,-8 10.8,-6.8 10.7,-6.1 10.7,-5.3 10.8,-4.9 10.7,-4.5 10.8,-4.1 10.7,-4 7.7,-2.6 24.6,-7.9 24.5,-7.2 24.6,-6.3 24.5,-5.2 24.6,-4.5 24.6,-3.9 24.5,-3.1 24.6,-2 24.5,-0.7 24.6,0.4 24.6,1.1 24.5,1.6 24.6,2.9 24.5,5.3 24.6,9.4 10.7,6.4 10.8,8.3 10.7,11.2 10.8,14.4 10.7,17.7 10.8,20.3 10.7,22 10.8,22.4 10.7,22.1 10.7,21 10.8,19.1 10.7,16 10.8,12.1 10.7,8.4 10.8,5.3 10.7,3.3 10.8,1.9 19.9,1.8" stroke="#3aa47e" stroke-opacity="0.93" stroke-width="3.0"/>
<path d="M389.6,1941l36.8,0 36.8,0 33.8,-0.5 24.6,-2.1 24.5,-3.7 24.6,-4.1 24.5,-3.9 24.6,-3 24.6,-1.6 24.5,-0.9 24.6,-0.6 24.5,-0.8 24.6,-1.3 24.6,-3 24.5,-5.3 12.3,-3.8 15.4,-8.6 15.3,-10.1 15.3,-10.8 15.4,-11.1 15.4,-8.9 15.3,-7.9 15.3,-5.8 15.4,-4.4 15.4,-3.2 15.3,-0.5 15.3,2.2 15.4,3.3 15.4,3.6 15.3,4.6 15.3,4.5 15.4,3.5 15.3,2.7 15.4,2.5 15.3,2.2 15.4,2 30.7,3.3 30.7,3.3 30.7,3.7 30.7,4.6 30.7,7.4 30.7,9 30.7,8.2 9.2,1.3 9.2,0.6 9.2,-2.1 9.2,-3.2 9.2,-3.5 9.3,-5.2 9.2,-10.7 9.2,-16.8 9.2,-22.1 9.2,-35.6 15.4,-50.4 15.3,-45.2 15.3,-62.3 15.4,-84.2 15.4,-85 15.3,-82.1 15.3,-65.1 15.4,-56.4 15.3,-57.5 10.8,-41.9 10.7,-30.8 10.8,-23.4 10.7,-17.6 10.8,-13.4 10.7,-10.8 10.8,-9 10.7,-7.9 10.8,-7 10.7,-6.4 10.7,-6 10.8,-5.6 10.7,-5.2 10.8,-4.9 10.7,-4.7 7.7,-3.3 24.6,-9.6 24.5,-8.7 24.6,-7.9 24.5,-6.9 24.6,-6 24.6,-5.2 24.5,-4.5 24.6,-3.1 24.5,-1.5 24.6,-0.2 24.6,0.4 24.5,0.6 24.6,1.5 24.5,3 24.6,5.6 10.7,3.9 10.8,5.5 10.7,7.8 10.8,10.5 10.7,13.4 10.8,15.6 10.7,17.3 10.8,18 10.7,18.1 10.7,17.6 10.8,16.3 10.7,13.9 10.8,10.7 10.7,7.7 10.8,5 10.7,3.2 10.8,1.9 19.9,1.7" stroke="#8ad8b0" stroke-opacity="0.93" stroke-width="3.0"/>
<path d="M389.6,1935l36.8,0 36.8,0 33.8,-0.5 24.6,-2.1 24.5,-3.6 24.6,-4.1 24.5,-4 24.6,-2.9 24.6,-1.6 24.5,-0.9 24.6,-0.6 24.5,-0.8 24.6,-1.3 24.6,-3.1 24.5,-5.7 12.3,-4.2 15.4,-9.6 15.3,-11 15.3,-11.7 15.4,-11.7 15.4,-9.3 15.3,-8.1 15.3,-5.9 15.4,-4.4 15.4,-3.2 15.3,-0.4 15.3,2.3 15.4,3.4 15.4,3.6 15.3,4.6 15.3,4.6 15.4,3.5 15.3,2.7 15.4,2.5 15.3,2.2 15.4,1.9 30.7,3.3 30.7,3.1 30.7,3.6 30.7,4.4 30.7,7.9 30.7,9.5 30.7,8.5 9.2,1.5 9.2,0.8 9.2,-2.4 9.2,-3.8 9.2,-5.1 9.3,-8.5 9.2,-18.3 9.2,-29.6 9.2,-34.8 9.2,-44 15.4,-69.1 15.3,-65.9 15.3,-72.6 15.4,-81.2 15.4,-98.3 15.3,-97.1 15.3,-86.4 15.4,-77 15.3,-75.8 10.8,-56.5 10.7,-45.7 10.8,-35.6 10.7,-25 10.8,-17.1 10.7,-12.8 10.8,-9.9 10.7,-8 10.8,-6.6 10.7,-5.9 10.7,-5 10.8,-4.6 10.7,-4.1 10.8,-3.9 10.7,-3.6 7.7,-2.4 24.6,-7.2 24.5,-6.5 24.6,-5.6 24.5,-4.6 24.6,-3.9 24.6,-3.3 24.5,-2.7 24.6,-1.6 24.5,-0.3 24.6,0.6 24.6,1.3 24.5,2 24.6,3.3 24.5,6 24.6,10.7 10.7,7.1 10.8,9.2 10.7,12.2 10.8,15.6 10.7,19 10.8,21.7 10.7,23.3 10.8,23.7 10.7,23.2 10.7,22 10.8,19.7 10.7,16.5 10.8,12.4 10.7,8.6 10.8,5.3 10.7,3.3 10.8,2 19.9,1.7" stroke="#1e8c66" stroke-opacity="0.82" stroke-width="3.0"/>
<path d="M389.6,1954.4l36.8,0 36.8,-0.1 33.8,-0.5 24.6,-2.1 24.5,-3.7 24.6,-4.1 24.5,-4 24.6,-3 24.6,-1.6 24.5,-0.9 24.6,-0.7 24.5,-0.8 24.6,-1.3 24.6,-2.6 24.5,-4.4 12.3,-3.1 15.4,-6.4 15.3,-7.7 15.3,-9 15.4,-9.7 15.4,-8.1 15.3,-7.4 15.3,-5.6 15.4,-4.4 15.4,-3.3 15.3,-0.5 15.3,2 15.4,3.1 15.4,3.3 15.3,4.5 15.3,4.6 15.4,3.4 15.3,2.8 15.4,2.4 15.3,2.3 15.4,2 30.7,3.5 30.7,3.5 30.7,4.1 30.7,4.9 30.7,6.4 30.7,7.5 30.7,7.6 9.2,0.5 9.2,0 9.2,-2.7 9.2,-3.9 9.2,-5.6 9.3,-10.4 9.2,-22.2 9.2,-38.8 9.2,-48.5 9.2,-55.6 15.4,-82.1 15.3,-75.4 15.3,-77.6 15.4,-81.7 15.4,-104 15.3,-103.1 15.3,-94.3 15.4,-84.4 15.3,-82.5 10.8,-61.9 10.7,-50.9 10.8,-39.9 10.7,-27.6 10.8,-18.5 10.7,-13.6 10.8,-10.3 10.7,-8.1 10.8,-6.7 10.7,-5.7 10.7,-4.9 10.8,-4.4 10.7,-3.9 10.8,-3.5 10.7,-3.3 7.7,-2.2 24.6,-6.6 24.5,-6 24.6,-5 24.5,-4 24.6,-3.3 24.6,-2.8 24.5,-2.1 24.6,-1.2 24.5,0 24.6,0.9 24.6,1.6 24.5,2.4 24.6,3.9 24.5,7.1 24.6,12.3 10.7,8.2 10.8,10.5 10.7,13.7 10.8,17.3 10.7,21.1 10.8,23.9 10.7,25.5 10.8,25.7 10.7,25.1 10.7,23.7 10.8,21.1 10.7,17.6 10.8,13.1 10.7,8.9 10.8,5.6 10.7,3.3 10.8,2 19.9,1.8" stroke="#3aa47e" stroke-opacity="0.74" stroke-width="3.0"/>
<path d="M389.6,1931.6l36.8,0 36.8,0 33.8,-0.6 24.6,-2 24.5,-3.7 24.6,-4.1 24.5,-4 24.6,-2.9 24.6,-1.6 24.5,-0.9 24.6,-0.6 24.5,-0.8 24.6,-1.3 24.6,-3.2 24.5,-6 12.3,-4.4 15.4,-10.1 15.3,-11.7 15.3,-12.1 15.4,-12.2 15.4,-9.5 15.3,-8.3 15.3,-6 15.4,-4.4 15.4,-3.2 15.3,-0.4 15.3,2.3 15.4,3.5 15.4,3.7 15.3,4.7 15.3,4.6 15.4,3.5 15.3,2.8 15.4,2.4 15.3,2.2 15.4,2 30.7,3.3 30.7,3.1 30.7,3.5 30.7,4.4 30.7,8.1 30.7,10 30.7,8.7 9.2,1.7 9.2,0.9 9.2,-2.3 9.2,-3.6 9.2,-4.6 9.3,-7.4 9.2,-15.6 9.2,-24.6 9.2,-28.8 9.2,-39.7 15.4,-62.1 15.3,-59.1 15.3,-69.5 15.4,-82.6 15.4,-94.6 15.3,-92.8 15.3,-80 15.4,-70.8 15.3,-70.4 10.8,-52.1 10.7,-41.2 10.8,-31.9 10.7,-22.7 10.8,-16.1 10.7,-12.2 10.8,-9.6 10.7,-8 10.8,-6.8 10.7,-6.1 10.7,-5.4 10.8,-4.9 10.7,-4.5 10.8,-4.2 10.7,-4 7.7,-2.7 24.6,-8 24.5,-7.2 24.6,-6.4 24.5,-5.4 24.6,-4.6 24.6,-3.9 24.5,-3.2 24.6,-2.2 24.5,-0.7 24.6,0.4 24.6,1 24.5,1.6 24.6,2.7 24.5,5.1 24.6,9.1 10.7,6.1 10.8,8.1 10.7,10.9 10.8,14 10.7,17.3 10.8,19.9 10.7,21.5 10.8,22 10.7,21.6 10.7,20.8 10.8,18.7 10.7,15.8 10.8,11.9 10.7,8.3 10.8,5.3 10.7,3.3 10.8,1.9 19.9,1.8" stroke="#4cb28a" stroke-opacity="0.72" stroke-width="3.0"/>
<path d="M389.6,1919.4l36.8,0 36.8,-0.1 33.8,-0.5 24.6,-2.1 24.5,-3.7 24.6,-4.1 24.5,-4.1 24.6,-2.9 24.6,-1.7 24.5,-0.8 24.6,-0.6 24.5,-0.8 24.6,-1.4 24.6,-3.6 24.5,-6.8 12.3,-5.1 15.4,-12.1 15.3,-13.8 15.3,-13.8 15.4,-13.6 15.4,-10.4 15.3,-8.8 15.3,-6.3 15.4,-4.5 15.4,-3.2 15.3,-0.4 15.3,2.6 15.4,3.8 15.4,3.8 15.3,4.9 15.3,4.7 15.4,3.5 15.3,2.9 15.4,2.5 15.3,2.2 15.4,2 30.7,3.1 30.7,3 30.7,3.2 30.7,4.3 30.7,9.1 30.7,11.3 30.7,9.4 9.2,2.3 9.2,1.4 9.2,-2 9.2,-3.4 9.2,-3.7 9.3,-5.1 9.2,-10.5 9.2,-14.2 9.2,-15.3 9.2,-29.5 15.4,-47.5 15.3,-46.3 15.3,-63.7 15.4,-84.8 15.4,-87.6 15.3,-84.9 15.3,-68.5 15.4,-59.6 15.3,-60.5 10.8,-44.2 10.7,-33 10.8,-25.3 10.7,-18.7 10.8,-14 10.7,-11.1 10.8,-9.3 10.7,-7.9 10.8,-7.1 10.7,-6.5 10.7,-5.9 10.8,-5.5 10.7,-5.2 10.8,-4.8 10.7,-4.7 7.7,-3.1 24.6,-9.4 24.5,-8.6 24.6,-7.7 24.5,-6.8 24.6,-5.8 24.6,-5 24.5,-4.3 24.6,-3 24.5,-1.3 24.6,-0.1 24.6,0.4 24.5,0.9 24.6,1.7 24.5,3.4 24.6,6.3 10.7,4.4 10.8,6 10.7,8.4 10.8,11.3 10.7,14.2 10.8,16.6 10.7,18.2 10.8,18.9 10.7,19 10.7,18.4 10.8,16.8 10.7,14.4 10.8,11.1 10.7,7.9 10.8,5.1 10.7,3.2 10.8,2 19.9,1.7" stroke="#a0e2c0" stroke-opacity="0.74" stroke-width="3.0"/>
<path d="M389.6,1937.7l36.8,0 36.8,0 33.8,-0.6 24.6,-2.1 24.5,-3.6 24.6,-4.1 24.5,-4 24.6,-3 24.6,-1.6 24.5,-0.9 24.6,-0.6 24.5,-0.8 24.6,-1.3 24.6,-3.1 24.5,-5.5 12.3,-4.1 15.4,-9.1 15.3,-10.7 15.3,-11.2 15.4,-11.6 15.4,-9.1 15.3,-8 15.3,-6 15.4,-4.4 15.4,-3.2 15.3,-0.4 15.3,2.2 15.4,3.4 15.4,3.6 15.3,4.6 15.3,4.6 15.4,3.5 15.3,2.8 15.4,2.5 15.3,2.2 15.4,2 30.7,3.3 30.7,3.2 30.7,3.7 30.7,4.6 30.7,7.6 30.7,9.3 30.7,8.5 9.2,1.3 9.2,0.7 9.2,-2.4 9.2,-3.7 9.2,-4.8 9.3,-8.1 9.2,-17.1 9.2,-28 9.2,-33.7 9.2,-43.7 15.4,-66.9 15.3,-62.8 15.3,-71.5 15.4,-82.5 15.4,-96.9 15.3,-95.2 15.3,-83.2 15.4,-73.9 15.3,-73.2 10.8,-54.3 10.7,-43.4 10.8,-33.7 10.7,-23.8 10.8,-16.6 10.7,-12.5 10.8,-9.9 10.7,-8 10.8,-6.8 10.7,-6 10.7,-5.3 10.8,-4.8 10.7,-4.4 10.8,-4 10.7,-3.9 7.7,-2.6 24.6,-7.7 24.5,-7 24.6,-6.1 24.5,-5 24.6,-4.4 24.6,-3.7 24.5,-3 24.6,-1.9 24.5,-0.5 24.6,0.5 24.6,1.1 24.5,1.7 24.6,3 24.5,5.6 24.6,9.8 10.7,6.5 10.8,8.7 10.7,11.5 10.8,14.7 10.7,18.2 10.8,20.8 10.7,22.4 10.8,22.8 10.7,22.5 10.7,21.4 10.8,19.3 10.7,16.2 10.8,12.2 10.7,8.4 10.8,5.4 10.7,3.3 10.8,1.9 19.9,1.8" stroke="#a0e2c0" stroke-opacity="0.78" stroke-width="3.0"/>
<path d="M389.6,1922.9l36.8,0 36.8,0 33.8,-0.5 24.6,-2.1 24.5,-3.7 24.6,-4.1 24.5,-4 24.6,-3 24.6,-1.6 24.5,-0.8 24.6,-0.7 24.5,-0.8 24.6,-1.3 24.6,-3.5 24.5,-6.5 12.3,-4.9 15.4,-11.5 15.3,-13.2 15.3,-13.3 15.4,-13.2 15.4,-10.1 15.3,-8.6 15.3,-6.2 15.4,-4.5 15.4,-3.3 15.3,-0.3 15.3,2.5 15.4,3.7 15.4,3.8 15.3,4.8 15.3,4.7 15.4,3.5 15.3,2.8 15.4,2.5 15.3,2.2 15.4,2 30.7,3.1 30.7,3 30.7,3.3 30.7,4.3 30.7,8.9 30.7,10.9 30.7,9.1 9.2,2.1 9.2,1.2 9.2,-2.3 9.2,-3.9 9.2,-5 9.3,-8.1 9.2,-17.4 9.2,-26.7 9.2,-29.5 9.2,-39.6 15.4,-65.6 15.3,-64.3 15.3,-72.5 15.4,-82.2 15.4,-98.8 15.3,-97.3 15.3,-86.2 15.4,-76.8 15.3,-75.6 10.8,-56.4 10.7,-45.4 10.8,-35.3 10.7,-24.9 10.8,-17.1 10.7,-12.8 10.8,-10 10.7,-8 10.8,-6.8 10.7,-5.9 10.7,-5.2 10.8,-4.7 10.7,-4.3 10.8,-3.9 10.7,-3.7 7.7,-2.5 24.6,-7.4 24.5,-6.7 24.6,-5.8 24.5,-4.8 24.6,-4.1 24.6,-3.5 24.5,-2.7 24.6,-1.7 24.5,-0.5 24.6,0.6 24.6,1.3 24.5,1.9 24.6,3.2 24.5,6 24.6,10.5 10.7,7 10.8,9.1 10.7,12.1 10.8,15.5 10.7,18.9 10.8,21.6 10.7,23.3 10.8,23.6 10.7,23.1 10.7,22 10.8,19.9 10.7,16.5 10.8,12.5 10.7,8.5 10.8,5.5 10.7,3.3 10.8,1.9 19.9,1.8" stroke="#60c096" stroke-opacity="0.84" stroke-width="3.0"/>
<path d="M389.6,1949.8l36.8,0 36.8,0 33.8,-0.6 24.6,-2.1 24.5,-3.6 24.6,-4.2 24.5,-4 24.6,-2.9 24.6,-1.7 24.5,-0.9 24.6,-0.6 24.5,-0.8 24.6,-1.3 24.6,-2.7 24.5,-4.7 12.3,-3.4 15.4,-7.2 15.3,-8.5 15.3,-9.6 15.4,-10.2 15.4,-8.4 15.3,-7.5 15.3,-5.7 15.4,-4.4 15.4,-3.3 15.3,-0.5 15.3,2.1 15.4,3.1 15.4,3.4 15.3,4.6 15.3,4.6 15.4,3.4 15.3,2.8 15.4,2.4 15.3,2.3 15.4,2 30.7,3.4 30.7,3.4 30.7,4.1 30.7,4.8 30.7,6.7 30.7,8 30.7,7.9 9.2,0.7 9.2,0.3 9.2,-2.3 9.2,-3.2 9.2,-3.9 9.3,-6.3 9.2,-13 9.2,-22 9.2,-29.5 9.2,-41.7 15.4,-57.8 15.3,-51 15.3,-65.4 15.4,-84.3 15.4,-88.6 15.3,-86 15.3,-70.2 15.4,-61.3 15.3,-61.9 10.8,-45.4 10.7,-34.2 10.8,-26.3 10.7,-19.3 10.8,-14.3 10.7,-11.3 10.8,-9.3 10.7,-7.9 10.8,-7 10.7,-6.4 10.7,-5.8 10.8,-5.4 10.7,-5.1 10.8,-4.7 10.7,-4.5 7.7,-3.1 24.6,-9.2 24.5,-8.3 24.6,-7.4 24.5,-6.6 24.6,-5.6 24.6,-4.8 24.5,-4.1 24.6,-2.8 24.5,-1.2 24.6,-0.1 24.6,0.6 24.5,0.9 24.6,1.9 24.5,3.7 24.6,6.7 10.7,4.6 10.8,6.4 10.7,8.8 10.8,11.7 10.7,14.7 10.8,17 10.7,18.7 10.8,19.4 10.7,19.4 10.7,18.7 10.8,17.1 10.7,14.6 10.8,11.2 10.7,7.9 10.8,5.1 10.7,3.2 10.8,2 19.9,1.7" stroke="#74cca2" stroke-opacity="0.86" stroke-width="3.0"/>
<path d="M389.6,1922l36.8,0 36.8,0 33.8,-0.6 24.6,-2 24.5,-3.7 24.6,-4.1 24.5,-3.9 24.6,-2.9 24.6,-1.7 24.5,-0.8 24.6,-0.6 24.5,-0.8 24.6,-1.4 24.6,-3.4 24.5,-6.6 12.3,-5 15.4,-11.7 15.3,-13.3 15.3,-13.4 15.4,-13.2 15.4,-10.2 15.3,-8.6 15.3,-6.1 15.4,-4.5 15.4,-3.2 15.3,-0.3 15.3,2.5 15.4,3.7 15.4,3.8 15.3,4.7 15.3,4.7 15.4,3.4 15.3,2.9 15.4,2.4 15.3,2.2 15.4,1.9 30.7,3.2 30.7,2.9 30.7,3.3 30.7,4.2 30.7,8.8 30.7,11 30.7,9.2 9.2,2.2 9.2,1.3 9.2,-2.1 9.2,-3.4 9.2,-4 9.3,-5.8 9.2,-12.1 9.2,-17.3 9.2,-18.9 9.2,-31.9 15.4,-51.6 15.3,-50.1 15.3,-65.1 15.4,-83 15.4,-89.2 15.3,-86.9 15.3,-71.9 15.4,-63.1 15.3,-63.4 10.8,-46.6 10.7,-35.6 10.8,-27.4 10.7,-20 10.8,-14.6 10.7,-11.4 10.8,-9.3 10.7,-7.9 10.8,-6.9 10.7,-6.2 10.7,-5.7 10.8,-5.2 10.7,-4.9 10.8,-4.6 10.7,-4.3 7.7,-3 24.6,-8.8 24.5,-7.9 24.6,-7.2 24.5,-6.2 24.6,-5.3 24.6,-4.6 24.5,-3.8 24.6,-2.6 24.5,-1.1 24.6,0.1 24.6,0.6 24.5,1.1 24.6,2.1 24.5,4 24.6,7.2 10.7,4.9 10.8,6.8 10.7,9.2 10.8,12.1 10.7,15.2 10.8,17.6 10.7,19.2 10.8,19.9 10.7,19.7 10.7,19 10.8,17.4 10.7,14.8 10.8,11.2 10.7,8 10.8,5.1 10.7,3.2 10.8,1.9 19.9,1.8" stroke="#2c9872" stroke-opacity="0.73" stroke-width="3.0"/>
<path d="M389.6,1936.2l36.8,0 36.8,-0.1 33.8,-0.5 24.6,-2.1 24.5,-3.7 24.6,-4.1 24.5,-4 24.6,-3 24.6,-1.6 24.5,-0.9 24.6,-0.6 24.5,-0.8 24.6,-1.3 24.6,-3.1 24.5,-5.7 12.3,-4.1 15.4,-9.4 15.3,-10.9 15.3,-11.5 15.4,-11.7 15.4,-9.3 15.3,-8.1 15.3,-5.9 15.4,-4.5 15.4,-3.2 15.3,-0.4 15.3,2.2 15.4,3.5 15.4,3.6 15.3,4.6 15.3,4.7 15.4,3.5 15.3,2.8 15.4,2.4 15.3,2.3 15.4,2 30.7,3.3 30.7,3.2 30.7,3.6 30.7,4.6 30.7,7.8 30.7,9.5 30.7,8.5 9.2,1.6 9.2,0.8 9.2,-1.9 9.2,-2.8 9.2,-2.6 9.3,-3 9.2,-5.8 9.2,-7.5 9.2,-11.3 9.2,-27.8 15.4,-37.2 15.3,-32.4 15.3,-56.2 15.4,-86.4 15.4,-77.4 15.3,-73.7 15.3,-52.8 15.4,-44.4 15.3,-47.1 10.8,-33.4 10.7,-22.2 10.8,-16.3 10.7,-13.3 10.8,-11.2 10.7,-9.7 10.8,-8.6 10.7,-7.8 10.8,-7.2 10.7,-6.9 10.7,-6.5 10.8,-6.1 10.7,-5.9 10.8,-5.7 10.7,-5.4 7.7,-3.6 24.6,-11.1 24.5,-10.1 24.6,-9.3 24.5,-8.3 24.6,-7.3 24.6,-6.3 24.5,-5.6 24.6,-4.1 24.5,-2 24.6,-0.7 24.6,-0.3 24.5,0 24.6,0.3 24.5,1.2 24.6,2.6 10.7,2.2 10.8,3.3 10.7,5.2 10.8,7.6 10.7,10 10.8,12.2 10.7,13.7 10.8,14.8 10.7,15.2 10.7,15.1 10.8,14.3 10.7,12.4 10.8,9.8 10.7,7.2 10.8,4.8 10.7,3.2 10.8,1.9 19.9,1.7" stroke="#b4ecd0" stroke-opacity="0.95" stroke-width="2.6"/>
<path d="M389.6,1928.4l36.8,0 36.8,0 33.8,-0.5 24.6,-2.1 24.5,-3.7 24.6,-4.1 24.5,-4.1 24.6,-2.9 24.6,-1.7 24.5,-0.8 24.6,-0.7 24.5,-0.8 24.6,-1.3 24.6,-3.3 24.5,-6.2 12.3,-4.6 15.4,-10.6 15.3,-12.3 15.3,-12.5 15.4,-12.6 15.4,-9.8 15.3,-8.4 15.3,-6.1 15.4,-4.5 15.4,-3.3 15.3,-0.4 15.3,2.5 15.4,3.6 15.4,3.7 15.3,4.7 15.3,4.7 15.4,3.5 15.3,2.9 15.4,2.4 15.3,2.3 15.4,2 30.7,3.2 30.7,3.1 30.7,3.5 30.7,4.4 30.7,8.4 30.7,10.3 30.7,9 9.2,1.9 9.2,1.1 9.2,-1.9 9.2,-2.8 9.2,-2.7 9.3,-2.9 9.2,-5.6 9.2,-6.4 9.2,-8.6 9.2,-25.3 15.4,-35.9 15.3,-32.4 15.3,-56.5 15.4,-86.5 15.4,-78.1 15.3,-74.3 15.3,-53.7 15.4,-45.2 15.3,-47.8 10.8,-34.1 10.7,-22.6 10.8,-16.8 10.7,-13.6 10.8,-11.3 10.7,-9.8 10.8,-8.7 10.7,-7.8 10.8,-7.3 10.7,-6.8 10.7,-6.5 10.8,-6.2 10.7,-5.8 10.8,-5.7 10.7,-5.3 7.7,-3.7 24.6,-11 24.5,-10 24.6,-9.3 24.5,-8.3 24.6,-7.2 24.6,-6.3 24.5,-5.5 24.6,-4 24.5,-2.1 24.6,-0.6 24.6,-0.3 24.5,0 24.6,0.5 24.5,1.3 24.6,2.7 10.7,2.3 10.8,3.4 10.7,5.4 10.8,7.8 10.7,10.2 10.8,12.4 10.7,14 10.8,15 10.7,15.4 10.7,15.3 10.8,14.4 10.7,12.6 10.8,9.9 10.7,7.3 10.8,4.8 10.7,3.1 10.8,1.9 19.9,1.8" stroke="#a0e2c0" stroke-opacity="0.95" stroke-width="2.6"/>
<path d="M389.6,1931.7l36.8,0 36.8,0 33.8,-0.6 24.6,-2 24.5,-3.6 24.6,-4.1 24.5,-3.9 24.6,-2.9 24.6,-1.7 24.5,-0.8 24.6,-0.6 24.5,-0.8 24.6,-1.3 24.6,-3.2 24.5,-5.9 12.3,-4.4 15.4,-10.1 15.3,-11.7 15.3,-12.1 15.4,-12.1 15.4,-9.4 15.3,-8.2 15.3,-6 15.4,-4.4 15.4,-3.2 15.3,-0.3 15.3,2.3 15.4,3.5 15.4,3.6 15.3,4.6 15.3,4.6 15.4,3.5 15.3,2.7 15.4,2.5 15.3,2.1 15.4,2 30.7,3.2 30.7,3.1 30.7,3.4 30.7,4.4 30.7,8.1 30.7,9.9 30.7,8.7 9.2,1.8 9.2,1 9.2,-1.9 9.2,-2.8 9.2,-2.8 9.3,-3.1 9.2,-6.3 9.2,-7.7 9.2,-10.5 9.2,-26.4 15.4,-37.3 15.3,-33.6 15.3,-56.3 15.4,-84.7 15.4,-77.6 15.3,-74.1 15.3,-54.2 15.4,-46 15.3,-48.3 10.8,-34.5 10.7,-23.4 10.8,-17.3 10.7,-14 10.8,-11.3 10.7,-9.8 10.8,-8.5 10.7,-7.7 10.8,-7.1 10.7,-6.7 10.7,-6.3 10.8,-6 10.7,-5.6 10.8,-5.5 10.7,-5.1 7.7,-3.6 24.6,-10.6 24.5,-9.7 24.6,-8.9 24.5,-8 24.6,-6.9 24.6,-6 24.5,-5.2 24.6,-3.9 24.5,-1.9 24.6,-0.6 24.6,-0.2 24.5,0.1 24.6,0.6 24.5,1.5 24.6,3.1 10.7,2.4 10.8,3.7 10.7,5.6 10.8,8 10.7,10.5 10.8,12.6 10.7,14.2 10.8,15.2 10.7,15.5 10.7,15.3 10.8,14.4 10.7,12.5 10.8,9.9 10.7,7.2 10.8,4.7 10.7,3.1 10.8,1.9 19.9,1.7" stroke="#a0e2c0" stroke-opacity="0.95" stroke-width="2.6"/>
<path d="M389.6,1946.4l36.8,0 36.8,0 33.8,-0.5 24.6,-2.1 24.5,-3.6 24.6,-4.1 24.5,-4 24.6,-3 24.6,-1.6 24.5,-0.9 24.6,-0.6 24.5,-0.8 24.6,-1.3 24.6,-2.8 24.5,-5 12.3,-3.5 15.4,-7.7 15.3,-9.1 15.3,-10.1 15.4,-10.5 15.4,-8.6 15.3,-7.6 15.3,-5.8 15.4,-4.4 15.4,-3.2 15.3,-0.4 15.3,2.1 15.4,3.2 15.4,3.4 15.3,4.5 15.3,4.6 15.4,3.4 15.3,2.8 15.4,2.5 15.3,2.2 15.4,2 30.7,3.4 30.7,3.3 30.7,3.9 30.7,4.7 30.7,7 30.7,8.3 30.7,8.1 9.2,0.9 9.2,0.5 9.2,-2 9.2,-2.8 9.2,-2.8 9.3,-3.8 9.2,-7.5 9.2,-11.7 9.2,-17.6 9.2,-32.9 15.4,-42.8 15.3,-36.1 15.3,-57.7 15.4,-85.6 15.4,-78.9 15.3,-75.4 15.3,-55.5 15.4,-47.1 15.3,-49.5 10.8,-35.3 10.7,-24.1 10.8,-18 10.7,-14.3 10.8,-11.6 10.7,-9.9 10.8,-8.7 10.7,-7.8 10.8,-7.1 10.7,-6.8 10.7,-6.3 10.8,-6 10.7,-5.7 10.8,-5.5 10.7,-5.1 7.7,-3.6 24.6,-10.7 24.5,-9.7 24.6,-8.9 24.5,-8 24.6,-6.9 24.6,-6 24.5,-5.2 24.6,-3.9 24.5,-1.9 24.6,-0.6 24.6,-0.1 24.5,0.1 24.6,0.7 24.5,1.6 24.6,3.3 10.7,2.6 10.8,3.8 10.7,5.8 10.8,8.3 10.7,10.8 10.8,12.9 10.7,14.6 10.8,15.4 10.7,15.9 10.7,15.6 10.8,14.7 10.7,12.7 10.8,10.1 10.7,7.2 10.8,4.9 10.7,3.1 10.8,1.9 19.9,1.7" stroke="#b4ecd0" stroke-opacity="0.95" stroke-width="2.6"/>
<path d="M389.6,1924.7l36.8,0 36.8,0 33.8,-0.6 24.6,-2 24.5,-3.7 24.6,-4.1 24.5,-4 24.6,-3 24.6,-1.6 24.5,-0.8 24.6,-0.7 24.5,-0.8 24.6,-1.3 24.6,-3.4 24.5,-6.4 12.3,-4.9 15.4,-11.2 15.3,-12.9 15.3,-13 15.4,-13 15.4,-10 15.3,-8.5 15.3,-6.2 15.4,-4.5 15.4,-3.2 15.3,-0.4 15.3,2.5 15.4,3.7 15.4,3.7 15.3,4.8 15.3,4.7 15.4,3.5 15.3,2.8 15.4,2.5 15.3,2.2 15.4,1.9 30.7,3.2 30.7,3.1 30.7,3.3 30.7,4.3 30.7,8.7 30.7,10.7 30.7,9.1 9.2,2.1 9.2,1.3 9.2,-1.9 9.2,-3 9.2,-2.9 9.3,-3.3 9.2,-6.7 9.2,-7.8 9.2,-9.3 9.2,-25.5 15.4,-37.9 15.3,-35.4 15.3,-57.8 15.4,-85.6 15.4,-79.9 15.3,-76.4 15.3,-56.9 15.4,-48.5 15.3,-50.6 10.8,-36.2 10.7,-25.1 10.8,-18.7 10.7,-14.7 10.8,-11.9 10.7,-10.1 10.8,-8.7 10.7,-7.8 10.8,-7.2 10.7,-6.7 10.7,-6.3 10.8,-6 10.7,-5.7 10.8,-5.4 10.7,-5.1 7.7,-3.6 24.6,-10.5 24.5,-9.6 24.6,-8.8 24.5,-7.9 24.6,-6.9 24.6,-5.9 24.5,-5.2 24.6,-3.8 24.5,-1.8 24.6,-0.5 24.6,-0.1 24.5,0.2 24.6,0.7 24.5,1.8 24.6,3.6 10.7,2.8 10.8,4 10.7,6.1 10.8,8.6 10.7,11.1 10.8,13.4 10.7,14.9 10.8,15.8 10.7,16.2 10.7,16 10.8,14.9 10.7,12.9 10.8,10.1 10.7,7.4 10.8,4.9 10.7,3.1 10.8,1.9 19.9,1.7" stroke="#b4ecd0" stroke-opacity="0.95" stroke-width="2.6"/>
<path d="M389.6,1955.9l36.8,0 36.8,0 33.8,-0.5 24.6,-2.1 24.5,-3.7 24.6,-4.1 24.5,-4 24.6,-3 24.6,-1.6 24.5,-0.9 24.6,-0.7 24.5,-0.7 24.6,-1.3 24.6,-2.6 24.5,-4.3 12.3,-3 15.4,-6.2 15.3,-7.4 15.3,-8.8 15.4,-9.5 15.4,-7.9 15.3,-7.3 15.3,-5.6 15.4,-4.4 15.4,-3.3 15.3,-0.4 15.3,1.9 15.4,3 15.4,3.3 15.3,4.5 15.3,4.5 15.4,3.5 15.3,2.7 15.4,2.5 15.3,2.2 15.4,2.1 30.7,3.5 30.7,3.4 30.7,4.2 30.7,4.9 30.7,6.3 30.7,7.3 30.7,7.6 9.2,0.4 9.2,0.1 9.2,-2.1 9.2,-2.8 9.2,-3.1 9.3,-4.6 9.2,-9.1 9.2,-15.7 9.2,-23.8 9.2,-38.1 15.4,-48.5 15.3,-40.1 15.3,-59.6 15.4,-85.7 15.4,-81.1 15.3,-77.7 15.3,-58.6 15.4,-50 15.3,-52.1 10.8,-37.4 10.7,-26.2 10.8,-19.7 10.7,-15.3 10.8,-12.2 10.7,-10.2 10.8,-8.9 10.7,-7.8 10.8,-7.1 10.7,-6.7 10.7,-6.2 10.8,-5.9 10.7,-5.6 10.8,-5.4 10.7,-5 7.7,-3.5 24.6,-10.4 24.5,-9.4 24.6,-8.7 24.5,-7.7 24.6,-6.7 24.6,-5.8 24.5,-5 24.6,-3.7 24.5,-1.7 24.6,-0.5 24.6,0 24.5,0.3 24.6,0.9 24.5,2 24.6,4 10.7,3 10.8,4.3 10.7,6.5 10.8,8.9 10.7,11.6 10.8,13.8 10.7,15.4 10.8,16.3 10.7,16.6 10.7,16.3 10.8,15.2 10.7,13.2 10.8,10.2 10.7,7.5 10.8,4.9 10.7,3.1 10.8,1.9 19.9,1.8" stroke="#8ad8b0" stroke-opacity="0.95" stroke-width="2.6"/>
<path d="M389.6,1922l36.8,0 36.8,0 33.8,-0.6 24.6,-2.1 24.5,-3.6 24.6,-4.1 24.5,-4 24.6,-2.9 24.6,-1.7 24.5,-0.8 24.6,-0.6 24.5,-0.8 24.6,-1.4 24.6,-3.4 24.5,-6.6 12.3,-5 15.4,-11.7 15.3,-13.3 15.3,-13.5 15.4,-13.2 15.4,-10.2 15.3,-8.6 15.3,-6.2 15.4,-4.5 15.4,-3.2 15.3,-0.3 15.3,2.5 15.4,3.7 15.4,3.8 15.3,4.8 15.3,4.6 15.4,3.5 15.3,2.8 15.4,2.5 15.3,2.2 15.4,2 30.7,3.1 30.7,3 30.7,3.2 30.7,4.3 30.7,8.9 30.7,11 30.7,9.2 9.2,2.2 9.2,1.4 9.2,-1.9 9.2,-3.1 9.2,-3.1 9.3,-3.6 9.2,-7.3 9.2,-8.7 9.2,-9.7 9.2,-25.5 15.4,-39.3 15.3,-37.3 15.3,-58.7 15.4,-85 15.4,-81.1 15.3,-77.9 15.3,-59.1 15.4,-50.6 15.3,-52.4 10.8,-37.8 10.7,-26.6 10.8,-20 10.7,-15.5 10.8,-12.3 10.7,-10.3 10.8,-8.8 10.7,-7.8 10.8,-7.1 10.7,-6.6 10.7,-6.2 10.8,-5.8 10.7,-5.6 10.8,-5.3 10.7,-5 7.7,-3.4 24.6,-10.3 24.5,-9.3 24.6,-8.6 24.5,-7.6 24.6,-6.6 24.6,-5.7 24.5,-4.9 24.6,-3.6 24.5,-1.7 24.6,-0.5 24.6,0 24.5,0.4 24.6,0.9 24.5,2.2 24.6,4.1 10.7,3.1 10.8,4.4 10.7,6.6 10.8,9.1 10.7,11.7 10.8,14 10.7,15.5 10.8,16.4 10.7,16.7 10.7,16.4 10.8,15.3 10.7,13.2 10.8,10.3 10.7,7.4 10.8,4.9 10.7,3.1 10.8,1.9 19.9,1.8" stroke="#74cca2" stroke-opacity="0.95" stroke-width="2.6"/>
<path d="M389.6,1948.3l36.8,0 36.8,-0.1 33.8,-0.5 24.6,-2.1 24.5,-3.6 24.6,-4.1 24.5,-4 24.6,-3 24.6,-1.6 24.5,-0.9 24.6,-0.7 24.5,-0.7 24.6,-1.3 24.6,-2.8 24.5,-4.8 12.3,-3.5 15.4,-7.4 15.3,-8.8 15.3,-9.8 15.4,-10.3 15.4,-8.5 15.3,-7.5 15.3,-5.8 15.4,-4.4 15.4,-3.2 15.3,-0.5 15.3,2.1 15.4,3.2 15.4,3.4 15.3,4.5 15.3,4.6 15.4,3.4 15.3,2.8 15.4,2.4 15.3,2.3 15.4,2 30.7,3.4 30.7,3.3 30.7,4 30.7,4.8 30.7,6.8 30.7,8.2 30.7,7.9 9.2,0.8 9.2,0.3 9.2,-2.3 9.2,-3.3 9.2,-4.1 9.3,-6.7 9.2,-14 9.2,-23.6 9.2,-30.9 9.2,-42.4 15.4,-60.1 15.3,-53.8 15.3,-66.6 15.4,-83.6 15.4,-90.2 15.3,-87.9 15.3,-73.1 15.4,-64 15.3,-64.4 10.8,-47.3 10.7,-36.3 10.8,-27.9 10.7,-20.4 10.8,-14.7 10.7,-11.6 10.8,-9.4 10.7,-7.9 10.8,-6.9 10.7,-6.3 10.7,-5.7 10.8,-5.2 10.7,-4.9 10.8,-4.5 10.7,-4.4 7.7,-2.9 24.6,-8.8 24.5,-8 24.6,-7.1 24.5,-6.1 24.6,-5.3 24.6,-4.6 24.5,-3.8 24.6,-2.6 24.5,-1 24.6,0 24.6,0.7 24.5,1.2 24.6,2.1 24.5,4.1 24.6,7.4 10.7,5.1 10.8,6.9 10.7,9.4 10.8,12.4 10.7,15.4 10.8,17.9 10.7,19.5 10.8,20.1 10.7,20.1 10.7,19.2 10.8,17.6 10.7,14.9 10.8,11.4 10.7,8.1 10.8,5.1 10.7,3.2 10.8,2 19.9,1.7" stroke="#a0e2c0" stroke-opacity="0.93" stroke-width="3.0"/>
<path d="M389.6,1937.4l36.8,0 36.8,-0.1 33.8,-0.5 24.6,-2.1 24.5,-3.7 24.6,-4.1 24.5,-4 24.6,-2.9 24.6,-1.7 24.5,-0.9 24.6,-0.6 24.5,-0.8 24.6,-1.3 24.6,-3.1 24.5,-5.5 12.3,-4.1 15.4,-9.2 15.3,-10.7 15.3,-11.3 15.4,-11.6 15.4,-9.2 15.3,-8 15.3,-5.9 15.4,-4.5 15.4,-3.2 15.3,-0.4 15.3,2.2 15.4,3.4 15.4,3.6 15.3,4.7 15.3,4.6 15.4,3.5 15.3,2.8 15.4,2.4 15.3,2.2 15.4,2.1 30.7,3.3 30.7,3.2 30.7,3.7 30.7,4.5 30.7,7.7 30.7,9.4 30.7,8.4 9.2,1.4 9.2,0.7 9.2,-2.3 9.2,-3.6 9.2,-4.5 9.3,-7.4 9.2,-15.7 9.2,-25.3 9.2,-30.7 9.2,-41.6 15.4,-63 15.3,-58.9 15.3,-69.5 15.4,-83.2 15.4,-94.3 15.3,-92.5 15.3,-79.3 15.4,-70.1 15.3,-69.8 10.8,-51.6 10.7,-40.6 10.8,-31.4 10.7,-22.5 10.8,-15.9 10.7,-12.1 10.8,-9.7 10.7,-8 10.8,-6.9 10.7,-6.1 10.7,-5.5 10.8,-4.9 10.7,-4.6 10.8,-4.3 10.7,-4.1 7.7,-2.7 24.6,-8.2 24.5,-7.4 24.6,-6.5 24.5,-5.5 24.6,-4.8 24.6,-4 24.5,-3.3 24.6,-2.3 24.5,-0.7 24.6,0.3 24.6,1 24.5,1.5 24.6,2.6 24.5,5 24.6,8.9 10.7,5.9 10.8,8 10.7,10.7 10.8,13.8 10.7,17.1 10.8,19.7 10.7,21.3 10.8,21.7 10.7,21.6 10.7,20.6 10.8,18.6 10.7,15.7 10.8,11.9 10.7,8.3 10.8,5.3 10.7,3.3 10.8,1.9 19.9,1.8" stroke="#4cb28a" stroke-opacity="0.75" stroke-width="3.0"/>
<path d="M389.6,1916.8l36.8,0 36.8,0 33.8,-0.6 24.6,-2.1 24.5,-3.7 24.6,-4.2 24.5,-4 24.6,-3 24.6,-1.7 24.5,-0.8 24.6,-0.6 24.5,-0.8 24.6,-1.4 24.6,-3.7 24.5,-6.9 12.3,-5.3 15.4,-12.5 15.3,-14.3 15.3,-14.2 15.4,-13.9 15.4,-10.6 15.3,-8.9 15.3,-6.4 15.4,-4.5 15.4,-3.3 15.3,-0.3 15.3,2.6 15.4,3.8 15.4,4 15.3,4.8 15.3,4.8 15.4,3.6 15.3,2.8 15.4,2.6 15.3,2.2 15.4,2 30.7,3.1 30.7,3 30.7,3.2 30.7,4.2 30.7,9.4 30.7,11.6 30.7,9.5 9.2,2.4 9.2,1.5 9.2,-2.2 9.2,-3.7 9.2,-4.4 9.3,-6.5 9.2,-13.8 9.2,-19.8 9.2,-21.1 9.2,-33.4 15.4,-56 15.3,-55.4 15.3,-68.6 15.4,-84.1 15.4,-94 15.3,-91.9 15.3,-78 15.4,-68.8 15.3,-68.7 10.8,-50.7 10.7,-39.5 10.8,-30.5 10.7,-22 10.8,-15.7 10.7,-12.1 10.8,-9.7 10.7,-8 10.8,-7 10.7,-6.3 10.7,-5.6 10.8,-5.1 10.7,-4.7 10.8,-4.5 10.7,-4.2 7.7,-2.8 24.6,-8.5 24.5,-7.7 24.6,-6.9 24.5,-5.8 24.6,-5 24.6,-4.3 24.5,-3.5 24.6,-2.4 24.5,-0.9 24.6,0.3 24.6,0.8 24.5,1.4 24.6,2.5 24.5,4.7 24.6,8.5 10.7,5.7 10.8,7.7 10.7,10.3 10.8,13.5 10.7,16.7 10.8,19.3 10.7,20.9 10.8,21.4 10.7,21.3 10.7,20.3 10.8,18.5 10.7,15.6 10.8,11.9 10.7,8.3 10.8,5.3 10.7,3.3 10.8,2 19.9,1.7" stroke="#b4ecd0" stroke-opacity="0.77" stroke-width="3.0"/>
<path d="M389.6,1952.3l36.8,0 36.8,0 33.8,-0.6 24.6,-2.1 24.5,-3.7 24.6,-4.1 24.5,-4.1 24.6,-2.9 24.6,-1.7 24.5,-0.9 24.6,-0.7 24.5,-0.7 24.6,-1.3 24.6,-2.7 24.5,-4.6 12.3,-3.2 15.4,-6.8 15.3,-8 15.3,-9.3 15.4,-10 15.4,-8.2 15.3,-7.5 15.3,-5.7 15.4,-4.4 15.4,-3.3 15.3,-0.5 15.3,2 15.4,3.1 15.4,3.4 15.3,4.6 15.3,4.6 15.4,3.4 15.3,2.8 15.4,2.5 15.3,2.2 15.4,2.1 30.7,3.5 30.7,3.4 30.7,4.1 30.7,4.9 30.7,6.6 30.7,7.7 30.7,7.8 9.2,0.6 9.2,0.1 9.2,-2.5 9.2,-3.5 9.2,-4.7 9.3,-8.2 9.2,-17.1 9.2,-29.7 9.2,-38.3 9.2,-48.2 15.4,-69 15.3,-62.1 15.3,-71.1 15.4,-83.6 15.4,-95.7 15.3,-94 15.3,-81.1 15.4,-71.8 15.3,-71.3 10.8,-52.9 10.7,-41.7 10.8,-32.4 10.7,-23.1 10.8,-16.2 10.7,-12.3 10.8,-9.8 10.7,-8.1 10.8,-6.9 10.7,-6.1 10.7,-5.4 10.8,-5 10.7,-4.6 10.8,-4.2 10.7,-4 7.7,-2.7 24.6,-8.1 24.5,-7.3 24.6,-6.4 24.5,-5.4 24.6,-4.7 24.6,-3.9 24.5,-3.3 24.6,-2.1 24.5,-0.7 24.6,0.4 24.6,1 24.5,1.6 24.6,2.8 24.5,5.2 24.6,9.2 10.7,6.2 10.8,8.2 10.7,11.1 10.8,14.2 10.7,17.5 10.8,20.2 10.7,21.8 10.8,22.3 10.7,21.9 10.7,21 10.8,19 10.7,16 10.8,12 10.7,8.4 10.8,5.4 10.7,3.3 10.8,2 19.9,1.7" stroke="#74cca2" stroke-opacity="0.73" stroke-width="3.0"/>
<path d="M389.6,1955.2l36.8,0 36.8,0 33.8,-0.5 24.6,-2.1 24.5,-3.7 24.6,-4.2 24.5,-4 24.6,-3 24.6,-1.6 24.5,-0.9 24.6,-0.7 24.5,-0.8 24.6,-1.2 24.6,-2.6 24.5,-4.4 12.3,-3.1 15.4,-6.2 15.3,-7.6 15.3,-8.9 15.4,-9.6 15.4,-8 15.3,-7.4 15.3,-5.6 15.4,-4.5 15.4,-3.3 15.3,-0.4 15.3,2 15.4,3 15.4,3.3 15.3,4.5 15.3,4.6 15.4,3.4 15.3,2.8 15.4,2.5 15.3,2.2 15.4,2.1 30.7,3.5 30.7,3.5 30.7,4.2 30.7,4.9 30.7,6.3 30.7,7.5 30.7,7.6 9.2,0.4 9.2,0 9.2,-2.5 9.2,-3.7 9.2,-5.1 9.3,-9.1 9.2,-19.1 9.2,-33.7 9.2,-43.1 9.2,-51.9 15.4,-74.7 15.3,-67.4 15.3,-73.6 15.4,-83 15.4,-99 15.3,-97.5 15.3,-86.2 15.4,-76.6 15.3,-75.6 10.8,-56.3 10.7,-45.3 10.8,-35.2 10.7,-24.8 10.8,-17.2 10.7,-12.8 10.8,-10 10.7,-8.1 10.8,-6.8 10.7,-6 10.7,-5.2 10.8,-4.7 10.7,-4.3 10.8,-4 10.7,-3.7 7.7,-2.6 24.6,-7.5 24.5,-6.8 24.6,-5.9 24.5,-4.8 24.6,-4.2 24.6,-3.5 24.5,-2.8 24.6,-1.8 24.5,-0.4 24.6,0.6 24.6,1.2 24.5,1.9 24.6,3.2 24.5,5.9 24.6,10.5 10.7,6.9 10.8,9.1 10.7,12.1 10.8,15.4 10.7,18.9 10.8,21.6 10.7,23.2 10.8,23.6 10.7,23.1 10.7,22.1 10.8,19.8 10.7,16.6 10.8,12.4 10.7,8.6 10.8,5.5 10.7,3.3 10.8,2 19.9,1.7" stroke="#a0e2c0" stroke-opacity="0.74" stroke-width="3.0"/>
<path d="M389.6,1945l36.8,0 36.8,0 33.8,-0.5 24.6,-2.1 24.5,-3.7 24.6,-4.2 24.5,-4 24.6,-3 24.6,-1.6 24.5,-0.9 24.6,-0.6 24.5,-0.8 24.6,-1.3 24.6,-2.9 24.5,-5 12.3,-3.7 15.4,-7.9 15.3,-9.4 15.3,-10.3 15.4,-10.7 15.4,-8.7 15.3,-7.8 15.3,-5.8 15.4,-4.4 15.4,-3.3 15.3,-0.4 15.3,2.1 15.4,3.3 15.4,3.4 15.3,4.6 15.3,4.7 15.4,3.4 15.3,2.8 15.4,2.5 15.3,2.2 15.4,2.1 30.7,3.4 30.7,3.3 30.7,3.9 30.7,4.7 30.7,7.2 30.7,8.5 30.7,8.1 9.2,1 9.2,0.5 9.2,-2.2 9.2,-3.1 9.2,-3.6 9.3,-5.5 9.2,-11.1 9.2,-18.2 9.2,-24.5 9.2,-37.8 15.4,-52.5 15.3,-46.3 15.3,-63.3 15.4,-85.1 15.4,-86 15.3,-83.2 15.3,-66 15.4,-57.2 15.3,-58.4 10.8,-42.6 10.7,-31.2 10.8,-23.9 10.7,-17.8 10.8,-13.6 10.7,-10.9 10.8,-9.2 10.7,-7.9 10.8,-7.1 10.7,-6.5 10.7,-6 10.8,-5.6 10.7,-5.3 10.8,-5 10.7,-4.7 7.7,-3.2 24.6,-9.7 24.5,-8.8 24.6,-7.9 24.5,-7 24.6,-6.1 24.6,-5.2 24.5,-4.5 24.6,-3.2 24.5,-1.4 24.6,-0.2 24.6,0.4 24.5,0.7 24.6,1.5 24.5,3 24.6,5.8 10.7,4 10.8,5.6 10.7,7.9 10.8,10.7 10.7,13.5 10.8,15.9 10.7,17.6 10.8,18.2 10.7,18.4 10.7,17.9 10.8,16.4 10.7,14.1 10.8,10.9 10.7,7.7 10.8,5.1 10.7,3.2 10.8,1.9 19.9,1.8" stroke="#60c096" stroke-opacity="0.84" stroke-width="3.0"/>
<path d="M389.6,1939l36.8,0 36.8,0 33.8,-0.5 24.6,-2.1 24.5,-3.7 24.6,-4.1 24.5,-4 24.6,-2.9 24.6,-1.7 24.5,-0.8 24.6,-0.7 24.5,-0.7 24.6,-1.4 24.6,-3 24.5,-5.4 12.3,-4 15.4,-8.9 15.3,-10.4 15.3,-11.1 15.4,-11.4 15.4,-9 15.3,-8 15.3,-5.9 15.4,-4.4 15.4,-3.2 15.3,-0.5 15.3,2.3 15.4,3.3 15.4,3.6 15.3,4.6 15.3,4.6 15.4,3.5 15.3,2.8 15.4,2.4 15.3,2.2 15.4,2.1 30.7,3.3 30.7,3.2 30.7,3.7 30.7,4.6 30.7,7.6 30.7,9.1 30.7,8.4 9.2,1.3 9.2,0.7 9.2,-2.1 9.2,-3 9.2,-3.4 9.3,-4.9 9.2,-9.9 9.2,-15.2 9.2,-20.1 9.2,-34.1 15.4,-48.3 15.3,-43.2 15.3,-61.5 15.4,-84.8 15.4,-84 15.3,-81.1 15.3,-63.4 15.4,-54.7 15.3,-56.2 10.8,-40.7 10.7,-29.6 10.8,-22.4 10.7,-17 10.8,-13.1 10.7,-10.6 10.8,-9 10.7,-7.9 10.8,-7.1 10.7,-6.5 10.7,-6 10.8,-5.7 10.7,-5.3 10.8,-5.1 10.7,-4.8 7.7,-3.3 24.6,-9.9 24.5,-8.9 24.6,-8.1 24.5,-7.2 24.6,-6.2 24.6,-5.4 24.5,-4.6 24.6,-3.3 24.5,-1.5 24.6,-0.3 24.6,0.2 24.5,0.6 24.6,1.3 24.5,2.7 24.6,5.2 10.7,3.7 10.8,5.2 10.7,7.4 10.8,10.1 10.7,12.9 10.8,15.1 10.7,16.8 10.8,17.6 10.7,17.7 10.7,17.3 10.8,16 10.7,13.7 10.8,10.7 10.7,7.6 10.8,5 10.7,3.1 10.8,2 19.9,1.7" stroke="#60c096" stroke-opacity="0.92" stroke-width="3.0"/>
<path d="M389.6,1935.9l36.8,0 36.8,0 33.8,-0.6 24.6,-2 24.5,-3.7 24.6,-4.2 24.5,-4 24.6,-2.9 24.6,-1.7 24.5,-0.9 24.6,-0.6 24.5,-0.8 24.6,-1.3 24.6,-3.1 24.5,-5.7 12.3,-4.2 15.4,-9.4 15.3,-10.9 15.3,-11.5 15.4,-11.8 15.4,-9.3 15.3,-8.1 15.3,-6 15.4,-4.4 15.4,-3.3 15.3,-0.4 15.3,2.3 15.4,3.4 15.4,3.7 15.3,4.6 15.3,4.7 15.4,3.5 15.3,2.8 15.4,2.4 15.3,2.3 15.4,2 30.7,3.3 30.7,3.2 30.7,3.7 30.7,4.5 30.7,7.8 30.7,9.6 30.7,8.5 9.2,1.5 9.2,0.7 9.2,-2.2 9.2,-3.5 9.2,-4.2 9.3,-6.8 9.2,-14 9.2,-22.3 9.2,-27.2 9.2,-39 15.4,-58.8 15.3,-54.7 15.3,-67.5 15.4,-83.9 15.4,-91.9 15.3,-89.6 15.3,-75.3 15.4,-66.2 15.3,-66.3 10.8,-48.9 10.7,-37.7 10.8,-29.1 10.7,-21.1 10.8,-15.1 10.7,-11.8 10.8,-9.6 10.7,-8 10.8,-6.9 10.7,-6.3 10.7,-5.6 10.8,-5.2 10.7,-4.8 10.8,-4.5 10.7,-4.3 7.7,-2.9 24.6,-8.6 24.5,-7.9 24.6,-6.9 24.5,-6 24.6,-5.2 24.6,-4.4 24.5,-3.7 24.6,-2.5 24.5,-1 24.6,0.2 24.6,0.7 24.5,1.3 24.6,2.3 24.5,4.4 24.6,7.9 10.7,5.4 10.8,7.2 10.7,9.8 10.8,12.9 10.7,16 10.8,18.5 10.7,20.2 10.8,20.7 10.7,20.5 10.7,19.8 10.8,18 10.7,15.2 10.8,11.6 10.7,8.2 10.8,5.2 10.7,3.3 10.8,1.9 19.9,1.8" stroke="#60c096" stroke-opacity="0.74" stroke-width="3.0"/>
<path d="M389.6,1951.9l36.8,0 36.8,0 33.8,-0.6 24.6,-2.1 24.5,-3.7 24.6,-4.1 24.5,-4 24.6,-3 24.6,-1.7 24.5,-0.8 24.6,-0.7 24.5,-0.8 24.6,-1.3 24.6,-2.7 24.5,-4.5 12.3,-3.3 15.4,-6.8 15.3,-8.2 15.3,-9.3 15.4,-10 15.4,-8.3 15.3,-7.4 15.3,-5.7 15.4,-4.5 15.4,-3.3 15.3,-0.4 15.3,2 15.4,3.1 15.4,3.4 15.3,4.5 15.3,4.6 15.4,3.5 15.3,2.8 15.4,2.4 15.3,2.3 15.4,2 30.7,3.5 30.7,3.4 30.7,4.1 30.7,4.9 30.7,6.6 30.7,7.8 30.7,7.8 9.2,0.6 9.2,0.3 9.2,-2.2 9.2,-3 9.2,-3.4 9.3,-5.2 9.2,-10.4 9.2,-17.7 9.2,-25.3 9.2,-38.9 15.4,-51.6 15.3,-44 15.3,-62 15.4,-85.6 15.4,-84.2 15.3,-81.1 15.3,-63 15.4,-54.4 15.3,-55.8 10.8,-40.5 10.7,-29.2 10.8,-22.1 10.7,-16.9 10.8,-13 10.7,-10.6 10.8,-9.1 10.7,-7.9 10.8,-7.1 10.7,-6.6 10.7,-6.1 10.8,-5.8 10.7,-5.4 10.8,-5.2 10.7,-4.8 7.7,-3.4 24.6,-10 24.5,-9.1 24.6,-8.3 24.5,-7.3 24.6,-6.3 24.6,-5.5 24.5,-4.7 24.6,-3.4 24.5,-1.6 24.6,-0.3 24.6,0.2 24.5,0.5 24.6,1.3 24.5,2.6 24.6,5 10.7,3.6 10.8,5.1 10.7,7.3 10.8,10 10.7,12.7 10.8,15.1 10.7,16.6 10.8,17.5 10.7,17.7 10.7,17.2 10.8,16 10.7,13.7 10.8,10.7 10.7,7.6 10.8,5 10.7,3.2 10.8,1.9 19.9,1.8" stroke="#b4ecd0" stroke-opacity="0.81" stroke-width="3.0"/>
<path d="M389.6,1934.2l36.8,0 36.8,-0.1 33.8,-0.5 24.6,-2.1 24.5,-3.7 24.6,-4.1 24.5,-4 24.6,-3 24.6,-1.6 24.5,-0.9 24.6,-0.7 24.5,-0.7 24.6,-1.4 24.6,-3.1 24.5,-5.8 12.3,-4.3 15.4,-9.7 15.3,-11.2 15.3,-11.8 15.4,-12 15.4,-9.4 15.3,-8.1 15.3,-6.1 15.4,-4.4 15.4,-3.3 15.3,-0.4 15.3,2.3 15.4,3.5 15.4,3.7 15.3,4.6 15.3,4.7 15.4,3.5 15.3,2.8 15.4,2.5 15.3,2.2 15.4,2 30.7,3.3 30.7,3.2 30.7,3.6 30.7,4.5 30.7,8 30.7,9.7 30.7,8.6 9.2,1.6 9.2,0.8 9.2,-2.3 9.2,-3.6 9.2,-4.6 9.3,-7.3 9.2,-15.5 9.2,-24.6 9.2,-29.5 9.2,-40.5 15.4,-62.3 15.3,-58.6 15.3,-69.6 15.4,-83.4 15.4,-94.6 15.3,-92.7 15.3,-79.4 15.4,-70.2 15.3,-69.9 10.8,-51.7 10.7,-40.7 10.8,-31.5 10.7,-22.5 10.8,-15.9 10.7,-12.2 10.8,-9.7 10.7,-8 10.8,-6.9 10.7,-6.1 10.7,-5.5 10.8,-5 10.7,-4.6 10.8,-4.4 10.7,-4 7.7,-2.8 24.6,-8.2 24.5,-7.4 24.6,-6.6 24.5,-5.5 24.6,-4.8 24.6,-4 24.5,-3.4 24.6,-2.2 24.5,-0.8 24.6,0.4 24.6,0.9 24.5,1.5 24.6,2.6 24.5,5 24.6,8.9 10.7,6 10.8,7.9 10.7,10.7 10.8,13.9 10.7,17.1 10.8,19.7 10.7,21.3 10.8,21.9 10.7,21.5 10.7,20.7 10.8,18.7 10.7,15.7 10.8,11.9 10.7,8.3 10.8,5.3 10.7,3.3 10.8,2 19.9,1.7" stroke="#3aa47e" stroke-opacity="0.82" stroke-width="3.0"/>
<path d="M389.6,1927.9l36.8,0 36.8,0 33.8,-0.6 24.6,-2 24.5,-3.7 24.6,-4.1 24.5,-4 24.6,-2.9 24.6,-1.6 24.5,-0.9 24.6,-0.6 24.5,-0.8 24.6,-1.4 24.6,-3.3 24.5,-6.1 12.3,-4.7 15.4,-10.7 15.3,-12.3 15.3,-12.6 15.4,-12.6 15.4,-9.8 15.3,-8.4 15.3,-6.1 15.4,-4.4 15.4,-3.2 15.3,-0.4 15.3,2.4 15.4,3.6 15.4,3.7 15.3,4.7 15.3,4.7 15.4,3.4 15.3,2.8 15.4,2.5 15.3,2.2 15.4,2 30.7,3.2 30.7,3 30.7,3.5 30.7,4.3 30.7,8.4 30.7,10.4 30.7,8.9 9.2,1.9 9.2,1.1 9.2,-2.1 9.2,-3.2 9.2,-3.7 9.3,-5.2 9.2,-10.8 9.2,-15.6 9.2,-18.3 9.2,-32 15.4,-49 15.3,-46.3 15.3,-63.2 15.4,-84 15.4,-86.6 15.3,-84 15.3,-67.5 15.4,-58.8 15.3,-59.7 10.8,-43.6 10.7,-32.4 10.8,-24.8 10.7,-18.5 10.8,-13.8 10.7,-11 10.8,-9.2 10.7,-7.9 10.8,-7 10.7,-6.4 10.7,-5.8 10.8,-5.5 10.7,-5.1 10.8,-4.9 10.7,-4.6 7.7,-3.1 24.6,-9.3 24.5,-8.6 24.6,-7.6 24.5,-6.7 24.6,-5.8 24.6,-5 24.5,-4.3 24.6,-3 24.5,-1.3 24.6,-0.1 24.6,0.4 24.5,0.8 24.6,1.7 24.5,3.4 24.6,6.1 10.7,4.3 10.8,5.9 10.7,8.3 10.8,11.1 10.7,14 10.8,16.3 10.7,18 10.8,18.7 10.7,18.7 10.7,18.1 10.8,16.7 10.7,14.2 10.8,11 10.7,7.8 10.8,5 10.7,3.2 10.8,1.9 19.9,1.8" stroke="#b4ecd0" stroke-opacity="0.89" stroke-width="3.0"/>
<path d="M389.6,1947.3l36.8,0 36.8,0 33.8,-0.6 24.6,-2 24.5,-3.7 24.6,-4.1 24.5,-4 24.6,-3 24.6,-1.6 24.5,-0.9 24.6,-0.6 24.5,-0.8 24.6,-1.3 24.6,-2.8 24.5,-4.9 12.3,-3.5 15.4,-7.6 15.3,-8.9 15.3,-10 15.4,-10.4 15.4,-8.5 15.3,-7.7 15.3,-5.7 15.4,-4.4 15.4,-3.3 15.3,-0.4 15.3,2.1 15.4,3.2 15.4,3.4 15.3,4.5 15.3,4.6 15.4,3.5 15.3,2.7 15.4,2.5 15.3,2.2 15.4,2 30.7,3.4 30.7,3.4 30.7,3.9 30.7,4.8 30.7,6.9 30.7,8.3 30.7,7.9 9.2,0.9 9.2,0.3 9.2,-2.3 9.2,-3.4 9.2,-4.3 9.3,-7.2 9.2,-14.9 9.2,-25.2 9.2,-32.4 9.2,-43.5 15.4,-62.5 15.3,-56.3 15.3,-68 15.4,-83.5 15.4,-92 15.3,-89.8 15.3,-75.8 15.4,-66.7 15.3,-66.8 10.8,-49.2 10.7,-38.1 10.8,-29.5 10.7,-21.3 10.8,-15.2 10.7,-11.9 10.8,-9.5 10.7,-7.9 10.8,-6.9 10.7,-6.2 10.7,-5.6 10.8,-5.1 10.7,-4.8 10.8,-4.4 10.7,-4.2 7.7,-2.9 24.6,-8.5 24.5,-7.7 24.6,-6.8 24.5,-5.9 24.6,-5.1 24.6,-4.3 24.5,-3.6 24.6,-2.4 24.5,-0.9 24.6,0.2 24.6,0.8 24.5,1.3 24.6,2.3 24.5,4.5 24.6,8.1 10.7,5.5 10.8,7.3 10.7,10 10.8,13 10.7,16.2 10.8,18.6 10.7,20.3 10.8,20.9 10.7,20.6 10.7,19.9 10.8,18 10.7,15.3 10.8,11.6 10.7,8.2 10.8,5.2 10.7,3.2 10.8,2 19.9,1.7" stroke="#b4ecd0" stroke-opacity="0.74" stroke-width="3.0"/>
<path d="M389.6,1940.5l36.8,0 36.8,0 33.8,-0.5 24.6,-2.1 24.5,-3.7 24.6,-4.2 24.5,-4 24.6,-3 24.6,-1.7 24.5,-0.9 24.6,-0.6 24.5,-0.8 24.6,-1.3 24.6,-3 24.5,-5.4 12.3,-3.9 15.4,-8.7 15.3,-10.1 15.3,-10.9 15.4,-11.3 15.4,-9 15.3,-8 15.3,-5.9 15.4,-4.5 15.4,-3.3 15.3,-0.4 15.3,2.2 15.4,3.3 15.4,3.6 15.3,4.7 15.3,4.6 15.4,3.5 15.3,2.9 15.4,2.5 15.3,2.2 15.4,2 30.7,3.4 30.7,3.3 30.7,3.8 30.7,4.7 30.7,7.5 30.7,9.1 30.7,8.3 9.2,1.2 9.2,0.5 9.2,-2.4 9.2,-3.7 9.2,-4.9 9.3,-8.4 9.2,-17.6 9.2,-29.3 9.2,-35.8 9.2,-45.7 15.4,-69 15.3,-64.2 15.3,-72.6 15.4,-83.5 15.4,-98.1 15.3,-96.5 15.3,-84.6 15.4,-75 15.3,-74.3 10.8,-55.2 10.7,-44 10.8,-34.3 10.7,-24.2 10.8,-16.9 10.7,-12.7 10.8,-9.9 10.7,-8.2 10.8,-6.8 10.7,-6.1 10.7,-5.3 10.8,-4.9 10.7,-4.4 10.8,-4.1 10.7,-3.9 7.7,-2.6 24.6,-7.8 24.5,-7 24.6,-6.1 24.5,-5.1 24.6,-4.4 24.6,-3.7 24.5,-3 24.6,-1.9 24.5,-0.6 24.6,0.5 24.6,1.2 24.5,1.8 24.6,3 24.5,5.7 24.6,10 10.7,6.7 10.8,8.7 10.7,11.8 10.8,14.9 10.7,18.5 10.8,21.1 10.7,22.8 10.8,23.2 10.7,22.7 10.7,21.7 10.8,19.6 10.7,16.5 10.8,12.3 10.7,8.6 10.8,5.4 10.7,3.3 10.8,2 19.9,1.8" stroke="#74cca2" stroke-opacity="0.76" stroke-width="3.0"/>
<path d="M389.6,1959.7l36.8,0 36.8,0 33.8,-0.6 24.6,-2 24.5,-3.7 24.6,-4.1 24.5,-4 24.6,-2.9 24.6,-1.7 24.5,-0.9 24.6,-0.6 24.5,-0.8 24.6,-1.3 24.6,-2.4 24.5,-4.1 12.3,-2.8 15.4,-5.5 15.3,-6.8 15.3,-8.3 15.4,-9 15.4,-7.7 15.3,-7.1 15.3,-5.6 15.4,-4.3 15.4,-3.3 15.3,-0.5 15.3,1.9 15.4,2.9 15.4,3.3 15.3,4.4 15.3,4.5 15.4,3.4 15.3,2.8 15.4,2.4 15.3,2.2 15.4,2.1 30.7,3.5 30.7,3.5 30.7,4.3 30.7,5 30.7,5.9 30.7,6.9 30.7,7.4 9.2,0.2 9.2,-0.2 9.2,-2.6 9.2,-3.7 9.2,-5.1 9.3,-9.5 9.2,-20.1 9.2,-35.6 9.2,-46.1 9.2,-54 15.4,-77.3 15.3,-69.2 15.3,-74.3 15.4,-82 15.4,-99.4 15.3,-98.2 15.3,-87.6 15.4,-78 15.3,-76.8 10.8,-57.2 10.7,-46.4 10.8,-36.1 10.7,-25.3 10.8,-17.4 10.7,-12.9 10.8,-10 10.7,-8 10.8,-6.8 10.7,-5.8 10.7,-5.1 10.8,-4.6 10.7,-4.2 10.8,-3.8 10.7,-3.6 7.7,-2.4 24.6,-7.3 24.5,-6.5 24.6,-5.6 24.5,-4.6 24.6,-3.9 24.6,-3.3 24.5,-2.6 24.6,-1.6 24.5,-0.4 24.6,0.7 24.6,1.3 24.5,2 24.6,3.4 24.5,6.2 24.6,10.8 10.7,7.2 10.8,9.4 10.7,12.4 10.8,15.8 10.7,19.3 10.8,22 10.7,23.6 10.8,23.9 10.7,23.5 10.7,22.3 10.8,20 10.7,16.7 10.8,12.5 10.7,8.6 10.8,5.4 10.7,3.4 10.8,1.9 19.9,1.8" stroke="url(#go)" stroke-opacity="0.90" stroke-width="2.6"/>
<path d="M389.6,1953.7l36.8,0 36.8,0 33.8,-0.5 24.6,-2.1 24.5,-3.7 24.6,-4.2 24.5,-4 24.6,-3 24.6,-1.7 24.5,-0.9 24.6,-0.6 24.5,-0.8 24.6,-1.3 24.6,-2.6 24.5,-4.5 12.3,-3.1 15.4,-6.6 15.3,-7.8 15.3,-9.1 15.4,-9.8 15.4,-8.1 15.3,-7.5 15.3,-5.7 15.4,-4.4 15.4,-3.3 15.3,-0.4 15.3,2 15.4,3 15.4,3.4 15.3,4.5 15.3,4.6 15.4,3.5 15.3,2.8 15.4,2.4 15.3,2.3 15.4,2.1 30.7,3.5 30.7,3.4 30.7,4.2 30.7,4.9 30.7,6.5 30.7,7.6 30.7,7.7 9.2,0.5 9.2,0.2 9.2,-2.3 9.2,-3.1 9.2,-3.7 9.3,-6 9.2,-12.3 9.2,-21.2 9.2,-29.3 9.2,-42.1 15.4,-56.6 15.3,-48.9 15.3,-64.5 15.4,-85.3 15.4,-87.4 15.3,-84.5 15.3,-67.7 15.4,-58.8 15.3,-59.9 10.8,-43.7 10.7,-32.4 10.8,-24.8 10.7,-18.4 10.8,-13.8 10.7,-11.2 10.8,-9.2 10.7,-8 10.8,-7.1 10.7,-6.5 10.7,-5.9 10.8,-5.6 10.7,-5.2 10.8,-5 10.7,-4.7 7.7,-3.2 24.6,-9.5 24.5,-8.7 24.6,-7.8 24.5,-6.9 24.6,-5.9 24.6,-5.1 24.5,-4.4 24.6,-3.1 24.5,-1.3 24.6,-0.2 24.6,0.4 24.5,0.8 24.6,1.6 24.5,3.3 24.6,6.1 10.7,4.2 10.8,5.9 10.7,8.3 10.8,11.1 10.7,14 10.8,16.3 10.7,18 10.8,18.7 10.7,18.8 10.7,18.3 10.8,16.7 10.7,14.3 10.8,11.1 10.7,7.8 10.8,5.1 10.7,3.3 10.8,1.9 19.9,1.8" stroke="url(#go)" stroke-opacity="0.90" stroke-width="2.6"/>
<path d="M389.6,1944.6l36.8,0 36.8,0 33.8,-0.5 24.6,-2.1 24.5,-3.6 24.6,-4.1 24.5,-4 24.6,-2.9 24.6,-1.7 24.5,-0.8 24.6,-0.7 24.5,-0.8 24.6,-1.3 24.6,-2.8 24.5,-5.1 12.3,-3.6 15.4,-8.1 15.3,-9.3 15.3,-10.4 15.4,-10.7 15.4,-8.6 15.3,-7.7 15.3,-5.8 15.4,-4.4 15.4,-3.2 15.3,-0.5 15.3,2.2 15.4,3.2 15.4,3.5 15.3,4.5 15.3,4.6 15.4,3.4 15.3,2.8 15.4,2.4 15.3,2.2 15.4,2 30.7,3.4 30.7,3.2 30.7,3.9 30.7,4.6 30.7,7.2 30.7,8.5 30.7,8.1 9.2,1 9.2,0.5 9.2,-2.2 9.2,-3.1 9.2,-3.7 9.3,-5.8 9.2,-11.8 9.2,-19.3 9.2,-25.4 9.2,-38.2 15.4,-53.9 15.3,-48 15.3,-63.6 15.4,-83.8 15.4,-86.5 15.3,-83.9 15.3,-67.5 15.4,-58.8 15.3,-59.7 10.8,-43.7 10.7,-32.5 10.8,-24.9 10.7,-18.4 10.8,-13.8 10.7,-11.1 10.8,-9.1 10.7,-7.8 10.8,-7 10.7,-6.4 10.7,-5.8 10.8,-5.5 10.7,-5.1 10.8,-4.8 10.7,-4.5 7.7,-3.2 24.6,-9.3 24.5,-8.4 24.6,-7.6 24.5,-6.7 24.6,-5.7 24.6,-5 24.5,-4.2 24.6,-3 24.5,-1.3 24.6,-0.1 24.6,0.5 24.5,0.8 24.6,1.7 24.5,3.4 24.6,6.1 10.7,4.3 10.8,6 10.7,8.3 10.8,11.1 10.7,14 10.8,16.4 10.7,18 10.8,18.6 10.7,18.7 10.7,18.2 10.8,16.6 10.7,14.2 10.8,11 10.7,7.7 10.8,5.1 10.7,3.2 10.8,1.9 19.9,1.7" stroke="url(#gb)" stroke-opacity="0.85" stroke-width="2.6"/>
<path d="M389.6,1943.1l36.8,0 36.8,0 33.8,-0.5 24.6,-2.1 24.5,-3.7 24.6,-4.1 24.5,-4 24.6,-2.9 24.6,-1.7 24.5,-0.8 24.6,-0.7 24.5,-0.8 24.6,-1.3 24.6,-2.9 24.5,-5.1 12.3,-3.8 15.4,-8.2 15.3,-9.7 15.3,-10.5 15.4,-10.9 15.4,-8.8 15.3,-7.8 15.3,-5.8 15.4,-4.5 15.4,-3.2 15.3,-0.4 15.3,2.1 15.4,3.3 15.4,3.5 15.3,4.6 15.3,4.6 15.4,3.4 15.3,2.8 15.4,2.5 15.3,2.2 15.4,2 30.7,3.4 30.7,3.2 30.7,3.9 30.7,4.6 30.7,7.3 30.7,8.7 30.7,8.1 9.2,1.1 9.2,0.5 9.2,-2.2 9.2,-3.3 9.2,-4 9.3,-6.4 9.2,-13.3 9.2,-21.8 9.2,-27.9 9.2,-39.9 15.4,-57.6 15.3,-52.2 15.3,-65.9 15.4,-83.7 15.4,-89.5 15.3,-87.1 15.3,-72 15.4,-62.9 15.3,-63.5 10.8,-46.6 10.7,-35.5 10.8,-27.3 10.7,-19.9 10.8,-14.6 10.7,-11.5 10.8,-9.3 10.7,-7.9 10.8,-7 10.7,-6.3 10.7,-5.7 10.8,-5.3 10.7,-4.9 10.8,-4.6 10.7,-4.4 7.7,-3 24.6,-8.9 24.5,-8.1 24.6,-7.2 24.5,-6.3 24.6,-5.4 24.6,-4.6 24.5,-3.9 24.6,-2.7 24.5,-1.1 24.6,0 24.6,0.6 24.5,1.1 24.6,2 24.5,4 24.6,7.2 10.7,4.9 10.8,6.7 10.7,9.2 10.8,12.1 10.7,15.1 10.8,17.6 10.7,19.2 10.8,19.8 10.7,19.8 10.7,19 10.8,17.5 10.7,14.7 10.8,11.3 10.7,8 10.8,5.2 10.7,3.2 10.8,1.9 19.9,1.7" stroke="url(#go)" stroke-opacity="0.90" stroke-width="2.6"/>
<path d="M389.6,1919.5l36.8,0 36.8,0 33.8,-0.6 24.6,-2.1 24.5,-3.7 24.6,-4.1 24.5,-4 24.6,-3 24.6,-1.6 24.5,-0.9 24.6,-0.6 24.5,-0.8 24.6,-1.4 24.6,-3.5 24.5,-6.8 12.3,-5.1 15.4,-12.1 15.3,-13.8 15.3,-13.8 15.4,-13.6 15.4,-10.3 15.3,-8.8 15.3,-6.3 15.4,-4.5 15.4,-3.2 15.3,-0.4 15.3,2.6 15.4,3.7 15.4,3.9 15.3,4.8 15.3,4.8 15.4,3.5 15.3,2.8 15.4,2.5 15.3,2.2 15.4,2 30.7,3.2 30.7,2.9 30.7,3.3 30.7,4.2 30.7,9.1 30.7,11.3 30.7,9.4 9.2,2.3 9.2,1.4 9.2,-2 9.2,-3.4 9.2,-3.8 9.3,-5.2 9.2,-10.9 9.2,-14.8 9.2,-16 9.2,-29.9 15.4,-48.5 15.3,-47.1 15.3,-64.1 15.4,-84.5 15.4,-88.2 15.3,-85.5 15.3,-69.3 15.4,-60.5 15.3,-61.2 10.8,-44.8 10.7,-33.7 10.8,-25.7 10.7,-19 10.8,-14.1 10.7,-11.3 10.8,-9.3 10.7,-7.9 10.8,-7.1 10.7,-6.4 10.7,-5.9 10.8,-5.4 10.7,-5.1 10.8,-4.9 10.7,-4.5 7.7,-3.1 24.6,-9.4 24.5,-8.4 24.6,-7.6 24.5,-6.6 24.6,-5.8 24.6,-4.9 24.5,-4.2 24.6,-2.9 24.5,-1.3 24.6,-0.1 24.6,0.5 24.5,0.9 24.6,1.8 24.5,3.6 24.6,6.5 10.7,4.5 10.8,6.1 10.7,8.7 10.8,11.4 10.7,14.5 10.8,16.8 10.7,18.5 10.8,19.1 10.7,19.2 10.7,18.5 10.8,17.1 10.7,14.5 10.8,11.1 10.7,7.9 10.8,5.1 10.7,3.3 10.8,1.9 19.9,1.7" stroke="url(#gb)" stroke-opacity="0.85" stroke-width="2.6"/>
<path d="M389.6,1953l36.8,0 36.8,0 33.8,-0.5 24.6,-2.1 24.5,-3.6 24.6,-4.1 24.5,-4 24.6,-2.9 24.6,-1.7 24.5,-0.8 24.6,-0.7 24.5,-0.8 24.6,-1.2 24.6,-2.6 24.5,-4.5 12.3,-3.2 15.4,-6.7 15.3,-7.9 15.3,-9.2 15.4,-9.7 15.4,-8.1 15.3,-7.4 15.3,-5.6 15.4,-4.4 15.4,-3.2 15.3,-0.4 15.3,1.9 15.4,3.1 15.4,3.3 15.3,4.5 15.3,4.5 15.4,3.4 15.3,2.7 15.4,2.5 15.3,2.2 15.4,2 30.7,3.4 30.7,3.4 30.7,4.1 30.7,4.8 30.7,6.4 30.7,7.7 30.7,7.6 9.2,0.5 9.2,0.1 9.2,-2.5 9.2,-3.7 9.2,-5.3 9.3,-9.4 9.2,-20 9.2,-34.8 9.2,-43.8 9.2,-51.8 15.4,-76.1 15.3,-69.4 15.3,-74.3 15.4,-81.2 15.4,-99.7 15.3,-98.6 15.3,-88.3 15.4,-78.8 15.3,-77.4 10.8,-57.9 10.7,-46.9 10.8,-36.7 10.7,-25.6 10.8,-17.5 10.7,-13 10.8,-10 10.7,-8 10.8,-6.7 10.7,-5.7 10.7,-5 10.8,-4.5 10.7,-4.1 10.8,-3.8 10.7,-3.5 7.7,-2.4 24.6,-7 24.5,-6.3 24.6,-5.5 24.5,-4.4 24.6,-3.8 24.6,-3.1 24.5,-2.5 24.6,-1.5 24.5,-0.3 24.6,0.7 24.6,1.4 24.5,2 24.6,3.5 24.5,6.3 24.6,11.1 10.7,7.4 10.8,9.5 10.7,12.6 10.8,16 10.7,19.5 10.8,22.3 10.7,23.8 10.8,24.2 10.7,23.6 10.7,22.4 10.8,20.1 10.7,16.8 10.8,12.5 10.7,8.7 10.8,5.4 10.7,3.3 10.8,1.9 19.9,1.8" stroke="url(#gb)" stroke-opacity="0.85" stroke-width="2.6"/>
<path d="M389.6,1961.1l36.8,0 36.8,0 33.8,-0.6 24.6,-2 24.5,-3.7 24.6,-4.1 24.5,-3.9 24.6,-3 24.6,-1.6 24.5,-0.9 24.6,-0.7 24.5,-0.8 24.6,-1.2 24.6,-2.4 24.5,-4 12.3,-2.7 15.4,-5.3 15.3,-6.5 15.3,-8.1 15.4,-8.9 15.4,-7.6 15.3,-7 15.3,-5.5 15.4,-4.3 15.4,-3.3 15.3,-0.5 15.3,1.9 15.4,2.9 15.4,3.2 15.3,4.4 15.3,4.5 15.4,3.4 15.3,2.7 15.4,2.4 15.3,2.2 15.4,2.1 30.7,3.5 30.7,3.5 30.7,4.3 30.7,5 30.7,5.8 30.7,6.8 30.7,7.2 9.2,0.2 9.2,-0.3 9.2,-2.5 9.2,-3.7 9.2,-5.2 9.3,-9.5 9.2,-20.1 9.2,-36 9.2,-46.6 9.2,-54.5 15.4,-77.5 15.3,-69.4 15.3,-74.2 15.4,-81.7 15.4,-99.2 15.3,-98 15.3,-87.5 15.4,-78 15.3,-76.7 10.8,-57.2 10.7,-46.4 10.8,-36.1 10.7,-25.4 10.8,-17.3 10.7,-12.9 10.8,-10 10.7,-8 10.8,-6.7 10.7,-5.8 10.7,-5.1 10.8,-4.5 10.7,-4.2 10.8,-3.8 10.7,-3.6 7.7,-2.4 24.6,-7.1 24.5,-6.5 24.6,-5.6 24.5,-4.5 24.6,-3.9 24.6,-3.3 24.5,-2.6 24.6,-1.5 24.5,-0.4 24.6,0.7 24.6,1.3 24.5,2 24.6,3.4 24.5,6.2 24.6,10.9 10.7,7.2 10.8,9.4 10.7,12.4 10.8,15.7 10.7,19.3 10.8,22 10.7,23.6 10.8,24 10.7,23.4 10.7,22.2 10.8,20 10.7,16.7 10.8,12.5 10.7,8.6 10.8,5.4 10.7,3.3 10.8,2 19.9,1.7" stroke="url(#gb)" stroke-opacity="0.85" stroke-width="2.6"/>
<path d="M389.6,1952.3l36.8,0 36.8,-0.1 33.8,-0.5 24.6,-2.1 24.5,-3.6 24.6,-4.2 24.5,-4 24.6,-2.9 24.6,-1.7 24.5,-0.8 24.6,-0.7 24.5,-0.8 24.6,-1.3 24.6,-2.6 24.5,-4.6 12.3,-3.2 15.4,-6.8 15.3,-8 15.3,-9.3 15.4,-9.9 15.4,-8.2 15.3,-7.4 15.3,-5.7 15.4,-4.4 15.4,-3.3 15.3,-0.4 15.3,2 15.4,3.1 15.4,3.3 15.3,4.5 15.3,4.6 15.4,3.4 15.3,2.8 15.4,2.4 15.3,2.2 15.4,2.1 30.7,3.5 30.7,3.3 30.7,4.1 30.7,4.9 30.7,6.5 30.7,7.7 30.7,7.7 9.2,0.7 9.2,0.1 9.2,-2.5 9.2,-3.5 9.2,-4.8 9.3,-8.4 9.2,-17.7 9.2,-30.5 9.2,-39.2 9.2,-48.7 15.4,-70.1 15.3,-63.3 15.3,-71.5 15.4,-82.7 15.4,-96.2 15.3,-94.5 15.3,-82.3 15.4,-73 15.3,-72.3 10.8,-53.7 10.7,-42.7 10.8,-33.2 10.7,-23.5 10.8,-16.4 10.7,-12.4 10.8,-9.8 10.7,-8 10.8,-6.8 10.7,-6.1 10.7,-5.3 10.8,-4.8 10.7,-4.4 10.8,-4.2 10.7,-3.8 7.7,-2.6 24.6,-7.9 24.5,-7 24.6,-6.2 24.5,-5.2 24.6,-4.4 24.6,-3.8 24.5,-3 24.6,-2 24.5,-0.6 24.6,0.5 24.6,1 24.5,1.7 24.6,2.9 24.5,5.5 24.6,9.6 10.7,6.4 10.8,8.5 10.7,11.3 10.8,14.5 10.7,17.9 10.8,20.5 10.7,22.2 10.8,22.6 10.7,22.2 10.7,21.2 10.8,19.1 10.7,16.1 10.8,12.1 10.7,8.4 10.8,5.4 10.7,3.3 10.8,1.9 19.9,1.8" stroke="url(#go)" stroke-opacity="0.90" stroke-width="2.6"/>
<path d="M389.6,1928.6l36.8,0 36.8,0 33.8,-0.5 24.6,-2.1 24.5,-3.6 24.6,-4.1 24.5,-4 24.6,-2.9 24.6,-1.7 24.5,-0.8 24.6,-0.7 24.5,-0.7 24.6,-1.4 24.6,-3.3 24.5,-6.1 12.3,-4.6 15.4,-10.6 15.3,-12.2 15.3,-12.5 15.4,-12.5 15.4,-9.7 15.3,-8.3 15.3,-6.1 15.4,-4.5 15.4,-3.2 15.3,-0.3 15.3,2.3 15.4,3.6 15.4,3.7 15.3,4.7 15.3,4.7 15.4,3.4 15.3,2.8 15.4,2.5 15.3,2.2 15.4,2 30.7,3.2 30.7,3 30.7,3.4 30.7,4.4 30.7,8.4 30.7,10.2 30.7,8.9 9.2,1.9 9.2,1 9.2,-2.1 9.2,-3.3 9.2,-3.9 9.3,-5.7 9.2,-11.7 9.2,-17.4 9.2,-20.5 9.2,-33.4 15.4,-51.7 15.3,-48.9 15.3,-64.4 15.4,-83.6 15.4,-88.1 15.3,-85.7 15.3,-70.1 15.4,-61.1 15.3,-61.9 10.8,-45.3 10.7,-34.2 10.8,-26.3 10.7,-19.3 10.8,-14.3 10.7,-11.2 10.8,-9.3 10.7,-7.9 10.8,-6.9 10.7,-6.3 10.7,-5.8 10.8,-5.3 10.7,-5 10.8,-4.7 10.7,-4.5 7.7,-3 24.6,-9.1 24.5,-8.2 24.6,-7.4 24.5,-6.4 24.6,-5.5 24.6,-4.8 24.5,-4 24.6,-2.8 24.5,-1.2 24.6,0 24.6,0.5 24.5,1 24.6,1.9 24.5,3.7 24.6,6.8 10.7,4.6 10.8,6.4 10.7,8.8 10.8,11.7 10.7,14.7 10.8,17 10.7,18.7 10.8,19.3 10.7,19.3 10.7,18.7 10.8,17.1 10.7,14.5 10.8,11.1 10.7,7.9 10.8,5.1 10.7,3.2 10.8,1.9 19.9,1.8" stroke="url(#go)" stroke-opacity="0.90" stroke-width="2.6"/>
<path d="M389.6,1953.7l36.8,0 36.8,0 33.8,-0.6 24.6,-2.1 24.5,-3.7 24.6,-4.2 24.5,-4 24.6,-3 24.6,-1.7 24.5,-0.9 24.6,-0.6 24.5,-0.8 24.6,-1.3 24.6,-2.6 24.5,-4.5 12.3,-3.2 15.4,-6.5 15.3,-7.8 15.3,-9.2 15.4,-9.8 15.4,-8.1 15.3,-7.5 15.3,-5.7 15.4,-4.4 15.4,-3.3 15.3,-0.5 15.3,2 15.4,3.1 15.4,3.4 15.3,4.5 15.3,4.6 15.4,3.5 15.3,2.8 15.4,2.5 15.3,2.2 15.4,2.1 30.7,3.5 30.7,3.5 30.7,4.2 30.7,4.9 30.7,6.4 30.7,7.7 30.7,7.7 9.2,0.5 9.2,0.1 9.2,-2.3 9.2,-3.2 9.2,-3.9 9.3,-6.5 9.2,-13.4 9.2,-23.1 9.2,-31.5 9.2,-43.7 15.4,-59.5 15.3,-51.8 15.3,-66.1 15.4,-85.2 15.4,-89.4 15.3,-86.7 15.3,-70.8 15.4,-61.7 15.3,-62.5 10.8,-45.8 10.7,-34.5 10.8,-26.4 10.7,-19.5 10.8,-14.4 10.7,-11.4 10.8,-9.4 10.7,-8 10.8,-7.1 10.7,-6.4 10.7,-5.9 10.8,-5.4 10.7,-5.1 10.8,-4.8 10.7,-4.6 7.7,-3.1 24.6,-9.2 24.5,-8.4 24.6,-7.6 24.5,-6.6 24.6,-5.6 24.6,-4.9 24.5,-4.1 24.6,-2.9 24.5,-1.3 24.6,0 24.6,0.5 24.5,1 24.6,1.9 24.5,3.7 24.6,6.8 10.7,4.6 10.8,6.4 10.7,8.9 10.8,11.8 10.7,14.8 10.8,17.2 10.7,18.9 10.8,19.5 10.7,19.5 10.7,18.9 10.8,17.2 10.7,14.8 10.8,11.2 10.7,8 10.8,5.2 10.7,3.3 10.8,1.9 19.9,1.8" stroke="url(#gb)" stroke-opacity="0.85" stroke-width="2.6"/>
<path d="M389.6,1962.6l36.8,0 36.8,0 33.8,-0.6 24.6,-2.1 24.5,-3.6 24.6,-4.2 24.5,-4 24.6,-3 24.6,-1.6 24.5,-0.9 24.6,-0.7 24.5,-0.8 24.6,-1.2 24.6,-2.4 24.5,-3.9 12.3,-2.6 15.4,-5.1 15.3,-6.3 15.3,-7.9 15.4,-8.7 15.4,-7.6 15.3,-7 15.3,-5.5 15.4,-4.4 15.4,-3.3 15.3,-0.5 15.3,1.9 15.4,2.8 15.4,3.3 15.3,4.4 15.3,4.5 15.4,3.4 15.3,2.8 15.4,2.4 15.3,2.3 15.4,2.1 30.7,3.5 30.7,3.6 30.7,4.4 30.7,5 30.7,5.8 30.7,6.6 30.7,7.2 9.2,0.1 9.2,-0.3 9.2,-2.5 9.2,-3.6 9.2,-5 9.3,-9.1 9.2,-19.1 9.2,-34.3 9.2,-45.2 9.2,-53.8 15.4,-75.3 15.3,-66.6 15.3,-73.1 15.4,-82.9 15.4,-97.9 15.3,-96.4 15.3,-84.6 15.4,-75.2 15.3,-74.4 10.8,-55.2 10.7,-44.3 10.8,-34.4 10.7,-24.3 10.8,-16.9 10.7,-12.6 10.8,-10 10.7,-8 10.8,-6.9 10.7,-5.9 10.7,-5.3 10.8,-4.8 10.7,-4.3 10.8,-4.1 10.7,-3.7 7.7,-2.6 24.6,-7.7 24.5,-6.8 24.6,-6.1 24.5,-5 24.6,-4.2 24.6,-3.6 24.5,-2.9 24.6,-1.9 24.5,-0.5 24.6,0.5 24.6,1.2 24.5,1.8 24.6,3.1 24.5,5.8 24.6,10.1 10.7,6.7 10.8,8.9 10.7,11.7 10.8,15.1 10.7,18.5 10.8,21.2 10.7,22.8 10.8,23.2 10.7,22.8 10.7,21.7 10.8,19.5 10.7,16.4 10.8,12.3 10.7,8.6 10.8,5.4 10.7,3.3 10.8,1.9 19.9,1.8" stroke="url(#gb)" stroke-opacity="0.85" stroke-width="2.6"/>
<path d="M389.6,1915l36.8,0 36.8,0 33.8,-0.6 24.6,-2.1 24.5,-3.7 24.6,-4.1 24.5,-4.1 24.6,-3 24.6,-1.6 24.5,-0.8 24.6,-0.7 24.5,-0.8 24.6,-1.4 24.6,-3.6 24.5,-7.1 12.3,-5.4 15.4,-12.8 15.3,-14.6 15.3,-14.4 15.4,-14.1 15.4,-10.7 15.3,-9 15.3,-6.4 15.4,-4.5 15.4,-3.2 15.3,-0.4 15.3,2.6 15.4,3.9 15.4,4 15.3,4.9 15.3,4.7 15.4,3.6 15.3,2.8 15.4,2.6 15.3,2.2 15.4,1.9 30.7,3.2 30.7,2.9 30.7,3.1 30.7,4.2 30.7,9.5 30.7,11.8 30.7,9.5 9.2,2.6 9.2,1.5 9.2,-2.2 9.2,-3.8 9.2,-4.6 9.3,-7.1 9.2,-14.9 9.2,-21.5 9.2,-22.6 9.2,-34.2 15.4,-58.5 15.3,-58.4 15.3,-70 15.4,-83.5 15.4,-95.8 15.3,-94 15.3,-81.2 15.4,-71.8 15.3,-71.4 10.8,-52.9 10.7,-41.8 10.8,-32.4 10.7,-23 10.8,-16.3 10.7,-12.4 10.8,-9.8 10.7,-8 10.8,-7 10.7,-6.1 10.7,-5.4 10.8,-5 10.7,-4.6 10.8,-4.2 10.7,-4 7.7,-2.7 24.6,-8.1 24.5,-7.4 24.6,-6.4 24.5,-5.4 24.6,-4.7 24.6,-3.9 24.5,-3.3 24.6,-2.1 24.5,-0.7 24.6,0.3 24.6,1.1 24.5,1.5 24.6,2.8 24.5,5.2 24.6,9.3 10.7,6.2 10.8,8.2 10.7,11 10.8,14.2 10.7,17.6 10.8,20.2 10.7,21.8 10.8,22.3 10.7,22 10.7,21 10.8,19 10.7,16 10.8,12 10.7,8.5 10.8,5.3 10.7,3.3 10.8,2 19.9,1.8" stroke="url(#go)" stroke-opacity="0.90" stroke-width="2.6"/>
<path d="M389.6,1918.8l36.8,0 36.8,0 33.8,-0.5 24.6,-2.1 24.5,-3.7 24.6,-4.2 24.5,-4.1 24.6,-3 24.6,-1.6 24.5,-0.9 24.6,-0.6 24.5,-0.8 24.6,-1.4 24.6,-3.6 24.5,-6.8 12.3,-5.2 15.4,-12.2 15.3,-13.9 15.3,-13.9 15.4,-13.7 15.4,-10.4 15.3,-8.9 15.3,-6.3 15.4,-4.5 15.4,-3.3 15.3,-0.4 15.3,2.6 15.4,3.8 15.4,3.9 15.3,4.9 15.3,4.8 15.4,3.5 15.3,2.9 15.4,2.5 15.3,2.2 15.4,2 30.7,3.2 30.7,3 30.7,3.2 30.7,4.3 30.7,9.2 30.7,11.4 30.7,9.4 9.2,2.4 9.2,1.4 9.2,-2 9.2,-3.4 9.2,-3.8 9.3,-5.1 9.2,-10.6 9.2,-14.2 9.2,-15.4 9.2,-29.6 15.4,-47.8 15.3,-46.6 15.3,-64.1 15.4,-85.3 15.4,-88.2 15.3,-85.4 15.3,-68.9 15.4,-60 15.3,-60.9 10.8,-44.4 10.7,-33.2 10.8,-25.4 10.7,-18.8 10.8,-14 10.7,-11.3 10.8,-9.3 10.7,-8 10.8,-7.1 10.7,-6.5 10.7,-6 10.8,-5.5 10.7,-5.2 10.8,-5 10.7,-4.6 7.7,-3.2 24.6,-9.5 24.5,-8.6 24.6,-7.8 24.5,-6.8 24.6,-5.9 24.6,-5 24.5,-4.3 24.6,-3.1 24.5,-1.3 24.6,-0.1 24.6,0.5 24.5,0.8 24.6,1.7 24.5,3.5 24.6,6.3 10.7,4.4 10.8,6 10.7,8.5 10.8,11.3 10.7,14.3 10.8,16.7 10.7,18.3 10.8,19 10.7,19.1 10.7,18.5 10.8,17 10.7,14.5 10.8,11.1 10.7,8 10.8,5.1 10.7,3.2 10.8,2 19.9,1.8" stroke="url(#gb)" stroke-opacity="0.85" stroke-width="2.6"/>
<path d="M389.6,1920.8l36.8,0 36.8,0 33.8,-0.5 24.6,-2.1 24.5,-3.7 24.6,-4.1 24.5,-4 24.6,-2.9 24.6,-1.7 24.5,-0.8 24.6,-0.6 24.5,-0.8 24.6,-1.4 24.6,-3.5 24.5,-6.7 12.3,-5 15.4,-11.9 15.3,-13.5 15.3,-13.6 15.4,-13.4 15.4,-10.2 15.3,-8.7 15.3,-6.3 15.4,-4.4 15.4,-3.3 15.3,-0.3 15.3,2.5 15.4,3.8 15.4,3.8 15.3,4.8 15.3,4.7 15.4,3.5 15.3,2.8 15.4,2.5 15.3,2.2 15.4,1.9 30.7,3.2 30.7,2.9 30.7,3.3 30.7,4.2 30.7,9 30.7,11.1 30.7,9.3 9.2,2.3 9.2,1.4 9.2,-1.9 9.2,-3.2 9.2,-3.1 9.3,-3.9 9.2,-7.7 9.2,-9.4 9.2,-10.3 9.2,-25.8 15.4,-40.4 15.3,-38.6 15.3,-59.5 15.4,-85 15.4,-82.2 15.3,-79 15.3,-60.6 15.4,-52 15.3,-53.7 10.8,-38.8 10.7,-27.6 10.8,-20.8 10.7,-16 10.8,-12.5 10.7,-10.5 10.8,-8.8 10.7,-7.9 10.8,-7.1 10.7,-6.6 10.7,-6.1 10.8,-5.8 10.7,-5.5 10.8,-5.2 10.7,-5 7.7,-3.4 24.6,-10.1 24.5,-9.3 24.6,-8.4 24.5,-7.5 24.6,-6.5 24.6,-5.6 24.5,-4.8 24.6,-3.6 24.5,-1.6 24.6,-0.4 24.6,0.1 24.5,0.4 24.6,1.1 24.5,2.3 24.6,4.5 10.7,3.2 10.8,4.7 10.7,6.9 10.8,9.4 10.7,12.1 10.8,14.4 10.7,16 10.8,16.8 10.7,17 10.7,16.8 10.8,15.5 10.7,13.3 10.8,10.5 10.7,7.5 10.8,4.9 10.7,3.1 10.8,2 19.9,1.7" stroke="url(#go)" stroke-opacity="0.90" stroke-width="2.6"/>
<path d="M389.6,1937.6l36.8,0 36.8,0 33.8,-0.5 24.6,-2.1 24.5,-3.7 24.6,-4.1 24.5,-4 24.6,-2.9 24.6,-1.7 24.5,-0.8 24.6,-0.7 24.5,-0.7 24.6,-1.4 24.6,-3 24.5,-5.6 12.3,-4 15.4,-9.2 15.3,-10.6 15.3,-11.3 15.4,-11.5 15.4,-9.1 15.3,-8.1 15.3,-5.9 15.4,-4.4 15.4,-3.3 15.3,-0.4 15.3,2.3 15.4,3.4 15.4,3.6 15.3,4.6 15.3,4.6 15.4,3.5 15.3,2.8 15.4,2.4 15.3,2.2 15.4,2 30.7,3.4 30.7,3.1 30.7,3.7 30.7,4.6 30.7,7.7 30.7,9.3 30.7,8.4 9.2,1.4 9.2,0.8 9.2,-2.1 9.2,-3.1 9.2,-3.3 9.3,-4.8 9.2,-9.8 9.2,-14.7 9.2,-19.3 9.2,-33.5 15.4,-47.7 15.3,-42.8 15.3,-61.4 15.4,-84.8 15.4,-83.9 15.3,-80.9 15.3,-63.2 15.4,-54.5 15.3,-56 10.8,-40.5 10.7,-29.5 10.8,-22.3 10.7,-16.9 10.8,-13 10.7,-10.6 10.8,-9 10.7,-7.9 10.8,-7.1 10.7,-6.5 10.7,-6 10.8,-5.7 10.7,-5.4 10.8,-5.1 10.7,-4.8 7.7,-3.3 24.6,-9.9 24.5,-8.9 24.6,-8.2 24.5,-7.2 24.6,-6.2 24.6,-5.4 24.5,-4.7 24.6,-3.3 24.5,-1.5 24.6,-0.3 24.6,0.2 24.5,0.6 24.6,1.3 24.5,2.7 24.6,5.1 10.7,3.6 10.8,5.2 10.7,7.4 10.8,10 10.7,12.8 10.8,15.1 10.7,16.7 10.8,17.5 10.7,17.7 10.7,17.3 10.8,15.9 10.7,13.7 10.8,10.6 10.7,7.6 10.8,5 10.7,3.2 10.8,1.9 19.9,1.7" stroke="url(#gb)" stroke-opacity="0.85" stroke-width="2.6"/>
<path d="M389.6,1926.6l36.8,0 36.8,-0.1 33.8,-0.5 24.6,-2.1 24.5,-3.6 24.6,-4.1 24.5,-4 24.6,-2.9 24.6,-1.7 24.5,-0.8 24.6,-0.6 24.5,-0.8 24.6,-1.4 24.6,-3.3 24.5,-6.3 12.3,-4.7 15.4,-11 15.3,-12.5 15.3,-12.8 15.4,-12.7 15.4,-9.9 15.3,-8.4 15.3,-6.1 15.4,-4.5 15.4,-3.2 15.3,-0.4 15.3,2.4 15.4,3.7 15.4,3.7 15.3,4.7 15.3,4.7 15.4,3.5 15.3,2.8 15.4,2.4 15.3,2.2 15.4,2 30.7,3.2 30.7,3 30.7,3.4 30.7,4.3 30.7,8.6 30.7,10.5 30.7,8.9 9.2,1.9 9.2,1.1 9.2,-2.3 9.2,-3.7 9.2,-4.8 9.3,-7.8 9.2,-16.4 9.2,-25.4 9.2,-28.8 9.2,-39.2 15.4,-63.4 15.3,-61.6 15.3,-70.8 15.4,-82.1 15.4,-96.5 15.3,-94.8 15.3,-83 15.4,-73.7 15.3,-72.9 10.8,-54.1 10.7,-43.2 10.8,-33.6 10.7,-23.8 10.8,-16.5 10.7,-12.5 10.8,-9.8 10.7,-8 10.8,-6.8 10.7,-5.9 10.7,-5.3 10.8,-4.8 10.7,-4.3 10.8,-4.1 10.7,-3.8 7.7,-2.6 24.6,-7.7 24.5,-6.9 24.6,-6.1 24.5,-5.1 24.6,-4.3 24.6,-3.6 24.5,-3 24.6,-1.9 24.5,-0.6 24.6,0.5 24.6,1.1 24.5,1.8 24.6,3 24.5,5.5 24.6,9.8 10.7,6.5 10.8,8.6 10.7,11.5 10.8,14.7 10.7,18.1 10.8,20.7 10.7,22.4 10.8,22.7 10.7,22.4 10.7,21.3 10.8,19.3 10.7,16.1 10.8,12.2 10.7,8.4 10.8,5.3 10.7,3.3 10.8,1.9 19.9,1.8" stroke="#ffb84d" stroke-opacity="0.90" stroke-width="2.6"/>
<path d="M389.6,1928.3l36.8,0 36.8,0 33.8,-0.5 24.6,-2.1 24.5,-3.6 24.6,-4.1 24.5,-4 24.6,-3 24.6,-1.6 24.5,-0.8 24.6,-0.7 24.5,-0.7 24.6,-1.4 24.6,-3.3 24.5,-6.1 12.3,-4.7 15.4,-10.6 15.3,-12.2 15.3,-12.6 15.4,-12.5 15.4,-9.8 15.3,-8.3 15.3,-6.1 15.4,-4.5 15.4,-3.2 15.3,-0.3 15.3,2.3 15.4,3.6 15.4,3.7 15.3,4.7 15.3,4.7 15.4,3.5 15.3,2.8 15.4,2.4 15.3,2.2 15.4,2 30.7,3.2 30.7,3.1 30.7,3.4 30.7,4.3 30.7,8.4 30.7,10.3 30.7,8.9 9.2,1.9 9.2,1.1 9.2,-2.1 9.2,-3.3 9.2,-3.7 9.3,-5.4 9.2,-11.2 9.2,-16.2 9.2,-19.1 9.2,-32.5 15.4,-50 15.3,-47.2 15.3,-63.6 15.4,-83.8 15.4,-87.1 15.3,-84.5 15.3,-68.4 15.4,-59.5 15.3,-60.4 10.8,-44.2 10.7,-33.1 10.8,-25.3 10.7,-18.7 10.8,-14 10.7,-11.1 10.8,-9.2 10.7,-7.8 10.8,-7 10.7,-6.4 10.7,-5.8 10.8,-5.4 10.7,-5.1 10.8,-4.8 10.7,-4.5 7.7,-3.1 24.6,-9.3 24.5,-8.4 24.6,-7.5 24.5,-6.7 24.6,-5.7 24.6,-4.9 24.5,-4.1 24.6,-3 24.5,-1.2 24.6,-0.1 24.6,0.4 24.5,0.9 24.6,1.8 24.5,3.4 24.6,6.4 10.7,4.4 10.8,6.1 10.7,8.5 10.8,11.2 10.7,14.3 10.8,16.6 10.7,18.2 10.8,18.8 10.7,18.9 10.7,18.4 10.8,16.8 10.7,14.3 10.8,11 10.7,7.8 10.8,5.1 10.7,3.2 10.8,1.9 19.9,1.7" stroke="url(#gb)" stroke-opacity="0.85" stroke-width="2.6"/>
<path d="M389.6,1950l36.8,0 36.8,0 33.8,-0.6 24.6,-2.1 24.5,-3.6 24.6,-4.1 24.5,-4 24.6,-3 24.6,-1.6 24.5,-0.9 24.6,-0.7 24.5,-0.8 24.6,-1.2 24.6,-2.8 24.5,-4.7 12.3,-3.3 15.4,-7.2 15.3,-8.4 15.3,-9.6 15.4,-10.2 15.4,-8.3 15.3,-7.6 15.3,-5.7 15.4,-4.4 15.4,-3.2 15.3,-0.5 15.3,2.1 15.4,3.1 15.4,3.4 15.3,4.5 15.3,4.6 15.4,3.4 15.3,2.8 15.4,2.5 15.3,2.2 15.4,2 30.7,3.5 30.7,3.3 30.7,4.1 30.7,4.7 30.7,6.8 30.7,7.9 30.7,7.8 9.2,0.7 9.2,0.2 9.2,-2.5 9.2,-3.8 9.2,-5.3 9.3,-9.5 9.2,-20.1 9.2,-34.6 9.2,-43.2 9.2,-51.4 15.4,-76.2 15.3,-70 15.3,-74.9 15.4,-81.9 15.4,-100.7 15.3,-99.5 15.3,-89.3 15.4,-79.8 15.3,-78.3 10.8,-58.4 10.7,-47.6 10.8,-37.2 10.7,-25.9 10.8,-17.7 10.7,-13 10.8,-10.1 10.7,-8.1 10.8,-6.7 10.7,-5.8 10.7,-5.1 10.8,-4.5 10.7,-4.1 10.8,-3.8 10.7,-3.5 7.7,-2.4 24.6,-7 24.5,-6.4 24.6,-5.5 24.5,-4.4 24.6,-3.8 24.6,-3.1 24.5,-2.5 24.6,-1.5 24.5,-0.3 24.6,0.7 24.6,1.4 24.5,2.1 24.6,3.5 24.5,6.5 24.6,11.2 10.7,7.4 10.8,9.7 10.7,12.8 10.8,16.2 10.7,19.7 10.8,22.5 10.7,24.1 10.8,24.5 10.7,23.9 10.7,22.6 10.8,20.3 10.7,17 10.8,12.6 10.7,8.7 10.8,5.5 10.7,3.3 10.8,2 19.9,1.8" stroke="url(#gb)" stroke-opacity="0.85" stroke-width="2.6"/>
<path d="M389.6,1950.9l36.8,0 36.8,0 33.8,-0.6 24.6,-2.1 24.5,-3.6 24.6,-4.2 24.5,-4 24.6,-3 24.6,-1.6 24.5,-0.9 24.6,-0.7 24.5,-0.7 24.6,-1.3 24.6,-2.7 24.5,-4.7 12.3,-3.3 15.4,-7 15.3,-8.3 15.3,-9.5 15.4,-10.1 15.4,-8.3 15.3,-7.5 15.3,-5.7 15.4,-4.4 15.4,-3.3 15.3,-0.4 15.3,2 15.4,3.1 15.4,3.4 15.3,4.6 15.3,4.5 15.4,3.5 15.3,2.8 15.4,2.4 15.3,2.2 15.4,2.1 30.7,3.5 30.7,3.4 30.7,4 30.7,4.9 30.7,6.6 30.7,7.9 30.7,7.8 9.2,0.7 9.2,0.2 9.2,-2.3 9.2,-3.5 9.2,-4.3 9.3,-7.4 9.2,-15.4 9.2,-26.4 9.2,-34.5 9.2,-45.4 15.4,-64.2 15.3,-57.5 15.3,-68.6 15.4,-83.9 15.4,-92.7 15.3,-90.6 15.3,-76.6 15.4,-67.4 15.3,-67.4 10.8,-49.8 10.7,-38.6 10.8,-29.9 10.7,-21.5 10.8,-15.4 10.7,-11.9 10.8,-9.6 10.7,-8 10.8,-6.9 10.7,-6.2 10.7,-5.6 10.8,-5.1 10.7,-4.8 10.8,-4.5 10.7,-4.1 7.7,-2.9 24.6,-8.5 24.5,-7.7 24.6,-6.9 24.5,-5.8 24.6,-5.1 24.6,-4.3 24.5,-3.5 24.6,-2.5 24.5,-0.9 24.6,0.2 24.6,0.9 24.5,1.3 24.6,2.4 24.5,4.6 24.6,8.2 10.7,5.5 10.8,7.5 10.7,10.1 10.8,13.2 10.7,16.3 10.8,18.9 10.7,20.5 10.8,21.1 10.7,20.9 10.7,20 10.8,18.2 10.7,15.4 10.8,11.7 10.7,8.2 10.8,5.2 10.7,3.3 10.8,2 19.9,1.7" stroke="url(#go)" stroke-opacity="0.90" stroke-width="2.6"/>
<path d="M389.6,1940.8l36.8,0 36.8,0 33.8,-0.6 24.6,-2 24.5,-3.7 24.6,-4.1 24.5,-3.9 24.6,-3 24.6,-1.6 24.5,-0.8 24.6,-0.7 24.5,-0.8 24.6,-1.3 24.6,-2.9 24.5,-5.3 12.3,-3.9 15.4,-8.7 15.3,-10 15.3,-10.8 15.4,-11.2 15.4,-8.9 15.3,-7.8 15.3,-5.9 15.4,-4.4 15.4,-3.2 15.3,-0.4 15.3,2.2 15.4,3.3 15.4,3.5 15.3,4.6 15.3,4.6 15.4,3.4 15.3,2.8 15.4,2.4 15.3,2.2 15.4,2 30.7,3.3 30.7,3.2 30.7,3.8 30.7,4.5 30.7,7.5 30.7,8.9 30.7,8.2 9.2,1.2 9.2,0.5 9.2,-2.4 9.2,-3.9 9.2,-5.4 9.3,-9.5 9.2,-20.1 9.2,-33.7 9.2,-40.3 9.2,-48.3 15.4,-74.9 15.3,-70.6 15.3,-75.1 15.4,-81 15.4,-101.2 15.3,-100.2 15.3,-90.7 15.4,-81.1 15.3,-79.4 10.8,-59.5 10.7,-48.6 10.8,-38 10.7,-26.4 10.8,-17.9 10.7,-13.2 10.8,-10.1 10.7,-8 10.8,-6.7 10.7,-5.7 10.7,-4.9 10.8,-4.4 10.7,-4 10.8,-3.6 10.7,-3.4 7.7,-2.3 24.6,-6.8 24.5,-6.1 24.6,-5.3 24.5,-4.2 24.6,-3.5 24.6,-3 24.5,-2.3 24.6,-1.3 24.5,-0.2 24.6,0.8 24.6,1.5 24.5,2.2 24.6,3.7 24.5,6.6 24.6,11.7 10.7,7.6 10.8,10 10.7,13.1 10.8,16.5 10.7,20.1 10.8,23 10.7,24.5 10.8,24.8 10.7,24.2 10.7,22.9 10.8,20.5 10.7,17 10.8,12.8 10.7,8.7 10.8,5.4 10.7,3.4 10.8,1.9 19.9,1.8" stroke="url(#go)" stroke-opacity="0.90" stroke-width="2.6"/>
<path d="M389.6,1949l36.8,0 36.8,0 33.8,-0.6 24.6,-2.1 24.5,-3.7 24.6,-4.1 24.5,-4.1 24.6,-3 24.6,-1.6 24.5,-0.9 24.6,-0.7 24.5,-0.8 24.6,-1.2 24.6,-2.8 24.5,-4.8 12.3,-3.4 15.4,-7.3 15.3,-8.7 15.3,-9.7 15.4,-10.4 15.4,-8.4 15.3,-7.6 15.3,-5.8 15.4,-4.4 15.4,-3.3 15.3,-0.5 15.3,2.1 15.4,3.2 15.4,3.4 15.3,4.6 15.3,4.6 15.4,3.4 15.3,2.8 15.4,2.5 15.3,2.3 15.4,2 30.7,3.5 30.7,3.4 30.7,4 30.7,4.9 30.7,6.8 30.7,8.1 30.7,7.9 9.2,0.8 9.2,0.2 9.2,-2.5 9.2,-3.6 9.2,-4.9 9.3,-8.5 9.2,-18 9.2,-30.8 9.2,-38.9 9.2,-48.5 15.4,-70.8 15.3,-64.5 15.3,-72.5 15.4,-83.4 15.4,-97.7 15.3,-96 15.3,-84 15.4,-74.4 15.3,-73.8 10.8,-54.8 10.7,-43.7 10.8,-34 10.7,-24 10.8,-16.7 10.7,-12.6 10.8,-10 10.7,-8.1 10.8,-6.8 10.7,-6.1 10.7,-5.3 10.8,-4.9 10.7,-4.4 10.8,-4.1 10.7,-3.9 7.7,-2.6 24.6,-7.8 24.5,-7.1 24.6,-6.1 24.5,-5.2 24.6,-4.3 24.6,-3.8 24.5,-3 24.6,-1.9 24.5,-0.6 24.6,0.5 24.6,1.1 24.5,1.8 24.6,3 24.5,5.6 24.6,9.9 10.7,6.6 10.8,8.7 10.7,11.6 10.8,14.9 10.7,18.3 10.8,20.9 10.7,22.6 10.8,23 10.7,22.7 10.7,21.6 10.8,19.4 10.7,16.4 10.8,12.3 10.7,8.5 10.8,5.4 10.7,3.3 10.8,2 19.9,1.8" stroke="url(#go)" stroke-opacity="0.90" stroke-width="2.6"/>
<path d="M389.6,1921.1l36.8,0 36.8,0 33.8,-0.5 24.6,-2.1 24.5,-3.7 24.6,-4.2 24.5,-4 24.6,-2.9 24.6,-1.7 24.5,-0.8 24.6,-0.6 24.5,-0.8 24.6,-1.4 24.6,-3.5 24.5,-6.7 12.3,-5 15.4,-11.8 15.3,-13.5 15.3,-13.6 15.4,-13.4 15.4,-10.2 15.3,-8.7 15.3,-6.3 15.4,-4.5 15.4,-3.2 15.3,-0.4 15.3,2.5 15.4,3.8 15.4,3.8 15.3,4.8 15.3,4.8 15.4,3.5 15.3,2.8 15.4,2.5 15.3,2.2 15.4,2 30.7,3.2 30.7,3 30.7,3.2 30.7,4.3 30.7,9 30.7,11.1 30.7,9.3 9.2,2.3 9.2,1.3 9.2,-1.9 9.2,-3.2 9.2,-3.2 9.3,-4.1 9.2,-8.2 9.2,-10.3 9.2,-11.3 9.2,-26.8 15.4,-41.7 15.3,-40 15.3,-60.4 15.4,-85.3 15.4,-83.3 15.3,-80.2 15.3,-61.9 15.4,-53.3 15.3,-54.9 10.8,-39.6 10.7,-28.5 10.8,-21.5 10.7,-16.4 10.8,-12.8 10.7,-10.6 10.8,-9 10.7,-7.8 10.8,-7.2 10.7,-6.6 10.7,-6.2 10.8,-5.7 10.7,-5.5 10.8,-5.2 10.7,-4.9 7.7,-3.4 24.6,-10.1 24.5,-9.2 24.6,-8.4 24.5,-7.4 24.6,-6.5 24.6,-5.5 24.5,-4.8 24.6,-3.5 24.5,-1.6 24.6,-0.3 24.6,0.1 24.5,0.5 24.6,1.1 24.5,2.5 24.6,4.8 10.7,3.4 10.8,4.9 10.7,7.1 10.8,9.7 10.7,12.4 10.8,14.8 10.7,16.3 10.8,17.2 10.7,17.4 10.7,17 10.8,15.7 10.7,13.6 10.8,10.6 10.7,7.6 10.8,5 10.7,3.1 10.8,2 19.9,1.7" stroke="#ffb84d" stroke-opacity="0.90" stroke-width="2.6"/>
<path d="M389.6,1936.2l36.8,0 36.8,0 33.8,-0.5 24.6,-2.1 24.5,-3.6 24.6,-4.2 24.5,-4 24.6,-2.9 24.6,-1.6 24.5,-0.9 24.6,-0.6 24.5,-0.8 24.6,-1.3 24.6,-3.1 24.5,-5.7 12.3,-4.1 15.4,-9.4 15.3,-10.8 15.3,-11.5 15.4,-11.7 15.4,-9.2 15.3,-8.1 15.3,-5.9 15.4,-4.5 15.4,-3.2 15.3,-0.4 15.3,2.3 15.4,3.4 15.4,3.6 15.3,4.6 15.3,4.6 15.4,3.5 15.3,2.8 15.4,2.5 15.3,2.2 15.4,2 30.7,3.3 30.7,3.1 30.7,3.7 30.7,4.5 30.7,7.8 30.7,9.4 30.7,8.5 9.2,1.5 9.2,0.7 9.2,-2.3 9.2,-3.6 9.2,-4.5 9.3,-7.5 9.2,-15.6 9.2,-25.2 9.2,-30.4 9.2,-41.1 15.4,-62.8 15.3,-59 15.3,-69.4 15.4,-82.8 15.4,-94.3 15.3,-92.4 15.3,-79.5 15.4,-70.2 15.3,-69.9 10.8,-51.7 10.7,-40.7 10.8,-31.6 10.7,-22.5 10.8,-15.9 10.7,-12.2 10.8,-9.6 10.7,-8 10.8,-6.9 10.7,-6 10.7,-5.5 10.8,-4.9 10.7,-4.6 10.8,-4.2 10.7,-4 7.7,-2.8 24.6,-8.1 24.5,-7.3 24.6,-6.4 24.5,-5.5 24.6,-4.7 24.6,-4 24.5,-3.3 24.6,-2.1 24.5,-0.8 24.6,0.4 24.6,0.9 24.5,1.5 24.6,2.7 24.5,5 24.6,9 10.7,6 10.8,8 10.7,10.7 10.8,13.9 10.7,17.1 10.8,19.7 10.7,21.4 10.8,21.8 10.7,21.5 10.7,20.6 10.8,18.7 10.7,15.7 10.8,11.9 10.7,8.3 10.8,5.3 10.7,3.2 10.8,2 19.9,1.7" stroke="url(#gb)" stroke-opacity="0.85" stroke-width="2.6"/>
<path d="M389.6,1930l36.8,0 36.8,0 33.8,-0.6 24.6,-2 24.5,-3.7 24.6,-4.2 24.5,-4 24.6,-2.9 24.6,-1.7 24.5,-0.9 24.6,-0.6 24.5,-0.8 24.6,-1.3 24.6,-3.3 24.5,-6 12.3,-4.6 15.4,-10.4 15.3,-11.9 15.3,-12.4 15.4,-12.4 15.4,-9.6 15.3,-8.4 15.3,-6.1 15.4,-4.5 15.4,-3.2 15.3,-0.4 15.3,2.4 15.4,3.6 15.4,3.7 15.3,4.7 15.3,4.7 15.4,3.5 15.3,2.8 15.4,2.5 15.3,2.2 15.4,2 30.7,3.3 30.7,3.1 30.7,3.5 30.7,4.4 30.7,8.3 30.7,10.2 30.7,8.7 9.2,1.8 9.2,0.9 9.2,-2.5 9.2,-4 9.2,-5.5 9.3,-9.4 9.2,-20.1 9.2,-32.5 9.2,-37.2 9.2,-45.6 15.4,-73.8 15.3,-71.5 15.3,-76.1 15.4,-81.7 15.4,-103.1 15.3,-102.1 15.3,-92.7 15.4,-83 15.3,-81.2 10.8,-60.8 10.7,-49.9 10.8,-39 10.7,-27.1 10.8,-18.3 10.7,-13.4 10.8,-10.3 10.7,-8.1 10.8,-6.7 10.7,-5.8 10.7,-4.9 10.8,-4.4 10.7,-4 10.8,-3.7 10.7,-3.3 7.7,-2.3 24.6,-6.8 24.5,-6.1 24.6,-5.2 24.5,-4.1 24.6,-3.5 24.6,-3 24.5,-2.2 24.6,-1.3 24.5,-0.1 24.6,0.8 24.6,1.6 24.5,2.2 24.6,3.8 24.5,6.9 24.6,12 10.7,7.9 10.8,10.3 10.7,13.4 10.8,16.9 10.7,20.7 10.8,23.4 10.7,25.1 10.8,25.4 10.7,24.7 10.7,23.3 10.8,21 10.7,17.3 10.8,13 10.7,8.9 10.8,5.5 10.7,3.4 10.8,2 19.9,1.7" stroke="#ffb84d" stroke-opacity="0.90" stroke-width="2.6"/>
<path d="M389.6,1914.8l36.8,0 36.8,0 33.8,-0.6 24.6,-2.1 24.5,-3.7 24.6,-4.2 24.5,-4 24.6,-3 24.6,-1.7 24.5,-0.8 24.6,-0.6 24.5,-0.8 24.6,-1.4 24.6,-3.7 24.5,-7.1 12.3,-5.4 15.4,-12.9 15.3,-14.6 15.3,-14.5 15.4,-14.1 15.4,-10.7 15.3,-9 15.3,-6.4 15.4,-4.5 15.4,-3.3 15.3,-0.3 15.3,2.6 15.4,3.9 15.4,4 15.3,4.9 15.3,4.7 15.4,3.6 15.3,2.9 15.4,2.5 15.3,2.2 15.4,2 30.7,3.1 30.7,2.9 30.7,3.2 30.7,4.2 30.7,9.5 30.7,11.8 30.7,9.6 9.2,2.6 9.2,1.4 9.2,-2.2 9.2,-3.8 9.2,-4.7 9.3,-7.2 9.2,-15.3 9.2,-22.3 9.2,-23.3 9.2,-34.8 15.4,-59.6 15.3,-59.5 15.3,-70.7 15.4,-83.5 15.4,-96.7 15.3,-95 15.3,-82.4 15.4,-72.9 15.3,-72.4 10.8,-53.7 10.7,-42.5 10.8,-33.1 10.7,-23.4 10.8,-16.5 10.7,-12.5 10.8,-9.9 10.7,-8.1 10.8,-6.9 10.7,-6.1 10.7,-5.4 10.8,-5 10.7,-4.5 10.8,-4.2 10.7,-4 7.7,-2.7 24.6,-8 24.5,-7.2 24.6,-6.4 24.5,-5.4 24.6,-4.5 24.6,-3.9 24.5,-3.2 24.6,-2.1 24.5,-0.6 24.6,0.4 24.6,1 24.5,1.7 24.6,2.9 24.5,5.3 24.6,9.5 10.7,6.4 10.8,8.4 10.7,11.2 10.8,14.5 10.7,17.9 10.8,20.5 10.7,22.1 10.8,22.6 10.7,22.3 10.7,21.3 10.8,19.2 10.7,16.1 10.8,12.2 10.7,8.5 10.8,5.4 10.7,3.3 10.8,2 19.9,1.7" stroke="url(#gb)" stroke-opacity="0.85" stroke-width="2.6"/>
<path d="M389.6,1965l36.8,0 36.8,0 33.8,-0.6 24.6,-2 24.5,-3.7 24.6,-4.1 24.5,-4 24.6,-3 24.6,-1.7 24.5,-0.9 24.6,-0.6 24.5,-0.8 24.6,-1.2 24.6,-2.4 24.5,-3.7 12.3,-2.5 15.4,-4.7 15.3,-5.8 15.3,-7.5 15.4,-8.5 15.4,-7.4 15.3,-6.9 15.3,-5.5 15.4,-4.3 15.4,-3.3 15.3,-0.5 15.3,1.8 15.4,2.8 15.4,3.2 15.3,4.4 15.3,4.5 15.4,3.4 15.3,2.7 15.4,2.5 15.3,2.2 15.4,2.1 30.7,3.6 30.7,3.5 30.7,4.5 30.7,5.1 30.7,5.5 30.7,6.4 30.7,7.1 9.2,0 9.2,-0.2 9.2,-2.1 9.2,-2.5 9.2,-2.5 9.3,-3.6 9.2,-6.9 9.2,-12.7 9.2,-22.2 9.2,-37.7 15.4,-43.8 15.3,-33.4 15.3,-56.2 15.4,-86.7 15.4,-76.3 15.3,-72.3 15.3,-51 15.4,-42.8 15.3,-45.5 10.8,-32.3 10.7,-20.9 10.8,-15.3 10.7,-12.8 10.8,-10.8 10.7,-9.5 10.8,-8.5 10.7,-7.8 10.8,-7.2 10.7,-6.9 10.7,-6.6 10.8,-6.2 10.7,-6 10.8,-5.7 10.7,-5.5 7.7,-3.7 24.6,-11.2 24.5,-10.2 24.6,-9.5 24.5,-8.5 24.6,-7.5 24.6,-6.4 24.5,-5.6 24.6,-4.3 24.5,-2.1 24.6,-0.7 24.6,-0.4 24.5,-0.1 24.6,0.2 24.5,1 24.6,2.2 10.7,1.8 10.8,3 10.7,4.9 10.8,7.2 10.7,9.6 10.8,11.6 10.7,13.3 10.8,14.3 10.7,14.8 10.7,14.7 10.8,13.9 10.7,12.2 10.8,9.7 10.7,7.1 10.8,4.8 10.7,3.1 10.8,1.9 19.9,1.7" stroke="#ffb347" stroke-opacity="0.95" stroke-width="2.4"/>
<path d="M389.6,1918.9l36.8,0 36.8,0 33.8,-0.6 24.6,-2.1 24.5,-3.6 24.6,-4.2 24.5,-4 24.6,-2.9 24.6,-1.7 24.5,-0.8 24.6,-0.6 24.5,-0.8 24.6,-1.4 24.6,-3.5 24.5,-6.8 12.3,-5.2 15.4,-12.2 15.3,-13.9 15.3,-13.9 15.4,-13.6 15.4,-10.4 15.3,-8.7 15.3,-6.3 15.4,-4.5 15.4,-3.2 15.3,-0.4 15.3,2.6 15.4,3.8 15.4,3.8 15.3,4.8 15.3,4.8 15.4,3.5 15.3,2.8 15.4,2.5 15.3,2.2 15.4,2 30.7,3.1 30.7,2.9 30.7,3.2 30.7,4.2 30.7,9.2 30.7,11.3 30.7,9.3 9.2,2.4 9.2,1.2 9.2,-2.4 9.2,-4.3 9.2,-5.9 9.3,-10.1 9.2,-21.7 9.2,-34 9.2,-36.7 9.2,-44.3 15.4,-76.4 15.3,-76.3 15.3,-78.6 15.4,-80.7 15.4,-106.7 15.3,-106.2 15.3,-98.6 15.4,-88.8 15.3,-86.3 10.8,-64.9 10.7,-54 10.8,-42.5 10.7,-29.1 10.8,-19.4 10.7,-13.9 10.8,-10.5 10.7,-8.2 10.8,-6.6 10.7,-5.6 10.7,-4.6 10.8,-4.2 10.7,-3.6 10.8,-3.3 10.7,-3.1 7.7,-2.1 24.6,-6 24.5,-5.5 24.6,-4.5 24.5,-3.5 24.6,-2.8 24.6,-2.4 24.5,-1.8 24.6,-0.8 24.5,0.2 24.6,1.1 24.6,1.8 24.5,2.6 24.6,4.3 24.5,7.8 24.6,13.4 10.7,8.8 10.8,11.3 10.7,14.7 10.8,18.3 10.7,22.3 10.8,25.2 10.7,26.7 10.8,26.9 10.7,26.2 10.7,24.5 10.8,21.9 10.7,18.1 10.8,13.4 10.7,9.1 10.8,5.7 10.7,3.4 10.8,2 19.9,1.7" stroke="#3aa47e" stroke-opacity="0.85" stroke-width="2.4"/>
<path d="M389.6,1913.7l36.8,0 36.8,-0.1 33.8,-0.5 24.6,-2.1 24.5,-3.7 24.6,-4.1 24.5,-4 24.6,-3 24.6,-1.6 24.5,-0.8 24.6,-0.6 24.5,-0.8 24.6,-1.4 24.6,-3.7 24.5,-7.2 12.3,-5.4 15.4,-13.1 15.3,-14.8 15.3,-14.6 15.4,-14.2 15.4,-10.7 15.3,-9 15.3,-6.4 15.4,-4.5 15.4,-3.2 15.3,-0.3 15.3,2.6 15.4,3.9 15.4,4 15.3,4.8 15.3,4.8 15.4,3.5 15.3,2.8 15.4,2.5 15.3,2.2 15.4,2 30.7,3.1 30.7,2.9 30.7,3 30.7,4.1 30.7,9.6 30.7,11.9 30.7,9.6 9.2,2.6 9.2,1.5 9.2,-2.3 9.2,-4.2 9.2,-5.4 9.3,-8.8 9.2,-18.9 9.2,-28.6 9.2,-29.8 9.2,-39.1 15.4,-68.5 15.3,-69.3 15.3,-75.2 15.4,-81.5 15.4,-102.5 15.3,-101.5 15.3,-92.2 15.4,-82.3 15.3,-80.7 10.8,-60.4 10.7,-49.5 10.8,-38.7 10.7,-26.8 10.8,-18.2 10.7,-13.4 10.8,-10.2 10.7,-8.1 10.8,-6.7 10.7,-5.8 10.7,-4.9 10.8,-4.5 10.7,-3.9 10.8,-3.7 10.7,-3.4 7.7,-2.3 24.6,-6.8 24.5,-6.1 24.6,-5.2 24.5,-4.2 24.6,-3.5 24.6,-3 24.5,-2.3 24.6,-1.3 24.5,-0.1 24.6,0.8 24.6,1.5 24.5,2.3 24.6,3.7 24.5,6.8 24.6,11.9 10.7,7.8 10.8,10.2 10.7,13.3 10.8,16.8 10.7,20.5 10.8,23.3 10.7,24.9 10.8,25.2 10.7,24.5 10.7,23.3 10.8,20.8 10.7,17.3 10.8,12.9 10.7,8.8 10.8,5.5 10.7,3.4 10.8,1.9 19.9,1.8" stroke="#6464ff" stroke-opacity="0.90" stroke-width="2.6"/></g>
<g fill="none" stroke-linecap="butt">
<line x1="938.6" y1="326.6" x2="1930" y2="642" stroke="#00ff00" stroke-width="3.8"/>
<line x1="911.2" y1="358.7" x2="1360" y2="1871" stroke="#00ff00" stroke-width="3.8"/>
<line x1="893.8" y1="372.9" x2="637.7" y2="1915.7" stroke="#00ff00" stroke-width="3.8"/>
<line x1="928.5" y1="567.4" x2="1744.4" y2="680" stroke="#00ff00" stroke-width="3.8"/>
<line x1="837.7" y1="618.7" x2="1009.5" y2="1808" stroke="#00ff00" stroke-width="3.8"/>
<line x1="1213" y1="755.8" x2="1042" y2="1881.5" stroke="#00ff00" stroke-width="3.8"/>
<line x1="1347.3" y1="734.2" x2="1684.5" y2="723.2" stroke="#00ff00" stroke-width="3.8"/>
<line x1="1683" y1="633.3" x2="1683" y2="723.2" stroke="#00ff00" stroke-width="3.8"/>
<line x1="1684.5" y1="723.2" x2="762.4" y2="1550.3" stroke="#00ff00" stroke-width="3.8"/>
<line x1="1239" y1="504.6" x2="1771.2" y2="664.9" stroke="#ff6347" stroke-width="2.6"/>
<line x1="1197.3" y1="543" x2="1497.6" y2="1575" stroke="#ff6347" stroke-width="2.6"/>
<line x1="1300.2" y1="332.4" x2="1622" y2="908" stroke="#ff6347" stroke-width="2.6"/>
<line x1="1320.5" y1="326" x2="1713" y2="695" stroke="#ff6347" stroke-width="2.6"/>
<line x1="1694" y1="281.3" x2="1640.4" y2="767.3" stroke="#ff6347" stroke-width="2.6"/>
<line x1="1715.4" y1="287.6" x2="1706.6" y2="701.1" stroke="#ff6347" stroke-width="2.6"/>
<line x1="1685" y1="712" x2="1917" y2="1121" stroke="#ff6347" stroke-width="2.6"/>
<line x1="1567.6" y1="1147.6" x2="1903.8" y2="1129.4" stroke="#ff6347" stroke-width="2.6"/>
<line x1="2065.6" y1="419.1" x2="1975.9" y2="639.7" stroke="#0000ff" stroke-width="3.0"/>
<line x1="2065.6" y1="419.1" x2="2234.7" y2="915.9" stroke="#0000ff" stroke-width="3.0"/>
<line x1="2214.1" y1="367.6" x2="2032.6" y2="640" stroke="#0000ff" stroke-width="3.0"/>
<line x1="2259.7" y1="491.2" x2="2121.5" y2="676.5" stroke="#0000ff" stroke-width="3.0"/>
<line x1="2259.7" y1="491.2" x2="2234.7" y2="915.9" stroke="#0000ff" stroke-width="3.0"/>
<line x1="2093.5" y1="655.3" x2="2043" y2="799" stroke="#0000ff" stroke-width="3.0"/>
<line x1="2109.7" y1="860.9" x2="2234.7" y2="915.9" stroke="#0000ff" stroke-width="3.0"/>
<line x1="1889" y1="651" x2="2003" y2="921.8" stroke="#0000ff" stroke-width="3.0"/>
<line x1="2140.6" y1="943.2" x2="2234.7" y2="915.9" stroke="#0000ff" stroke-width="3.0"/>
<line x1="1744.4" y1="680" x2="2179.4" y2="1253.5" stroke="#00ff00" stroke-width="3.8"/>
<line x1="1889" y1="651" x2="2045" y2="1782.4" stroke="#960000" stroke-width="3.0"/>
<line x1="2040.6" y1="1800" x2="1398" y2="1868" stroke="#960000" stroke-width="3.0"/>
<line x1="1930" y1="642" x2="2122.7" y2="1881.2" stroke="#00ff00" stroke-width="3.8"/>
<line x1="2043.8" y1="1927.7" x2="1378.7" y2="1872.8" stroke="#00ff00" stroke-width="3.8"/>
<line x1="2033" y1="645.6" x2="2001.4" y2="1992.5" stroke="#00ff00" stroke-width="3.8"/>
<line x1="1968.2" y1="2032.8" x2="1378.7" y2="1872.8" stroke="#00ff00" stroke-width="3.8"/>
<line x1="2200.9" y1="1401.5" x2="1378.7" y2="1872.8" stroke="#00ff00" stroke-width="3.8"/>
<line x1="2005.3" y1="1344.7" x2="1597" y2="943.2" stroke="#ff00ff" stroke-width="3.0"/>
<line x1="2005.3" y1="1344.7" x2="1465.3" y2="1764.7" stroke="#ff00ff" stroke-width="3.0"/>
<line x1="1936.2" y1="1572" x2="1628" y2="812.4" stroke="#ff00ff" stroke-width="3.0"/>
<line x1="1936.2" y1="1572" x2="1366.7" y2="1871" stroke="#ff00ff" stroke-width="3.0"/>
<line x1="1628" y1="812.4" x2="1855.3" y2="1635.3" stroke="#ff00ff" stroke-width="3.0"/>
<line x1="1546.2" y1="1378.8" x2="1853.8" y2="1648.5" stroke="#ff00ff" stroke-width="3.0"/>
<line x1="1597" y1="943.2" x2="1739" y2="1741.2" stroke="#ff00ff" stroke-width="3.0"/>
<line x1="1715.3" y1="1757.4" x2="1648" y2="1746.4" stroke="#ff00ff" stroke-width="3.0"/>
<line x1="1478.8" y1="1717.6" x2="1530" y2="1717.6" stroke="#ff00ff" stroke-width="3.0"/>
<line x1="1478.8" y1="1718.6" x2="1515" y2="1719.6" stroke="#ff00ff" stroke-width="3.0"/>
<line x1="1699" y1="1776.5" x2="1395" y2="1867" stroke="#ff00ff" stroke-width="3.0"/>
<line x1="1597" y1="943.2" x2="1652" y2="1542.6" stroke="#ff00ff" stroke-width="3.0"/>
<line x1="1497.6" y1="1576.5" x2="1618.2" y2="1576.5" stroke="#ff00ff" stroke-width="3.0"/>
<line x1="1612.4" y1="1588.2" x2="1366.7" y2="1871" stroke="#ff00ff" stroke-width="3.0"/>
<line x1="1624" y1="1588" x2="1465.3" y2="1764.7" stroke="#ff00ff" stroke-width="3.0"/>
<line x1="709.7" y1="943.2" x2="710.4" y2="1902" stroke="#ff00ff" stroke-width="3.0"/>
<line x1="745.9" y1="946.2" x2="1465.3" y2="1764.7" stroke="#ff00ff" stroke-width="3.0"/>
<line x1="897.9" y1="896.2" x2="1597" y2="943.2" stroke="#ff00ff" stroke-width="3.0"/>
<line x1="983.2" y1="1127" x2="1597" y2="943.2" stroke="#ff00ff" stroke-width="3.0"/>
<line x1="898.8" y1="1157.4" x2="870.2" y2="1889.5" stroke="#ff00ff" stroke-width="3.0"/>
<line x1="929.3" y1="1156.7" x2="1395" y2="1867" stroke="#ff00ff" stroke-width="3.0"/>
<line x1="1021.5" y1="1187.4" x2="867" y2="1285.3" stroke="#ffa500" stroke-width="3.0"/>
<line x1="1420.6" y1="1069.7" x2="1597" y2="943.2" stroke="#ff0000" stroke-width="3.0"/>
<line x1="1414" y1="1091.8" x2="1450" y2="1800" stroke="#ff0000" stroke-width="3.0"/>
<line x1="1625" y1="815.3" x2="1388.2" y2="1274" stroke="#ff0000" stroke-width="3.0"/>
<line x1="1410.9" y1="1333.8" x2="1546.2" y2="1378.8" stroke="#ff0000" stroke-width="3.0"/>
<line x1="1567.6" y1="1147.6" x2="1495.6" y2="1244.7" stroke="#ff0000" stroke-width="3.0"/>
<line x1="1473.5" y1="1306.5" x2="1509.4" y2="1585.3" stroke="#ff0000" stroke-width="3.0"/>
<line x1="1550" y1="1287.4" x2="1707.4" y2="1260" stroke="#ff0000" stroke-width="3.0"/>
<line x1="1550" y1="1288.4" x2="1707.4" y2="1261" stroke="#ff0000" stroke-width="3.0"/>
<line x1="1547" y1="1306.5" x2="1615.3" y2="1341.2" stroke="#ff0000" stroke-width="3.0"/>
<line x1="1589.7" y1="999" x2="1766" y2="1212.4" stroke="#ff0000" stroke-width="3.0"/>
<line x1="1761.8" y1="1268.2" x2="1546.2" y2="1378.8" stroke="#ff0000" stroke-width="3.0"/>
<line x1="1797" y1="1271" x2="1497.6" y2="1695.6" stroke="#ff0000" stroke-width="3.0"/>
<line x1="1630" y1="1386.8" x2="1493.2" y2="1664.7" stroke="#ff0000" stroke-width="3.0"/>
<line x1="1603" y1="912.4" x2="1664.7" y2="1340" stroke="#ff0000" stroke-width="3.0"/>
<line x1="950" y1="1281" x2="1744.4" y2="680" stroke="#960000" stroke-width="3.0"/>
<line x1="958.8" y1="1342.6" x2="1015.6" y2="1825" stroke="#960000" stroke-width="3.0"/>
<line x1="958.8" y1="1342.6" x2="1445" y2="1796" stroke="#960000" stroke-width="3.0"/>
<line x1="958.8" y1="1342.6" x2="1366.7" y2="1871" stroke="#960000" stroke-width="3.0"/>
<line x1="865" y1="1422" x2="1683.5" y2="723.2" stroke="#960000" stroke-width="3.0"/>
<line x1="1214.7" y1="1166" x2="1683.5" y2="723.2" stroke="#960000" stroke-width="3.0"/>
<line x1="1126.5" y1="1226.5" x2="1362" y2="1900" stroke="#960000" stroke-width="3.0"/>
<line x1="1184.7" y1="1213" x2="1445" y2="1796" stroke="#960000" stroke-width="3.0"/>
<line x1="606.5" y1="1421.8" x2="1074.4" y2="1838.5" stroke="#ffa500" stroke-width="3.0"/>
<line x1="596.2" y1="1425.3" x2="1014.5" y2="1828" stroke="#ffa500" stroke-width="3.0"/>
<line x1="614.7" y1="1648.8" x2="723.7" y2="1897.3" stroke="#ffa500" stroke-width="3.0"/>
<line x1="723.7" y1="1897.3" x2="724.3" y2="1964.8" stroke="#ffa500" stroke-width="3.0"/>
<line x1="631.5" y1="1634" x2="1014.5" y2="1828" stroke="#ffa500" stroke-width="3.0"/>
<line x1="788.3" y1="2000.7" x2="782.6" y2="1900.2" stroke="#ffa500" stroke-width="3.0"/>
<line x1="835.7" y1="2000.7" x2="1423.7" y2="1900.4" stroke="#ffa500" stroke-width="3.0"/>
<line x1="1423.7" y1="1849.8" x2="1423.7" y2="1900.4" stroke="#ffa500" stroke-width="3.0"/>
<line x1="965" y1="1995" x2="1014.5" y2="1828" stroke="#ffa500" stroke-width="3.0"/>
<line x1="998" y1="1985" x2="1445" y2="1796" stroke="#ffa500" stroke-width="3.0"/>
<line x1="1234" y1="2016" x2="1014.5" y2="1828" stroke="#ffa500" stroke-width="3.0"/>
<line x1="756.7" y1="1895" x2="1221.4" y2="2024.5" stroke="#ffa500" stroke-width="3.0"/>
<line x1="1263.4" y1="2003.4" x2="1419" y2="1902" stroke="#ffa500" stroke-width="3.0"/>
<line x1="769.8" y1="1640" x2="867.3" y2="1884.4" stroke="#00ff00" stroke-width="3.8"/>
<line x1="1020" y1="1705" x2="1020" y2="1810" stroke="#00ff00" stroke-width="3.8"/>
<line x1="1016.8" y1="1705" x2="1016.8" y2="1826" stroke="#ff00ff" stroke-width="3.0"/>
<line x1="862.4" y1="1448.8" x2="1445" y2="1796" stroke="#960000" stroke-width="3.0"/>
<line x1="852" y1="1473.8" x2="1362" y2="1868" stroke="#960000" stroke-width="3.0"/>
<line x1="1395.2" y1="1808.5" x2="1395.2" y2="1865.4" stroke="#960000" stroke-width="3.0"/>
<line x1="1364.5" y1="1830" x2="1364.5" y2="1870" stroke="#960000" stroke-width="3.0"/>
<line x1="1312.5" y1="1918.8" x2="1375" y2="1872.8" stroke="#00ff00" stroke-width="3.8"/>
<line x1="1364" y1="1871" x2="1411.8" y2="1922.4" stroke="#00ff00" stroke-width="3.8"/>
<line x1="1394" y1="868" x2="1365.8" y2="1920.6" stroke="#00ff00" stroke-width="3.8"/>
<line x1="1369.5" y1="1901.7" x2="1640" y2="1901.7" stroke="#ff00ff" stroke-width="3.0"/>
<line x1="1323.7" y1="1541" x2="1465.3" y2="1764.7" stroke="#ff00ff" stroke-width="3.0"/>
<line x1="1597" y1="943.2" x2="1318" y2="1482" stroke="#ff00ff" stroke-width="3.0"/>
<line x1="1452" y1="1749" x2="1452" y2="1799" stroke="#ffa500" stroke-width="3.0"/>
<line x1="1290" y1="1045" x2="1683.5" y2="723.2" stroke="#960000" stroke-width="3.0"/>
</g>
<g font-size="47.5">
<rect x="836.3" y="295.7" width="92.6" height="56" fill="#fff" fill-opacity="0.2"/>
<rect x="755.1" y="438.3" width="155.9" height="56" fill="#fff" fill-opacity="0.2"/>
<rect x="729.2" y="507.8" width="195.5" height="56" fill="#fff" fill-opacity="0.2"/>
<rect x="728.7" y="556.0" width="195.5" height="56" fill="#fff" fill-opacity="0.2"/>
<rect x="1118.1" y="276.6" width="361.8" height="56" fill="#fff" fill-opacity="0.2"/>
<rect x="1094.7" y="482.8" width="150.6" height="56" fill="#fff" fill-opacity="0.2"/>
<rect x="1112.4" y="634.3" width="166.4" height="56" fill="#fff" fill-opacity="0.2"/>
<rect x="1068.3" y="688.5" width="269.5" height="56" fill="#fff" fill-opacity="0.2"/>
<rect x="1587.6" y="225.2" width="269.5" height="56" fill="#fff" fill-opacity="0.2"/>
<rect x="2186.1" y="276.1" width="105.7" height="56" fill="#fff" fill-opacity="0.2"/>
<rect x="2180.4" y="325.8" width="150.6" height="56" fill="#fff" fill-opacity="0.2"/>
<rect x="1996.7" y="369.3" width="150.6" height="56" fill="#fff" fill-opacity="0.2"/>
<rect x="2161.3" y="438.4" width="150.6" height="56" fill="#fff" fill-opacity="0.2"/>
<rect x="1963.4" y="800.2" width="150.6" height="56" fill="#fff" fill-opacity="0.2"/>
<rect x="1991.7" y="922.8" width="150.6" height="56" fill="#fff" fill-opacity="0.2"/>
<rect x="1909.6" y="1128.0" width="269.5" height="56" fill="#fff" fill-opacity="0.2"/>
<rect x="2112.4" y="1261.0" width="227.2" height="56" fill="#fff" fill-opacity="0.2"/>
<rect x="2001.6" y="1329.0" width="155.9" height="56" fill="#fff" fill-opacity="0.2"/>
<rect x="2167.6" y="1334.9" width="161.2" height="56" fill="#fff" fill-opacity="0.2"/>
<rect x="2206.1" y="1401.0" width="163.8" height="56" fill="#fff" fill-opacity="0.2"/>
<rect x="1934.9" y="1551.6" width="269.5" height="56" fill="#fff" fill-opacity="0.2"/>
<rect x="1750.2" y="1660.0" width="269.5" height="56" fill="#fff" fill-opacity="0.2"/>
<rect x="2041.6" y="1771.0" width="89.9" height="56" fill="#fff" fill-opacity="0.2"/>
<rect x="2041.7" y="1903.4" width="155.9" height="56" fill="#fff" fill-opacity="0.2"/>
<rect x="1980.4" y="2012.6" width="155.9" height="56" fill="#fff" fill-opacity="0.2"/>
<rect x="1709.4" y="1758.0" width="132.1" height="56" fill="#fff" fill-opacity="0.2"/>
<rect x="1629.0" y="1840.2" width="169.0" height="56" fill="#fff" fill-opacity="0.2"/>
<rect x="1315.1" y="758.0" width="155.9" height="56" fill="#fff" fill-opacity="0.2"/>
<rect x="1229.3" y="807.2" width="269.5" height="56" fill="#fff" fill-opacity="0.2"/>
<rect x="1294.8" y="855.7" width="174.3" height="56" fill="#fff" fill-opacity="0.2"/>
<rect x="1319.4" y="1044.9" width="95.2" height="56" fill="#fff" fill-opacity="0.2"/>
<rect x="1404.7" y="1246.4" width="148.0" height="56" fill="#fff" fill-opacity="0.2"/>
<rect x="1711.3" y="1222.8" width="148.0" height="56" fill="#fff" fill-opacity="0.2"/>
<rect x="570.3" y="811.0" width="335.4" height="56" fill="#fff" fill-opacity="0.2"/>
<rect x="553.6" y="866.0" width="332.8" height="56" fill="#fff" fill-opacity="0.2"/>
<rect x="836.6" y="1100.2" width="126.9" height="56" fill="#fff" fill-opacity="0.2"/>
<rect x="748.1" y="1282.0" width="330.1" height="56" fill="#fff" fill-opacity="0.2"/>
<rect x="1071.6" y="1170.2" width="126.9" height="56" fill="#fff" fill-opacity="0.2"/>
<rect x="1146.9" y="1280.2" width="269.5" height="56" fill="#fff" fill-opacity="0.2"/>
<rect x="1114.3" y="1481.0" width="269.5" height="56" fill="#fff" fill-opacity="0.2"/>
<rect x="1584.0" y="1334.9" width="126.9" height="56" fill="#fff" fill-opacity="0.2"/>
<rect x="1622.6" y="1532.5" width="84.6" height="56" fill="#fff" fill-opacity="0.2"/>
<rect x="1485.2" y="1695.8" width="169.0" height="56" fill="#fff" fill-opacity="0.2"/>
<rect x="514.4" y="1370.5" width="95.2" height="56" fill="#fff" fill-opacity="0.2"/>
<rect x="656.7" y="1407.2" width="203.4" height="56" fill="#fff" fill-opacity="0.2"/>
<rect x="654.9" y="1569.6" width="145.3" height="56" fill="#fff" fill-opacity="0.2"/>
<rect x="527.1" y="1590.8" width="97.8" height="56" fill="#fff" fill-opacity="0.2"/>
<rect x="731.0" y="2004.2" width="95.2" height="56" fill="#fff" fill-opacity="0.2"/>
<rect x="900.4" y="2002.8" width="95.2" height="56" fill="#fff" fill-opacity="0.2"/>
<rect x="1220.8" y="2008.5" width="248.3" height="56" fill="#fff" fill-opacity="0.2"/>
<rect x="1319.0" y="1761.0" width="89.9" height="56" fill="#fff" fill-opacity="0.2"/>
<rect x="1018.2" y="1719.8" width="169.0" height="56" fill="#fff" fill-opacity="0.2"/>
<text x="882.6" y="336.7" fill="#00ff00" text-anchor="middle">EVI</text>
<text x="833" y="479.3" fill="#00ff00" text-anchor="middle">MTVI2</text>
<text x="826.9" y="548.8" fill="#00ff00" text-anchor="middle">MCARI1</text>
<text x="826.4" y="597" fill="#00ff00" text-anchor="middle">MCARI2</text>
<text x="1299" y="317.6" fill="#ff6347" text-anchor="middle">NDRE_770_750</text>
<text x="1170" y="523.8" fill="#ff6347" text-anchor="middle">NDRE</text>
<text x="1195.6" y="675.3" fill="#00ff00" text-anchor="middle">GNDVI</text>
<text x="1203" y="729.5" fill="#00ff00" text-anchor="middle">R780_R550</text>
<text x="1722.3" y="266.2" fill="#ff6347" text-anchor="middle">R787_R765</text>
<text x="2239" y="317.1" fill="#0000ff" text-anchor="middle">WBI</text>
<text x="2255.7" y="366.8" fill="#0000ff" text-anchor="middle">NWI-1</text>
<text x="2072" y="410.3" fill="#0000ff" text-anchor="middle">NWI-4</text>
<text x="2236.6" y="479.4" fill="#0000ff" text-anchor="middle">NWI-5</text>
<text x="2038.7" y="841.2" fill="#0000ff" text-anchor="middle">NWI-3</text>
<text x="2067" y="963.8" fill="#0000ff" text-anchor="middle">NWI-2</text>
<text x="2044.3" y="1169" fill="#ff6347" text-anchor="middle">R780_R740</text>
<text x="2226" y="1302" fill="#00ff00" text-anchor="middle">MSR_670</text>
<text x="2079.5" y="1370" fill="#ff00ff" text-anchor="middle">NDVI4</text>
<text x="2248.2" y="1375.9" fill="#00ff00" text-anchor="middle">OSAVI</text>
<text x="2288" y="1442" fill="#00ff00" text-anchor="middle">MSAVI</text>
<text x="2069.6" y="1592.6" fill="#ff00ff" text-anchor="middle">R760_R670</text>
<text x="1884.9" y="1701" fill="#ff00ff" text-anchor="middle">R730_R670</text>
<text x="2086.6" y="1812" fill="#960000" text-anchor="middle">LCI</text>
<text x="2119.6" y="1944.4" fill="#00ff00" text-anchor="middle">NDVI1</text>
<text x="2058.3" y="2053.6" fill="#00ff00" text-anchor="middle">NDVI3</text>
<text x="1775.4" y="1799" fill="#ff00ff" text-anchor="middle">MTCI</text>
<text x="1713.5" y="1881.2" fill="#ff00ff" text-anchor="middle">MCARI</text>
<text x="1393" y="799" fill="#00ff00" text-anchor="middle">NDVI2</text>
<text x="1364" y="848.2" fill="#00ff00" text-anchor="middle">R780_R670</text>
<text x="1382" y="896.7" fill="#00ff00" text-anchor="middle">WDRVI</text>
<text x="1367" y="1085.9" fill="#ff0000" text-anchor="middle">HVI</text>
<text x="1478.7" y="1287.4" fill="#ff0000" text-anchor="middle">VOG1</text>
<text x="1785.3" y="1263.8" fill="#ff0000" text-anchor="middle">VOG2</text>
<text x="738" y="852" fill="#ff00ff" text-anchor="middle">MND_750_705</text>
<text x="720" y="907" fill="#ff00ff" text-anchor="middle">MSR_705_445</text>
<text x="900" y="1141.2" fill="#ff00ff" text-anchor="middle">PSRI</text>
<text x="913.2" y="1323" fill="#960000" text-anchor="middle">TCARI_OSAVI</text>
<text x="1135" y="1211.2" fill="#960000" text-anchor="middle">REIP</text>
<text x="1281.6" y="1321.2" fill="#ff0000" text-anchor="middle">R760_R730</text>
<text x="1249" y="1522" fill="#ff00ff" text-anchor="middle">R730_R670</text>
<text x="1647.4" y="1375.9" fill="#ff0000" text-anchor="middle">RVSI</text>
<text x="1664.9" y="1573.5" fill="#ff00ff" text-anchor="middle">DD</text>
<text x="1569.7" y="1736.8" fill="#ff00ff" text-anchor="middle">MCARI</text>
<text x="562" y="1411.5" fill="#ffa500" text-anchor="middle">PRI</text>
<text x="758.4" y="1448.2" fill="#960000" text-anchor="middle">Maccioni</text>
<text x="727.6" y="1610.6" fill="#00ff00" text-anchor="middle">PSSR</text>
<text x="576" y="1631.8" fill="#ffa500" text-anchor="middle">BGI</text>
<text x="778.6" y="2045.2" fill="#ffa500" text-anchor="middle">BRI</text>
<text x="948" y="2043.8" fill="#ffa500" text-anchor="middle">ARI</text>
<text x="1345" y="2049.5" fill="#ffa500" text-anchor="middle">VARIgreen</text>
<text x="1364" y="1802" fill="#960000" text-anchor="middle">LCI</text>
<text x="1102.7" y="1760.8" fill="#ff00ff" text-anchor="middle">MCARI</text>
</g>
<g font-size="56.8">
<text x="364" y="112.2" fill="#0000ff">NIR</text>
<text x="364" y="180.3" fill="#ff6347">NIR_RE</text>
<text x="364" y="248.4" fill="#960000">NIR_RE_VIS</text>
<text x="364" y="316.5" fill="#00ff00">NIR_VIS</text>
<text x="364" y="384.6" fill="#ff0000">RE</text>
<text x="364" y="452.7" fill="#ff00ff">RE_VIS</text>
<text x="364" y="520.8" fill="#ffa500">VIS</text>
</g>
<rect x="313.8" y="11.0" width="2058.2" height="2059.5" fill="none" stroke="#000" stroke-width="3.6"/>
<g stroke="#000" stroke-width="3.1">
<line x1="497.0" y1="2070.5" x2="497.0" y2="2106.5"/>
<line x1="804.0" y1="2070.5" x2="804.0" y2="2106.5"/>
<line x1="1111.0" y1="2070.5" x2="1111.0" y2="2106.5"/>
<line x1="1418.0" y1="2070.5" x2="1418.0" y2="2106.5"/>
<line x1="1725.0" y1="2070.5" x2="1725.0" y2="2106.5"/>
<line x1="2032.0" y1="2070.5" x2="2032.0" y2="2106.5"/>
<line x1="2339.0" y1="2070.5" x2="2339.0" y2="2106.5"/>
<line x1="277.8" y1="1994.8" x2="313.8" y2="1994.8"/>
<line x1="277.8" y1="1518.0" x2="313.8" y2="1518.0"/>
<line x1="277.8" y1="1041.2" x2="313.8" y2="1041.2"/>
<line x1="277.8" y1="564.4" x2="313.8" y2="564.4"/>
<line x1="277.8" y1="87.6" x2="313.8" y2="87.6"/>
</g>
<g font-size="57.6" fill="#000" text-anchor="middle">
<text x="497.0" y="2195">400</text>
<text x="804.0" y="2195">500</text>
<text x="1111.0" y="2195">600</text>
<text x="1418.0" y="2195">700</text>
<text x="1725.0" y="2195">800</text>
<text x="2032.0" y="2195">900</text>
<text x="2339.0" y="2195">1000</text>
<text transform="translate(231.5,1995.8) rotate(-90)">0</text>
<text transform="translate(231.5,1519.0) rotate(-90)">20</text>
<text transform="translate(231.5,1042.2) rotate(-90)">40</text>
<text transform="translate(231.5,565.4) rotate(-90)">60</text>
<text transform="translate(231.5,88.6) rotate(-90)">80</text>
</g>
<g font-size="85.3" fill="#000" text-anchor="middle">
<text x="1342" y="2329">Wavelength [nm]</text>
<text transform="translate(95.5,1040.5) rotate(-90)">Reflection [%]</text>
</g>
</svg>
</body></html>
